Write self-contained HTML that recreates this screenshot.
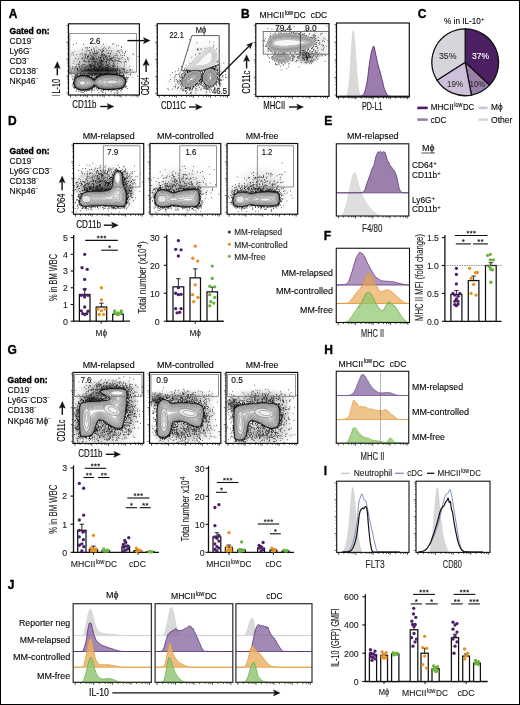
<!DOCTYPE html>
<html><head><meta charset="utf-8"><style>
html,body{margin:0;padding:0;background:#fff}
#fig{position:relative;width:518px;height:703px;border:1px solid #000;overflow:hidden;background:#fff}
svg{position:absolute;left:-1px;top:-1px;will-change:transform}
text{font-family:"Liberation Sans",sans-serif}
</style></head><body><div id="fig">
<svg width="520" height="705" viewBox="0 0 520 705">
<defs>
<filter id="bl1" x="-20%" y="-20%" width="140%" height="140%"><feGaussianBlur stdDeviation="1"/></filter>
<filter id="bl05" x="-20%" y="-20%" width="140%" height="140%"><feGaussianBlur stdDeviation=".5"/></filter>
<filter id="bl07" x="-20%" y="-20%" width="140%" height="140%"><feGaussianBlur stdDeviation=".7"/></filter>
<filter id="bl04" x="-20%" y="-20%" width="140%" height="140%"><feGaussianBlur stdDeviation=".4"/></filter>
<radialGradient id="gh"><stop offset="0" stop-color="#000" stop-opacity="1"/><stop offset=".3" stop-color="#000" stop-opacity=".76"/><stop offset=".5" stop-color="#000" stop-opacity=".47"/><stop offset=".7" stop-color="#000" stop-opacity=".23"/><stop offset=".85" stop-color="#000" stop-opacity=".08"/><stop offset="1" stop-color="#000" stop-opacity="0"/></radialGradient>
</defs>
<text x="8.7" y="17.6" font-size="12" font-weight="bold" fill="#000" stroke="#000" stroke-width=".35">A</text>
<text x="9.5" y="33.8" font-size="8.3" font-weight="bold" fill="#000" stroke="#000" stroke-width=".35" textLength="40" lengthAdjust="spacingAndGlyphs">Gated on:</text>
<text x="9.5" y="43.9" font-size="8.5" stroke="#111" stroke-width="0.12">CD19<tspan baseline-shift="4.3" font-size="4.8" fill="#555" stroke="#555">&#8722;</tspan></text>
<text x="9.5" y="53.9" font-size="8.5" stroke="#111" stroke-width="0.12">Ly6G<tspan baseline-shift="4.3" font-size="4.8" fill="#555" stroke="#555">&#8722;</tspan></text>
<text x="9.5" y="63.8" font-size="8.5" stroke="#111" stroke-width="0.12">CD3<tspan baseline-shift="4.3" font-size="4.8" fill="#555" stroke="#555">&#8722;</tspan></text>
<text x="9.5" y="73.9" font-size="8.5" stroke="#111" stroke-width="0.12">CD138<tspan baseline-shift="4.3" font-size="4.8" fill="#555" stroke="#555">&#8722;</tspan></text>
<text x="9.5" y="84" font-size="8.5" stroke="#111" stroke-width="0.12">NKp46<tspan baseline-shift="4.3" font-size="4.8" fill="#555" stroke="#555">&#8722;</tspan></text>
<clipPath id="cA1"><rect x="68.5" y="23.8" width="70.9" height="71.2"/></clipPath>
<g clip-path="url(#cA1)">
<ellipse cx="99" cy="71.5" rx="39" ry="7.8" fill="url(#gh)" fill-opacity="0.88"/>
<ellipse cx="99" cy="62" rx="36.4" ry="20.8" fill="url(#gh)" fill-opacity="0.48"/>
<path transform="scale(.25)" d="M362 171h3m-61 2h3m147 1h3m-125 3h3m78 0h3m33 0h3m-160 1h3m178 3h3m-12 2h3m-84 4h3m98 1h3m-2 0h3m-73 1h3m18 0h3m-82 1h3m-19 1h3m4 0h3m-5 1h3m23 0h3m58 1h3m-25 1h3m8 1h3m-50 1h3m-13 2h3m39 0h3m-82 1h3m63 0h3m86 0h3m-139 1h3m51 1h3m10 0h3m-66 1h3m9 0h3m46 0h3m23 0h3m-86 1h3m28 0h3m37 0h3m41 0h3m5 0h3m-105 1h3m-3 0h3m29 0h3m2 0h3m56 0h3m-177 1h3m107 0h3m33 0h3m40 0h3m11 1h3m-100 1h3m60 0h3m-127 1h3m40 0h3m112 0h3m-136 1h3m19 1h3m-106 1h3m1 0h3m65 0h3m-2 0h3m44 0h3m21 0h3m43 0h3m10 0h3m-118 1h3m-2 1h3m10 0h3m48 0h3m-117 1h3m46 0h3m2 0h3m49 0h3m61 0h3m-127 1h3m10 0h3m23 0h3m27 0h3m20 0h3m63 0h3m-176 1h3m26 0h3m-70 1h3m15 0h3m0 0h3m61 0h3m-103 1h3m64 0h3m35 0h3m-126 1h3m50 0h3m65 0h3m5 0h3m115 0h3m-243 1h3m32 0h3m13 0h3m19 0h3m13 0h3m31 0h3m61 0h3m-130 1h3m4 0h3m47 0h3m2 0h3m0 0h3m42 0h3m-89 1h3m78 0h3m28 0h3m4 0h3m-97 1h3m-1 0h3m17 0h3m42 0h3m-121 1h3m10 0h3m41 0h3m25 0h3m-98 1h3m75 0h3m11 0h3m2 0h3m-93 1h3m3 0h3m13 0h3m48 0h3m-1 0h3m125 0h3m-162 1h3m-27 1h3m11 0h3m-54 1h3m16 0h3m-3 0h3m19 0h3m29 0h3m5 0h3m12 0h3m22 0h3m0 0h3m-119 1h3m57 0h3m-2 0h3m9 0h3m-43 1h3m25 0h3m17 0h3m66 0h3m16 0h3m-162 1h3m11 0h3m3 0h3m3 0h3m21 0h3m12 0h3m26 0h3m1 0h3m1 0h3m8 0h3m50 0h3m-217 1h3m23 0h3m13 0h3m14 0h3m30 0h3m7 0h3m8 0h3m19 0h3m31 0h3m1 0h3m6 0h3m-116 1h3m12 0h3m37 0h3m15 0h3m0 0h3m-121 1h3m31 0h3m10 0h3m59 0h3m-129 1h3m23 0h3m32 0h3m9 0h3m41 0h3m7 0h3m34 0h3m31 0h3m-161 1h3m24 0h3m22 0h3m6 0h3m-53 1h3m2 0h3m-2 0h3m45 0h3m8 0h3m28 0h3m38 0h3m-128 1h3m-1 0h3m9 0h3m36 0h3m2 0h3m5 0h3m1 0h3m-92 1h3m11 0h3m24 0h3m44 0h3m66 0h3m-143 1h3m21 0h3m-1 0h3m46 0h3m9 0h3m-127 1h3m67 0h3m-3 0h3m2 0h3m15 0h3m6 0h3m27 0h3m-61 1h3m36 0h3m9 0h3m10 0h3m-181 1h3m36 0h3m21 0h3m33 0h3m3 0h3m-1 0h3m0 0h3m-2 0h3m-1 0h3m1 0h3m-34 1h3m-1 0h3m37 0h3m22 0h3m3 0h3m13 0h3m4 0h3m-135 1h3m4 0h3m0 0h3m7 0h3m13 0h3m23 0h3m-3 0h3m9 0h3m2 0h3m52 0h3m19 0h3m-187 1h3m17 0h3m2 0h3m29 0h3m-2 0h3m-1 0h3m4 0h3m69 0h3m-102 1h3m22 0h3m18 0h3m0 0h3m26 0h3m66 0h3m-138 1h3m2 0h3m2 0h3m12 0h3m5 0h3m1 0h3m26 0h3m45 0h3m11 0h3m-182 1h3m68 0h3m6 0h3m24 0h3m-13 1h3m-64 1h3m42 0h3m23 0h3m67 0h3m-207 1h3m75 0h3m80 0h3m-60 1h3m2 0h3m3 0h3m44 0h3m-92 1h3m9 0h3m3 0h3m4 0h3m45 0h3m29 0h3m-92 1h3m11 0h3m8 0h3m-1 0h3m-2 0h3m11 0h3m-114 1h3m0 0h3m-1 0h3m68 0h3m-1 0h3m66 0h3m-134 1h3m4 0h3m-2 0h3m17 0h3m2 0h3m11 0h3m16 0h3m9 0h3m22 0h3m-1 0h3m-78 1h3m3 0h3m13 0h3m23 0h3m3 0h3m84 0h3m-196 1h3m32 0h3m17 0h3m9 0h3m4 0h3m19 0h3m21 0h3m28 0h3m-95 1h3m2 0h3m27 0h3m10 0h3m6 0h3m26 0h3m-1 0h3m-181 1h3m92 0h3m-1 0h3m0 0h3m16 0h3m-1 0h3m28 0h3m0 0h3m-103 1h3m18 0h3m1 0h3m-1 0h3m0 0h3m0 0h3m34 0h3m-3 0h3m38 0h3m7 0h3m0 0h3m-143 1h3m9 0h3m19 0h3m58 0h3m20 0h3m-115 1h3m12 0h3m28 0h3m8 0h3m6 0h3m10 0h3m1 0h3m-1 0h3m46 0h3m-2 0h3m38 0h3m-196 1h3m58 0h3m10 0h3m14 0h3m40 0h3m20 0h3m6 0h3m-192 1h3m6 0h3m26 0h3m37 0h3m2 0h3m11 0h3m1 0h3m14 0h3m17 0h3m7 0h3m87 0h3m-204 1h3m25 0h3m-1 0h3m12 0h3m0 0h3m3 0h3m6 0h3m14 0h3m12 0h3m15 0h3m2 0h3m14 0h3m-153 1h3m20 0h3m13 0h3m12 0h3m13 0h3m3 0h3m-2 0h3m19 0h3m19 0h3m-90 1h3m46 0h3m7 0h3m1 0h3m0 0h3m4 0h3m-3 0h3m11 0h3m0 0h3m0 0h3m11 0h3m-151 1h3m65 0h3m17 0h3m-80 1h3m19 0h3m8 0h3m58 0h3m6 0h3m8 0h3m1 0h3m8 0h3m13 0h3m-166 1h3m18 0h3m64 0h3m11 0h3m6 0h3m5 0h3m0 0h3m3 0h3m16 0h3m16 0h3m13 0h3m18 0h3m-183 1h3m38 0h3m29 0h3m18 0h3m3 0h3m6 0h3m7 0h3m12 0h3m1 0h3m7 0h3m5 0h3m0 0h3m13 0h3m6 0h3m-218 1h3m5 0h3m8 0h3m9 0h3m51 0h3m8 0h3m12 0h3m13 0h3m11 0h3m9 0h3m1 0h3m-87 1h3m20 0h3m-3 0h3m-3 0h3m11 0h3m1 0h3m15 0h3m-2 0h3m13 0h3m0 0h3m35 0h3m-164 1h3m8 0h3m-2 0h3m12 0h3m13 0h3m12 0h3m5 0h3m0 0h3m7 0h3m-2 0h3m0 0h3m46 0h3m8 0h3m1 0h3m19 0h3m-171 1h3m23 0h3m14 0h3m-2 0h3m0 0h3m4 0h3m-3 0h3m24 0h3m13 0h3m40 0h3m6 0h3m0 0h3m-2 0h3m26 0h3m0 0h3m22 0h3m-196 1h3m13 0h3m13 0h3m1 0h3m17 0h3m7 0h3m12 0h3m-1 0h3m11 0h3m13 0h3m51 0h3m1 0h3m18 0h3m-223 1h3m43 0h3m-2 0h3m0 0h3m20 0h3m2 0h3m12 0h3m28 0h3m1 0h3m2 0h3m20 0h3m4 0h3m10 0h3m50 0h3m-190 1h3m4 0h3m9 0h3m4 0h3m10 0h3m1 0h3m4 0h3m12 0h3m10 0h3m-1 0h3m-1 0h3m0 0h3m-1 0h3m-1 0h3m-2 0h3m5 0h3m3 0h3m-3 0h3m3 0h3m10 0h3m1 0h3m49 0h3m-178 1h3m7 0h3m1 0h3m15 0h3m1 0h3m-2 0h3m23 0h3m1 0h3m5 0h3m17 0h3m-1 0h3m7 0h3m-2 0h3m5 0h3m-3 0h3m5 0h3m7 0h3m25 0h3m-232 1h3m4 0h3m21 0h3m22 0h3m13 0h3m49 0h3m14 0h3m4 0h3m2 0h3m4 0h3m38 0h3m-166 1h3m5 0h3m27 0h3m-1 0h3m27 0h3m5 0h3m1 0h3m-1 0h3m25 0h3m35 0h3m-144 1h3m2 0h3m10 0h3m-3 0h3m7 0h3m8 0h3m14 0h3m2 0h3m4 0h3m-1 0h3m2 0h3m0 0h3m1 0h3m-1 0h3m-2 0h3m-1 0h3m23 0h3m-3 0h3m2 0h3m6 0h3m2 0h3m2 0h3m-1 0h3m30 0h3m-170 1h3m-1 0h3m-2 0h3m2 0h3m19 0h3m7 0h3m2 0h3m2 0h3m-3 0h3m0 0h3m16 0h3m12 0h3m4 0h3m-2 0h3m-1 0h3m0 0h3m6 0h3m0 0h3m8 0h3m11 0h3m-103 1h3m0 0h3m13 0h3m1 0h3m9 0h3m-2 0h3m28 0h3m3 0h3m4 0h3m-2 0h3m-2 0h3m0 0h3m-3 0h3m7 0h3m14 0h3m-94 1h3m-3 0h3m6 0h3m0 0h3m7 0h3m10 0h3m5 0h3m-2 0h3m1 0h3m13 0h3m5 0h3m15 0h3m-198 1h3m34 0h3m2 0h3m6 0h3m20 0h3m1 0h3m3 0h3m2 0h3m22 0h3m3 0h3m17 0h3m0 0h3m1 0h3m25 0h3m-1 0h3m1 0h3m23 0h3m5 0h3m-178 1h3m28 0h3m9 0h3m1 0h3m18 0h3m-1 0h3m7 0h3m-3 0h3m-1 0h3m8 0h3m15 0h3m2 0h3m26 0h3m2 0h3m5 0h3m21 0h3m25 0h3m-259 1h3m-1 0h3m51 0h3m-2 0h3m19 0h3m-1 0h3m7 0h3m4 0h3m31 0h3m7 0h3m3 0h3m3 0h3m-3 0h3m5 0h3m2 0h3m0 0h3m-3 0h3m16 0h3m12 0h3m0 0h3m-3 0h3m23 0h3m-153 1h3m-2 0h3m11 0h3m3 0h3m-3 0h3m4 0h3m11 0h3m3 0h3m10 0h3m10 0h3m4 0h3m-159 1h3m7 0h3m9 0h3m10 0h3m30 0h3m4 0h3m4 0h3m2 0h3m2 0h3m15 0h3m6 0h3m6 0h3m6 0h3m-1 0h3m-3 0h3m1 0h3m-2 0h3m5 0h3m-2 0h3m8 0h3m13 0h3m-1 0h3m0 0h3m14 0h3m13 0h3m-218 1h3m95 0h3m0 0h3m7 0h3m19 0h3m-1 0h3m2 0h3m27 0h3m-1 0h3m5 0h3m5 0h3m-1 0h3m42 0h3m-247 1h3m27 0h3m8 0h3m0 0h3m11 0h3m-1 0h3m3 0h3m20 0h3m22 0h3m21 0h3m7 0h3m0 0h3m4 0h3m11 0h3m0 0h3m9 0h3m-3 0h3m-186 1h3m13 0h3m13 0h3m59 0h3m22 0h3m18 0h3m0 0h3m-3 0h3m0 0h3m8 0h3m1 0h3m1 0h3m15 0h3m1 0h3m-166 1h3m0 0h3m16 0h3m-1 0h3m3 0h3m8 0h3m15 0h3m9 0h3m1 0h3m-3 0h3m-1 0h3m10 0h3m2 0h3m9 0h3m5 0h3m23 0h3m-3 0h3m9 0h3m30 0h3m-2 0h3m-194 1h3m59 0h3m-2 0h3m-3 0h3m2 0h3m17 0h3m17 0h3m11 0h3m17 0h3m6 0h3m8 0h3m10 0h3m-157 1h3m0 0h3m51 0h3m17 0h3m-1 0h3m10 0h3m8 0h3m0 0h3m14 0h3m12 0h3m47 0h3m7 0h3m-224 1h3m22 0h3m21 0h3m2 0h3m-2 0h3m0 0h3m-1 0h3m36 0h3m0 0h3m-2 0h3m0 0h3m-3 0h3m11 0h3m2 0h3m1 0h3m-1 0h3m14 0h3m-1 0h3m-2 0h3m14 0h3m5 0h3m-2 0h3m0 0h3m36 0h3m-222 1h3m4 0h3m10 0h3m3 0h3m57 0h3m101 0h3m4 0h3m-197 1h3m25 0h3m3 0h3m-2 0h3m4 0h3m3 0h3m-2 0h3m13 0h3m3 0h3m17 0h3m2 0h3m1 0h3m81 0h3m0 0h3m-1 0h3m-189 1h3m-1 0h3m5 0h3m2 0h3m3 0h3m0 0h3m0 0h3m9 0h3m-1 0h3m28 0h3m6 0h3m5 0h3m0 0h3m0 0h3m88 0h3m-173 1h3m-1 0h3m-3 0h3m6 0h3m-2 0h3m6 0h3m1 0h3m2 0h3m9 0h3m23 0h3m84 0h3m2 0h3m-2 0h3m-3 0h3m-200 1h3m8 0h3m44 0h3m38 0h3m8 0h3m94 0h3m52 0h3m-204 1h3m0 0h3m3 0h3m26 0h3m-97 1h3m5 0h3m85 0h3m114 0h3m-207 1h3m-1 0h3m59 0h3m0 0h3m17 0h3m106 0h3m-199 1h3m62 0h3m11 0h3m4 0h3m-2 0h3m106 0h3m28 0h3m-232 1h3m62 0h3m9 0h3m3 0h3m0 0h3m1 0h3m101 0h3m-3 0h3m17 0h3m-211 1h3m60 0h3m124 0h3m-210 1h3m74 0h3m132 0h3m-2 0h3m1 0h3m-1 0h3m0 0h3m-3 0h3m-214 1h3m71 0h3m0 0h3m120 0h3m-3 0h3m-202 1h3m67 0h3m2 0h3m7 0h3m109 0h3m-210 2h3m3 0h3m81 0h3m115 0h3m-127 1h3m-6 1h3m6 0h3m117 0h3m2 0h3m-216 1h3m78 0h3m-1 0h3m-1 0h3m-2 0h3m-2 0h3m129 0h3m-10 2h3m-208 1h3m201 4h3m1 0h3m-214 2h3m-5 1h3m206 0h3m-3 1h3m-4 1h3m-211 1h3m204 1h3m-207 1h3m-7 1h3m-1 0h3m-9 1h3m4 0h3m0 2h3m75 2h3m-2 1h3m-89 1h3m3 0h3m81 0h3m114 0h3m-205 1h3m75 0h3m7 1h3m117 0h3m-220 1h3m5 0h3m80 0h3m4 0h3m112 0h3m-127 1h3m-3 0h3m120 0h3m-202 1h3m67 0h3m-2 0h3m120 0h3m-196 1h3m65 0h3m2 0h3m0 0h3m120 0h3m0 0h3m-210 1h3m1 0h3m1 0h3m70 0h3m7 0h3m-98 1h3m7 0h3m187 0h3m-191 1h3m60 0h3m1 0h3m109 0h3m9 0h3m-203 1h3m-1 0h3m66 0h3m13 0h3m8 0h3m-2 0h3m86 0h3m-188 1h3m8 0h3m48 0h3m31 0h3m-3 0h3m-3 0h3m1 0h3m-2 0h3m76 0h3m-122 1h3m4 0h3m-1 0h3m136 0h3m-154 1h3m10 0h3m13 0h3m3 0h3m14 0h3m41 0h3m15 0h3m2 0h3m3 0h3m-1 0h3m0 0h3m-2 0h3m-1 0h3m-180 1h3m47 0h3m28 0h3m49 0h3m26 0h3m-1 0h3m6 0h3m-182 1h3m6 0h3m3 0h3m25 0h3m4 0h3m7 0h3m7 0h3m15 0h3m21 0h3m-2 0h3m1 0h3m30 0h3m-148 1h3m2 0h3m-1 0h3m-2 0h3m0 0h3m-3 0h3m40 0h3m44 0h3m10 0h3m12 0h3m4 0h3m-1 0h3m20 0h3m11 0h3m-131 1h3m51 0h3m-3 0h3m5 0h3m6 0h3m2 0h3m-1 0h3m1 0h3m17 0h3m-158 1h3m12 0h3m3 0h3m6 0h3m1 0h3m13 0h3m11 0h3m42 0h3m29 0h3m0 0h3m6 0h3m-134 1h3m3 0h3m14 0h3m5 0h3m14 0h3m11 0h3m20 0h3m19 0h3m17 0h3m-116 1h3m-1 0h3m5 0h3m10 0h3m36 0h3m26 0h3m31 0h3m-1 0h3m9 0h3m-164 1h3m28 0h3m-40 1h3m-1 0h3m19 0h3m63 0h3m16 0h3m-100 1h3m10 0h3m4 0h3m95 0h3m-144 1h3m102 0h3m57 1h3m13 0h3m-120 1h3m74 0h3m-124 1h3m4 0h3m76 0h3m-78 1h3m58 0h3m17 0h3m46 0h3m5 1h3m-18 1h3m-38 2h3m45 0h3m-63 4h3" stroke="#111" stroke-width="3.2" fill="none"/>
<path d="M74.7 80.4L75.1 79.3L75.7 78.3L76.5 77.5L77.6 76.9L79.0 76.5L80.4 76.2L81.9 76.1L83.5 76.1L85.2 76.2L86.7 76.4L88.0 76.8L89.1 77.2L90.1 77.8L91.0 78.3L91.8 79.0L92.6 79.6L93.3 80.2L94.0 80.5L94.8 80.2L95.5 79.6L96.2 78.6L97.2 77.6L98.3 76.9L99.7 76.2L101.4 75.6L103.3 75.2L105.4 74.9L107.8 74.8L110.5 74.8L113.0 74.9L115.1 75.0L117.0 75.2L118.6 75.6L120.1 76.0L121.3 76.5L122.5 77.1L123.5 77.9L124.3 78.7L124.8 79.5L125.2 80.3L125.3 81.2L125.3 82.1L125.1 83.0L124.8 84.0L124.2 85.0L123.6 85.9L122.8 86.6L121.8 87.2L120.7 87.8L119.0 88.2L116.7 88.5L113.8 88.8L110.2 88.9L107.2 89.0L104.6 88.9L102.5 88.8L100.8 88.4L99.3 88.0L98.0 87.4L96.9 86.6L95.9 85.6L95.0 85.2L94.0 85.3L93.0 85.9L92.0 86.9L90.7 87.8L89.2 88.5L87.3 89.0L85.2 89.3L83.2 89.5L81.5 89.4L79.9 89.1L78.6 88.7L77.4 88.2L76.5 87.5L75.8 86.9L75.2 86.1L74.9 85.4L74.6 84.7L74.4 83.9L74.3 83.2L74.3 82.4L74.5 81.5Z" fill="none" stroke="#000" stroke-width="2" opacity="0.9" filter="url(#bl04)"/>
<path d="M74.7 80.4L75.1 79.3L75.7 78.3L76.5 77.5L77.6 76.9L79.0 76.5L80.4 76.2L81.9 76.1L83.5 76.1L85.2 76.2L86.7 76.4L88.0 76.8L89.1 77.2L90.1 77.8L91.0 78.3L91.8 79.0L92.6 79.6L93.3 80.2L94.0 80.5L94.8 80.2L95.5 79.6L96.2 78.6L97.2 77.6L98.3 76.9L99.7 76.2L101.4 75.6L103.3 75.2L105.4 74.9L107.8 74.8L110.5 74.8L113.0 74.9L115.1 75.0L117.0 75.2L118.6 75.6L120.1 76.0L121.3 76.5L122.5 77.1L123.5 77.9L124.3 78.7L124.8 79.5L125.2 80.3L125.3 81.2L125.3 82.1L125.1 83.0L124.8 84.0L124.2 85.0L123.6 85.9L122.8 86.6L121.8 87.2L120.7 87.8L119.0 88.2L116.7 88.5L113.8 88.8L110.2 88.9L107.2 89.0L104.6 88.9L102.5 88.8L100.8 88.4L99.3 88.0L98.0 87.4L96.9 86.6L95.9 85.6L95.0 85.2L94.0 85.3L93.0 85.9L92.0 86.9L90.7 87.8L89.2 88.5L87.3 89.0L85.2 89.3L83.2 89.5L81.5 89.4L79.9 89.1L78.6 88.7L77.4 88.2L76.5 87.5L75.8 86.9L75.2 86.1L74.9 85.4L74.6 84.7L74.4 83.9L74.3 83.2L74.3 82.4L74.5 81.5Z" fill="#9c9c9c" stroke="#1a1a1a" stroke-width="0.8"/>
<path d="M85.5 88.4L84.5 88.8L83.5 88.8L82.5 88.8L81.5 88.8L80.5 88.3L79.5 88.3L78.5 87.8L77.5 87.3L76.9 86.8L76.4 86.3L75.9 85.3L75.4 84.3L75.0 83.3L75.0 82.3L75.5 81.3L75.5 80.3L76.0 79.3L76.5 78.7L77.0 78.2L78.0 77.7L79.0 77.3L80.0 77.3L81.0 76.8L82.0 76.8L83.0 76.8L84.0 76.8L85.0 76.8L86.0 77.3L87.0 77.3L88.0 77.7L89.0 78.2L90.0 78.7L90.5 79.2L91.5 79.7L92.0 80.2L92.5 80.7L93.5 81.2L94.5 81.3L95.4 80.8L95.9 80.3L96.4 79.8L96.9 79.3L97.5 78.7L98.0 78.2L98.5 77.7L99.5 77.2L100.5 76.8L101.5 76.3L102.5 76.3L103.5 75.8L104.5 75.8L105.5 75.8L106.5 75.8L107.5 75.8L108.5 75.3L109.5 75.3L110.5 75.7L111.5 75.8L112.5 75.8L113.5 75.8L114.5 75.8L115.5 75.8L116.5 75.8L117.5 76.3L118.5 76.3L119.5 76.8L120.5 77.2L121.5 77.7L122.5 78.2L123.0 78.7L123.5 79.2L124.0 79.8L124.5 80.8L124.5 81.8L124.1 82.8L124.0 83.8L123.5 84.8L123.0 85.4L122.5 85.9L121.5 86.4L120.5 86.8L119.5 87.3L118.5 87.3L117.5 87.8L116.5 87.8L115.5 87.8L114.5 87.8L113.5 87.8L112.5 87.9L111.5 88.3L110.5 88.3L109.5 88.3L108.5 88.3L107.5 88.3L106.5 88.3L105.5 88.3L104.5 88.3L103.5 87.9L102.5 87.8L101.5 87.8L100.5 87.4L99.5 87.3L98.5 86.8L97.9 86.3L97.4 85.8L96.9 85.3L96.0 84.8L95.0 84.3L94.0 84.3L93.1 84.8L92.6 85.3L92.1 85.8L91.6 86.3L91.0 86.8L90.0 87.3L89.0 87.8L88.0 87.9L87.0 88.3L86.0 88.3Z" fill="#b2b2b2" stroke="#444" stroke-width=".55"/>
<path d="M85.5 87.4L84.5 87.8L83.5 87.8L82.5 87.8L81.5 87.6L80.5 87.3L79.5 87.1L78.9 86.8L78.0 86.4L77.5 86.0L77.0 85.4L76.7 84.8L76.4 84.3L76.0 83.3L76.2 82.3L76.5 81.3L76.7 80.3L77.0 79.7L77.5 79.1L78.0 78.7L79.0 78.3L80.0 78.3L81.0 78.0L82.0 77.8L83.0 77.8L84.0 77.8L85.0 78.0L86.0 78.3L87.0 78.3L88.0 78.7L88.5 79.0L89.1 79.3L89.7 79.8L90.5 80.2L91.0 80.6L91.5 81.1L92.0 81.5L92.6 81.8L93.5 82.2L94.5 82.3L95.5 82.0L96.0 81.6L96.5 81.1L97.0 80.6L97.5 80.1L98.0 79.5L98.5 79.1L99.0 78.6L99.5 78.2L100.5 77.8L101.5 77.5L102.5 77.3L103.5 77.0L104.5 76.8L105.5 76.8L106.5 76.8L107.5 76.8L108.5 76.5L109.5 76.3L110.5 76.7L111.5 76.8L112.5 76.8L113.5 76.8L114.5 76.8L115.5 76.8L116.5 77.0L117.5 77.3L118.5 77.5L119.5 77.8L120.5 78.2L121.0 78.5L121.6 78.8L122.2 79.3L122.7 79.8L123.1 80.3L123.5 81.3L123.3 82.3L123.0 83.3L122.6 84.3L122.2 84.8L121.6 85.3L121.0 85.6L120.0 85.9L119.0 86.3L118.0 86.4L117.0 86.8L116.0 86.8L115.0 86.8L114.0 86.8L113.0 86.8L112.0 87.1L111.0 87.3L110.0 87.3L109.0 87.3L108.0 87.3L107.0 87.3L106.0 87.3L105.0 87.3L104.0 87.1L103.0 86.8L102.0 86.8L101.0 86.6L100.0 86.3L99.0 85.9L98.5 85.5L98.0 85.0L97.5 84.5L97.0 84.1L96.4 83.8L95.5 83.4L94.5 83.3L93.5 83.4L92.7 83.8L92.2 84.3L91.7 84.8L91.2 85.3L90.6 85.8L90.0 86.1L89.5 86.4L88.5 86.8L87.5 87.1L86.5 87.3L85.5 87.4Z" fill="#c6c6c6" stroke="#555" stroke-width=".55"/>
<path d="M112.5 85.8L111.5 86.2L110.5 86.3L109.5 86.3L108.5 86.3L107.5 86.3L106.5 86.3L105.5 86.3L104.5 86.2L103.5 85.8L102.5 85.8L101.5 85.7L100.5 85.3L100.0 85.2L99.3 84.8L98.7 84.3L98.2 83.8L97.6 83.3L97.0 83.0L96.7 82.3L97.2 81.8L97.7 81.3L98.2 80.8L98.6 80.3L99.2 79.8L99.8 79.3L100.5 78.9L101.0 78.8L102.0 78.4L103.0 78.3L104.0 77.9L105.0 77.8L106.0 77.8L107.0 77.8L108.0 77.8L109.0 77.4L110.0 77.6L111.0 77.8L112.0 77.8L113.0 77.8L114.0 77.8L115.0 77.8L116.0 77.9L117.0 78.3L118.0 78.4L119.0 78.8L119.5 78.9L120.3 79.3L121.0 79.6L121.5 80.0L122.0 80.6L122.4 81.3L122.2 82.3L122.0 83.0L121.7 83.8L121.2 84.3L120.5 84.7L120.0 84.8L119.0 85.2L118.0 85.3L117.0 85.7L116.0 85.8L115.0 85.8L114.0 85.8L113.0 85.8ZM85.5 86.3L84.5 86.7L83.5 86.8L82.5 86.8L81.5 86.5L80.5 86.3L79.5 86.0L79.0 85.7L78.3 85.3L77.8 84.8L77.5 84.1L77.1 83.3L77.3 82.3L77.5 81.3L77.8 80.3L78.3 79.8L79.0 79.4L80.0 79.3L81.0 79.1L82.0 78.8L83.0 78.8L84.0 78.8L85.0 79.1L86.0 79.3L87.0 79.4L87.8 79.8L88.5 80.1L89.0 80.5L89.5 80.9L90.2 81.3L90.8 81.8L91.4 82.3L92.0 82.6L92.0 83.0L91.5 83.6L91.0 84.1L90.5 84.6L90.0 85.0L89.3 85.3L88.5 85.7L88.0 85.8L87.0 86.2L86.0 86.3Z" fill="#d8d8d8" stroke="#606060" stroke-width=".55"/>
<path d="M112.5 84.8L111.5 85.1L110.5 85.3L109.5 85.3L108.5 85.3L107.5 85.3L106.5 85.3L105.5 85.3L104.5 85.1L103.5 84.8L102.5 84.8L101.5 84.6L100.5 84.3L100.0 84.1L99.5 83.7L99.0 83.2L98.5 82.7L98.5 81.9L99.0 81.4L99.5 80.9L100.0 80.4L100.5 80.0L101.0 79.8L102.0 79.5L103.0 79.3L104.0 79.0L105.0 78.8L106.0 78.8L107.0 78.8L108.0 78.8L109.0 78.5L110.0 78.7L111.0 78.8L112.0 78.8L113.0 78.8L114.0 78.8L115.0 78.8L116.0 79.0L117.0 79.3L118.0 79.5L119.0 79.8L119.5 80.0L120.1 80.3L120.9 80.8L121.3 81.3L121.1 82.3L121.0 82.9L120.5 83.6L120.0 83.8L119.0 84.1L118.0 84.3L117.0 84.6L116.0 84.8L115.0 84.8L114.0 84.8L113.0 84.8ZM85.5 85.3L84.5 85.6L83.5 85.8L82.5 85.8L81.5 85.4L80.5 85.3L79.5 84.8L79.0 84.6L78.5 83.9L78.2 83.3L78.4 82.3L78.5 81.3L79.0 80.5L80.0 80.3L81.0 80.2L82.0 79.8L83.0 79.8L84.0 79.8L85.0 80.2L86.0 80.3L87.0 80.5L87.6 80.8L88.4 81.3L89.0 81.8L89.5 82.0L90.0 82.4L90.4 83.3L89.9 83.8L89.1 84.3L88.5 84.6L88.0 84.8L87.0 85.1L86.0 85.3Z" fill="#e6e6e6" stroke="#6a6a6a" stroke-width=".55"/>
<path d="M112.5 83.8L111.5 84.0L110.5 84.3L109.5 84.3L108.5 84.3L107.5 84.3L106.5 84.3L105.5 84.3L104.5 84.0L103.5 83.8L102.5 83.8L101.5 83.5L100.7 83.3L100.1 82.8L99.6 82.3L100.5 81.4L101.0 80.9L101.5 80.7L102.5 80.4L103.0 80.3L104.0 80.1L105.0 79.8L106.0 79.8L107.0 79.8L108.0 79.8L109.0 79.6L110.0 79.7L111.0 79.8L112.0 79.8L113.0 79.8L114.0 79.8L115.0 79.8L116.0 80.1L117.0 80.3L117.5 80.4L118.5 80.7L119.0 80.9L119.8 81.3L120.2 81.8L120.0 82.6L119.5 82.9L118.5 83.2L118.0 83.3L117.0 83.5L116.0 83.8L115.0 83.8L114.0 83.8L113.0 83.8ZM85.5 84.3L84.5 84.5L83.5 84.8L82.5 84.7L81.5 84.4L80.9 84.3L80.0 84.0L79.5 83.6L79.3 82.8L79.5 81.8L80.0 81.3L81.0 81.2L82.0 80.9L83.0 80.8L84.0 80.9L85.0 81.2L86.0 81.3L87.0 81.6L87.5 81.9L88.5 82.6L88.8 83.3L88.0 83.7L87.5 83.9L86.5 84.2L85.5 84.3Z" fill="#f0f0f0" stroke="#777" stroke-width=".55"/>
<path d="M112.5 82.8L111.5 83.0L110.5 83.3L109.5 83.3L108.5 83.3L107.5 83.3L106.5 83.3L105.5 83.3L104.5 83.0L103.5 82.8L102.5 82.8L101.5 82.5L101.0 82.3L101.5 81.8L102.0 81.6L102.9 81.3L103.5 81.2L104.5 81.0L105.5 80.8L106.5 80.8L107.5 80.8L108.5 80.7L109.5 80.6L110.5 80.8L111.5 80.8L112.5 80.8L113.5 80.8L114.5 80.8L115.5 81.0L116.5 81.2L117.1 81.3L118.0 81.6L118.6 81.8L118.1 82.3L117.5 82.4L116.5 82.6L115.5 82.8L114.5 82.8L113.5 82.8L112.5 82.8ZM85.5 83.3L84.5 83.5L83.5 83.8L82.5 83.6L81.5 83.4L80.9 83.3L80.3 82.8L80.5 82.3L81.5 82.1L82.5 81.8L83.5 81.8L84.5 82.1L85.5 82.3L86.5 82.5L87.0 82.8L86.5 83.1L85.5 83.3Z" fill="#f6f6f6" stroke="#777" stroke-width=".55"/>
<ellipse cx="82.5" cy="83" rx="3.2" ry="2.2" fill="#e6e6e6" stroke="#666" stroke-width=".5"/>
<ellipse cx="112" cy="82" rx="6" ry="2" fill="#e0e0e0" stroke="#666" stroke-width=".5"/>
</g>
<path d="M68.5 93h-2.2M68.5 87.91h-1.2M68.5 82.82h-1.2M68.5 79.84h-1.2M68.5 77.73h-1.2M68.5 76.09h-2.2M68.5 71h-1.2M68.5 65.91h-1.2M68.5 62.93h-1.2M68.5 60.82h-1.2M68.5 59.18h-2.2M68.5 54.09h-1.2M68.5 49h-1.2M68.5 46.02h-1.2M68.5 43.91h-1.2M68.5 42.27h-2.2M68.5 37.18h-1.2M68.5 32.09h-1.2M68.5 29.11h-1.2M68.5 27h-1.2M68.5 25.36h-2.2" stroke="#111" stroke-width=".6" fill="none"/>
<path d="M70.5 95v2.4M75.57 95v1.5M80.64 95v1.5M83.6 95v1.5M85.71 95v1.5M87.34 95v2.4M92.41 95v1.5M97.48 95v1.5M100.44 95v1.5M102.55 95v1.5M104.18 95v2.4M109.25 95v1.5M114.32 95v1.5M117.28 95v1.5M119.38 95v1.5M121.02 95v2.4M126.09 95v1.5M131.15 95v1.5M134.12 95v1.5M136.22 95v1.5M137.86 95v2.4" stroke="#111" stroke-width=".75" fill="none"/>
<rect x="68.5" y="23.8" width="70.9" height="71.2" fill="none" stroke="#111" stroke-width="1.2"/>
<rect x="69.8" y="33.5" width="66.7" height="38.6" fill="none" stroke="#777" stroke-width="0.8"/>
<text x="89.4" y="44.2" font-size="8.3" stroke="#111" stroke-width="0.12" textLength="11" lengthAdjust="spacingAndGlyphs">2.6</text>
<line x1="127.4" y1="40.6" x2="144.6" y2="40.6" stroke="#111" stroke-width="1.4"/>
<path d="M150.2 40.6L143.4 43.7L144.6 40.6L143.4 37.5Z" fill="#111" stroke="#111" stroke-width=".3" stroke-linejoin="round"/>
<text x="59.8" y="96" font-size="10.2" stroke="#111" stroke-width="0.12" textLength="1.6" lengthAdjust="spacingAndGlyphs" transform="rotate(-90 59.8 96)">I</text>
<text x="59.8" y="93.6" font-size="10.2" stroke="#111" stroke-width="0.12" textLength="14.8" lengthAdjust="spacingAndGlyphs" transform="rotate(-90 59.8 93.6)">L-10</text>
<line x1="57.3" y1="75.2" x2="57.3" y2="67.2" stroke="#111" stroke-width="1.4"/>
<path d="M57.3 61.6L60.4 68.4L57.3 67.2L54.2 68.4Z" fill="#111" stroke="#111" stroke-width=".3" stroke-linejoin="round"/>
<text x="72.2" y="107.8" font-size="10.2" stroke="#111" stroke-width="0.12" textLength="24.2" lengthAdjust="spacingAndGlyphs">CD11b</text>
<line x1="100.2" y1="106.5" x2="108.4" y2="106.5" stroke="#111" stroke-width="1.4"/>
<path d="M114 106.5L107.2 109.6L108.4 106.5L107.2 103.4Z" fill="#111" stroke="#111" stroke-width=".3" stroke-linejoin="round"/>
<clipPath id="cA2"><rect x="157.3" y="23.7" width="71.7" height="71.7"/></clipPath>
<g clip-path="url(#cA2)">
<ellipse cx="205" cy="58" rx="26" ry="23.4" fill="url(#gh)" fill-opacity="0.08"/>
<ellipse cx="192" cy="84" rx="31.2" ry="15.6" fill="url(#gh)" fill-opacity="0.1"/>
<path transform="scale(.25)" d="M756 159h3m77 9h3m15 1h3m-71 2h3m65 9h3m-5 7h3m-37 6h3m-31 1h3m10 1h3m58 1h3m-79 2h3m11 0h3m111 0h3m-130 1h3m0 0h3m-45 1h3m123 3h3m-49 2h3m7 3h3m-20 4h3m-28 2h3m-3 0h3m39 1h3m-15 3h3m-51 1h3m56 3h3m-35 2h3m35 3h3m-6 2h3m-79 1h3m55 0h3m11 1h3m2 0h3m-50 1h3m15 0h3m2 0h3m-11 3h3m-10 1h3m-23 1h3m65 1h3m2 1h3m-30 1h3m41 0h3m-46 3h3m11 0h3m-68 1h3m8 0h3m42 0h3m-60 2h3m57 1h3m25 0h3m0 0h3m-6 1h3m-101 1h3m61 0h3m-49 1h3m41 0h3m60 2h3m-139 1h3m57 0h3m8 0h3m-3 0h3m18 0h3m-42 1h3m15 0h3m44 0h3m-80 2h3m35 0h3m9 1h3m-17 1h3m-37 1h3m27 0h3m8 0h3m-102 2h3m45 0h3m41 0h3m0 0h3m4 0h3m26 0h3m-61 1h3m-3 0h3m25 0h3m13 0h3m-88 1h3m45 0h3m20 0h3m-77 1h3m48 1h3m22 0h3m-78 1h3m86 0h3m-140 1h3m65 0h3m6 0h3m5 0h3m22 0h3m-1 0h3m21 0h3m-137 1h3m33 0h3m17 0h3m8 0h3m3 0h3m26 0h3m21 0h3m2 0h3m5 0h3m6 0h3m-126 1h3m15 0h3m34 0h3m0 0h3m5 0h3m19 0h3m-90 1h3m42 0h3m46 0h3m-1 0h3m11 0h3m-56 1h3m0 0h3m27 0h3m25 0h3m-133 1h3m15 0h3m3 0h3m4 0h3m-2 0h3m28 0h3m11 0h3m24 0h3m-2 0h3m3 0h3m4 0h3m49 0h3m-64 1h3m0 0h3m11 0h3m8 0h3m-108 1h3m0 0h3m33 0h3m9 0h3m11 0h3m2 0h3m1 0h3m-1 0h3m0 0h3m2 0h3m-148 1h3m22 0h3m14 0h3m10 0h3m26 0h3m23 0h3m-3 0h3m20 0h3m5 0h3m5 0h3m-2 0h3m-67 1h3m10 0h3m-2 0h3m12 0h3m25 0h3m3 0h3m-81 1h3m-2 0h3m2 0h3m26 0h3m10 0h3m22 0h3m-1 0h3m7 0h3m-122 1h3m15 0h3m1 0h3m6 0h3m-1 0h3m-2 0h3m24 0h3m12 0h3m2 0h3m41 0h3m-132 1h3m2 0h3m22 0h3m4 0h3m-3 0h3m14 0h3m10 0h3m5 0h3m-1 0h3m33 0h3m-138 1h3m10 0h3m43 0h3m20 0h3m2 0h3m9 0h3m32 0h3m6 0h3m1 0h3m-128 1h3m0 0h3m21 0h3m-2 0h3m10 0h3m-2 0h3m5 0h3m14 0h3m42 0h3m-2 0h3m3 0h3m-1 0h3m-123 1h3m3 0h3m-2 0h3m-3 0h3m0 0h3m12 0h3m3 0h3m-3 0h3m4 0h3m6 0h3m7 0h3m11 0h3m37 0h3m11 0h3m-163 1h3m155 0h3m3 0h3m-137 1h3m12 0h3m35 0h3m-2 0h3m-1 0h3m-1 0h3m1 0h3m53 0h3m-101 1h3m-3 0h3m31 0h3m6 0h3m11 0h3m-2 0h3m-3 0h3m60 0h3m-142 1h3m4 0h3m3 0h3m6 0h3m31 0h3m14 0h3m49 0h3m29 0h3m-203 1h3m30 0h3m-1 0h3m11 0h3m4 0h3m-1 0h3m-3 0h3m-40 1h3m23 0h3m-1 0h3m-2 0h3m-3 0h3m1 0h3m-1 0h3m104 0h3m-120 1h3m-1 0h3m-2 0h3m-2 0h3m48 0h3m13 0h3m54 0h3m-189 1h3m46 0h3m68 0h3m4 0h3m52 0h3m14 0h3m-73 1h3m55 0h3m-11 1h3m5 0h3m-160 1h3m12 0h3m2 0h3m1 0h3m69 0h3m-77 1h3m69 0h3m-86 1h3m79 0h3m54 0h3m-156 1h3m86 0h3m-1 0h3m6 0h3m51 0h3m1 0h3m-149 1h3m73 0h3m2 0h3m3 0h3m-3 0h3m-113 1h3m4 0h3m12 0h3m12 0h3m126 0h3m6 0h3m-146 1h3m-1 0h3m126 0h3m4 0h3m23 0h3m-224 1h3m18 0h3m28 0h3m79 0h3m-92 1h3m83 0h3m-78 1h3m69 0h3m80 0h3m-177 1h3m17 0h3m67 0h3m3 0h3m-3 0h3m-9 1h3m66 0h3m11 0h3m-174 1h3m16 0h3m-13 1h3m8 0h3m62 0h3m-1 0h3m-1 0h3m0 0h3m-114 1h3m24 0h3m76 0h3m106 0h3m-199 1h3m12 0h3m136 0h3m11 0h3m2 0h3m-85 1h3m57 0h3m29 0h3m-174 1h3m73 0h3m-2 0h3m59 0h3m31 0h3m-211 1h3m25 0h3m1 0h3m-3 0h3m-10 1h3m85 0h3m0 0h3m-85 1h3m2 0h3m131 0h3m-141 1h3m74 0h3m56 0h3m9 0h3m-77 1h3m0 0h3m62 0h3m-144 1h3m66 0h3m1 0h3m67 0h3m1 0h3m-80 1h3m-1 0h3m60 0h3m-189 1h3m116 0h3m-2 0h3m-2 0h3m1 0h3m1 0h3m55 0h3m4 0h3m6 0h3m-188 1h3m3 0h3m19 0h3m72 0h3m87 0h3m-177 1h3m7 0h3m143 0h3m-2 0h3m-1 0h3m-2 0h3m-1 0h3m-161 2h3m5 0h3m63 0h3m-1 0h3m-2 0h3m6 0h3m75 0h3m-179 1h3m84 0h3m4 0h3m2 0h3m-2 0h3m61 0h3m5 0h3m-164 1h3m5 0h3m75 0h3m56 0h3m-193 1h3m18 0h3m15 0h3m10 0h3m65 0h3m71 0h3m-151 1h3m85 0h3m-88 1h3m73 0h3m9 0h3m-1 0h3m50 0h3m7 0h3m-171 1h3m-3 0h3m5 0h3m75 0h3m-1 0h3m1 0h3m11 0h3m47 0h3m-3 0h3m3 0h3m3 0h3m-65 1h3m-17 1h3m59 0h3m-5 1h3m10 0h3m-71 1h3m-90 1h3m2 0h3m62 0h3m-2 0h3m23 0h3m-1 0h3m-2 0h3m39 0h3m9 0h3m2 0h3m-1 0h3m-157 1h3m60 0h3m26 0h3m-109 1h3m70 0h3m-3 0h3m7 0h3m-2 0h3m23 0h3m34 0h3m-78 1h3m16 0h3m7 0h3m4 0h3m1 0h3m28 0h3m-1 0h3m4 0h3m10 0h3m-152 1h3m60 0h3m21 0h3m45 0h3m-3 0h3m16 0h3m-183 1h3m75 0h3m3 0h3m11 0h3m17 0h3m-1 0h3m-103 1h3m-3 0h3m54 0h3m1 0h3m35 0h3m-3 0h3m28 0h3m-6 1h3m5 0h3m-131 1h3m49 0h3m8 0h3m-3 0h3m30 0h3m0 0h3m-1 0h3m-53 1h3m-2 0h3m31 0h3m4 0h3m12 0h3m13 0h3m-48 1h3m20 0h3m19 0h3m8 0h3m14 0h3m-111 1h3m49 0h3m4 0h3m-134 1h3m21 0h3m5 0h3m36 0h3m73 0h3m0 0h3m-159 1h3m88 0h3m31 0h3m2 0h3m13 0h3m-2 0h3m1 0h3m-73 1h3m37 0h3m7 0h3m7 0h3m-128 1h3m26 0h3m2 0h3m2 0h3m7 0h3m5 0h3m0 0h3m-1 0h3m56 0h3m-92 1h3m2 0h3m0 0h3m43 0h3m27 0h3m5 0h3m0 0h3m17 0h3m10 0h3m-161 1h3m26 0h3m5 0h3m9 0h3m80 0h3m10 0h3m-161 1h3m51 0h3m-2 0h3m62 0h3m2 0h3m7 0h3m-113 1h3m-1 0h3m12 0h3m-2 0h3m14 0h3m5 0h3m10 0h3m47 0h3m-100 1h3m2 0h3m72 0h3m60 0h3m-210 1h3m35 0h3m28 0h3m-1 0h3m0 0h3m-2 0h3m7 0h3m2 0h3m4 0h3m-2 0h3m12 0h3m83 0h3m-150 1h3m25 0h3m4 0h3m54 0h3m8 0h3m0 0h3m-71 1h3m40 0h3m17 0h3m23 0h3m12 0h3m-179 1h3m58 0h3m6 1h3m-32 1h3m37 0h3m30 0h3m-131 1h3m55 0h3m22 0h3m5 0h3m19 0h3m54 0h3m-117 1h3m6 0h3m17 0h3m18 0h3m75 0h3m7 0h3m-137 2h3m7 0h3m97 0h3m-11 1h3m-99 1h3m-1 0h3m78 2h3m-1 2h3m11 0h3m-96 1h3m14 0h3m-4 2h3m-2 0h3m16 0h3m-41 2h3m11 0h3m106 2h3m6 2h3m-116 2h3m55 0h3m-43 2h3" stroke="#111" stroke-width="3.2" fill="none"/>
<path d="M200.3 72.7L200.5 73.1L200.6 73.5L200.7 74.0L200.8 74.4L200.9 74.9L200.8 75.4L200.8 75.9L200.7 76.4L200.6 77.0L200.4 77.5L200.2 78.1L200.0 78.6L199.7 79.2L199.4 79.7L199.0 80.2L198.7 80.8L198.2 81.3L197.8 81.8L197.3 82.3L196.9 82.8L196.3 83.3L195.8 83.7L195.3 84.2L194.7 84.6L194.1 85.0L193.5 85.3L192.9 85.7L192.3 86.0L191.7 86.2L191.1 86.5L190.5 86.7L189.9 86.8L189.3 87.0L188.7 87.1L188.1 87.1L187.5 87.2L187.0 87.2L186.5 87.1L186.0 87.0L185.5 86.9L185.0 86.8L184.6 86.6L184.2 86.4L183.8 86.1L183.5 85.9L183.2 85.6L182.9 85.2L182.7 84.9L182.5 84.5L182.4 84.1L182.3 83.6L182.2 83.2L182.1 82.7L182.2 82.2L182.2 81.7L182.3 81.2L182.4 80.6L182.6 80.1L182.8 79.5L183.0 79.0L183.3 78.4L183.6 77.9L184.0 77.4L184.3 76.8L184.8 76.3L185.2 75.8L185.7 75.3L186.1 74.8L186.7 74.3L187.2 73.9L187.7 73.4L188.3 73.0L188.9 72.6L189.5 72.3L190.1 71.9L190.7 71.6L191.3 71.4L191.9 71.1L192.5 70.9L193.1 70.8L193.7 70.6L194.3 70.5L194.9 70.5L195.5 70.4L196.0 70.4L196.5 70.5L197.0 70.6L197.5 70.7L198.0 70.8L198.4 71.0L198.8 71.2L199.2 71.5L199.5 71.7L199.8 72.0L200.1 72.4ZM216.7 79.0L216.6 79.5L216.4 80.0L216.2 80.5L216.0 81.0L215.8 81.5L215.5 81.9L215.2 82.4L214.9 82.8L214.6 83.2L214.2 83.5L213.9 83.9L213.5 84.2L213.1 84.5L212.6 84.7L212.2 84.9L211.8 85.1L211.3 85.3L210.9 85.4L210.4 85.5L210.0 85.5L209.5 85.5L209.1 85.5L208.6 85.4L208.2 85.3L207.7 85.2L207.3 85.0L206.9 84.8L206.5 84.6L206.1 84.3L205.7 84.0L205.4 83.7L205.1 83.3L204.7 83.0L204.5 82.6L204.2 82.1L203.9 81.7L203.7 81.2L203.5 80.7L203.4 80.2L203.3 79.7L203.2 79.2L203.1 78.7L203.0 78.1L203.0 77.6L203.0 77.0L203.1 76.5L203.2 76.0L203.3 75.4L203.4 74.9L203.6 74.4L203.8 73.9L204.0 73.4L204.2 72.9L204.5 72.5L204.8 72.0L205.1 71.6L205.4 71.2L205.8 70.9L206.1 70.5L206.5 70.2L206.9 69.9L207.4 69.7L207.8 69.5L208.2 69.3L208.7 69.1L209.1 69.0L209.6 68.9L210.0 68.9L210.5 68.9L210.9 68.9L211.4 69.0L211.8 69.1L212.3 69.2L212.7 69.4L213.1 69.6L213.5 69.8L213.9 70.1L214.3 70.4L214.6 70.7L214.9 71.1L215.3 71.4L215.5 71.8L215.8 72.3L216.1 72.7L216.3 73.2L216.5 73.7L216.6 74.2L216.7 74.7L216.8 75.2L216.9 75.7L217.0 76.3L217.0 76.8L217.0 77.4L216.9 77.9L216.8 78.4Z" fill="none" stroke="#000" stroke-width="1" opacity="0.35" filter="url(#bl04)"/>
<path d="M200.3 72.7L200.5 73.1L200.6 73.5L200.7 74.0L200.8 74.4L200.9 74.9L200.8 75.4L200.8 75.9L200.7 76.4L200.6 77.0L200.4 77.5L200.2 78.1L200.0 78.6L199.7 79.2L199.4 79.7L199.0 80.2L198.7 80.8L198.2 81.3L197.8 81.8L197.3 82.3L196.9 82.8L196.3 83.3L195.8 83.7L195.3 84.2L194.7 84.6L194.1 85.0L193.5 85.3L192.9 85.7L192.3 86.0L191.7 86.2L191.1 86.5L190.5 86.7L189.9 86.8L189.3 87.0L188.7 87.1L188.1 87.1L187.5 87.2L187.0 87.2L186.5 87.1L186.0 87.0L185.5 86.9L185.0 86.8L184.6 86.6L184.2 86.4L183.8 86.1L183.5 85.9L183.2 85.6L182.9 85.2L182.7 84.9L182.5 84.5L182.4 84.1L182.3 83.6L182.2 83.2L182.1 82.7L182.2 82.2L182.2 81.7L182.3 81.2L182.4 80.6L182.6 80.1L182.8 79.5L183.0 79.0L183.3 78.4L183.6 77.9L184.0 77.4L184.3 76.8L184.8 76.3L185.2 75.8L185.7 75.3L186.1 74.8L186.7 74.3L187.2 73.9L187.7 73.4L188.3 73.0L188.9 72.6L189.5 72.3L190.1 71.9L190.7 71.6L191.3 71.4L191.9 71.1L192.5 70.9L193.1 70.8L193.7 70.6L194.3 70.5L194.9 70.5L195.5 70.4L196.0 70.4L196.5 70.5L197.0 70.6L197.5 70.7L198.0 70.8L198.4 71.0L198.8 71.2L199.2 71.5L199.5 71.7L199.8 72.0L200.1 72.4ZM216.7 79.0L216.6 79.5L216.4 80.0L216.2 80.5L216.0 81.0L215.8 81.5L215.5 81.9L215.2 82.4L214.9 82.8L214.6 83.2L214.2 83.5L213.9 83.9L213.5 84.2L213.1 84.5L212.6 84.7L212.2 84.9L211.8 85.1L211.3 85.3L210.9 85.4L210.4 85.5L210.0 85.5L209.5 85.5L209.1 85.5L208.6 85.4L208.2 85.3L207.7 85.2L207.3 85.0L206.9 84.8L206.5 84.6L206.1 84.3L205.7 84.0L205.4 83.7L205.1 83.3L204.7 83.0L204.5 82.6L204.2 82.1L203.9 81.7L203.7 81.2L203.5 80.7L203.4 80.2L203.3 79.7L203.2 79.2L203.1 78.7L203.0 78.1L203.0 77.6L203.0 77.0L203.1 76.5L203.2 76.0L203.3 75.4L203.4 74.9L203.6 74.4L203.8 73.9L204.0 73.4L204.2 72.9L204.5 72.5L204.8 72.0L205.1 71.6L205.4 71.2L205.8 70.9L206.1 70.5L206.5 70.2L206.9 69.9L207.4 69.7L207.8 69.5L208.2 69.3L208.7 69.1L209.1 69.0L209.6 68.9L210.0 68.9L210.5 68.9L210.9 68.9L211.4 69.0L211.8 69.1L212.3 69.2L212.7 69.4L213.1 69.6L213.5 69.8L213.9 70.1L214.3 70.4L214.6 70.7L214.9 71.1L215.3 71.4L215.5 71.8L215.8 72.3L216.1 72.7L216.3 73.2L216.5 73.7L216.6 74.2L216.7 74.7L216.8 75.2L216.9 75.7L217.0 76.3L217.0 76.8L217.0 77.4L216.9 77.9L216.8 78.4Z" fill="#cfcfcf" stroke="#555" stroke-width="0.6"/>
<path d="M211.3 84.3L210.3 84.7L209.3 84.7L208.3 84.7L207.3 84.2L206.7 83.7L206.2 83.2L205.7 82.7L205.2 82.2L204.7 81.2L204.3 80.2L203.8 79.2L203.8 78.2L203.8 77.2L203.8 76.2L204.3 75.2L204.7 74.2L205.2 73.2L205.7 72.2L206.2 71.7L206.7 71.2L207.3 70.7L208.3 70.2L209.3 69.7L210.3 69.7L211.3 69.7L212.3 70.2L213.3 70.6L213.8 71.1L214.3 71.6L214.8 72.2L215.3 73.2L215.8 74.2L215.9 75.2L216.3 76.2L216.3 77.2L215.9 78.2L215.8 79.2L215.4 80.2L214.9 81.2L214.4 82.2L213.9 82.7L213.4 83.2L212.8 83.7L211.8 84.2ZM190.3 85.8L189.3 86.2L188.3 86.2L187.3 86.2L186.3 86.2L185.3 85.8L184.3 85.3L183.8 84.8L183.3 84.2L182.8 83.2L182.8 82.2L183.2 81.2L183.3 80.2L183.8 79.2L184.3 78.2L184.8 77.6L185.3 77.1L185.8 76.2L186.3 75.6L186.8 75.1L187.8 74.6L188.3 74.1L189.3 73.6L189.8 73.1L190.8 72.6L191.8 72.1L192.8 71.7L193.8 71.6L194.8 71.2L195.8 71.2L196.8 71.2L197.8 71.7L198.8 72.2L199.4 73.2L199.8 74.2L200.3 75.2L199.8 76.2L199.8 77.2L199.3 78.2L198.8 79.2L198.3 79.8L197.8 80.7L197.3 81.3L196.8 81.8L196.3 82.3L195.8 82.8L194.8 83.3L194.3 83.8L193.3 84.3L192.8 84.8L191.8 85.2L190.8 85.7Z" fill="#c4c4c4" stroke="#777" stroke-width=".55"/>
<path d="M211.3 83.3L210.3 83.7L209.3 83.7L208.3 83.5L207.7 83.2L207.1 82.7L206.6 82.2L206.1 81.7L205.7 81.2L205.3 80.2L205.0 79.2L204.8 78.2L204.8 77.2L205.0 76.2L205.3 75.2L205.7 74.2L206.0 73.7L206.3 73.1L206.8 72.5L207.3 72.0L207.8 71.6L208.7 71.2L209.3 70.9L210.3 70.7L211.3 70.9L212.3 71.2L213.0 71.7L213.5 72.2L213.9 72.7L214.3 73.6L214.6 74.2L214.9 75.2L215.3 76.2L215.3 77.2L214.9 78.2L214.8 79.2L214.4 80.2L214.1 80.7L213.8 81.3L213.3 81.9L212.8 82.4L212.3 82.8L211.4 83.2ZM190.3 84.8L189.3 85.2L188.3 85.2L187.3 85.2L186.3 85.2L185.3 84.8L184.8 84.4L184.3 83.8L184.0 83.2L183.8 82.2L184.2 81.2L184.5 80.2L184.8 79.6L185.2 78.7L185.6 78.2L186.1 77.7L186.5 77.2L186.8 76.6L187.3 76.0L187.8 75.6L188.6 75.2L189.2 74.7L189.8 74.4L190.3 74.0L190.8 73.6L191.7 73.2L192.3 72.9L193.3 72.7L194.3 72.4L195.3 72.2L196.3 72.2L197.3 72.6L197.8 72.9L198.4 73.2L198.8 74.2L199.1 75.2L198.8 76.2L198.6 77.2L198.3 77.8L197.9 78.7L197.5 79.2L197.1 79.7L196.8 80.3L196.3 80.9L195.8 81.4L195.3 81.9L194.8 82.3L194.0 82.7L193.4 83.2L192.8 83.5L192.3 83.9L191.3 84.3L190.4 84.7Z" fill="#bdbdbd" stroke="#666" stroke-width=".55"/>
<path d="M210.8 82.4L209.8 82.7L208.8 82.6L208.1 82.2L207.5 81.7L207.0 81.2L206.6 80.7L206.3 79.9L206.1 79.2L205.8 78.2L205.8 77.2L206.1 76.2L206.3 75.5L206.6 74.7L206.9 74.2L207.3 73.5L207.8 72.9L208.3 72.5L209.0 72.2L209.8 71.8L210.8 71.8L211.8 72.2L212.3 72.4L212.8 73.0L213.2 73.7L213.5 74.2L213.8 75.0L214.0 75.7L214.3 76.7L214.0 77.7L213.8 78.7L213.5 79.7L213.2 80.2L212.8 80.9L212.3 81.5L211.8 81.9L211.1 82.2ZM189.8 83.9L188.8 84.2L187.8 84.2L186.8 84.2L185.8 83.9L185.3 83.4L184.9 82.7L185.1 81.7L185.3 81.0L185.6 80.2L185.9 79.7L186.3 79.0L186.8 78.4L187.3 77.8L187.6 77.2L188.1 76.7L188.8 76.3L189.3 75.9L189.8 75.5L190.4 75.2L191.1 74.7L191.8 74.3L192.3 74.0L193.3 73.7L194.3 73.5L195.3 73.2L196.3 73.3L197.1 73.7L197.7 74.2L197.8 74.7L197.8 75.7L197.7 76.7L197.3 77.5L197.0 78.2L196.6 78.7L196.2 79.2L195.8 79.9L195.3 80.5L194.8 81.0L194.3 81.4L193.7 81.7L193.0 82.2L192.3 82.6L191.8 83.0L191.3 83.2L190.3 83.6L189.8 83.9Z" fill="#c8c8c8" stroke="#555" stroke-width=".55"/>
<path d="M210.8 81.2L209.8 81.7L208.8 81.5L208.3 81.1L207.8 80.6L207.3 79.8L207.2 79.2L206.8 78.2L206.8 77.2L207.2 76.2L207.3 75.6L207.8 74.7L208.0 74.2L208.4 73.7L209.2 73.2L209.8 72.9L210.8 72.9L211.6 73.2L212.1 73.7L212.3 74.2L212.8 75.1L212.9 75.7L213.3 76.7L212.9 77.7L212.8 78.7L212.3 79.7L212.1 80.2L211.7 80.7L210.9 81.2ZM189.8 82.7L188.8 83.2L187.8 83.2L186.8 83.2L186.0 82.7L186.2 81.7L186.3 81.1L186.8 80.2L187.0 79.7L187.4 79.2L187.9 78.7L188.3 78.1L188.8 77.4L189.3 77.2L189.9 76.7L190.7 76.2L191.3 75.8L191.8 75.4L192.3 75.2L193.3 74.7L194.3 74.6L195.3 74.2L196.3 74.4L196.8 74.7L196.8 75.7L196.6 76.7L196.3 77.3L195.8 78.1L195.3 78.7L195.1 79.2L194.7 79.7L194.2 80.2L193.4 80.7L192.8 81.1L192.3 81.5L191.8 81.7L191.1 82.2L190.3 82.5L189.8 82.7Z" fill="#d8d8d8" stroke="#555" stroke-width=".55"/>
<path d="M210.3 80.4L209.3 80.6L208.8 80.1L208.3 79.5L208.1 78.7L207.8 77.7L208.1 76.7L208.3 75.9L208.6 75.2L208.9 74.7L209.5 74.2L210.3 73.8L211.2 74.2L211.5 74.7L211.8 75.4L212.0 76.2L212.0 77.2L211.8 78.2L211.7 78.7L211.3 79.5L210.8 80.1L210.3 80.4ZM189.3 81.9L188.3 82.2L187.3 82.2L187.3 81.4L187.6 80.7L187.9 80.2L188.4 79.7L189.1 78.7L189.5 78.2L190.3 77.7L191.0 77.2L191.8 76.7L192.5 76.2L193.3 75.8L193.8 75.7L194.8 75.5L195.8 75.6L195.8 75.8L195.5 76.7L195.2 77.2L194.5 78.2L194.2 78.7L193.7 79.2L193.1 79.7L192.3 80.2L191.6 80.7L190.8 81.2L189.8 81.6L189.3 81.9Z" fill="#e8e8e8" stroke="#666" stroke-width=".55"/>
<path d="M210.3 79.2L209.3 79.2L209.1 78.7L208.8 77.7L209.1 76.7L209.3 76.1L209.8 75.2L210.3 74.9L210.8 75.6L211.0 76.2L211.0 77.2L210.8 78.2L210.6 78.7L210.3 79.2ZM189.3 80.7L188.8 80.7L189.3 80.2L189.7 79.7L190.0 79.2L190.6 78.7L191.3 78.2L191.8 77.9L192.3 77.6L192.8 77.2L193.7 76.7L194.3 76.7L194.3 76.7L193.8 77.4L193.3 78.2L192.8 78.7L192.3 79.0L191.8 79.3L191.3 79.7L190.5 80.2L189.8 80.5L189.3 80.7Z" fill="#f4f4f4" stroke="#666" stroke-width=".55"/>
<ellipse cx="191.5" cy="79" rx="2.2" ry="1.4" fill="#f0f0f0" stroke="#666" stroke-width=".5" transform="rotate(-38 191.5 79)"/>
<ellipse cx="210.3" cy="78" rx="1.4" ry="2.4" fill="#eeeeee" stroke="#555" stroke-width=".5" transform="rotate(8 210.3 78)"/>
</g>
<clipPath id="cA2b"><rect x="157.3" y="23.7" width="71.7" height="71.7"/></clipPath>
<g clip-path="url(#cA2b)">
<path d="M186.6 67.4L188.4 65.6L190.2 63.8L192.1 61.9L194.0 60.0L196.0 58.0L197.9 56.1L199.8 54.3L201.6 52.6L203.4 50.9L205.1 49.6L206.7 48.5L208.2 47.8L209.8 47.2L211.2 47.2L212.5 47.5L213.7 48.2L214.8 49.3L215.7 50.7L216.3 52.4L216.7 54.4L216.8 56.6L216.7 58.8L216.2 60.8L215.5 62.6L214.5 64.4L213.2 65.9L211.6 67.2L209.6 68.3L207.4 69.2L204.4 69.8L200.8 70.2L196.5 70.3L191.5 70.2L188.2 69.7L186.6 68.7Z" fill="#f4f4f4" stroke="#a0a0a0" stroke-width="0.5"/>
<path d="M199.8 69.5L198.8 69.5L197.8 69.5L196.8 69.5L195.8 69.5L194.8 69.5L193.8 69.5L192.8 69.5L192.3 69.1L191.3 69.0L190.3 69.0L189.3 69.0L188.8 68.6L187.9 68.2L187.5 67.7L187.9 67.2L188.4 66.7L188.9 66.2L189.4 65.7L189.9 65.2L190.4 64.7L190.9 64.2L191.4 63.7L191.9 63.2L192.4 62.7L192.9 62.2L193.4 61.7L193.9 61.2L194.4 60.7L194.9 60.2L195.4 59.7L195.9 59.2L196.8 58.8L197.3 58.3L197.8 57.8L198.3 57.3L198.8 56.8L199.3 56.3L199.8 55.8L200.3 55.3L200.8 54.8L201.3 54.3L201.8 53.8L202.3 53.3L202.8 52.8L203.3 52.3L203.8 51.8L204.3 51.4L204.9 51.2L205.4 50.7L205.9 50.2L206.8 49.8L207.3 49.4L207.9 49.2L208.8 48.8L209.3 48.4L210.3 48.4L211.3 48.3L212.3 48.4L212.8 48.8L213.3 49.3L213.8 49.8L214.3 50.3L214.7 51.2L215.1 51.7L215.2 52.7L215.6 53.2L215.6 54.2L215.6 55.2L215.6 56.2L215.6 57.2L215.6 58.2L215.6 59.2L215.3 60.1L215.1 60.7L214.8 61.6L214.6 62.2L214.2 62.7L213.8 63.6L213.3 64.1L212.8 64.6L212.6 65.2L211.8 65.6L211.3 66.1L210.8 66.5L210.2 66.7L209.7 67.2L208.8 67.5L208.2 67.7L207.3 68.1L206.8 68.5L205.8 68.5L204.8 68.6L204.3 69.0L203.3 69.0L202.3 69.0L201.3 69.0L200.3 69.1L199.8 69.5Z" fill="#efefef" stroke="#aaa" stroke-width=".55"/>
<path d="M199.3 68.3L198.3 68.3L197.3 68.3L196.3 68.3L195.3 68.3L194.3 68.3L193.3 68.3L192.8 68.0L191.8 67.8L190.8 67.8L189.8 67.8L189.7 67.2L190.2 66.7L190.7 66.2L191.2 65.7L191.7 65.2L192.2 64.7L192.7 64.2L193.2 63.7L193.7 63.2L194.2 62.7L194.7 62.2L195.2 61.7L195.7 61.2L196.2 60.7L196.7 60.2L197.3 59.9L197.8 59.6L198.3 59.1L198.8 58.6L199.3 58.1L199.8 57.6L200.3 57.1L200.8 56.6L201.3 56.1L201.8 55.6L202.3 55.1L202.8 54.6L203.3 54.1L203.8 53.6L204.3 53.1L204.8 52.6L205.6 52.2L206.2 51.7L206.7 51.2L207.3 50.9L207.8 50.6L208.6 50.2L209.3 49.9L209.8 49.6L210.8 49.5L211.8 49.6L212.3 50.1L212.8 50.6L213.3 51.1L213.6 51.7L213.9 52.2L214.1 53.2L214.4 53.7L214.4 54.7L214.4 55.7L214.5 56.7L214.4 57.7L214.4 58.7L214.3 59.4L214.0 60.2L213.8 60.9L213.4 61.7L213.1 62.2L212.8 62.8L212.3 63.3L211.8 63.9L211.3 64.5L210.8 64.8L210.3 65.3L209.5 65.7L208.9 66.2L208.3 66.4L207.5 66.7L206.8 67.0L206.3 67.3L205.3 67.3L204.3 67.5L203.8 67.8L202.8 67.8L201.8 67.8L200.8 67.8L199.8 68.0L199.3 68.3Z" fill="#ebebeb" stroke="#a0a0a0" stroke-width=".55"/>
<path d="M199.8 66.7L198.8 67.1L197.8 67.1L196.8 67.1L195.8 67.1L194.8 67.1L193.8 67.1L192.8 66.7L192.4 66.2L192.9 65.7L193.4 65.2L193.9 64.7L194.4 64.2L194.9 63.7L195.4 63.2L195.9 62.7L196.4 62.2L196.9 61.7L197.4 61.2L198.3 60.7L198.8 60.3L199.3 59.8L199.8 59.3L200.3 58.8L200.8 58.3L201.3 57.8L201.8 57.3L202.3 56.8L202.8 56.3L203.3 55.8L203.8 55.3L204.3 54.8L204.8 54.3L205.3 53.8L205.8 53.5L206.3 53.2L206.9 52.7L207.4 52.2L208.3 51.7L208.8 51.5L209.3 51.2L210.3 50.8L211.3 50.8L211.8 51.3L212.3 51.8L212.7 52.7L212.8 53.2L213.2 54.2L213.2 55.2L213.2 56.2L213.2 57.2L213.2 58.2L213.0 59.2L212.8 59.9L212.5 60.7L212.3 61.2L211.8 62.1L211.3 62.6L210.8 63.2L210.3 63.7L209.8 64.1L209.3 64.4L208.8 64.7L208.0 65.2L207.3 65.4L206.8 65.7L205.8 66.1L204.8 66.1L204.3 66.2L203.3 66.6L202.3 66.6L201.3 66.6L200.3 66.6L199.8 66.7Z" fill="#f0f0f0" stroke="#a0a0a0" stroke-width=".55"/>
<path d="M198.8 65.8L197.8 65.9L196.8 65.9L195.8 65.9L194.8 65.9L194.8 65.5L195.3 65.0L195.8 64.5L196.3 64.0L196.8 63.5L197.3 63.0L197.8 62.5L198.3 62.1L198.9 61.7L199.6 61.2L200.1 60.7L200.6 60.2L201.1 59.7L201.6 59.2L202.1 58.7L202.6 58.2L203.1 57.7L203.6 57.2L204.1 56.7L204.6 56.2L205.1 55.7L205.6 55.2L206.1 54.7L206.8 54.3L207.3 53.9L207.8 53.5L208.3 53.1L209.0 52.7L209.8 52.3L210.3 52.1L211.0 52.2L211.4 52.7L211.7 53.7L211.9 54.2L212.0 55.2L212.0 56.2L212.0 57.2L212.0 58.2L211.8 59.0L211.6 59.7L211.3 60.5L210.9 61.2L210.5 61.7L210.1 62.2L209.7 62.7L209.0 63.2L208.3 63.6L207.8 64.0L207.1 64.2L206.3 64.6L205.8 64.8L204.8 64.9L203.8 65.1L203.3 65.3L202.3 65.4L201.3 65.4L200.3 65.4L199.3 65.6L198.8 65.8Z" fill="#f8f8f8" stroke="#aaa" stroke-width=".55"/>
</g>
<path d="M157.3 93.4h-2.2M157.3 88.27h-1.2M157.3 83.15h-1.2M157.3 80.15h-1.2M157.3 78.02h-1.2M157.3 76.37h-2.2M157.3 71.25h-1.2M157.3 66.12h-1.2M157.3 63.12h-1.2M157.3 60.99h-1.2M157.3 59.34h-2.2M157.3 54.22h-1.2M157.3 49.09h-1.2M157.3 46.09h-1.2M157.3 43.96h-1.2M157.3 42.31h-2.2M157.3 37.19h-1.2M157.3 32.06h-1.2M157.3 29.06h-1.2M157.3 26.94h-1.2M157.3 25.29h-2.2" stroke="#111" stroke-width=".6" fill="none"/>
<path d="M159.3 95.4v2.4M164.43 95.4v1.5M169.55 95.4v1.5M172.55 95.4v1.5M174.68 95.4v1.5M176.33 95.4v2.4M181.45 95.4v1.5M186.58 95.4v1.5M189.58 95.4v1.5M191.71 95.4v1.5M193.36 95.4v2.4M198.48 95.4v1.5M203.61 95.4v1.5M206.61 95.4v1.5M208.74 95.4v1.5M210.39 95.4v2.4M215.51 95.4v1.5M220.64 95.4v1.5M223.64 95.4v1.5M225.76 95.4v1.5M227.41 95.4v2.4" stroke="#111" stroke-width=".75" fill="none"/>
<rect x="157.3" y="23.7" width="71.7" height="71.7" fill="none" stroke="#111" stroke-width="1.2"/>
<path d="M191.9 35.6L219.2 35.6L219.2 64.4L202.5 70.4L181.3 70.4Z" fill="none" stroke="#333" stroke-width=".8"/>
<path d="M219.5 86.5L219.6 64.6L202.6 70.8L201.3 84.6L205.8 89.2L211.8 89.2" fill="none" stroke="#333" stroke-width=".8"/>
<text x="169.4" y="37.8" font-size="8.3" stroke="#111" stroke-width="0.12" textLength="14.4" lengthAdjust="spacingAndGlyphs">22.1</text>
<text x="195.8" y="33.4" font-size="8.3" stroke="#111" stroke-width="0.12" textLength="10.5" lengthAdjust="spacingAndGlyphs">M&#981;</text>
<rect x="211.6" y="88.4" width="16" height="6.4" fill="#fff" stroke="none" stroke-width="0"/>
<text x="212" y="93.8" font-size="8.3" stroke="#111" stroke-width="0.12" textLength="15" lengthAdjust="spacingAndGlyphs">46.5</text>
<text x="149" y="95.3" font-size="10.2" stroke="#111" stroke-width="0.12" textLength="18.3" lengthAdjust="spacingAndGlyphs" transform="rotate(-90 149 95.3)">CD64</text>
<line x1="146.1" y1="71.9" x2="146.1" y2="64.4" stroke="#111" stroke-width="1.4"/>
<path d="M146.1 58.8L149.2 65.6L146.1 64.4L143 65.6Z" fill="#111" stroke="#111" stroke-width=".3" stroke-linejoin="round"/>
<text x="161" y="109.3" font-size="10.2" stroke="#111" stroke-width="0.12" textLength="24.9" lengthAdjust="spacingAndGlyphs">CD11C</text>
<line x1="189" y1="107" x2="196.7" y2="107" stroke="#111" stroke-width="1.4"/>
<path d="M202.3 107L195.5 110.1L196.7 107L195.5 103.9Z" fill="#111" stroke="#111" stroke-width=".3" stroke-linejoin="round"/>
<line x1="218.8" y1="76.5" x2="249.21" y2="46" stroke="#111" stroke-width="1.2"/>
<path d="M252.6 42.6L250.28 48.76L249.21 46L246.45 44.94Z" fill="#111" stroke="#111" stroke-width=".3" stroke-linejoin="round"/>
<text x="241" y="18.2" font-size="12" font-weight="bold" fill="#000" stroke="#000" stroke-width=".35">B</text>
<text x="259.6" y="18.2" font-size="9" stroke="#111" stroke-width="0.12" textLength="24.49" lengthAdjust="spacingAndGlyphs">MHCII</text>
<text x="284.64" y="14.96" font-size="6.3" stroke="#111" stroke-width="0.12" textLength="8.59" lengthAdjust="spacingAndGlyphs">low</text>
<text x="293.79" y="18.2" font-size="9" stroke="#111" stroke-width="0.12" textLength="12.01" lengthAdjust="spacingAndGlyphs">DC</text>
<text x="310.7" y="18.2" font-size="9" stroke="#111" stroke-width="0.12" textLength="16.6" lengthAdjust="spacingAndGlyphs">cDC</text>
<clipPath id="cB1"><rect x="255.8" y="23.6" width="73.2" height="72.8"/></clipPath>
<g clip-path="url(#cB1)">
<ellipse cx="306" cy="57" rx="15.6" ry="9.1" fill="url(#gh)" fill-opacity="0.4"/>
<ellipse cx="318" cy="45" rx="15.6" ry="20.8" fill="url(#gh)" fill-opacity="0.1"/>
<path transform="scale(.25)" d="M1306 104h3m-49 2h3m-88 1h3m-21 6h3m-90 1h3m44 2h3m-34 1h3m17 0h3m56 0h3m-23 1h3m74 0h3m-87 2h3m93 0h3m-127 3h3m20 0h3m79 0h3m-106 2h3m24 0h3m52 0h3m-98 1h3m50 0h3m19 0h3m48 0h3m-41 3h3m-18 1h3m-76 1h3m11 0h3m6 0h3m40 0h3m-1 0h3m33 0h3m-69 1h3m5 0h3m8 0h3m-1 0h3m17 0h3m-100 1h3m40 0h3m51 0h3m4 0h3m-73 1h3m61 0h3m13 0h3m17 0h3m18 0h3m44 0h3m1 0h3m-189 1h3m21 0h3m64 0h3m0 0h3m-111 1h3m125 0h3m-123 1h3m96 0h3m-1 0h3m9 0h3m46 0h3m-52 1h3m24 0h3m-24 1h3m64 0h3m-190 1h3m113 0h3m40 0h3m-39 1h3m33 0h3m-176 1h3m139 0h3m37 0h3m-42 1h3m-1 0h3m19 0h3m5 0h3m-26 2h3m25 0h3m-180 2h3m168 0h3m-176 1h3m-6 1h3m-2 0h3m160 0h3m12 0h3m-17 1h3m0 0h3m22 0h3m-23 1h3m0 1h3m35 0h3m-49 1h3m13 0h3m-5 1h3m-203 1h3m186 0h3m47 1h3m-228 1h3m179 0h3m-1 3h3m-205 1h3m203 0h3m2 0h3m21 0h3m-244 1h3m218 0h3m0 0h3m-4 1h3m34 0h3m-55 1h3m28 1h3m5 1h3m-241 1h3m197 1h3m-194 1h3m-2 0h3m193 1h3m9 1h3m-6 2h3m-14 3h3m-200 1h3m193 0h3m-10 1h3m4 0h3m13 0h3m-215 1h3m218 0h3m-238 2h3m237 1h3m-3 0h3m-232 2h3m-6 1h3m190 0h3m-2 0h3m9 0h3m21 0h3m12 0h3m-245 1h3m197 0h3m-3 0h3m-195 4h3m176 0h3m16 1h3m23 0h3m-50 1h3m18 1h3m-201 1h3m0 0h3m155 0h3m11 0h3m-176 1h3m-2 0h3m167 0h3m-15 1h3m58 0h3m-63 1h3m19 0h3m-181 1h3m140 0h3m7 0h3m19 0h3m31 0h3m-78 2h3m3 0h3m-150 1h3m8 0h3m127 0h3m-1 0h3m3 0h3m-17 1h3m21 0h3m30 0h3m26 0h3m-220 1h3m128 0h3m-1 0h3m-1 0h3m27 0h3m12 0h3m13 0h3m-191 1h3m136 1h3m12 0h3m-154 1h3m102 0h3m18 0h3m-160 1h3m14 0h3m24 0h3m-2 0h3m116 0h3m28 0h3m8 0h3m-167 1h3m4 0h3m91 0h3m1 0h3m22 0h3m17 0h3m-90 1h3m0 0h3m16 0h3m26 0h3m4 0h3m9 0h3m-144 1h3m21 0h3m18 0h3m1 0h3m37 0h3m16 0h3m18 0h3m47 0h3m-145 1h3m10 0h3m61 0h3m2 0h3m3 0h3m8 0h3m38 0h3m-44 1h3m-3 0h3m4 0h3m9 0h3m13 0h3m-163 1h3m0 0h3m28 0h3m24 0h3m58 0h3m1 0h3m5 0h3m-2 0h3m38 0h3m-58 1h3m-3 0h3m27 0h3m-158 1h3m37 0h3m71 0h3m-1 0h3m-5 1h3m17 0h3m-46 1h3m6 0h3m18 0h3m4 0h3m9 0h3m28 0h3m15 0h3m-67 1h3m19 0h3m-151 1h3m101 0h3m0 0h3m6 0h3m22 0h3m33 0h3m22 0h3m-133 1h3m-3 0h3m66 0h3m16 0h3m-58 1h3m8 0h3m-1 1h3m5 0h3m3 0h3m4 0h3m64 0h3m-234 1h3m21 0h3m76 0h3m43 0h3m2 0h3m28 0h3m11 0h3m12 0h3m2 0h3m-119 1h3m59 0h3m1 0h3m20 0h3m11 0h3m-188 1h3m74 0h3m-1 0h3m6 0h3m15 0h3m27 0h3m38 1h3m-82 1h3m1 0h3m28 0h3m-2 0h3m0 0h3m6 0h3m2 0h3m-3 0h3m-170 1h3m8 0h3m1 0h3m-3 0h3m117 0h3m2 0h3m11 0h3m17 0h3m-78 1h3m0 0h3m44 0h3m7 0h3m11 0h3m-40 1h3m5 0h3m1 0h3m4 0h3m6 0h3m23 0h3m-78 1h3m6 0h3m9 0h3m33 0h3m-162 1h3m81 0h3m18 0h3m32 0h3m-1 0h3m-2 0h3m-157 1h3m7 0h3m122 0h3m11 0h3m-59 1h3m-3 1h3m40 0h3m13 0h3m-2 0h3m38 0h3m-44 1h3m-15 1h3m6 1h3m-141 1h3m80 0h3m-3 0h3m48 0h3m28 0h3m6 0h3m-57 1h3m4 0h3m37 0h3m-89 1h3m18 0h3m9 0h3m10 0h3m8 0h3m15 0h3m-62 1h3m-26 1h3m65 0h3m5 0h3m-145 1h3m67 0h3m59 0h3m17 0h3m-10 1h3m-2 1h3m54 0h3m-123 1h3m61 0h3m3 0h3m-175 1h3m104 0h3m44 0h3m-84 1h3m65 0h3m5 0h3m-103 1h3m75 0h3m-70 1h3m82 0h3m17 0h3m-132 1h3m108 0h3m9 1h3m-139 1h3m23 0h3m-11 1h3m19 0h3m14 0h3m85 0h3m-95 1h3m-55 1h3m0 1h3m0 1h3m4 0h3m14 0h3m-1 1h3m-16 5h3m30 2h3m39 1h3m-52 7h3m-26 4h3" stroke="#111" stroke-width="3.2" fill="none"/>
<path d="M267.6 41.6L268.1 39.9L269.0 38.5L270.2 37.2L271.6 36.2L273.4 35.3L275.4 34.6L277.8 34.1L280.5 33.7L283.5 33.5L286.5 33.4L289.5 33.5L292.5 33.6L295.5 33.9L298.4 34.3L301.1 34.7L303.8 35.3L306.2 36.0L308.5 36.7L310.4 37.6L312.1 38.5L313.4 39.5L314.3 40.6L314.7 41.8L314.6 43.1L313.9 44.4L312.8 45.7L311.3 46.8L309.2 47.9L306.8 48.8L304.1 49.6L301.2 50.4L298.1 51.0L294.9 51.5L291.6 51.9L288.2 52.2L284.8 52.3L281.2 52.3L278.2 52.1L275.6 51.8L273.4 51.2L271.6 50.6L270.2 49.7L269.0 48.6L268.1 47.4L267.6 46.1L267.3 44.6L267.3 43.1ZM273.1 55.8L273.9 55.0L275.1 54.4L276.9 53.9L279.1 53.7L281.9 53.6L284.3 53.7L286.4 54.1L288.2 54.6L289.8 55.4L290.8 56.2L291.2 57.2L291.2 58.4L290.8 59.6L289.7 60.7L288.1 61.5L285.9 62.1L283.1 62.4L280.7 62.6L278.7 62.4L276.9 62.1L275.6 61.4L274.4 60.8L273.6 60.0L272.9 59.2L272.6 58.3L272.5 57.5L272.7 56.6Z" fill="#d8d8d8" stroke="#777" stroke-width="0.5"/>
<path d="M288.3 51.7L287.3 51.7L286.3 51.7L285.3 51.7L284.3 51.7L283.3 51.7L282.3 51.7L281.3 51.7L280.3 51.7L279.3 51.7L278.6 51.6L277.8 51.2L276.8 51.2L275.8 51.2L275.3 50.9L274.3 50.7L273.6 50.6L272.8 50.2L272.1 50.1L271.5 49.6L270.8 49.2L270.3 48.9L269.8 48.4L269.3 47.9L268.8 47.3L268.5 46.6L268.2 46.1L268.2 45.1L267.8 44.3L267.7 43.6L268.0 43.1L268.2 42.1L268.3 41.4L268.7 40.6L269.0 40.1L269.3 39.4L269.8 38.8L270.3 38.3L270.8 37.8L271.3 37.3L271.8 36.8L272.3 36.5L273.1 36.1L273.8 36.0L274.6 35.6L275.3 35.5L276.1 35.1L276.8 35.0L277.8 34.8L278.3 34.5L279.3 34.5L280.3 34.5L281.3 34.5L282.3 34.3L282.8 34.0L283.8 34.0L284.8 34.0L285.8 34.0L286.8 34.0L287.8 34.0L288.8 34.0L289.8 34.0L290.8 34.0L291.5 34.1L292.3 34.5L293.3 34.5L294.3 34.5L295.3 34.5L296.3 34.5L296.8 34.8L297.8 35.0L298.8 35.0L299.8 35.0L300.3 35.3L301.3 35.5L302.0 35.6L302.8 36.0L303.8 36.0L304.5 36.1L305.3 36.5L306.0 36.6L306.8 37.0L307.5 37.1L308.3 37.5L308.8 37.8L309.8 38.0L310.3 38.3L311.0 38.6L311.6 39.1L312.3 39.5L312.8 39.8L313.3 40.3L313.8 40.9L313.9 41.6L313.9 42.6L313.8 43.3L313.3 43.9L312.9 44.6L312.6 45.1L312.0 45.6L311.3 45.9L310.8 46.2L310.1 46.6L309.5 47.1L308.8 47.2L308.0 47.6L307.3 47.9L306.8 48.2L305.8 48.4L305.3 48.7L304.3 48.7L303.5 49.1L302.8 49.2L301.8 49.4L301.3 49.7L300.3 49.7L299.5 50.1L298.8 50.2L297.8 50.2L297.0 50.6L296.3 50.7L295.3 50.7L294.3 50.7L293.5 51.1L292.8 51.2L291.8 51.2L290.8 51.2L289.8 51.2L288.8 51.4L288.3 51.7ZM284.8 61.7L283.8 61.7L282.8 61.7L281.8 61.7L280.8 61.7L279.8 61.7L278.8 61.7L277.8 61.7L277.3 61.4L276.6 61.1L275.8 60.7L275.3 60.4L274.6 60.1L274.0 59.6L273.7 59.1L273.3 58.3L273.2 57.6L273.3 56.9L273.8 56.3L274.2 55.6L274.8 55.3L275.3 55.0L276.3 54.8L276.8 54.5L277.8 54.5L278.8 54.5L279.8 54.5L280.8 54.5L281.8 54.5L282.8 54.5L283.8 54.5L284.8 54.5L285.8 54.5L286.3 54.8L287.3 55.0L287.8 55.3L288.5 55.6L289.3 56.0L289.8 56.3L290.3 56.9L290.4 57.6L290.4 58.6L290.1 59.1L289.6 59.6L289.0 60.1L288.3 60.4L287.8 60.7L287.0 61.1L286.3 61.2L285.3 61.4L284.8 61.7Z" fill="#cccccc" stroke="#888" stroke-width=".55"/>
<path d="M288.3 50.6L287.3 50.8L286.3 50.8L285.3 50.8L284.3 50.8L283.3 50.8L282.3 50.8L281.3 50.8L280.3 50.8L279.3 50.8L278.8 50.6L277.8 50.3L276.8 50.3L275.8 50.1L275.3 49.9L274.3 49.8L273.8 49.6L272.8 49.3L272.3 49.1L271.8 48.6L270.8 48.1L270.3 47.6L269.8 47.1L269.5 46.6L269.3 46.1L269.1 45.1L268.8 44.1L268.8 43.6L269.0 43.1L269.1 42.1L269.3 41.6L269.8 40.6L270.0 40.1L270.3 39.6L270.8 39.1L271.3 38.6L271.8 38.1L272.3 37.6L273.3 37.1L273.8 36.9L274.8 36.6L275.3 36.4L276.3 36.1L276.8 35.9L277.8 35.8L278.3 35.6L279.3 35.4L280.3 35.4L281.3 35.4L282.3 35.3L282.8 35.1L283.8 34.9L284.8 34.9L285.8 34.9L286.8 34.9L287.8 34.9L288.8 34.9L289.8 34.9L290.8 34.9L291.3 35.1L292.3 35.4L293.3 35.4L294.3 35.4L295.3 35.4L296.3 35.6L296.8 35.8L297.8 35.9L298.8 35.9L299.8 36.1L300.3 36.3L301.3 36.4L301.8 36.6L302.8 36.9L303.8 36.9L304.3 37.1L305.3 37.4L305.8 37.6L306.8 37.9L307.3 38.1L308.3 38.6L308.8 38.8L309.8 39.1L310.3 39.3L310.8 39.6L311.3 40.1L312.3 40.6L312.8 41.1L313.0 41.6L313.0 42.6L312.8 43.1L312.3 43.6L311.8 44.6L311.3 44.9L310.8 45.1L309.8 45.6L309.3 46.1L308.8 46.3L307.8 46.6L307.3 46.9L306.8 47.1L305.8 47.4L305.3 47.6L304.3 47.8L303.3 48.1L302.8 48.3L301.8 48.4L301.3 48.6L300.3 48.8L299.3 49.1L298.8 49.3L297.8 49.3L296.8 49.6L296.3 49.8L295.3 49.8L294.3 49.8L293.3 50.1L292.8 50.3L291.8 50.3L290.8 50.3L289.8 50.3L288.8 50.4L288.3 50.6ZM284.8 60.6L283.8 60.8L282.8 60.8L281.8 60.8L280.8 60.8L279.8 60.8L278.8 60.8L277.8 60.6L277.3 60.4L276.8 60.1L275.8 59.6L275.3 59.4L274.8 59.1L274.3 58.1L274.1 57.6L274.3 57.1L274.8 56.6L275.3 56.1L276.3 55.8L276.8 55.6L277.8 55.4L278.8 55.4L279.8 55.4L280.8 55.4L281.8 55.4L282.8 55.4L283.8 55.4L284.8 55.4L285.8 55.6L286.3 55.8L287.3 56.1L287.8 56.3L288.3 56.6L289.3 57.1L289.5 57.6L289.3 58.6L288.8 59.1L288.3 59.4L287.8 59.6L286.8 60.1L286.3 60.3L285.3 60.4L284.8 60.6Z" fill="#c4c4c4" stroke="#777" stroke-width=".55"/>
<path d="M287.8 49.9L286.8 49.9L285.8 49.9L284.8 49.9L283.8 49.9L282.8 49.9L281.8 49.9L280.8 49.9L279.8 49.9L278.8 49.6L278.3 49.4L277.3 49.4L276.3 49.4L275.8 49.1L274.8 48.9L273.8 48.6L273.3 48.4L272.6 48.1L271.8 47.6L271.3 47.3L270.8 46.8L270.3 46.1L270.0 45.6L270.0 44.6L269.8 43.6L270.0 42.6L270.3 41.6L270.5 41.1L270.8 40.6L271.3 39.9L271.8 39.4L272.3 38.9L272.8 38.4L273.3 38.1L274.3 37.8L274.8 37.6L275.8 37.3L276.3 37.1L277.3 36.8L278.3 36.6L278.8 36.3L279.8 36.3L280.8 36.3L281.8 36.3L282.8 36.1L283.3 35.8L284.3 35.8L285.3 35.8L286.3 35.8L287.3 35.8L288.3 35.8L289.3 35.8L290.3 35.8L291.3 36.1L291.8 36.3L292.8 36.3L293.8 36.3L294.8 36.3L295.8 36.3L296.3 36.6L297.3 36.8L298.3 36.8L299.3 36.8L299.8 37.1L300.8 37.3L301.8 37.6L302.3 37.8L303.3 37.8L304.3 38.1L304.8 38.3L305.8 38.6L306.3 38.8L307.3 39.1L307.8 39.3L308.3 39.6L309.3 39.8L309.8 40.1L310.5 40.6L311.3 41.1L311.8 41.4L312.1 42.1L311.8 42.8L311.3 43.6L310.8 44.1L310.3 44.4L309.8 44.6L309.0 45.1L308.3 45.4L307.8 45.6L306.8 46.1L306.3 46.4L305.3 46.6L304.8 46.9L303.8 46.9L303.3 47.1L302.3 47.4L301.3 47.6L300.8 47.9L299.8 47.9L299.3 48.1L298.3 48.4L297.3 48.4L296.8 48.6L295.8 48.9L294.8 48.9L293.8 48.9L293.3 49.1L292.3 49.4L291.3 49.4L290.3 49.4L289.3 49.4L288.3 49.6L287.8 49.9ZM284.3 59.9L283.3 59.9L282.3 59.9L281.3 59.9L280.3 59.9L279.3 59.9L278.3 59.9L277.8 59.6L276.8 59.1L276.3 58.9L275.8 58.6L275.3 58.1L275.3 57.4L275.8 56.8L276.8 56.6L277.3 56.3L278.3 56.3L279.3 56.3L280.3 56.3L281.3 56.3L282.3 56.3L283.3 56.3L284.3 56.3L285.3 56.3L285.8 56.6L286.8 56.8L287.3 57.1L288.3 57.6L288.5 58.1L287.8 58.6L287.3 58.9L286.8 59.1L285.8 59.4L284.8 59.6L284.3 59.9Z" fill="#cacaca" stroke="#6a6a6a" stroke-width=".55"/>
<path d="M288.3 48.6L287.3 49.0L286.3 49.0L285.3 49.0L284.3 49.0L283.3 49.0L282.3 49.0L281.3 49.0L280.3 49.0L279.3 48.8L278.6 48.6L277.8 48.5L276.8 48.5L275.8 48.1L275.3 48.0L274.3 47.8L273.6 47.6L272.8 47.1L272.3 46.8L271.8 46.5L271.3 46.0L270.9 45.1L270.8 44.3L270.8 43.6L270.9 43.1L271.1 42.1L271.3 41.6L271.8 40.7L272.3 40.2L272.8 39.7L273.3 39.2L273.8 38.9L274.6 38.6L275.3 38.4L276.1 38.1L276.8 37.9L277.8 37.7L278.3 37.6L279.3 37.2L280.3 37.2L281.3 37.2L282.3 37.2L282.8 37.1L283.8 36.7L284.8 36.7L285.8 36.7L286.8 36.7L287.8 36.7L288.8 36.7L289.8 36.7L290.8 36.9L291.5 37.1L292.3 37.2L293.3 37.2L294.3 37.2L295.3 37.2L296.3 37.6L296.8 37.7L297.8 37.7L298.8 37.7L299.8 38.1L300.3 38.2L301.3 38.4L302.0 38.6L302.8 38.7L303.8 38.9L304.5 39.1L305.3 39.4L306.0 39.6L306.8 39.9L307.3 40.1L308.3 40.6L308.8 40.7L309.7 41.1L310.3 41.6L310.8 41.9L310.8 42.6L310.5 43.1L309.8 43.6L309.3 43.8L308.8 44.1L308.0 44.6L307.3 44.8L306.8 45.1L305.8 45.5L305.3 45.6L304.3 46.0L303.5 46.1L302.8 46.3L301.8 46.5L301.3 46.6L300.3 47.0L299.5 47.1L298.8 47.3L297.8 47.5L297.0 47.6L296.3 47.8L295.3 48.0L294.3 48.0L293.5 48.1L292.8 48.3L291.8 48.5L290.8 48.5L289.8 48.5L288.8 48.5L288.3 48.6ZM284.8 58.6L283.8 59.0L282.8 59.0L281.8 59.0L280.8 59.0L279.8 59.0L278.8 59.0L277.8 58.6L277.3 58.3L276.8 58.1L276.8 57.6L277.8 57.2L278.8 57.2L279.8 57.2L280.8 57.2L281.8 57.2L282.8 57.2L283.8 57.2L284.8 57.2L285.8 57.6L286.3 57.7L286.8 58.1L286.3 58.3L285.3 58.5L284.8 58.6Z" fill="#d4d4d4" stroke="#666" stroke-width=".55"/>
<path d="M288.8 47.6L287.8 47.9L286.8 48.1L285.8 48.1L284.8 48.1L283.8 48.1L282.8 48.1L281.8 48.1L280.8 48.1L279.8 48.1L278.8 47.7L277.8 47.6L276.8 47.6L275.8 47.2L275.1 47.1L274.3 46.9L273.6 46.6L272.9 46.1L272.3 45.7L271.8 45.1L271.8 44.6L271.7 43.6L271.8 42.9L272.1 42.1L272.3 41.6L272.8 41.0L273.3 40.5L273.8 40.0L274.4 39.6L275.3 39.3L275.9 39.1L276.8 38.8L277.6 38.6L278.3 38.5L279.3 38.1L280.3 38.1L281.3 38.1L282.3 38.1L283.3 37.8L284.3 37.6L285.3 37.6L286.3 37.6L287.3 37.6L288.3 37.6L289.3 37.6L290.3 37.6L291.3 38.0L292.3 38.1L293.3 38.1L294.3 38.1L295.3 38.1L296.3 38.5L297.3 38.6L298.3 38.6L299.3 38.8L300.3 39.1L300.8 39.1L301.8 39.5L302.8 39.6L303.8 39.8L304.7 40.1L305.3 40.3L306.2 40.6L306.8 40.9L307.3 41.1L308.3 41.5L308.8 41.6L309.5 42.1L309.3 42.8L308.7 43.1L308.0 43.6L307.3 43.9L306.7 44.1L305.8 44.6L305.3 44.7L304.3 45.1L303.8 45.1L302.8 45.4L302.0 45.6L301.3 45.7L300.3 46.1L299.8 46.1L298.8 46.4L297.8 46.6L296.8 46.7L295.8 47.1L294.8 47.1L293.8 47.1L292.8 47.4L291.8 47.6L290.8 47.6L289.8 47.6L288.8 47.6Z" fill="#e0e0e0" stroke="#777" stroke-width=".55"/>
<path d="M286.8 47.2L285.8 47.2L284.8 47.2L283.8 47.2L282.8 47.2L281.8 47.2L280.8 47.2L279.9 47.1L279.3 46.9L278.3 46.7L277.3 46.7L276.8 46.6L275.8 46.3L274.9 46.1L274.3 45.9L273.8 45.6L273.0 45.1L272.7 44.6L272.6 43.6L272.8 42.7L273.1 42.1L273.4 41.6L273.9 41.1L274.5 40.6L275.3 40.3L275.8 40.1L276.8 39.8L277.4 39.6L278.3 39.4L279.3 39.1L279.8 39.0L280.8 39.0L281.8 39.0L282.8 38.9L283.8 38.6L284.3 38.5L285.3 38.5L286.3 38.5L287.3 38.5L288.3 38.5L289.3 38.5L290.2 38.6L290.8 38.8L291.8 39.0L292.8 39.0L293.8 39.0L294.8 39.0L295.3 39.1L296.3 39.4L297.3 39.5L298.3 39.5L298.8 39.6L299.8 39.9L300.7 40.1L301.3 40.3L302.3 40.5L303.2 40.6L303.8 40.8L304.8 41.1L305.3 41.3L306.3 41.6L306.8 41.9L307.3 42.1L307.8 42.6L307.3 42.9L306.8 43.1L305.8 43.6L305.3 43.8L304.3 44.1L303.8 44.2L302.8 44.4L302.2 44.6L301.3 44.8L300.3 45.1L299.8 45.2L298.8 45.4L298.2 45.6L297.3 45.7L296.3 45.9L295.7 46.1L294.8 46.2L293.8 46.2L292.8 46.4L292.2 46.6L291.3 46.7L290.3 46.7L289.3 46.7L288.3 46.8L287.3 47.1L286.8 47.2Z" fill="#ececec" stroke="#888" stroke-width=".55"/>
<path d="M287.3 46.1L286.3 46.3L285.3 46.3L284.3 46.3L283.3 46.3L282.3 46.3L281.3 46.3L280.3 46.3L279.7 46.1L278.8 45.9L277.8 45.8L276.8 45.6L276.3 45.5L275.3 45.3L274.7 45.1L273.9 44.6L273.5 44.1L273.6 43.1L273.8 42.6L274.3 42.0L274.8 41.5L275.7 41.1L276.3 40.9L277.2 40.6L277.8 40.4L278.8 40.2L279.3 40.1L280.3 39.9L281.3 39.9L282.3 39.9L283.3 39.7L283.8 39.6L284.8 39.4L285.8 39.4L286.8 39.4L287.8 39.4L288.8 39.4L289.8 39.4L290.4 39.6L291.3 39.8L292.3 39.9L293.3 39.9L294.3 39.9L295.3 40.1L295.8 40.2L296.8 40.4L297.8 40.4L298.8 40.6L299.3 40.7L300.3 40.9L300.9 41.1L301.8 41.3L302.8 41.4L303.4 41.6L304.3 41.9L304.9 42.1L305.7 42.6L304.8 43.0L304.3 43.1L303.3 43.4L302.4 43.6L301.8 43.8L300.8 44.0L300.3 44.1L299.3 44.4L298.4 44.6L297.8 44.8L296.8 44.9L295.9 45.1L295.3 45.3L294.3 45.3L293.3 45.4L292.4 45.6L291.8 45.8L290.8 45.8L289.8 45.8L288.8 45.8L287.8 46.0L287.3 46.1Z" fill="#f6f6f6" stroke="#888" stroke-width=".55"/>
</g>
<path d="M255.8 94.4h-2.2M255.8 89.2h-1.2M255.8 83.99h-1.2M255.8 80.95h-1.2M255.8 78.79h-1.2M255.8 77.11h-2.2M255.8 71.91h-1.2M255.8 66.7h-1.2M255.8 63.66h-1.2M255.8 61.5h-1.2M255.8 59.82h-2.2M255.8 54.62h-1.2M255.8 49.41h-1.2M255.8 46.37h-1.2M255.8 44.21h-1.2M255.8 42.53h-2.2M255.8 37.33h-1.2M255.8 32.12h-1.2M255.8 29.08h-1.2M255.8 26.92h-1.2M255.8 25.24h-2.2" stroke="#111" stroke-width=".6" fill="none"/>
<path d="M257.8 96.4v2.4M263.03 96.4v1.5M268.27 96.4v1.5M271.33 96.4v1.5M273.5 96.4v1.5M275.19 96.4v2.4M280.42 96.4v1.5M285.65 96.4v1.5M288.71 96.4v1.5M290.89 96.4v1.5M292.57 96.4v2.4M297.8 96.4v1.5M303.04 96.4v1.5M306.1 96.4v1.5M308.27 96.4v1.5M309.95 96.4v2.4M315.19 96.4v1.5M320.42 96.4v1.5M323.48 96.4v1.5M325.66 96.4v1.5M327.34 96.4v2.4" stroke="#111" stroke-width=".75" fill="none"/>
<rect x="255.8" y="23.6" width="73.2" height="72.8" fill="none" stroke="#111" stroke-width="1.2"/>
<rect x="263.2" y="31.4" width="65.8" height="22.7" fill="none" stroke="#555" stroke-width="0.8"/>
<line x1="300.4" y1="31.4" x2="300.4" y2="54.1" stroke="#444" stroke-width="0.9"/>
<text x="275" y="30.8" font-size="8.3" stroke="#111" stroke-width="0.12" textLength="16.3" lengthAdjust="spacingAndGlyphs">79.4</text>
<text x="305" y="30.8" font-size="8.3" stroke="#111" stroke-width="0.12" textLength="11.7" lengthAdjust="spacingAndGlyphs">9.0</text>
<text x="250" y="93.8" font-size="10.2" stroke="#111" stroke-width="0.12" textLength="23.2" lengthAdjust="spacingAndGlyphs" transform="rotate(-90 250 93.8)">CD11c</text>
<line x1="246.6" y1="68.5" x2="246.6" y2="60.3" stroke="#111" stroke-width="1.4"/>
<path d="M246.6 54.7L249.7 61.5L246.6 60.3L243.5 61.5Z" fill="#111" stroke="#111" stroke-width=".3" stroke-linejoin="round"/>
<text x="263.3" y="109.3" font-size="10.2" stroke="#111" stroke-width="0.12" textLength="21.9" lengthAdjust="spacingAndGlyphs">MHCII</text>
<line x1="289" y1="107" x2="297.9" y2="107" stroke="#111" stroke-width="1.4"/>
<path d="M303.5 107L296.7 110.1L297.9 107L296.7 103.9Z" fill="#111" stroke="#111" stroke-width=".3" stroke-linejoin="round"/>
<path d="M336.5 95h-2.2M336.5 89.71h-1.2M336.5 84.42h-1.2M336.5 81.32h-1.2M336.5 79.13h-1.2M336.5 77.42h-2.2M336.5 72.13h-1.2M336.5 66.84h-1.2M336.5 63.75h-1.2M336.5 61.55h-1.2M336.5 59.85h-2.2M336.5 54.56h-1.2M336.5 49.27h-1.2M336.5 46.17h-1.2M336.5 43.98h-1.2M336.5 42.28h-2.2M336.5 36.98h-1.2M336.5 31.69h-1.2M336.5 28.6h-1.2M336.5 26.4h-1.2M336.5 24.7h-2.2" stroke="#111" stroke-width=".6" fill="none"/>
<path d="M338.5 97v2.4M343.7 97v1.5M348.91 97v1.5M351.95 97v1.5M354.11 97v1.5M355.79 97v2.4M360.99 97v1.5M366.2 97v1.5M369.24 97v1.5M371.4 97v1.5M373.08 97v2.4M378.28 97v1.5M383.49 97v1.5M386.53 97v1.5M388.69 97v1.5M390.37 97v2.4M395.57 97v1.5M400.78 97v1.5M403.82 97v1.5M405.98 97v1.5M407.66 97v2.4" stroke="#111" stroke-width=".75" fill="none"/>
<rect x="336.5" y="23" width="72.8" height="74" fill="none" stroke="#111" stroke-width="1.2"/>
<path d="M340 96.4L340 96.4L340.57 96.4L341.14 96.4L341.71 96.4L342.29 96.4L342.86 96.4L343.43 96.39L344 96.38L344.57 96.34L345.14 96.26L345.71 96.07L346.29 95.68L346.86 94.93L347.43 93.57L348 91.27L348.57 87.69L349.14 82.47L349.71 75.46L350.29 66.82L350.86 57.1L351.43 47.32L352 38.78L352.57 32.8L353.14 30.4L353.71 31.66L354.29 35.89L354.86 42.52L355.43 50.68L356 59.43L356.57 67.92L357.14 75.49L357.71 81.78L358.29 86.65L358.86 90.21L359.43 92.65L360 94.24L360.57 95.21L361.14 95.78L361.71 96.09L362.29 96.25L362.86 96.33L363.43 96.37L364 96.39L364.57 96.4L365.14 96.4L365.71 96.4L366.29 96.4L366.86 96.4L367.43 96.4L368 96.4L368.57 96.4L369.14 96.4L369.71 96.4L370.29 96.4L370.86 96.4L371.43 96.4L372 96.4L372.57 96.4L373.14 96.4L373.71 96.4L374.29 96.4L374.86 96.4L375.43 96.4L376 96.4L376.57 96.4L377.14 96.4L377.71 96.4L378.29 96.4L378.86 96.4L379.43 96.4L380 96.4L380.57 96.4L381.14 96.4L381.71 96.4L382.29 96.4L382.86 96.4L383.43 96.4L384 96.4L384.57 96.4L385.14 96.4L385.71 96.4L386.29 96.4L386.86 96.4L387.43 96.4L388 96.4L388.57 96.4L389.14 96.4L389.71 96.4L390.29 96.4L390.86 96.4L391.43 96.4L392 96.4L392.57 96.4L393.14 96.4L393.71 96.4L394.29 96.4L394.86 96.4L395.43 96.4L396 96.4L396.57 96.4L397.14 96.4L397.71 96.4L398.29 96.4L398.86 96.4L399.43 96.4L400 96.4L400.57 96.4L401.14 96.4L401.71 96.4L402.29 96.4L402.86 96.4L403.43 96.4L404 96.4L404.57 96.4L405.14 96.4L405.71 96.4L406.29 96.4L406.86 96.4L407.43 96.4L408 96.4L408 96.4Z" fill="#d9d9d9" stroke="#cfcfcf" stroke-width="0.5" stroke-linejoin="round"/>
<path d="M340 96.4L340 96.4L340.57 96.4L341.14 96.4L341.71 96.4L342.29 96.4L342.86 96.4L343.43 96.4L344 96.4L344.57 96.4L345.14 96.4L345.71 96.4L346.29 96.4L346.86 96.4L347.43 96.4L348 96.4L348.57 96.4L349.14 96.4L349.71 96.4L350.29 96.4L350.86 96.4L351.43 96.4L352 96.4L352.57 96.4L353.14 96.4L353.71 96.4L354.29 96.4L354.86 96.4L355.43 96.4L356 96.4L356.57 96.4L357.14 96.39L357.71 96.38L358.29 96.37L358.86 96.35L359.43 96.31L360 96.25L360.57 96.16L361.14 96.01L361.71 95.79L362.29 95.46L362.86 95.01L363.43 94.35L364 93.44L364.57 92.22L365.14 90.5L365.71 88.34L366.29 85.91L366.86 83.14L367.43 79.88L368 75.5L368.57 70.38L369.14 65.74L369.71 61.76L370.29 58.45L370.86 55.03L371.43 51.81L372 50.15L372.57 48.17L373.14 46.44L373.71 46.3L374.29 47.34L374.86 50.08L375.43 52.88L376 55.49L376.57 58.3L377.14 61.06L377.71 63.46L378.29 65.84L378.86 68.12L379.43 69.61L380 71.54L380.57 74.04L381.14 76.14L381.71 78.36L382.29 80.4L382.86 82.68L383.43 85.48L384 87.73L384.57 89.49L385.14 91L385.71 92.15L386.29 93.21L386.86 94.21L387.43 94.94L388 95.46L388.57 95.83L389.14 96.05L389.71 96.19L390.29 96.28L390.86 96.34L391.43 96.37L392 96.38L392.57 96.39L393.14 96.4L393.71 96.4L394.29 96.4L394.86 96.4L395.43 96.4L396 96.4L396.57 96.4L397.14 96.4L397.71 96.4L398.29 96.4L398.86 96.4L399.43 96.4L400 96.4L400.57 96.4L401.14 96.4L401.71 96.4L402.29 96.4L402.86 96.4L403.43 96.4L404 96.4L404.57 96.4L405.14 96.4L405.71 96.4L406.29 96.4L406.86 96.4L407.43 96.4L408 96.4L408 96.4Z" fill="#9a7dae" stroke="#5a2d74" stroke-width="0.9" stroke-linejoin="round"/>
<line x1="336.5" y1="96.4" x2="409.3" y2="96.4" stroke="#111" stroke-width="1.1"/>
<text x="362" y="110" font-size="10" stroke="#111" stroke-width="0.12" textLength="20.4" lengthAdjust="spacingAndGlyphs">PD-L1</text>
<text x="417.7" y="17.8" font-size="12" font-weight="bold" fill="#000" stroke="#000" stroke-width=".35">C</text>
<text x="444" y="24.4" font-size="8.3" stroke="#111" stroke-width="0.12" textLength="40.4" lengthAdjust="spacingAndGlyphs">% in IL-10<tspan baseline-shift="3" font-size="6">+</tspan></text>
<path d="M465.2 62.3L465.2 28.9A33.4 33.4 0 0 1 489.55 85.16Z" fill="#4b1f61" stroke="#111" stroke-width="1.3"/>
<path d="M465.2 62.3L489.55 85.16A33.4 33.4 0 0 1 471.46 95.11Z" fill="#9b7fab" stroke="#111" stroke-width="1.3"/>
<path d="M465.2 62.3L471.46 95.11A33.4 33.4 0 0 1 437 80.2Z" fill="#cfc0da" stroke="#111" stroke-width="1.3"/>
<path d="M465.2 62.3L437 80.2A33.4 33.4 0 0 1 465.2 28.9Z" fill="#d5d5db" stroke="#111" stroke-width="1.3"/>
<text x="472" y="59.2" font-size="8.3" fill="#fff" stroke="#fff" stroke-width="0.12" textLength="17" lengthAdjust="spacingAndGlyphs">37%</text>
<text x="439" y="59.2" font-size="8.3" fill="#333" stroke="#333" stroke-width="0.12" textLength="17.5" lengthAdjust="spacingAndGlyphs">35%</text>
<text x="447" y="87" font-size="8.3" fill="#333" stroke="#333" stroke-width="0.12" textLength="16" lengthAdjust="spacingAndGlyphs">19%</text>
<text x="469.6" y="87.3" font-size="8.3" fill="#333" stroke="#333" stroke-width="0.12" textLength="15.8" lengthAdjust="spacingAndGlyphs">10%</text>
<line x1="417.3" y1="107.9" x2="427.7" y2="107.9" stroke="#4b1f61" stroke-width="2.6"/>
<text x="430.7" y="110.3" font-size="9" stroke="#111" stroke-width="0.12" textLength="23.11" lengthAdjust="spacingAndGlyphs">MHCII</text>
<text x="454.33" y="107.06" font-size="6.3" stroke="#111" stroke-width="0.12" textLength="8.11" lengthAdjust="spacingAndGlyphs">low</text>
<text x="462.96" y="110.3" font-size="9" stroke="#111" stroke-width="0.12" textLength="11.34" lengthAdjust="spacingAndGlyphs">DC</text>
<line x1="478.5" y1="107.9" x2="487.7" y2="107.9" stroke="#cfc0da" stroke-width="2.6"/>
<text x="491" y="110.3" font-size="8.3" stroke="#111" stroke-width="0.12" textLength="11.7" lengthAdjust="spacingAndGlyphs">M&#981;</text>
<line x1="417.3" y1="119.6" x2="427.7" y2="119.6" stroke="#9b7fab" stroke-width="2.6"/>
<text x="430.7" y="122.5" font-size="8.3" stroke="#111" stroke-width="0.12" textLength="15.5" lengthAdjust="spacingAndGlyphs">cDC</text>
<line x1="478.5" y1="119.6" x2="487.7" y2="119.6" stroke="#d5d5db" stroke-width="2.6"/>
<text x="491" y="122.5" font-size="8.3" stroke="#111" stroke-width="0.12" textLength="21.5" lengthAdjust="spacingAndGlyphs">Other</text>
<text x="8" y="124.6" font-size="12" font-weight="bold" fill="#000" stroke="#000" stroke-width=".35">D</text>
<text x="9.5" y="153.6" font-size="8.3" font-weight="bold" fill="#000" stroke="#000" stroke-width=".35" textLength="40" lengthAdjust="spacingAndGlyphs">Gated on:</text>
<text x="9.5" y="164.1" font-size="8.5" stroke="#111" stroke-width="0.12">CD19<tspan baseline-shift="4.3" font-size="4.8" fill="#555" stroke="#555">&#8722;</tspan></text>
<text x="9.5" y="174.1" font-size="8.5" stroke="#111" stroke-width="0.12">Ly6G<tspan baseline-shift="4.3" font-size="4.8" fill="#555" stroke="#555">&#8722;</tspan>CD3<tspan baseline-shift="4.3" font-size="4.8" fill="#555" stroke="#555">&#8722;</tspan></text>
<text x="9.5" y="184.3" font-size="8.5" stroke="#111" stroke-width="0.12">CD138<tspan baseline-shift="4.3" font-size="4.8" fill="#555" stroke="#555">&#8722;</tspan></text>
<text x="9.5" y="194.3" font-size="8.5" stroke="#111" stroke-width="0.12">NKp46<tspan baseline-shift="4.3" font-size="4.8" fill="#555" stroke="#555">&#8722;</tspan></text>
<text x="82.7" y="138.8" font-size="8.3" stroke="#111" stroke-width="0.12" textLength="51.9" lengthAdjust="spacingAndGlyphs">MM-relapsed</text>
<clipPath id="cD0"><rect x="73.5" y="143.5" width="70.2" height="70.7"/></clipPath>
<g clip-path="url(#cD0)">
<ellipse cx="102" cy="181" rx="31.2" ry="18.2" fill="url(#gh)" fill-opacity="0.38"/>
<ellipse cx="100" cy="189" rx="41.6" ry="9.1" fill="url(#gh)" fill-opacity="0.38"/>
<ellipse cx="128" cy="188" rx="10.4" ry="23.4" fill="url(#gh)" fill-opacity="0.24"/>
<path transform="scale(.25)" d="M370 653h3m-58 8h3m28 0h3m7 0h3m42 1h3m67 0h3m-53 1h3m112 1h3m-44 1h3m-5 3h3m-97 1h3m16 0h3m55 1h3m-80 2h3m50 0h3m-75 1h3m52 0h3m-108 1h3m7 0h3m47 0h3m70 0h3m-2 1h3m34 0h3m-71 1h3m10 0h3m-10 1h3m46 0h3m-127 1h3m-10 1h3m53 0h3m-40 1h3m41 0h3m9 0h3m7 0h3m12 0h3m1 0h3m3 0h3m-3 0h3m31 0h3m-42 1h3m-3 0h3m1 0h3m2 0h3m-1 0h3m-164 1h3m74 0h3m-3 0h3m10 0h3m65 0h3m11 0h3m-87 1h3m10 0h3m4 0h3m10 0h3m0 0h3m22 0h3m3 0h3m10 0h3m14 0h3m-97 1h3m60 0h3m-1 0h3m1 0h3m0 0h3m2 0h3m15 0h3m-117 1h3m27 0h3m62 0h3m-158 1h3m127 0h3m7 0h3m12 0h3m-2 0h3m19 0h3m32 0h3m-191 1h3m39 0h3m22 0h3m9 0h3m-2 0h3m13 0h3m9 0h3m21 0h3m9 0h3m31 0h3m-144 1h3m98 0h3m3 0h3m1 0h3m-91 1h3m16 0h3m56 0h3m10 0h3m-44 1h3m21 0h3m3 0h3m-3 0h3m-46 1h3m-122 1h3m30 0h3m22 0h3m30 0h3m-2 0h3m30 0h3m33 0h3m16 0h3m16 0h3m-138 1h3m-2 0h3m7 0h3m104 0h3m-183 1h3m27 0h3m5 0h3m28 0h3m2 0h3m14 0h3m4 0h3m55 0h3m18 0h3m19 0h3m-174 1h3m44 0h3m9 0h3m68 0h3m0 0h3m-157 1h3m7 0h3m0 0h3m75 0h3m-3 0h3m26 0h3m29 0h3m8 0h3m17 0h3m39 0h3m-160 1h3m41 0h3m5 0h3m31 0h3m-95 1h3m-2 0h3m8 0h3m74 0h3m-56 1h3m13 0h3m35 0h3m1 0h3m-121 1h3m16 0h3m8 0h3m4 0h3m-2 0h3m34 0h3m-2 0h3m35 0h3m6 0h3m6 0h3m-103 1h3m-3 0h3m98 0h3m7 0h3m-111 1h3m-32 1h3m4 0h3m-1 0h3m16 0h3m-2 0h3m43 0h3m-132 1h3m20 0h3m55 0h3m20 0h3m-62 1h3m13 0h3m46 0h3m14 0h3m-2 0h3m32 0h3m-2 0h3m1 0h3m52 0h3m-197 1h3m48 0h3m97 0h3m3 0h3m11 0h3m-182 1h3m45 0h3m144 0h3m-168 1h3m34 0h3m32 0h3m40 0h3m23 0h3m-155 1h3m0 0h3m17 0h3m28 0h3m21 0h3m-2 0h3m5 0h3m37 0h3m-2 0h3m1 0h3m-97 1h3m35 0h3m-2 0h3m1 0h3m3 0h3m33 0h3m16 0h3m-122 1h3m35 0h3m11 0h3m0 0h3m7 0h3m45 0h3m-158 1h3m12 0h3m40 0h3m47 0h3m31 0h3m0 0h3m2 0h3m3 0h3m-207 1h3m44 0h3m6 0h3m28 0h3m3 0h3m3 0h3m12 0h3m0 0h3m18 0h3m11 0h3m-1 0h3m63 0h3m-128 1h3m40 0h3m61 0h3m3 0h3m-195 1h3m77 0h3m13 0h3m-2 0h3m14 0h3m4 0h3m1 0h3m6 0h3m-1 0h3m41 0h3m-2 0h3m0 0h3m4 0h3m-140 1h3m66 0h3m9 0h3m-1 0h3m43 0h3m-156 1h3m63 0h3m38 0h3m40 0h3m3 0h3m26 0h3m-191 1h3m48 0h3m47 0h3m6 0h3m-142 1h3m71 0h3m102 0h3m0 0h3m41 0h3m-221 1h3m46 0h3m55 0h3m3 0h3m14 0h3m40 0h3m5 0h3m-122 1h3m11 0h3m3 0h3m38 0h3m44 0h3m2 0h3m31 0h3m-160 1h3m31 0h3m-2 0h3m11 0h3m66 0h3m2 0h3m36 0h3m-191 1h3m-3 0h3m20 0h3m0 0h3m-2 0h3m3 0h3m17 0h3m45 0h3m1 0h3m41 0h3m-82 1h3m-2 0h3m17 0h3m4 0h3m2 0h3m65 0h3m4 0h3m-164 1h3m6 0h3m-2 0h3m10 0h3m9 0h3m-3 0h3m-3 0h3m11 0h3m-2 0h3m1 0h3m30 0h3m50 0h3m6 0h3m-196 1h3m5 0h3m2 0h3m24 0h3m28 0h3m4 0h3m4 0h3m16 0h3m13 0h3m-1 0h3m3 0h3m54 0h3m17 0h3m-191 1h3m-2 0h3m39 0h3m107 0h3m6 0h3m5 0h3m2 0h3m-208 1h3m85 0h3m26 0h3m22 0h3m40 0h3m-1 0h3m71 0h3m-179 1h3m13 0h3m8 0h3m-1 0h3m-2 0h3m8 0h3m2 0h3m-1 0h3m49 0h3m7 0h3m-202 1h3m-2 0h3m28 0h3m42 0h3m37 0h3m-1 0h3m3 0h3m-1 0h3m-1 0h3m1 0h3m11 0h3m40 0h3m0 0h3m22 0h3m13 0h3m-232 1h3m28 0h3m9 0h3m31 0h3m2 0h3m5 0h3m20 0h3m24 0h3m0 0h3m-2 0h3m46 0h3m-179 1h3m21 0h3m4 0h3m44 0h3m15 0h3m0 0h3m3 0h3m0 0h3m-2 0h3m63 0h3m29 0h3m-232 1h3m10 0h3m2 0h3m1 0h3m28 0h3m9 0h3m66 0h3m-3 0h3m59 0h3m-157 1h3m3 0h3m18 0h3m45 0h3m4 0h3m7 0h3m5 0h3m58 0h3m0 0h3m15 0h3m-183 1h3m17 0h3m16 0h3m44 0h3m56 0h3m0 0h3m-87 1h3m1 0h3m1 0h3m9 0h3m5 0h3m99 0h3m-216 1h3m40 0h3m22 0h3m27 0h3m2 0h3m-1 0h3m-1 0h3m60 0h3m4 0h3m22 0h3m-208 1h3m14 0h3m7 0h3m17 0h3m21 0h3m2 0h3m37 0h3m48 0h3m-2 0h3m3 0h3m1 0h3m-200 1h3m33 0h3m9 0h3m40 0h3m41 0h3m47 0h3m0 0h3m0 0h3m-190 1h3m35 0h3m46 0h3m13 0h3m4 0h3m8 0h3m60 0h3m9 0h3m10 0h3m-186 1h3m-1 0h3m-2 0h3m-2 0h3m19 0h3m9 0h3m21 0h3m13 0h3m-1 0h3m9 0h3m12 0h3m57 0h3m15 0h3m-202 1h3m75 0h3m17 0h3m-2 0h3m8 0h3m81 0h3m-193 1h3m45 0h3m14 0h3m34 0h3m66 0h3m2 0h3m3 0h3m-214 1h3m39 0h3m40 0h3m0 0h3m2 0h3m4 0h3m22 0h3m7 0h3m15 0h3m-142 1h3m58 0h3m20 0h3m4 0h3m43 0h3m43 0h3m0 0h3m27 0h3m-221 1h3m20 0h3m-1 0h3m0 0h3m18 0h3m2 0h3m20 0h3m-2 0h3m33 0h3m1 0h3m10 0h3m-3 0h3m4 0h3m57 0h3m-201 1h3m41 0h3m-2 0h3m6 0h3m7 0h3m9 0h3m3 0h3m42 0h3m-1 0h3m-2 0h3m5 0h3m-103 1h3m6 0h3m1 0h3m21 0h3m-3 0h3m8 0h3m11 0h3m6 0h3m4 0h3m-2 0h3m13 0h3m0 0h3m-2 0h3m50 0h3m11 0h3m-146 1h3m7 0h3m6 0h3m10 0h3m31 0h3m8 0h3m48 0h3m5 0h3m8 0h3m-1 0h3m-216 1h3m33 0h3m1 0h3m18 0h3m17 0h3m18 0h3m6 0h3m11 0h3m66 0h3m1 0h3m19 0h3m-3 0h3m-192 1h3m21 0h3m8 0h3m-2 0h3m2 0h3m-2 0h3m15 0h3m0 0h3m97 0h3m-3 0h3m-2 0h3m7 0h3m8 0h3m-194 1h3m4 0h3m-2 0h3m13 0h3m-2 0h3m2 0h3m0 0h3m1 0h3m2 0h3m21 0h3m4 0h3m9 0h3m8 0h3m-2 0h3m4 0h3m9 0h3m49 0h3m-146 1h3m0 0h3m10 0h3m29 0h3m2 0h3m-2 0h3m1 0h3m7 0h3m16 0h3m0 0h3m-132 1h3m27 0h3m16 0h3m10 0h3m3 0h3m2 0h3m15 0h3m0 0h3m17 0h3m11 0h3m51 0h3m19 0h3m3 0h3m-218 1h3m20 0h3m-1 0h3m5 0h3m0 0h3m0 0h3m35 0h3m-1 0h3m10 0h3m4 0h3m18 0h3m2 0h3m2 0h3m-1 0h3m67 0h3m-170 1h3m8 0h3m-1 0h3m25 0h3m-2 0h3m10 0h3m5 0h3m7 0h3m11 0h3m2 0h3m60 0h3m5 0h3m-171 1h3m1 0h3m6 0h3m-1 0h3m-1 0h3m1 0h3m15 0h3m1 0h3m2 0h3m0 0h3m2 0h3m-2 0h3m1 0h3m14 0h3m-1 0h3m-3 0h3m0 0h3m72 0h3m-1 0h3m-205 1h3m33 0h3m26 0h3m3 0h3m35 0h3m3 0h3m-2 0h3m12 0h3m-1 0h3m4 0h3m-2 0h3m-97 1h3m-1 0h3m5 0h3m-1 0h3m5 0h3m9 0h3m-1 0h3m-1 0h3m13 0h3m0 0h3m-1 0h3m-2 0h3m17 0h3m-1 0h3m0 0h3m3 0h3m71 0h3m2 0h3m-183 1h3m-1 0h3m0 0h3m26 0h3m4 0h3m5 0h3m-2 0h3m4 0h3m43 0h3m63 0h3m-2 0h3m8 0h3m-225 1h3m32 0h3m14 0h3m1 0h3m15 0h3m19 0h3m-2 0h3m2 0h3m-1 0h3m3 0h3m6 0h3m10 0h3m74 0h3m19 0h3m-2 0h3m-199 1h3m2 0h3m-2 0h3m8 0h3m18 0h3m6 0h3m7 0h3m1 0h3m2 0h3m6 0h3m5 0h3m-1 0h3m3 0h3m78 0h3m6 0h3m2 0h3m-193 1h3m12 0h3m-1 0h3m2 0h3m-2 0h3m6 0h3m8 0h3m-2 0h3m-2 0h3m-3 0h3m-2 0h3m0 0h3m8 0h3m3 0h3m7 0h3m-2 0h3m9 0h3m-2 0h3m0 0h3m0 0h3m-2 0h3m90 0h3m-212 1h3m36 0h3m4 0h3m22 0h3m2 0h3m2 0h3m5 0h3m7 0h3m6 0h3m2 0h3m-2 0h3m97 0h3m-3 0h3m-175 1h3m8 0h3m3 0h3m-3 0h3m-1 0h3m-2 0h3m2 0h3m1 0h3m-1 0h3m-2 0h3m1 0h3m0 0h3m6 0h3m-2 0h3m-3 0h3m-1 0h3m12 0h3m3 0h3m-2 0h3m-3 0h3m-2 0h3m78 0h3m-189 1h3m25 0h3m3 0h3m-2 0h3m6 0h3m6 0h3m16 0h3m0 0h3m-3 0h3m-1 0h3m-1 0h3m-1 0h3m-1 0h3m-2 0h3m-2 0h3m112 0h3m3 0h3m31 0h3m-231 1h3m15 0h3m-2 0h3m11 0h3m3 0h3m4 0h3m0 0h3m-1 0h3m-3 0h3m7 0h3m6 0h3m100 0h3m1 0h3m-2 0h3m1 0h3m-196 1h3m17 0h3m163 0h3m-158 1h3m-15 1h3m165 0h3m2 0h3m-177 1h3m182 0h3m2 0h3m-17 1h3m-194 1h3m193 0h3m-198 1h3m180 0h3m5 0h3m-2 0h3m7 0h3m-207 1h3m1 0h3m1 0h3m174 0h3m-2 0h3m-181 1h3m173 0h3m-1 0h3m-1 0h3m8 0h3m-209 1h3m6 0h3m5 0h3m174 0h3m8 0h3m8 0h3m-216 1h3m5 0h3m-1 0h3m173 0h3m-183 1h3m-14 1h3m3 0h3m199 1h3m2 0h3m-23 1h3m-4 1h3m-1 0h3m2 0h3m-2 0h3m-204 1h3m192 0h3m-195 1h3m0 0h3m2 0h3m-2 0h3m184 0h3m7 0h3m-213 1h3m205 0h3m-209 1h3m-2 0h3m209 0h3m-209 1h3m185 0h3m2 0h3m-10 1h3m4 0h3m-198 1h3m2 0h3m184 0h3m0 0h3m12 0h3m-3 1h3m-215 1h3m-2 0h3m2 0h3m182 0h3m-2 0h3m-3 0h3m30 0h3m-40 2h3m-3 2h3m1 0h3m-1 0h3m-3 0h3m-2 0h3m-3 0h3m-209 1h3m13 0h3m194 0h3m-13 1h3m-202 1h3m194 0h3m-3 0h3m-203 2h3m3 0h3m2 1h3m184 1h3m-2 0h3m-2 0h3m4 0h3m17 0h3m-222 1h3m-1 0h3m187 0h3m-1 0h3m-198 1h3m2 0h3m-2 0h3m-3 1h3m183 0h3m-1 2h3m0 0h3m-212 2h3m14 0h3m185 0h3m6 0h3m-216 1h3m9 0h3m3 0h3m187 0h3m-9 1h3m-3 0h3m-3 0h3m-2 0h3m-3 1h3m0 0h3m-190 1h3m192 1h3m-13 1h3m-189 1h3m194 0h3m-202 1h3m-2 1h3m-11 1h3m2 0h3m7 0h3m175 0h3m-186 1h3m4 0h3m51 0h3m-74 1h3m12 0h3m49 0h3m18 0h3m11 0h3m-3 0h3m-3 0h3m0 0h3m2 0h3m1 0h3m0 0h3m-1 0h3m7 0h3m2 0h3m-2 0h3m-92 1h3m6 0h3m13 0h3m23 0h3m4 0h3m-3 0h3m9 0h3m4 0h3m3 0h3m0 0h3m23 0h3m15 0h3m10 0h3m10 0h3m-158 1h3m8 0h3m1 0h3m-2 0h3m9 0h3m-1 0h3m24 0h3m9 0h3m12 0h3m6 0h3m19 0h3m10 0h3m-1 0h3m1 0h3m-173 1h3m3 0h3m20 0h3m20 0h3m-1 0h3m12 0h3m3 0h3m2 0h3m13 0h3m3 0h3m0 0h3m12 0h3m7 0h3m4 0h3m-2 0h3m2 0h3m-1 0h3m6 0h3m4 0h3m-1 0h3m-1 0h3m-180 1h3m28 0h3m-1 0h3m21 0h3m-2 0h3m11 0h3m5 0h3m29 0h3m10 0h3m34 0h3m-3 0h3m0 0h3m6 0h3m11 0h3m-1 0h3m-173 1h3m-3 0h3m34 0h3m6 0h3m10 0h3m0 0h3m52 0h3m20 0h3m16 0h3m0 0h3m-1 0h3m2 0h3m-162 1h3m1 0h3m8 0h3m1 0h3m84 0h3m-3 0h3m2 0h3m14 0h3m3 0h3m2 0h3m3 0h3m11 0h3m-160 1h3m45 0h3m43 0h3m19 0h3m-2 0h3m13 0h3m-145 1h3m6 0h3m16 0h3m2 0h3m20 0h3m17 0h3m40 0h3m-2 0h3m2 0h3m34 0h3m-184 1h3m15 0h3m11 0h3m23 0h3m7 0h3m29 0h3m33 0h3m15 0h3m-1 0h3m23 0h3m11 0h3m-186 1h3m15 0h3m55 0h3m27 0h3m16 0h3m-2 0h3m29 0h3m-150 1h3m2 0h3m72 0h3m-1 0h3m14 0h3m17 0h3m12 0h3m6 0h3m7 0h3m-194 1h3m26 0h3m10 0h3m107 0h3m7 0h3m-1 0h3m9 0h3m-169 1h3m14 0h3m21 0h3m76 0h3m14 0h3m49 0h3m-139 1h3m1 0h3m24 0h3m63 0h3m42 0h3m-155 1h3m58 0h3m-72 2h3m16 0h3m-45 4h3m109 1h3m-133 4h3m169 0h3m-33 4h3m-90 3h3" stroke="#111" stroke-width="3.2" fill="none"/>
<path d="M80.5 198.3L81.0 196.8L81.7 195.4L82.5 194.3L83.4 193.5L84.4 192.9L85.7 192.4L87.0 192.1L88.6 191.9L90.4 191.7L92.3 191.7L94.4 191.6L96.7 191.6L99.2 191.6L101.5 191.5L103.6 191.3L105.6 191.1L107.3 190.7L108.8 190.3L110.1 189.8L111.0 189.1L111.7 188.5L112.2 187.3L112.7 185.6L113.0 183.5L113.1 180.8L113.4 178.6L113.8 176.6L114.2 175.0L114.7 173.8L115.3 172.8L116.0 172.1L116.8 171.6L117.7 171.5L118.5 171.5L119.3 171.6L120.1 172.0L120.8 172.5L121.4 173.5L121.8 174.9L122.1 176.8L122.1 179.0L122.3 181.1L122.6 183.0L122.9 184.6L123.4 186.0L123.8 187.3L124.3 188.5L124.8 189.7L125.2 190.7L125.6 192.1L125.9 193.9L126.0 196.0L126.0 198.4L125.9 200.5L125.6 202.3L125.2 203.7L124.8 204.7L123.8 205.5L122.3 205.9L120.3 206.0L117.8 205.9L115.1 205.7L112.1 205.5L108.8 205.4L105.3 205.2L102.1 205.2L99.1 205.2L96.4 205.2L94.0 205.4L91.7 205.5L89.6 205.7L87.6 205.9L85.9 206.0L84.3 206.0L83.0 205.7L81.9 205.2L81.0 204.5L80.4 203.8L79.9 203.2L79.7 202.5L79.7 201.8L79.8 200.8L80.1 199.7Z" fill="none" stroke="#000" stroke-width="1.5" opacity="0.8" filter="url(#bl04)"/>
<path d="M80.5 198.3L81.0 196.8L81.7 195.4L82.5 194.3L83.4 193.5L84.4 192.9L85.7 192.4L87.0 192.1L88.6 191.9L90.4 191.7L92.3 191.7L94.4 191.6L96.7 191.6L99.2 191.6L101.5 191.5L103.6 191.3L105.6 191.1L107.3 190.7L108.8 190.3L110.1 189.8L111.0 189.1L111.7 188.5L112.2 187.3L112.7 185.6L113.0 183.5L113.1 180.8L113.4 178.6L113.8 176.6L114.2 175.0L114.7 173.8L115.3 172.8L116.0 172.1L116.8 171.6L117.7 171.5L118.5 171.5L119.3 171.6L120.1 172.0L120.8 172.5L121.4 173.5L121.8 174.9L122.1 176.8L122.1 179.0L122.3 181.1L122.6 183.0L122.9 184.6L123.4 186.0L123.8 187.3L124.3 188.5L124.8 189.7L125.2 190.7L125.6 192.1L125.9 193.9L126.0 196.0L126.0 198.4L125.9 200.5L125.6 202.3L125.2 203.7L124.8 204.7L123.8 205.5L122.3 205.9L120.3 206.0L117.8 205.9L115.1 205.7L112.1 205.5L108.8 205.4L105.3 205.2L102.1 205.2L99.1 205.2L96.4 205.2L94.0 205.4L91.7 205.5L89.6 205.7L87.6 205.9L85.9 206.0L84.3 206.0L83.0 205.7L81.9 205.2L81.0 204.5L80.4 203.8L79.9 203.2L79.7 202.5L79.7 201.8L79.8 200.8L80.1 199.7Z" fill="#c6c6c6" stroke="#1a1a1a" stroke-width="0.8"/>
<path d="M85.5 205.3L85.0 204.9L84.0 204.8L83.0 204.8L82.5 204.4L82.0 203.9L81.2 203.5L81.0 202.9L80.7 202.0L80.7 201.0L81.1 200.5L81.2 199.5L81.5 198.6L81.7 198.0L82.0 197.1L82.2 196.5L82.6 196.0L83.0 195.1L83.5 194.6L84.0 194.2L84.6 194.0L85.5 193.6L86.0 193.2L87.0 193.2L88.0 193.1L88.5 192.7L89.5 192.7L90.5 192.7L91.5 192.7L92.5 192.7L93.5 192.7L94.5 192.7L95.5 192.7L96.5 192.7L97.5 192.7L98.5 192.7L99.5 192.7L100.5 192.7L101.5 192.7L102.1 192.5L103.0 192.2L104.0 192.2L105.0 192.2L106.0 192.1L106.5 191.7L107.5 191.7L108.5 191.6L109.0 191.2L110.0 191.1L110.5 190.6L111.0 190.2L111.6 190.0L112.1 189.5L112.6 189.0L113.0 188.1L113.2 187.5L113.5 186.6L113.7 186.0L113.7 185.0L113.7 184.0L114.0 183.1L114.2 182.5L114.2 181.5L114.2 180.5L114.2 179.5L114.5 178.6L114.7 178.0L114.7 177.0L115.0 176.1L115.2 175.5L115.5 174.6L115.7 174.0L116.1 173.5L116.6 173.0L117.5 172.6L118.0 172.2L118.5 172.6L119.5 172.7L120.0 173.1L120.4 174.0L120.8 174.5L120.8 175.5L120.9 176.5L121.3 177.0L121.3 178.0L121.3 179.0L121.3 180.0L121.3 181.0L121.3 182.0L121.5 182.6L121.8 183.5L121.8 184.5L122.0 185.1L122.3 186.0L122.5 186.6L122.8 187.5L123.0 188.1L123.3 189.0L123.5 189.6L123.9 190.5L124.3 191.0L124.4 192.0L124.8 192.5L124.8 193.5L124.8 194.5L124.8 195.5L125.0 196.1L125.3 197.0L125.0 197.9L124.8 198.5L124.8 199.5L124.8 200.5L124.8 201.5L124.5 202.4L124.3 203.0L124.0 203.9L123.5 204.4L123.0 204.8L122.0 204.8L121.0 204.8L120.0 204.9L119.0 204.8L118.0 204.8L117.0 204.8L116.0 204.8L115.0 204.8L114.0 204.8L113.0 204.8L112.0 204.8L111.5 204.4L110.5 204.3L109.5 204.3L108.5 204.3L107.5 204.3L106.5 204.3L105.5 204.3L104.5 204.3L103.5 204.3L102.5 204.3L101.5 204.3L100.5 204.3L99.5 204.3L98.5 204.3L97.5 204.3L96.5 204.3L95.5 204.3L94.5 204.3L93.5 204.3L92.5 204.3L91.9 204.5L91.0 204.8L90.0 204.8L89.0 204.8L88.0 204.8L87.0 204.8L86.0 204.9L85.5 205.3Z" fill="#d2d2d2" stroke="#444" stroke-width=".55"/>
<path d="M122.5 203.6L121.5 203.6L120.5 203.7L119.5 203.6L118.5 203.6L117.5 203.6L116.5 203.6L115.5 203.6L114.5 203.6L113.5 203.6L112.5 203.6L112.0 203.3L111.0 203.1L110.0 203.1L109.0 203.1L108.0 203.1L107.0 203.1L106.0 203.1L105.0 203.1L104.0 203.1L103.0 203.1L102.0 203.1L101.0 203.1L100.0 203.1L99.0 203.1L98.0 203.1L97.0 203.1L96.0 203.1L95.0 203.1L94.0 203.1L93.0 203.1L92.0 203.2L91.2 203.5L90.5 203.6L89.5 203.6L88.5 203.6L87.5 203.6L86.5 203.6L85.5 203.8L84.5 203.6L83.5 203.6L83.0 203.1L82.5 202.8L82.0 202.2L81.9 201.5L82.2 201.0L82.4 200.0L82.5 199.3L82.8 198.5L83.0 197.8L83.4 197.0L83.7 196.5L84.0 195.9L84.5 195.4L85.3 195.0L86.0 194.7L86.5 194.4L87.5 194.4L88.5 194.2L89.0 193.9L90.0 193.9L91.0 193.9L92.0 193.9L93.0 193.9L94.0 193.9L95.0 193.9L96.0 193.9L97.0 193.9L98.0 193.9L99.0 193.9L100.0 193.9L101.0 193.9L102.0 193.8L102.8 193.5L103.5 193.4L104.5 193.4L105.5 193.4L106.5 193.2L107.0 192.9L108.0 192.9L109.0 192.7L109.5 192.4L110.5 192.2L111.0 191.9L111.5 191.4L112.3 191.0L112.9 190.5L113.4 190.0L113.7 189.5L114.0 188.8L114.3 188.0L114.5 187.3L114.8 186.5L114.9 185.5L114.9 184.5L115.0 183.8L115.3 183.0L115.4 182.0L115.4 181.0L115.4 180.0L115.5 179.3L115.8 178.5L115.9 177.5L116.0 176.8L116.3 176.0L116.5 175.3L116.9 174.5L117.4 174.0L118.0 173.7L119.0 173.9L119.3 174.5L119.6 175.0L119.6 176.0L119.8 177.0L120.1 177.5L120.1 178.5L120.1 179.5L120.1 180.5L120.1 181.5L120.2 182.5L120.5 183.3L120.6 184.0L120.7 185.0L121.0 185.8L121.2 186.5L121.5 187.3L121.7 188.0L122.0 188.8L122.2 189.5L122.5 190.3L122.8 191.0L123.1 191.5L123.3 192.5L123.6 193.0L123.6 194.0L123.6 195.0L123.7 196.0L124.0 196.8L124.0 197.2L123.7 198.0L123.6 199.0L123.6 200.0L123.6 201.0L123.5 201.7L123.2 202.5L123.0 203.1L122.5 203.6Z" fill="#dcdcdc" stroke="#555" stroke-width=".55"/>
<path d="M85.5 202.5L85.0 202.4L84.0 202.4L83.5 202.0L83.5 201.0L83.6 200.5L83.8 199.5L84.0 198.8L84.3 198.0L84.5 197.5L85.0 196.6L85.5 196.3L86.0 196.0L87.0 195.6L88.0 195.6L88.5 195.5L89.5 195.1L90.5 195.1L91.5 195.1L92.5 195.1L93.5 195.1L94.5 195.1L95.5 195.1L96.5 195.1L97.5 195.1L98.5 195.1L99.5 195.1L100.5 195.1L101.5 195.1L102.3 195.0L103.0 194.8L104.0 194.6L105.0 194.6L106.0 194.6L106.5 194.5L107.5 194.1L108.5 194.1L109.0 194.0L110.0 193.6L110.5 193.5L111.5 193.0L112.0 192.6L112.5 192.3L113.0 192.0L113.6 191.5L114.1 191.0L114.5 190.5L115.0 189.5L115.3 189.0L115.5 188.3L115.8 187.5L116.0 186.8L116.1 186.0L116.1 185.0L116.3 184.0L116.5 183.3L116.6 182.5L116.6 181.5L116.6 180.5L116.8 179.5L117.0 178.8L117.1 178.0L117.3 177.0L117.5 176.3L117.8 175.5L118.3 175.5L118.4 176.5L118.5 177.0L118.9 178.0L118.9 179.0L118.9 180.0L118.9 181.0L118.9 182.0L119.0 182.8L119.2 183.5L119.4 184.5L119.5 185.3L119.7 186.0L120.0 186.8L120.2 187.5L120.5 188.3L120.7 189.0L121.0 189.8L121.2 190.5L121.5 191.0L121.9 192.0L122.0 192.5L122.4 193.5L122.4 194.5L122.4 195.5L122.5 196.3L122.7 197.0L122.5 197.7L122.4 198.5L122.4 199.5L122.4 200.5L122.2 201.5L122.0 202.1L121.0 202.4L120.0 202.4L119.0 202.4L118.0 202.4L117.0 202.4L116.0 202.4L115.0 202.4L114.0 202.4L113.0 202.4L112.0 202.0L111.5 201.9L110.5 201.9L109.5 201.9L108.5 201.9L107.5 201.9L106.5 201.9L105.5 201.9L104.5 201.9L103.5 201.9L102.5 201.9L101.5 201.9L100.5 201.9L99.5 201.9L98.5 201.9L97.5 201.9L96.5 201.9L95.5 201.9L94.5 201.9L93.5 201.9L92.5 201.9L91.7 202.0L91.0 202.2L90.0 202.4L89.0 202.4L88.0 202.4L87.0 202.4L86.0 202.4L85.5 202.5Z" fill="#e5e5e5" stroke="#606060" stroke-width=".55"/>
<path d="M121.0 201.0L120.0 201.1L119.0 201.1L118.0 201.1L117.0 201.1L116.0 201.1L115.0 201.1L114.0 201.1L113.0 201.0L112.5 200.8L111.5 200.6L110.5 200.6L109.5 200.6L108.5 200.6L107.5 200.6L106.5 200.6L105.5 200.6L104.5 200.6L103.5 200.6L102.5 200.6L101.5 200.6L100.5 200.6L99.5 200.6L98.5 200.6L97.5 200.6L96.5 200.6L95.5 200.6L94.5 200.6L93.5 200.6L92.5 200.6L91.5 200.7L90.6 201.0L90.0 201.1L89.0 201.1L88.0 201.1L87.0 201.1L86.0 201.1L85.0 201.1L84.9 200.5L85.0 199.9L85.3 199.0L85.5 198.4L86.0 197.5L86.5 197.2L87.0 197.0L88.0 196.9L89.0 196.7L89.5 196.5L90.5 196.4L91.5 196.4L92.5 196.4L93.5 196.4L94.5 196.4L95.5 196.4L96.5 196.4L97.5 196.4L98.5 196.4L99.5 196.4L100.5 196.4L101.5 196.4L102.5 196.3L103.4 196.0L104.0 195.9L105.0 195.9L106.0 195.9L107.0 195.7L107.5 195.5L108.5 195.4L109.5 195.2L110.0 195.0L111.0 194.7L111.5 194.5L112.3 194.0L113.0 193.5L113.5 193.2L114.0 192.9L114.5 192.4L115.0 191.9L115.5 191.3L116.0 190.5L116.2 190.0L116.5 189.4L116.8 188.5L117.0 187.9L117.3 187.0L117.4 186.0L117.4 185.0L117.5 184.4L118.0 183.9L118.1 184.5L118.2 185.5L118.5 186.4L118.7 187.0L119.0 187.9L119.2 188.5L119.5 189.4L119.7 190.0L120.0 190.9L120.3 191.5L120.5 192.0L120.8 193.0L121.0 193.5L121.1 194.5L121.1 195.5L121.2 196.5L121.2 197.5L121.1 198.5L121.1 199.5L121.1 200.5L121.0 201.0Z" fill="#ededed" stroke="#6a6a6a" stroke-width=".55"/>
<path d="M119.5 199.7L118.5 199.7L117.5 199.7L116.5 199.7L115.5 199.7L114.5 199.7L113.5 199.7L112.9 199.5L112.0 199.3L111.0 199.2L110.0 199.2L109.0 199.2L108.0 199.2L107.0 199.2L106.0 199.2L105.0 199.2L104.0 199.2L103.0 199.2L102.0 199.2L101.0 199.2L100.0 199.2L99.0 199.2L98.0 199.2L97.0 199.2L96.0 199.2L95.0 199.2L94.0 199.2L93.0 199.2L92.0 199.2L91.0 199.4L90.5 199.5L89.5 199.7L88.5 199.7L87.5 199.7L86.7 199.5L87.0 198.6L87.5 198.3L88.5 198.2L89.4 198.0L90.0 197.8L91.0 197.8L92.0 197.8L93.0 197.8L94.0 197.8L95.0 197.8L96.0 197.8L97.0 197.8L98.0 197.8L99.0 197.8L100.0 197.8L101.0 197.8L102.0 197.8L103.0 197.6L103.5 197.5L104.5 197.3L105.5 197.3L106.5 197.2L107.4 197.0L108.0 196.8L109.0 196.7L109.9 196.5L110.5 196.3L111.4 196.0L112.0 195.8L112.6 195.5L113.3 195.0L114.0 194.5L114.5 194.2L115.0 193.9L115.5 193.4L116.0 192.9L116.5 192.3L117.0 191.6L117.3 191.0L117.5 190.5L118.0 189.5L118.0 189.5L118.4 190.5L118.5 191.0L119.0 192.0L119.2 192.5L119.5 193.4L119.7 194.0L119.7 195.0L119.7 196.0L119.9 197.0L119.7 198.0L119.7 199.0L119.5 199.7Z" fill="#f4f4f4" stroke="#777" stroke-width=".55"/>
<path d="M118.0 198.0L117.0 198.0L116.0 198.0L115.0 198.0L114.0 198.0L113.0 197.8L112.3 197.5L113.0 197.2L113.5 196.9L114.2 196.5L114.9 196.0L115.5 195.6L116.0 195.2L116.5 194.8L117.0 194.3L117.5 193.8L118.0 194.5L118.0 195.5L118.1 196.5L118.1 197.5Z" fill="#f9f9f9" stroke="#777" stroke-width=".55"/>
<ellipse cx="86.5" cy="199" rx="4.5" ry="3.6" fill="#e4e4e4" stroke="#666" stroke-width=".5"/>
<ellipse cx="117.5" cy="178" rx="2.5" ry="5" fill="#fafafa" stroke="#888" stroke-width=".5"/>
</g>
<path d="M73.5 212.2h-2.2M73.5 207.15h-1.2M73.5 202.09h-1.2M73.5 199.13h-1.2M73.5 197.04h-1.2M73.5 195.41h-2.2M73.5 190.35h-1.2M73.5 185.3h-1.2M73.5 182.34h-1.2M73.5 180.24h-1.2M73.5 178.62h-2.2M73.5 173.56h-1.2M73.5 168.51h-1.2M73.5 165.55h-1.2M73.5 163.45h-1.2M73.5 161.83h-2.2M73.5 156.77h-1.2M73.5 151.72h-1.2M73.5 148.76h-1.2M73.5 146.66h-1.2M73.5 145.03h-2.2" stroke="#111" stroke-width=".6" fill="none"/>
<path d="M75.5 214.2v2.4M80.52 214.2v1.5M85.54 214.2v1.5M88.47 214.2v1.5M90.56 214.2v1.5M92.17 214.2v2.4M97.19 214.2v1.5M102.21 214.2v1.5M105.15 214.2v1.5M107.23 214.2v1.5M108.84 214.2v2.4M113.86 214.2v1.5M118.88 214.2v1.5M121.82 214.2v1.5M123.9 214.2v1.5M125.52 214.2v2.4M130.54 214.2v1.5M135.56 214.2v1.5M138.49 214.2v1.5M140.57 214.2v1.5M142.19 214.2v2.4" stroke="#111" stroke-width=".75" fill="none"/>
<rect x="73.5" y="143.5" width="70.2" height="70.7" fill="none" stroke="#111" stroke-width="1.2"/>
<rect x="103.3" y="145.8" width="36.7" height="41.2" fill="none" stroke="#777" stroke-width="0.8"/>
<text x="107" y="155.2" font-size="8.3" stroke="#111" stroke-width="0.12" textLength="11.3" lengthAdjust="spacingAndGlyphs">7.9</text>
<text x="157" y="138.8" font-size="8.3" stroke="#111" stroke-width="0.12" textLength="56.7" lengthAdjust="spacingAndGlyphs">MM-controlled</text>
<clipPath id="cD1"><rect x="150" y="143.5" width="70.8" height="70.7"/></clipPath>
<g clip-path="url(#cD1)">
<ellipse cx="182" cy="181" rx="31.2" ry="18.2" fill="url(#gh)" fill-opacity="0.16"/>
<ellipse cx="178" cy="189" rx="39" ry="9.1" fill="url(#gh)" fill-opacity="0.26"/>
<path transform="scale(.25)" d="M736 665h3m-11 1h3m41 0h3m60 1h3m-97 7h3m136 3h3m-224 2h3m193 0h3m-139 2h3m47 2h3m-81 2h3m115 1h3m-173 1h3m147 1h3m9 2h3m-117 1h3m10 1h3m8 3h3m43 1h3m7 0h3m-80 2h3m41 0h3m2 0h3m96 0h3m-110 1h3m1 0h3m4 0h3m-98 2h3m37 0h3m56 0h3m-59 1h3m21 0h3m-49 2h3m6 1h3m53 0h3m75 0h3m-117 1h3m-8 1h3m-2 0h3m37 1h3m-71 1h3m-54 1h3m154 0h3m-111 1h3m49 0h3m-60 1h3m67 0h3m15 0h3m34 0h3m-155 1h3m19 0h3m28 0h3m4 0h3m4 0h3m13 0h3m33 0h3m9 0h3m-23 1h3m0 0h3m68 0h3m-86 1h3m26 0h3m-49 1h3m5 0h3m0 0h3m-33 1h3m2 0h3m54 0h3m16 0h3m-81 2h3m51 0h3m-153 1h3m135 0h3m-63 1h3m31 0h3m-15 1h3m-12 1h3m11 0h3m-50 1h3m23 0h3m6 0h3m16 0h3m3 0h3m5 0h3m77 0h3m-123 1h3m10 0h3m81 0h3m-167 1h3m23 0h3m82 0h3m-85 1h3m17 0h3m29 0h3m56 0h3m-71 1h3m-2 0h3m16 0h3m2 0h3m8 0h3m30 0h3m-67 1h3m53 0h3m4 0h3m28 0h3m-1 1h3m0 0h3m10 0h3m-181 1h3m-1 0h3m82 0h3m12 0h3m47 0h3m-110 1h3m65 0h3m-88 1h3m38 0h3m32 0h3m98 0h3m-181 1h3m5 0h3m14 0h3m20 0h3m27 0h3m11 0h3m33 0h3m-123 1h3m93 0h3m1 0h3m50 0h3m-169 1h3m1 0h3m12 1h3m16 0h3m17 0h3m27 0h3m9 0h3m8 0h3m14 0h3m-95 1h3m67 0h3m2 0h3m-65 1h3m152 0h3m-228 1h3m9 0h3m16 0h3m16 0h3m7 0h3m24 0h3m10 0h3m60 0h3m22 0h3m-147 1h3m6 0h3m-3 0h3m8 0h3m65 0h3m20 0h3m-189 1h3m32 0h3m19 0h3m2 0h3m43 0h3m7 0h3m16 0h3m2 0h3m-108 1h3m19 0h3m3 0h3m23 0h3m4 0h3m-48 1h3m8 0h3m45 0h3m4 0h3m2 0h3m-56 1h3m3 0h3m7 0h3m25 0h3m7 0h3m41 0h3m-106 1h3m15 0h3m33 0h3m8 0h3m-2 0h3m17 0h3m34 0h3m-2 0h3m-157 1h3m22 0h3m4 0h3m-2 0h3m0 0h3m21 0h3m62 0h3m-107 1h3m19 0h3m2 0h3m44 0h3m24 0h3m6 0h3m5 0h3m-146 1h3m1 0h3m4 0h3m66 0h3m36 0h3m12 0h3m3 0h3m7 0h3m2 0h3m2 0h3m-162 1h3m-1 0h3m47 0h3m30 0h3m74 0h3m-1 0h3m-154 1h3m6 0h3m61 0h3m21 0h3m25 0h3m-155 1h3m8 0h3m-1 0h3m24 0h3m5 0h3m49 0h3m7 0h3m6 0h3m5 0h3m1 0h3m3 0h3m86 0h3m-209 1h3m-3 0h3m34 0h3m2 0h3m27 0h3m-3 0h3m0 0h3m13 0h3m11 0h3m1 0h3m2 0h3m11 0h3m6 0h3m3 0h3m2 0h3m-2 0h3m-172 1h3m4 0h3m2 0h3m24 0h3m57 0h3m1 0h3m4 0h3m8 0h3m1 0h3m8 0h3m13 0h3m10 0h3m9 0h3m-191 1h3m1 0h3m20 0h3m-2 0h3m63 0h3m4 0h3m5 0h3m0 0h3m4 0h3m2 0h3m27 0h3m-2 0h3m-1 0h3m0 0h3m-2 0h3m3 0h3m11 0h3m-157 1h3m21 0h3m15 0h3m-3 0h3m-3 0h3m26 0h3m24 0h3m4 0h3m4 0h3m11 0h3m-3 0h3m6 0h3m-1 0h3m0 0h3m-1 0h3m-161 1h3m8 0h3m4 0h3m29 0h3m1 0h3m7 0h3m13 0h3m-2 0h3m29 0h3m2 0h3m2 0h3m4 0h3m0 0h3m0 0h3m3 0h3m0 0h3m4 0h3m16 0h3m-198 1h3m15 0h3m9 0h3m15 0h3m4 0h3m-3 0h3m-2 0h3m5 0h3m2 0h3m2 0h3m-2 0h3m53 0h3m-1 0h3m8 0h3m13 0h3m6 0h3m2 0h3m3 0h3m3 0h3m4 0h3m53 0h3m-221 1h3m-1 0h3m21 0h3m8 0h3m20 0h3m47 0h3m2 0h3m7 0h3m10 0h3m2 0h3m10 0h3m-3 0h3m8 0h3m-187 1h3m15 0h3m1 0h3m-3 0h3m4 0h3m3 0h3m0 0h3m2 0h3m-3 0h3m5 0h3m-2 0h3m38 0h3m6 0h3m13 0h3m3 0h3m-2 0h3m1 0h3m9 0h3m-1 0h3m-1 0h3m-3 0h3m-2 0h3m27 0h3m5 0h3m-2 0h3m-157 1h3m22 0h3m0 0h3m1 0h3m14 0h3m-2 0h3m15 0h3m14 0h3m4 0h3m-1 0h3m6 0h3m2 0h3m-125 1h3m2 0h3m-3 0h3m-2 0h3m36 0h3m8 0h3m28 0h3m11 0h3m-1 0h3m-2 0h3m112 0h3m-242 1h3m7 0h3m-2 0h3m8 0h3m42 0h3m16 0h3m-1 0h3m35 0h3m-3 0h3m-16 1h3m1 0h3m64 0h3m3 0h3m0 0h3m21 0h3m-199 1h3m44 0h3m0 0h3m14 0h3m5 0h3m3 0h3m0 0h3m-2 0h3m74 0h3m0 0h3m3 0h3m-175 1h3m52 0h3m4 0h3m12 0h3m5 0h3m-2 0h3m-22 1h3m7 0h3m-2 0h3m0 0h3m-1 0h3m-88 1h3m50 0h3m9 0h3m1 0h3m1 0h3m4 0h3m-104 1h3m77 0h3m16 0h3m89 0h3m-191 1h3m84 0h3m0 0h3m0 0h3m-3 0h3m96 0h3m19 0h3m-220 1h3m5 0h3m8 0h3m57 0h3m133 0h3m-131 1h3m1 0h3m141 0h3m-225 1h3m66 0h3m0 0h3m104 0h3m-4 1h3m-1 0h3m-188 1h3m177 0h3m-2 0h3m-1 0h3m-1 0h3m4 1h3m2 0h3m-196 1h3m184 0h3m65 0h3m-262 1h3m189 0h3m13 0h3m-216 1h3m7 0h3m0 0h3m-12 2h3m179 0h3m-3 0h3m-2 0h3m0 0h3m-187 1h3m-1 0h3m-1 0h3m173 0h3m-178 3h3m175 0h3m-192 1h3m6 0h3m-2 0h3m178 0h3m-188 1h3m-3 0h3m182 0h3m-190 1h3m182 0h3m-183 1h3m181 0h3m-192 1h3m1 0h3m-1 0h3m222 0h3m-243 1h3m13 0h3m-12 1h3m2 1h3m180 0h3m-2 0h3m-5 1h3m-184 1h3m176 0h3m0 0h3m16 0h3m-21 1h3m-204 2h3m196 1h3m-1 1h3m-185 1h3m177 1h3m-193 1h3m5 1h3m186 0h3m0 0h3m-203 1h3m186 0h3m2 2h3m-188 1h3m-1 0h3m180 0h3m-187 1h3m-1 0h3m172 0h3m-180 1h3m0 0h3m-2 0h3m169 0h3m-1 0h3m-3 0h3m11 0h3m-196 1h3m175 1h3m-182 1h3m177 0h3m-181 1h3m174 0h3m5 0h3m-190 1h3m177 0h3m-1 0h3m6 1h3m-191 1h3m1 0h3m-6 1h3m1 0h3m175 1h3m-15 1h3m1 0h3m2 0h3m-184 1h3m1 0h3m73 0h3m1 0h3m88 0h3m-167 1h3m51 0h3m3 0h3m-2 0h3m7 0h3m84 0h3m9 0h3m-2 0h3m1 0h3m-183 1h3m1 0h3m47 0h3m15 0h3m10 0h3m74 0h3m-116 1h3m14 0h3m0 0h3m2 0h3m1 0h3m6 0h3m11 0h3m66 0h3m0 0h3m-175 1h3m9 0h3m34 0h3m2 0h3m11 0h3m-3 0h3m1 0h3m8 0h3m-2 0h3m3 0h3m7 0h3m14 0h3m-1 0h3m36 0h3m0 0h3m2 0h3m2 0h3m-166 1h3m35 0h3m-3 0h3m0 0h3m-1 0h3m1 0h3m25 0h3m2 0h3m-3 0h3m10 0h3m-1 0h3m16 0h3m-3 0h3m0 0h3m15 0h3m16 0h3m-158 1h3m16 0h3m9 0h3m4 0h3m12 0h3m23 0h3m0 0h3m11 0h3m21 0h3m3 0h3m-2 0h3m8 0h3m6 0h3m-2 0h3m-1 0h3m-2 0h3m0 0h3m10 0h3m1 0h3m-192 1h3m22 0h3m3 0h3m0 0h3m0 0h3m14 0h3m7 0h3m1 0h3m17 0h3m29 0h3m18 0h3m-1 0h3m-2 0h3m19 0h3m15 0h3m-182 1h3m7 0h3m14 0h3m19 0h3m50 0h3m1 0h3m-3 0h3m2 0h3m5 0h3m-1 0h3m6 0h3m24 0h3m-2 0h3m1 0h3m-146 1h3m0 0h3m11 0h3m-3 0h3m4 0h3m-3 0h3m7 0h3m65 0h3m2 0h3m27 0h3m15 0h3m-148 1h3m22 0h3m55 0h3m2 0h3m2 0h3m5 0h3m20 0h3m8 0h3m-1 0h3m-2 0h3m-161 1h3m-1 0h3m20 0h3m12 0h3m30 0h3m24 0h3m-1 0h3m54 0h3m4 0h3m7 0h3m-159 1h3m-1 0h3m5 0h3m8 0h3m-1 0h3m4 0h3m56 0h3m16 0h3m9 0h3m-135 1h3m129 0h3m17 0h3m-177 1h3m24 0h3m39 0h3m43 0h3m33 0h3m-2 0h3m-61 1h3m-1 0h3m33 0h3m43 0h3m-135 1h3m-22 1h3m16 0h3m107 0h3m-110 1h3m35 0h3m7 0h3m-53 1h3m92 0h3m-14 1h3m25 0h3m4 0h3m-153 1h3m4 0h3m62 0h3m45 1h3m48 3h3m-143 1h3m-45 1h3m160 0h3m-40 3h3m-123 1h3" stroke="#111" stroke-width="3.2" fill="none"/>
<path d="M155.6 195.1L156.0 193.9L156.5 192.8L157.2 191.9L158.1 191.2L159.2 190.6L160.4 190.3L161.6 190.1L162.9 190.1L164.4 190.2L165.7 190.5L166.9 190.9L168.1 191.3L169.2 191.9L170.2 192.3L171.2 192.7L172.1 193.0L173.0 193.1L174.0 193.1L175.0 193.0L176.2 192.6L177.4 192.1L178.9 191.6L180.6 191.2L182.5 190.9L184.6 190.5L186.7 190.3L188.9 190.1L191.0 189.9L193.2 189.7L194.9 189.8L196.3 190.0L197.3 190.4L198.0 191.1L198.5 192.2L198.8 193.8L199.0 196.0L199.1 198.6L199.0 200.8L198.8 202.6L198.4 203.9L197.9 204.8L196.9 205.5L195.5 206.0L193.6 206.3L191.3 206.4L188.8 206.5L186.2 206.4L183.5 206.2L180.7 205.9L178.3 205.7L176.5 205.4L175.1 205.2L174.2 205.1L173.2 205.0L172.2 205.1L171.0 205.3L169.8 205.7L168.4 206.0L166.9 206.2L165.2 206.5L163.5 206.6L161.9 206.6L160.4 206.5L159.2 206.1L158.1 205.6L157.2 205.0L156.5 204.3L156.0 203.4L155.6 202.6L155.4 201.6L155.2 200.6L155.1 199.6L155.1 198.6L155.2 197.5L155.4 196.3Z" fill="none" stroke="#000" stroke-width="1.5" opacity="0.8" filter="url(#bl04)"/>
<path d="M155.6 195.1L156.0 193.9L156.5 192.8L157.2 191.9L158.1 191.2L159.2 190.6L160.4 190.3L161.6 190.1L162.9 190.1L164.4 190.2L165.7 190.5L166.9 190.9L168.1 191.3L169.2 191.9L170.2 192.3L171.2 192.7L172.1 193.0L173.0 193.1L174.0 193.1L175.0 193.0L176.2 192.6L177.4 192.1L178.9 191.6L180.6 191.2L182.5 190.9L184.6 190.5L186.7 190.3L188.9 190.1L191.0 189.9L193.2 189.7L194.9 189.8L196.3 190.0L197.3 190.4L198.0 191.1L198.5 192.2L198.8 193.8L199.0 196.0L199.1 198.6L199.0 200.8L198.8 202.6L198.4 203.9L197.9 204.8L196.9 205.5L195.5 206.0L193.6 206.3L191.3 206.4L188.8 206.5L186.2 206.4L183.5 206.2L180.7 205.9L178.3 205.7L176.5 205.4L175.1 205.2L174.2 205.1L173.2 205.0L172.2 205.1L171.0 205.3L169.8 205.7L168.4 206.0L166.9 206.2L165.2 206.5L163.5 206.6L161.9 206.6L160.4 206.5L159.2 206.1L158.1 205.6L157.2 205.0L156.5 204.3L156.0 203.4L155.6 202.6L155.4 201.6L155.2 200.6L155.1 199.6L155.1 198.6L155.2 197.5L155.4 196.3Z" fill="#c6c6c6" stroke="#1a1a1a" stroke-width="0.8"/>
<path d="M164.0 205.8L163.0 205.8L162.0 205.8L161.1 205.5L160.5 205.3L159.5 205.3L159.0 204.9L158.1 204.5L157.6 204.0L157.2 203.5L157.0 202.9L156.6 202.0L156.2 201.5L156.2 200.5L156.2 199.5L156.2 198.5L156.2 197.5L156.2 196.5L156.6 196.0L156.7 195.0L157.0 194.1L157.2 193.5L157.6 193.0L158.1 192.5L158.6 192.0L159.5 191.7L160.1 191.5L161.0 191.2L162.0 191.2L163.0 191.2L164.0 191.2L165.0 191.2L165.5 191.6L166.5 191.7L167.0 192.1L167.9 192.5L168.5 192.7L169.0 193.1L170.0 193.2L170.5 193.6L171.5 193.7L172.0 194.1L173.0 194.2L174.0 194.2L175.0 194.1L175.5 193.7L176.5 193.6L177.0 193.2L178.0 193.1L178.5 192.7L179.5 192.6L180.0 192.2L181.0 192.2L182.0 192.1L182.5 191.7L183.5 191.7L184.5 191.7L185.5 191.6L186.0 191.2L187.0 191.2L188.0 191.2L189.0 191.2L190.0 191.1L190.5 190.7L191.5 190.7L192.5 190.7L193.5 190.7L194.5 190.7L195.5 190.7L196.0 191.1L196.9 191.5L197.3 192.0L197.5 192.6L197.8 193.5L197.8 194.5L197.8 195.5L198.0 196.1L198.3 197.0L198.3 198.0L198.3 199.0L198.3 200.0L197.9 200.5L197.8 201.5L197.8 202.5L197.5 203.4L197.3 204.0L196.5 204.4L196.0 204.8L195.4 205.0L194.5 205.3L193.5 205.3L192.5 205.3L191.5 205.3L190.5 205.3L189.5 205.3L188.5 205.3L187.5 205.3L186.5 205.3L185.5 205.3L184.5 205.3L183.5 205.3L182.5 205.3L182.0 204.9L181.0 204.8L180.0 204.8L179.0 204.8L178.0 204.8L177.1 204.5L176.5 204.3L175.5 204.3L174.5 204.3L173.5 204.3L172.5 204.3L171.5 204.3L170.5 204.3L169.9 204.5L169.0 204.8L168.0 204.9L167.5 205.3L166.5 205.3L165.5 205.3L164.5 205.4L164.0 205.8Z" fill="#d2d2d2" stroke="#444" stroke-width=".55"/>
<path d="M163.5 204.6L162.5 204.6L161.8 204.5L161.0 204.2L160.0 204.1L159.5 203.8L158.9 203.5L158.4 203.0L158.0 202.2L157.7 201.5L157.4 201.0L157.4 200.0L157.4 199.0L157.4 198.0L157.4 197.0L157.7 196.5L157.9 195.5L158.0 194.8L158.4 194.0L158.9 193.5L159.4 193.0L160.0 192.8L160.8 192.5L161.5 192.4L162.5 192.4L163.5 192.4L164.5 192.4L165.0 192.7L166.0 192.9L166.5 193.2L167.2 193.5L168.0 193.9L168.5 194.2L169.5 194.4L170.0 194.7L171.0 194.9L171.5 195.2L172.5 195.4L173.5 195.4L174.5 195.4L175.5 195.2L176.0 194.9L177.0 194.7L177.5 194.4L178.5 194.2L179.0 193.9L180.0 193.7L180.5 193.4L181.5 193.4L182.5 193.2L183.0 192.9L184.0 192.9L185.0 192.9L186.0 192.7L186.5 192.4L187.5 192.4L188.5 192.4L189.5 192.4L190.5 192.2L191.0 191.9L192.0 191.9L193.0 191.9L194.0 191.9L195.0 191.9L195.5 192.2L196.1 192.5L196.5 193.3L196.6 194.0L196.6 195.0L196.7 196.0L197.0 196.8L197.1 197.5L197.1 198.5L197.1 199.5L196.8 200.0L196.6 201.0L196.6 202.0L196.5 202.7L196.0 203.3L195.5 203.6L194.7 204.0L194.0 204.1L193.0 204.1L192.0 204.1L191.0 204.1L190.0 204.1L189.0 204.1L188.0 204.1L187.0 204.1L186.0 204.1L185.0 204.1L184.0 204.1L183.0 204.1L182.5 203.8L181.5 203.6L180.5 203.6L179.5 203.6L178.5 203.6L177.8 203.5L177.0 203.2L176.0 203.1L175.0 203.1L174.0 203.1L173.0 203.1L172.0 203.1L171.0 203.1L170.0 203.2L169.2 203.5L168.5 203.6L167.5 203.8L167.0 204.1L166.0 204.1L165.0 204.1L164.0 204.3L163.5 204.6Z" fill="#dcdcdc" stroke="#555" stroke-width=".55"/>
<path d="M164.0 203.0L163.0 203.4L162.0 203.2L161.3 203.0L160.5 202.9L159.6 202.5L159.3 202.0L159.0 201.5L158.6 200.5L158.6 199.5L158.6 198.5L158.6 197.5L159.0 196.5L159.1 196.0L159.3 195.0L159.6 194.5L160.3 194.0L161.0 193.8L162.0 193.6L163.0 193.6L164.0 193.6L165.0 194.0L165.5 194.1L166.5 194.5L167.0 194.8L167.5 195.0L168.5 195.5L169.0 195.6L170.0 196.0L170.5 196.1L171.5 196.5L172.0 196.6L173.0 196.6L174.0 196.6L175.0 196.6L175.5 196.5L176.5 196.1L177.0 196.0L178.0 195.6L178.5 195.5L179.5 195.1L180.0 195.0L181.0 194.6L182.0 194.6L182.5 194.5L183.5 194.1L184.5 194.1L185.5 194.1L186.0 194.0L187.0 193.6L188.0 193.6L189.0 193.6L190.0 193.6L190.5 193.5L191.5 193.1L192.5 193.1L193.5 193.1L194.5 193.1L195.2 193.5L195.4 194.5L195.4 195.5L195.5 196.3L195.7 197.0L195.9 198.0L195.9 199.0L195.5 200.0L195.4 200.5L195.4 201.5L195.0 202.5L194.5 202.7L193.5 202.9L192.5 202.9L191.5 202.9L190.5 202.9L189.5 202.9L188.5 202.9L187.5 202.9L186.5 202.9L185.5 202.9L184.5 202.9L183.5 202.9L182.5 202.5L182.0 202.4L181.0 202.4L180.0 202.4L179.0 202.4L178.0 202.2L177.3 202.0L176.5 201.9L175.5 201.9L174.5 201.9L173.5 201.9L172.5 201.9L171.5 201.9L170.5 201.9L169.7 202.0L169.0 202.2L168.0 202.4L167.5 202.5L166.5 202.9L165.5 202.9L164.5 202.9L164.0 203.0Z" fill="#e5e5e5" stroke="#606060" stroke-width=".55"/>
<path d="M163.0 202.0L162.4 202.0L161.5 201.7L160.5 201.5L160.2 201.0L160.0 200.5L159.9 199.5L159.9 198.5L160.0 197.5L160.2 197.0L160.4 196.0L160.5 195.5L161.4 195.0L162.0 194.9L163.0 194.9L164.0 195.0L164.5 195.2L165.5 195.5L166.0 195.7L166.6 196.0L167.5 196.5L168.0 196.7L169.0 197.0L169.5 197.2L170.5 197.5L171.0 197.7L172.0 197.9L173.0 197.9L174.0 197.9L175.0 197.9L176.0 197.7L176.5 197.5L177.5 197.2L178.0 197.0L179.0 196.7L179.5 196.5L180.5 196.2L181.0 196.0L182.0 195.9L183.0 195.7L183.5 195.5L184.5 195.4L185.5 195.4L186.5 195.2L187.0 195.0L188.0 194.9L189.0 194.9L190.0 194.9L191.0 194.7L191.5 194.5L192.5 194.4L193.5 194.4L194.1 194.5L194.1 195.5L194.2 196.5L194.5 197.4L194.6 198.0L194.5 199.0L194.3 199.5L194.1 200.5L194.0 201.5L193.5 201.6L192.5 201.6L191.5 201.6L190.5 201.6L189.5 201.6L188.5 201.6L187.5 201.6L186.5 201.6L185.5 201.6L184.5 201.6L183.5 201.5L183.0 201.3L182.0 201.1L181.0 201.1L180.0 201.1L179.0 201.1L178.4 201.0L177.5 200.7L176.5 200.6L175.5 200.6L174.5 200.6L173.5 200.6L172.5 200.6L171.5 200.6L170.5 200.6L169.5 200.7L168.6 201.0L168.0 201.1L167.0 201.3L166.5 201.5L165.5 201.6L164.5 201.6L163.5 201.8L163.0 202.0Z" fill="#ededed" stroke="#6a6a6a" stroke-width=".55"/>
<path d="M192.5 200.2L191.5 200.2L190.5 200.2L189.5 200.2L188.5 200.2L187.5 200.2L186.5 200.2L185.5 200.2L184.5 200.2L183.5 200.0L183.0 199.9L182.0 199.7L181.0 199.7L180.0 199.7L179.0 199.7L178.4 199.5L177.5 199.3L176.5 199.0L176.5 199.0L177.5 198.6L178.0 198.5L179.0 198.1L179.5 198.0L180.5 197.6L181.0 197.5L182.0 197.3L183.0 197.1L183.5 197.0L184.5 196.8L185.5 196.8L186.5 196.6L187.0 196.5L188.0 196.3L189.0 196.3L190.0 196.3L191.0 196.1L191.5 196.0L192.5 195.8L192.8 196.5L193.0 197.4L193.2 198.0L193.0 199.0L192.9 199.5L192.5 200.2ZM163.0 200.5L162.4 200.5L161.5 200.2L161.3 199.5L161.3 198.5L161.5 197.5L161.6 197.0L162.0 196.3L163.0 196.3L164.0 196.5L164.5 196.6L165.4 197.0L166.0 197.3L166.5 197.5L167.5 198.0L168.0 198.1L169.0 198.5L169.5 198.6L170.5 199.0L170.5 199.0L169.5 199.3L168.6 199.5L168.0 199.7L167.0 199.9L166.5 200.0L165.5 200.2L164.5 200.2L163.5 200.4L163.0 200.5Z" fill="#f4f4f4" stroke="#777" stroke-width=".55"/>
<path d="M191.0 198.5L190.0 198.5L190.0 198.0L191.0 197.9L191.0 198.5ZM164.5 198.5L163.5 198.6L163.5 198.2L164.5 198.5L164.5 198.5Z" fill="#f9f9f9" stroke="#777" stroke-width=".55"/>
<ellipse cx="162" cy="199" rx="4.2" ry="3.6" fill="#e4e4e4" stroke="#666" stroke-width=".5"/>
<ellipse cx="188" cy="199.5" rx="5" ry="1.5" fill="#f4f4f4" stroke="#888" stroke-width=".5"/>
</g>
<path d="M150 212.2h-2.2M150 207.15h-1.2M150 202.09h-1.2M150 199.13h-1.2M150 197.04h-1.2M150 195.41h-2.2M150 190.35h-1.2M150 185.3h-1.2M150 182.34h-1.2M150 180.24h-1.2M150 178.62h-2.2M150 173.56h-1.2M150 168.51h-1.2M150 165.55h-1.2M150 163.45h-1.2M150 161.83h-2.2M150 156.77h-1.2M150 151.72h-1.2M150 148.76h-1.2M150 146.66h-1.2M150 145.03h-2.2" stroke="#111" stroke-width=".6" fill="none"/>
<path d="M152 214.2v2.4M157.06 214.2v1.5M162.12 214.2v1.5M165.08 214.2v1.5M167.19 214.2v1.5M168.81 214.2v2.4M173.88 214.2v1.5M178.94 214.2v1.5M181.9 214.2v1.5M184 214.2v1.5M185.63 214.2v2.4M190.69 214.2v1.5M195.75 214.2v1.5M198.71 214.2v1.5M200.82 214.2v1.5M202.44 214.2v2.4M207.51 214.2v1.5M212.57 214.2v1.5M215.53 214.2v1.5M217.63 214.2v1.5M219.26 214.2v2.4" stroke="#111" stroke-width=".75" fill="none"/>
<rect x="150" y="143.5" width="70.8" height="70.7" fill="none" stroke="#111" stroke-width="1.2"/>
<rect x="179.8" y="145.8" width="36.7" height="41.2" fill="none" stroke="#777" stroke-width="0.8"/>
<text x="185.6" y="155.2" font-size="8.3" stroke="#111" stroke-width="0.12" textLength="10.7" lengthAdjust="spacingAndGlyphs">1.6</text>
<text x="245.8" y="138.8" font-size="8.3" stroke="#111" stroke-width="0.12" textLength="32.7" lengthAdjust="spacingAndGlyphs">MM-free</text>
<clipPath id="cD2"><rect x="227.1" y="143.5" width="70.6" height="70.7"/></clipPath>
<g clip-path="url(#cD2)">
<ellipse cx="262" cy="182" rx="31.2" ry="18.2" fill="url(#gh)" fill-opacity="0.14"/>
<ellipse cx="256" cy="190" rx="39" ry="9.1" fill="url(#gh)" fill-opacity="0.24"/>
<path transform="scale(.25)" d="M1127 652h3m8 37h3m-128 1h3m50 2h3m14 1h3m-80 1h3m20 0h3m47 0h3m-18 1h3m56 1h3m-53 1h3m6 0h3m31 1h3m-32 1h3m39 0h3m-80 2h3m-43 1h3m92 1h3m-28 1h3m-49 1h3m13 0h3m-108 3h3m80 0h3m9 0h3m8 0h3m11 0h3m-78 1h3m26 0h3m4 0h3m7 0h3m4 0h3m5 0h3m64 0h3m-126 1h3m14 0h3m16 0h3m-14 1h3m-48 1h3m68 0h3m14 0h3m-47 1h3m-30 1h3m20 1h3m3 0h3m10 2h3m80 0h3m-66 1h3m-48 1h3m-29 1h3m70 1h3m-15 1h3m47 1h3m-67 1h3m9 0h3m19 0h3m11 0h3m-56 1h3m11 0h3m50 0h3m-73 1h3m41 0h3m-10 1h3m66 1h3m-123 1h3m37 0h3m23 0h3m31 0h3m-3 0h3m-114 1h3m9 0h3m10 0h3m31 0h3m59 0h3m-122 1h3m120 0h3m-32 1h3m5 0h3m-105 1h3m74 0h3m-126 1h3m18 0h3m49 0h3m-41 2h3m44 0h3m8 0h3m38 0h3m-2 0h3m-45 1h3m48 0h3m-88 1h3m1 0h3m-81 1h3m82 0h3m8 0h3m54 0h3m2 0h3m-146 1h3m41 0h3m10 0h3m68 0h3m-77 1h3m-1 0h3m10 0h3m29 0h3m2 0h3m24 0h3m-2 0h3m-28 1h3m-115 1h3m22 0h3m86 0h3m42 0h3m-149 1h3m0 0h3m18 0h3m10 0h3m-2 0h3m-3 0h3m4 0h3m-84 1h3m53 0h3m63 0h3m1 0h3m-101 1h3m42 0h3m47 0h3m53 0h3m-135 1h3m-1 0h3m13 0h3m29 0h3m78 0h3m-165 1h3m6 0h3m82 0h3m48 0h3m-152 1h3m53 0h3m13 0h3m19 0h3m-58 1h3m10 0h3m21 0h3m15 0h3m-102 1h3m26 0h3m10 0h3m31 0h3m37 0h3m-87 1h3m63 0h3m0 0h3m15 0h3m28 0h3m15 0h3m23 0h3m-173 1h3m15 0h3m11 0h3m10 0h3m-2 0h3m18 0h3m23 0h3m36 0h3m14 0h3m20 0h3m-159 1h3m-3 0h3m9 0h3m-2 0h3m26 0h3m0 0h3m5 0h3m2 0h3m4 0h3m6 0h3m13 0h3m11 0h3m-123 1h3m32 0h3m23 0h3m-1 0h3m7 0h3m31 0h3m55 0h3m-182 1h3m42 0h3m11 0h3m2 0h3m0 0h3m20 0h3m4 0h3m6 0h3m10 0h3m8 0h3m25 0h3m-159 1h3m67 0h3m-1 0h3m-1 0h3m4 0h3m0 0h3m20 0h3m13 0h3m14 0h3m-128 1h3m4 0h3m21 0h3m0 0h3m26 0h3m12 0h3m39 0h3m25 0h3m-171 1h3m37 0h3m19 0h3m41 0h3m19 0h3m-2 0h3m3 0h3m0 0h3m3 0h3m-2 0h3m6 0h3m15 0h3m-188 1h3m7 0h3m38 0h3m34 0h3m6 0h3m9 0h3m-1 0h3m-1 0h3m0 0h3m-2 0h3m27 0h3m22 0h3m-169 1h3m8 0h3m12 0h3m13 0h3m28 0h3m28 0h3m-2 0h3m3 0h3m14 0h3m18 0h3m7 0h3m2 0h3m-167 1h3m11 0h3m8 0h3m27 0h3m38 0h3m12 0h3m12 0h3m3 0h3m0 0h3m4 0h3m5 0h3m49 0h3m-184 1h3m41 0h3m26 0h3m1 0h3m5 0h3m8 0h3m4 0h3m-2 0h3m-1 0h3m7 0h3m1 0h3m13 0h3m-2 0h3m-172 1h3m7 0h3m25 0h3m0 0h3m1 0h3m-2 0h3m54 0h3m4 0h3m34 0h3m0 0h3m3 0h3m-2 0h3m16 0h3m12 0h3m41 0h3m-235 1h3m10 0h3m3 0h3m0 0h3m1 0h3m10 0h3m2 0h3m6 0h3m22 0h3m4 0h3m4 0h3m-2 0h3m-1 0h3m19 0h3m0 0h3m3 0h3m7 0h3m2 0h3m14 0h3m2 0h3m4 0h3m-1 0h3m14 0h3m-172 1h3m24 0h3m8 0h3m-2 0h3m19 0h3m23 0h3m3 0h3m1 0h3m1 0h3m8 0h3m5 0h3m19 0h3m0 0h3m3 0h3m-3 0h3m4 0h3m23 0h3m-200 1h3m17 0h3m6 0h3m19 0h3m4 0h3m9 0h3m-3 0h3m16 0h3m13 0h3m-2 0h3m10 0h3m0 0h3m12 0h3m0 0h3m7 0h3m-1 0h3m0 0h3m3 0h3m7 0h3m0 0h3m-159 1h3m1 0h3m0 0h3m14 0h3m-1 0h3m0 0h3m-1 0h3m11 0h3m4 0h3m10 0h3m-1 0h3m3 0h3m7 0h3m7 0h3m-3 0h3m-2 0h3m8 0h3m0 0h3m16 0h3m14 0h3m8 0h3m3 0h3m-138 1h3m1 0h3m17 0h3m19 0h3m8 0h3m-2 0h3m4 0h3m11 0h3m0 0h3m2 0h3m8 0h3m0 0h3m2 0h3m-2 0h3m3 0h3m-1 0h3m9 0h3m-2 0h3m-3 0h3m-3 0h3m2 0h3m-168 1h3m-2 0h3m1 0h3m25 0h3m16 0h3m9 0h3m4 0h3m1 0h3m10 0h3m-113 1h3m3 0h3m2 0h3m-2 0h3m77 0h3m16 0h3m72 0h3m7 0h3m-191 1h3m13 0h3m42 0h3m1 0h3m4 0h3m1 0h3m1 0h3m7 0h3m121 0h3m-205 1h3m48 0h3m-1 0h3m5 0h3m14 0h3m-79 1h3m50 0h3m2 0h3m107 0h3m-183 1h3m68 0h3m105 0h3m21 0h3m-208 1h3m4 0h3m172 0h3m-3 0h3m7 0h3m-200 1h3m7 0h3m-2 0h3m177 0h3m-193 1h3m2 0h3m-1 1h3m177 0h3m-1 0h3m6 0h3m-193 1h3m-3 0h3m-16 1h3m236 0h3m-245 1h3m11 0h3m193 0h3m-199 1h3m179 0h3m5 0h3m-5 1h3m-196 1h3m-20 1h3m19 0h3m178 0h3m-3 1h3m-4 1h3m-193 1h3m1 0h3m-8 1h3m190 0h3m-1 0h3m-207 1h3m15 0h3m-9 1h3m187 0h3m-3 0h3m1 0h3m-192 1h3m182 0h3m50 0h3m-243 1h3m192 0h3m-199 1h3m0 0h3m182 0h3m10 0h3m-203 1h3m-1 0h3m-4 1h3m195 0h3m-201 1h3m184 0h3m1 1h3m-4 1h3m-198 3h3m1 0h3m188 1h3m-2 0h3m1 0h3m17 0h3m-29 1h3m0 1h3m-195 1h3m-2 0h3m182 1h3m3 0h3m-203 1h3m-2 0h3m2 0h3m-2 0h3m-15 1h3m3 0h3m6 0h3m179 1h3m-1 1h3m-3 1h3m-190 2h3m-2 0h3m-1 0h3m-3 0h3m177 0h3m-2 0h3m-195 1h3m10 0h3m-2 0h3m-13 1h3m5 0h3m-2 0h3m61 0h3m3 0h3m110 0h3m-122 1h3m108 0h3m-1 0h3m-179 1h3m1 0h3m-3 0h3m166 0h3m-2 0h3m2 0h3m-187 1h3m67 0h3m8 0h3m93 0h3m2 0h3m-185 1h3m5 0h3m-2 0h3m47 0h3m19 0h3m-1 0h3m-2 0h3m9 0h3m-2 0h3m1 0h3m-2 0h3m68 0h3m1 0h3m10 0h3m-182 1h3m43 0h3m-3 0h3m-2 0h3m11 0h3m0 0h3m-2 0h3m0 0h3m9 0h3m-3 0h3m13 0h3m2 0h3m-100 1h3m-1 0h3m58 0h3m3 0h3m11 0h3m1 0h3m-2 0h3m6 0h3m11 0h3m3 0h3m20 0h3m7 0h3m-2 0h3m3 0h3m-172 1h3m48 0h3m47 0h3m-2 0h3m0 0h3m0 0h3m-1 0h3m-2 0h3m-1 0h3m6 0h3m11 0h3m3 0h3m1 0h3m1 0h3m3 0h3m-1 0h3m7 0h3m5 0h3m21 0h3m-196 1h3m-2 0h3m2 0h3m3 0h3m1 0h3m28 0h3m-2 0h3m10 0h3m17 0h3m3 0h3m22 0h3m-2 0h3m-1 0h3m10 0h3m9 0h3m6 0h3m5 0h3m-2 0h3m10 0h3m-164 1h3m5 0h3m1 0h3m5 0h3m1 0h3m4 0h3m62 0h3m-3 0h3m-113 1h3m7 0h3m47 0h3m31 0h3m4 0h3m42 0h3m3 0h3m12 0h3m-172 1h3m8 0h3m1 0h3m1 0h3m5 0h3m0 0h3m-1 0h3m-1 0h3m2 0h3m44 0h3m-3 0h3m18 0h3m7 0h3m10 0h3m24 0h3m-146 1h3m5 0h3m25 0h3m33 0h3m20 0h3m-2 0h3m7 0h3m14 0h3m3 0h3m1 0h3m-138 1h3m18 0h3m-2 0h3m61 0h3m32 0h3m31 0h3m20 0h3m-186 1h3m34 0h3m27 0h3m30 0h3m-79 1h3m9 0h3m5 0h3m70 0h3m-119 1h3m26 0h3m71 0h3m44 0h3m10 0h3m-151 1h3m6 0h3m8 0h3m111 0h3m-87 2h3m29 0h3m22 0h3m-104 1h3m43 0h3m47 0h3m-6 1h3m25 0h3m-5 4h3m-120 1h3m52 2h3m9 0h3m-52 1h3m97 0h3m-135 1h3" stroke="#111" stroke-width="3.2" fill="none"/>
<path d="M233.6 197.5L234.0 196.4L234.5 195.5L235.2 194.6L236.1 193.9L237.2 193.3L238.4 192.8L239.6 192.6L240.9 192.4L242.4 192.4L243.7 192.5L244.9 192.6L246.1 192.8L247.2 193.0L248.2 193.3L249.1 193.5L249.9 193.7L250.5 193.8L251.4 193.9L252.5 193.8L253.7 193.6L255.2 193.2L256.8 192.9L258.5 192.7L260.5 192.4L262.6 192.3L264.8 192.2L267.1 192.1L269.6 192.1L272.1 192.3L274.1 192.4L275.7 192.7L276.9 193.0L277.6 193.5L278.1 194.1L278.6 195.1L278.9 196.2L279.0 197.7L279.1 199.0L279.0 200.4L278.8 201.7L278.4 202.9L277.8 203.9L276.8 204.7L275.5 205.2L273.9 205.4L272.0 205.6L269.8 205.7L267.2 205.7L264.4 205.6L261.8 205.5L259.5 205.4L257.4 205.2L255.7 205.1L254.2 204.9L252.9 204.7L252.0 204.5L251.2 204.4L250.5 204.3L249.6 204.5L248.6 204.7L247.5 205.2L246.4 205.5L245.1 205.8L243.8 206.1L242.3 206.3L241.0 206.4L239.6 206.3L238.3 206.2L237.1 205.9L236.0 205.5L235.2 205.0L234.5 204.4L234.1 203.7L233.7 202.9L233.5 202.1L233.3 201.3L233.2 200.4L233.2 199.5L233.4 198.5Z" fill="none" stroke="#000" stroke-width="1.5" opacity="0.8" filter="url(#bl04)"/>
<path d="M233.6 197.5L234.0 196.4L234.5 195.5L235.2 194.6L236.1 193.9L237.2 193.3L238.4 192.8L239.6 192.6L240.9 192.4L242.4 192.4L243.7 192.5L244.9 192.6L246.1 192.8L247.2 193.0L248.2 193.3L249.1 193.5L249.9 193.7L250.5 193.8L251.4 193.9L252.5 193.8L253.7 193.6L255.2 193.2L256.8 192.9L258.5 192.7L260.5 192.4L262.6 192.3L264.8 192.2L267.1 192.1L269.6 192.1L272.1 192.3L274.1 192.4L275.7 192.7L276.9 193.0L277.6 193.5L278.1 194.1L278.6 195.1L278.9 196.2L279.0 197.7L279.1 199.0L279.0 200.4L278.8 201.7L278.4 202.9L277.8 203.9L276.8 204.7L275.5 205.2L273.9 205.4L272.0 205.6L269.8 205.7L267.2 205.7L264.4 205.6L261.8 205.5L259.5 205.4L257.4 205.2L255.7 205.1L254.2 204.9L252.9 204.7L252.0 204.5L251.2 204.4L250.5 204.3L249.6 204.5L248.6 204.7L247.5 205.2L246.4 205.5L245.1 205.8L243.8 206.1L242.3 206.3L241.0 206.4L239.6 206.3L238.3 206.2L237.1 205.9L236.0 205.5L235.2 205.0L234.5 204.4L234.1 203.7L233.7 202.9L233.5 202.1L233.3 201.3L233.2 200.4L233.2 199.5L233.4 198.5Z" fill="#c6c6c6" stroke="#1a1a1a" stroke-width="0.8"/>
<path d="M243.6 205.3L242.6 205.3L241.6 205.3L240.6 205.3L239.6 205.3L238.6 205.3L237.7 205.0L237.1 204.8L236.2 204.5L235.7 204.0L235.2 203.5L234.8 203.0L234.6 202.4L234.3 201.5L234.3 200.5L234.3 199.5L234.3 198.5L234.7 198.0L234.8 197.0L235.2 196.5L235.6 195.6L236.1 195.1L236.6 194.7L237.2 194.5L238.1 194.1L238.6 193.7L239.6 193.7L240.2 193.5L241.1 193.2L242.1 193.2L243.1 193.2L243.6 193.6L244.6 193.7L245.6 193.7L246.5 194.0L247.1 194.2L248.1 194.2L249.0 194.5L249.6 194.7L250.6 194.7L251.6 194.7L252.6 194.7L253.6 194.7L254.2 194.5L255.1 194.2L256.1 194.2L256.7 194.0L257.6 193.7L258.6 193.7L259.6 193.7L260.2 193.5L261.1 193.2L262.1 193.2L263.1 193.2L264.1 193.2L265.1 193.2L266.1 193.2L267.1 193.2L268.1 193.2L269.1 193.2L270.1 193.2L271.1 193.2L272.1 193.2L273.1 193.2L274.0 193.5L274.6 193.7L275.6 193.7L276.5 194.0L277.0 194.5L277.4 195.0L277.6 195.6L277.9 196.5L277.9 197.5L277.9 198.5L277.9 199.5L277.9 200.5L277.9 201.5L277.5 202.0L277.1 202.9L276.6 203.4L276.1 203.8L275.5 204.0L274.6 204.3L273.6 204.3L272.6 204.4L272.1 204.8L271.1 204.8L270.1 204.8L269.1 204.8L268.1 204.8L267.1 204.8L266.1 204.8L265.1 204.8L264.1 204.8L263.1 204.8L262.1 204.8L261.6 204.4L260.6 204.3L259.6 204.3L258.6 204.3L257.6 204.3L256.6 204.3L255.7 204.0L255.1 203.8L254.1 203.8L253.1 203.8L252.2 203.5L251.6 203.3L250.6 203.3L249.6 203.3L249.0 203.5L248.1 203.8L247.5 204.0L246.6 204.3L246.0 204.5L245.1 204.8L244.1 204.9L243.6 205.3Z" fill="#d2d2d2" stroke="#444" stroke-width=".55"/>
<path d="M243.1 204.1L242.1 204.1L241.1 204.1L240.1 204.1L239.1 204.1L238.4 204.0L237.6 203.7L237.0 203.5L236.5 203.0L236.0 202.5L235.6 201.7L235.5 201.0L235.5 200.0L235.5 199.0L235.8 198.5L236.0 197.5L236.3 197.0L236.6 196.4L237.1 195.9L237.9 195.5L238.6 195.2L239.1 194.9L240.1 194.8L240.9 194.5L241.6 194.4L242.6 194.4L243.1 194.7L244.1 194.9L245.1 194.9L245.8 195.0L246.6 195.3L247.6 195.4L248.3 195.5L249.1 195.8L250.1 195.9L251.1 195.9L252.1 195.9L253.1 195.9L254.1 195.8L254.9 195.5L255.6 195.4L256.6 195.3L257.4 195.0L258.1 194.9L259.1 194.9L260.1 194.8L260.9 194.5L261.6 194.4L262.6 194.4L263.6 194.4L264.6 194.4L265.6 194.4L266.6 194.4L267.6 194.4L268.6 194.4L269.6 194.4L270.6 194.4L271.6 194.4L272.6 194.4L273.3 194.5L274.1 194.8L275.1 194.9L275.7 195.0L276.2 195.5L276.6 196.3L276.7 197.0L276.7 198.0L276.7 199.0L276.7 200.0L276.7 201.0L276.4 201.5L276.1 202.2L275.6 202.6L274.8 203.0L274.1 203.1L273.1 203.1L272.1 203.3L271.6 203.6L270.6 203.6L269.6 203.6L268.6 203.6L267.6 203.6L266.6 203.6L265.6 203.6L264.6 203.6L263.6 203.6L262.6 203.6L262.1 203.3L261.1 203.1L260.1 203.1L259.1 203.1L258.1 203.1L257.1 203.1L256.4 203.0L255.6 202.7L254.6 202.6L253.6 202.6L252.9 202.5L252.1 202.2L251.1 202.1L250.1 202.1L249.1 202.2L248.3 202.5L247.6 202.7L246.8 203.0L246.1 203.2L245.3 203.5L244.6 203.6L243.6 203.8L243.1 204.1Z" fill="#dcdcdc" stroke="#555" stroke-width=".55"/>
<path d="M243.6 202.5L242.6 202.9L241.6 202.9L240.6 202.9L239.6 202.9L238.6 202.7L237.9 202.5L237.2 202.0L236.9 201.5L236.7 200.5L236.7 199.5L237.1 198.5L237.2 198.0L237.6 197.1L238.1 196.8L238.6 196.5L239.6 196.1L240.4 196.0L241.1 195.8L242.1 195.6L243.1 196.0L243.6 196.1L244.6 196.1L245.6 196.3L246.3 196.5L247.1 196.6L248.1 196.8L248.8 197.0L249.6 197.1L250.6 197.1L251.6 197.1L252.6 197.1L253.6 197.1L254.4 197.0L255.1 196.8L256.1 196.6L256.9 196.5L257.6 196.3L258.6 196.1L259.6 196.1L260.4 196.0L261.1 195.8L262.1 195.6L263.1 195.6L264.1 195.6L265.1 195.6L266.1 195.6L267.1 195.6L268.1 195.6L269.1 195.6L270.1 195.6L271.1 195.6L272.1 195.6L273.1 195.8L273.8 196.0L274.6 196.1L275.3 196.5L275.5 197.5L275.5 198.5L275.5 199.5L275.5 200.5L275.1 201.5L274.6 201.7L273.6 201.9L272.6 201.9L272.1 202.0L271.1 202.4L270.1 202.4L269.1 202.4L268.1 202.4L267.1 202.4L266.1 202.4L265.1 202.4L264.1 202.4L263.1 202.4L262.1 202.0L261.6 201.9L260.6 201.9L259.6 201.9L258.6 201.9L257.6 201.9L256.6 201.7L255.9 201.5L255.1 201.4L254.1 201.4L253.1 201.2L252.4 201.0L251.6 200.9L250.6 200.9L249.6 200.9L248.8 201.0L248.1 201.2L247.3 201.5L246.6 201.7L245.8 202.0L245.1 202.2L244.1 202.4L243.6 202.5Z" fill="#e5e5e5" stroke="#606060" stroke-width=".55"/>
<path d="M242.6 201.5L241.6 201.6L240.6 201.6L239.6 201.6L239.0 201.5L238.1 201.0L238.0 200.5L238.1 199.5L238.3 199.0L238.6 198.0L239.1 197.7L239.6 197.5L240.6 197.3L241.5 197.0L242.1 197.0L242.6 197.2L243.6 197.4L244.6 197.4L245.2 197.5L246.1 197.8L247.1 197.9L247.7 198.0L248.6 198.3L249.6 198.4L250.6 198.4L251.6 198.4L252.6 198.4L253.6 198.4L254.6 198.3L255.5 198.0L256.1 197.9L257.1 197.8L258.0 197.5L258.6 197.4L259.6 197.4L260.6 197.3L261.5 197.0L262.1 196.9L263.1 196.9L264.1 196.9L265.1 196.9L266.1 196.9L267.1 196.9L268.1 196.9L269.1 196.9L270.1 196.9L271.1 196.9L272.1 196.9L272.7 197.0L273.6 197.3L274.2 197.5L274.2 198.5L274.2 199.5L274.1 200.5L273.6 200.6L272.6 200.6L271.6 200.8L271.1 201.0L270.1 201.1L269.1 201.1L268.1 201.1L267.1 201.1L266.1 201.1L265.1 201.1L264.1 201.1L263.1 201.0L262.6 200.8L261.6 200.6L260.6 200.6L259.6 200.6L258.6 200.6L257.6 200.6L257.0 200.5L256.1 200.2L255.1 200.1L254.1 200.1L253.5 200.0L252.6 199.7L251.6 199.6L250.6 199.6L249.6 199.6L248.6 199.7L247.7 200.0L247.1 200.2L246.2 200.5L245.6 200.7L244.7 201.0L244.1 201.1L243.1 201.3L242.6 201.5Z" fill="#ededed" stroke="#6a6a6a" stroke-width=".55"/>
<path d="M242.6 200.0L241.6 200.2L240.6 200.2L239.6 200.2L239.6 199.5L239.8 199.0L240.6 198.7L241.5 198.5L242.1 198.5L242.6 198.6L243.6 198.8L244.6 198.8L245.2 199.0L244.7 199.5L244.1 199.7L243.1 199.9L242.6 200.0ZM271.1 199.5L270.1 199.7L269.1 199.7L268.1 199.7L267.1 199.7L266.1 199.7L265.1 199.7L264.1 199.7L263.1 199.5L262.6 199.4L261.6 199.2L260.6 199.2L259.6 199.2L258.6 199.2L258.0 199.0L258.6 198.8L259.6 198.8L260.6 198.8L261.5 198.5L262.1 198.3L263.1 198.3L264.1 198.3L265.1 198.3L266.1 198.3L267.1 198.3L268.1 198.3L269.1 198.3L270.1 198.3L271.1 198.3L272.1 198.3L272.6 198.5L272.6 199.2L271.6 199.4L271.1 199.5Z" fill="#f4f4f4" stroke="#777" stroke-width=".55"/>
<ellipse cx="240.2" cy="199.5" rx="4.3" ry="3.5" fill="#e4e4e4" stroke="#666" stroke-width=".5"/>
<ellipse cx="265" cy="199.5" rx="5" ry="1.5" fill="#f4f4f4" stroke="#888" stroke-width=".5"/>
</g>
<path d="M227.1 212.2h-2.2M227.1 207.15h-1.2M227.1 202.09h-1.2M227.1 199.13h-1.2M227.1 197.04h-1.2M227.1 195.41h-2.2M227.1 190.35h-1.2M227.1 185.3h-1.2M227.1 182.34h-1.2M227.1 180.24h-1.2M227.1 178.62h-2.2M227.1 173.56h-1.2M227.1 168.51h-1.2M227.1 165.55h-1.2M227.1 163.45h-1.2M227.1 161.83h-2.2M227.1 156.77h-1.2M227.1 151.72h-1.2M227.1 148.76h-1.2M227.1 146.66h-1.2M227.1 145.03h-2.2" stroke="#111" stroke-width=".6" fill="none"/>
<path d="M229.1 214.2v2.4M234.15 214.2v1.5M239.2 214.2v1.5M242.15 214.2v1.5M244.24 214.2v1.5M245.87 214.2v2.4M250.92 214.2v1.5M255.96 214.2v1.5M258.92 214.2v1.5M261.01 214.2v1.5M262.63 214.2v2.4M267.68 214.2v1.5M272.73 214.2v1.5M275.68 214.2v1.5M277.78 214.2v1.5M279.4 214.2v2.4M284.45 214.2v1.5M289.5 214.2v1.5M292.45 214.2v1.5M294.55 214.2v1.5M296.17 214.2v2.4" stroke="#111" stroke-width=".75" fill="none"/>
<rect x="227.1" y="143.5" width="70.6" height="70.7" fill="none" stroke="#111" stroke-width="1.2"/>
<rect x="257.3" y="145.8" width="36.2" height="41.2" fill="none" stroke="#777" stroke-width="0.8"/>
<text x="261.7" y="155.2" font-size="8.3" stroke="#111" stroke-width="0.12" textLength="10.6" lengthAdjust="spacingAndGlyphs">1.2</text>
<text x="65.4" y="213" font-size="10.2" stroke="#111" stroke-width="0.12" textLength="19.5" lengthAdjust="spacingAndGlyphs" transform="rotate(-90 65.4 213)">CD64</text>
<line x1="62.1" y1="190.2" x2="62.1" y2="181.6" stroke="#111" stroke-width="1.4"/>
<path d="M62.1 176L65.2 182.8L62.1 181.6L59 182.8Z" fill="#111" stroke="#111" stroke-width=".3" stroke-linejoin="round"/>
<text x="76.2" y="227.9" font-size="10.2" stroke="#111" stroke-width="0.12" textLength="24.9" lengthAdjust="spacingAndGlyphs">CD11b</text>
<line x1="103.8" y1="225.2" x2="112.7" y2="225.2" stroke="#111" stroke-width="1.4"/>
<path d="M118.3 225.2L111.5 228.3L112.7 225.2L111.5 222.1Z" fill="#111" stroke="#111" stroke-width=".3" stroke-linejoin="round"/>
<line x1="73.65" y1="235.1" x2="73.65" y2="321.8" stroke="#111" stroke-width="1.3"/>
<line x1="73.05" y1="321.2" x2="130" y2="321.2" stroke="#111" stroke-width="1.3"/>
<line x1="70.65" y1="321.2" x2="73.65" y2="321.2" stroke="#111" stroke-width="1.1"/>
<text x="67.9" y="324.5" font-size="9.2" text-anchor="end" fill="#222" stroke="#222" stroke-width="0.12" textLength="4.9" lengthAdjust="spacingAndGlyphs">0</text>
<line x1="70.65" y1="304.48" x2="73.65" y2="304.48" stroke="#111" stroke-width="1.1"/>
<text x="67.9" y="307.78" font-size="9.2" text-anchor="end" fill="#222" stroke="#222" stroke-width="0.12" textLength="4.9" lengthAdjust="spacingAndGlyphs">1</text>
<line x1="70.65" y1="287.76" x2="73.65" y2="287.76" stroke="#111" stroke-width="1.1"/>
<text x="67.9" y="291.06" font-size="9.2" text-anchor="end" fill="#222" stroke="#222" stroke-width="0.12" textLength="4.9" lengthAdjust="spacingAndGlyphs">2</text>
<line x1="70.65" y1="271.04" x2="73.65" y2="271.04" stroke="#111" stroke-width="1.1"/>
<text x="67.9" y="274.34" font-size="9.2" text-anchor="end" fill="#222" stroke="#222" stroke-width="0.12" textLength="4.9" lengthAdjust="spacingAndGlyphs">3</text>
<line x1="70.65" y1="254.32" x2="73.65" y2="254.32" stroke="#111" stroke-width="1.1"/>
<text x="67.9" y="257.62" font-size="9.2" text-anchor="end" fill="#222" stroke="#222" stroke-width="0.12" textLength="4.9" lengthAdjust="spacingAndGlyphs">4</text>
<line x1="70.65" y1="237.6" x2="73.65" y2="237.6" stroke="#111" stroke-width="1.1"/>
<text x="67.9" y="240.9" font-size="9.2" text-anchor="end" fill="#222" stroke="#222" stroke-width="0.12" textLength="4.9" lengthAdjust="spacingAndGlyphs">5</text>
<line x1="101.2" y1="321.2" x2="101.2" y2="323.7" stroke="#111" stroke-width="1"/>
<rect x="79.4" y="294.45" width="10.6" height="26.75" fill="#fff" stroke="#111" stroke-width="1.25"/>
<line x1="84.7" y1="294.45" x2="84.7" y2="288.93" stroke="#111" stroke-width="0.9"/>
<line x1="82.5" y1="288.93" x2="86.9" y2="288.93" stroke="#111" stroke-width="0.9"/>
<circle cx="84.7" cy="254.32" r="1.65" fill="#4e1f68"/>
<circle cx="82" cy="267.7" r="1.65" fill="#4e1f68"/>
<circle cx="87.2" cy="269.37" r="1.65" fill="#4e1f68"/>
<circle cx="84.7" cy="279.4" r="1.65" fill="#4e1f68"/>
<circle cx="84.7" cy="289.43" r="1.65" fill="#4e1f68"/>
<circle cx="81.3" cy="295.28" r="1.65" fill="#4e1f68"/>
<circle cx="84.7" cy="295.28" r="1.65" fill="#4e1f68"/>
<circle cx="88.1" cy="295.28" r="1.65" fill="#4e1f68"/>
<circle cx="84.7" cy="296.96" r="1.65" fill="#4e1f68"/>
<circle cx="84.7" cy="306.99" r="1.65" fill="#4e1f68"/>
<circle cx="81.3" cy="310.83" r="1.65" fill="#4e1f68"/>
<circle cx="88.1" cy="311.17" r="1.65" fill="#4e1f68"/>
<circle cx="82.7" cy="313.68" r="1.65" fill="#4e1f68"/>
<circle cx="86.7" cy="313.68" r="1.65" fill="#4e1f68"/>
<circle cx="84.7" cy="314.51" r="1.65" fill="#4e1f68"/>
<rect x="96.2" y="306.99" width="10.5" height="14.21" fill="#fff" stroke="#111" stroke-width="1.25"/>
<line x1="101.45" y1="306.99" x2="101.45" y2="303.14" stroke="#111" stroke-width="0.9"/>
<line x1="99.25" y1="303.14" x2="103.65" y2="303.14" stroke="#111" stroke-width="0.9"/>
<circle cx="101.45" cy="287.76" r="1.65" fill="#e8901e"/>
<circle cx="101.45" cy="299.8" r="1.65" fill="#e8901e"/>
<circle cx="97.85" cy="309.16" r="1.65" fill="#e8901e"/>
<circle cx="105.05" cy="309.16" r="1.65" fill="#e8901e"/>
<circle cx="101.45" cy="310.83" r="1.65" fill="#e8901e"/>
<circle cx="99.25" cy="314.51" r="1.65" fill="#e8901e"/>
<circle cx="103.65" cy="314.51" r="1.65" fill="#e8901e"/>
<rect x="112.7" y="314.18" width="10.6" height="7.02" fill="#fff" stroke="#111" stroke-width="1.25"/>
<line x1="118" y1="314.18" x2="118" y2="313.68" stroke="#111" stroke-width="0.9"/>
<line x1="115.8" y1="313.68" x2="120.2" y2="313.68" stroke="#111" stroke-width="0.9"/>
<circle cx="114.7" cy="310.83" r="1.65" fill="#6ab43e"/>
<circle cx="121.3" cy="310.83" r="1.65" fill="#6ab43e"/>
<circle cx="114.7" cy="312.51" r="1.65" fill="#6ab43e"/>
<circle cx="121.3" cy="312.51" r="1.65" fill="#6ab43e"/>
<circle cx="116" cy="313.84" r="1.65" fill="#6ab43e"/>
<circle cx="120" cy="313.84" r="1.65" fill="#6ab43e"/>
<circle cx="118" cy="314.51" r="1.65" fill="#6ab43e"/>
<circle cx="118" cy="312.84" r="1.65" fill="#6ab43e"/>
<line x1="85.2" y1="240.4" x2="117.9" y2="240.4" stroke="#111" stroke-width="1.1"/>
<path d="M98.25 235.65L98.63 236.57L99.63 236.65L98.87 237.30L99.10 238.27L98.25 237.75L97.40 238.27L97.63 237.30L96.87 236.65L97.87 236.57Z" fill="#222" stroke="#222" stroke-width=".35" stroke-linejoin="round"/>
<path d="M101.55 235.65L101.93 236.57L102.93 236.65L102.17 237.30L102.40 238.27L101.55 237.75L100.70 238.27L100.93 237.30L100.17 236.65L101.17 236.57Z" fill="#222" stroke="#222" stroke-width=".35" stroke-linejoin="round"/>
<path d="M104.85 235.65L105.23 236.57L106.23 236.65L105.47 237.30L105.70 238.27L104.85 237.75L104.00 238.27L104.23 237.30L103.47 236.65L104.47 236.57Z" fill="#222" stroke="#222" stroke-width=".35" stroke-linejoin="round"/>
<line x1="101.2" y1="250.2" x2="117.9" y2="250.2" stroke="#111" stroke-width="1.1"/>
<path d="M109.55 245.45L109.93 246.37L110.93 246.45L110.17 247.10L110.40 248.07L109.55 247.55L108.70 248.07L108.93 247.10L108.17 246.45L109.17 246.37Z" fill="#222" stroke="#222" stroke-width=".35" stroke-linejoin="round"/>
<text x="57.3" y="301" font-size="10" fill="#222" stroke="#222" stroke-width="0.12" textLength="47.2" lengthAdjust="spacingAndGlyphs" transform="rotate(-90 57.3 301)">% in BM WBC</text>
<text x="95.6" y="335.5" font-size="8.3" fill="#222" stroke="#222" stroke-width="0.12" textLength="11.5" lengthAdjust="spacingAndGlyphs">M&#981;</text>
<line x1="166.75" y1="234.75" x2="166.75" y2="321.85" stroke="#111" stroke-width="1.3"/>
<line x1="166.15" y1="321.25" x2="223.75" y2="321.25" stroke="#111" stroke-width="1.3"/>
<line x1="163.75" y1="321.25" x2="166.75" y2="321.25" stroke="#111" stroke-width="1.1"/>
<text x="159.7" y="324.55" font-size="9.2" text-anchor="end" fill="#222" stroke="#222" stroke-width="0.12" textLength="4.9" lengthAdjust="spacingAndGlyphs">0</text>
<line x1="163.75" y1="293.25" x2="166.75" y2="293.25" stroke="#111" stroke-width="1.1"/>
<text x="159.7" y="296.55" font-size="9.2" text-anchor="end" fill="#222" stroke="#222" stroke-width="0.12" textLength="9.8" lengthAdjust="spacingAndGlyphs">10</text>
<line x1="163.75" y1="265.25" x2="166.75" y2="265.25" stroke="#111" stroke-width="1.1"/>
<text x="159.7" y="268.55" font-size="9.2" text-anchor="end" fill="#222" stroke="#222" stroke-width="0.12" textLength="9.8" lengthAdjust="spacingAndGlyphs">20</text>
<line x1="163.75" y1="237.25" x2="166.75" y2="237.25" stroke="#111" stroke-width="1.1"/>
<text x="159.7" y="240.55" font-size="9.2" text-anchor="end" fill="#222" stroke="#222" stroke-width="0.12" textLength="9.8" lengthAdjust="spacingAndGlyphs">30</text>
<line x1="195.2" y1="321.25" x2="195.2" y2="323.75" stroke="#111" stroke-width="1"/>
<rect x="173" y="286.81" width="10.75" height="34.44" fill="#fff" stroke="#111" stroke-width="1.25"/>
<line x1="178.38" y1="286.81" x2="178.38" y2="278.69" stroke="#111" stroke-width="0.9"/>
<line x1="176.18" y1="278.69" x2="180.57" y2="278.69" stroke="#111" stroke-width="0.9"/>
<circle cx="178.38" cy="240.61" r="1.65" fill="#4e1f68"/>
<circle cx="175.68" cy="249.29" r="1.65" fill="#4e1f68"/>
<circle cx="181.07" cy="249.85" r="1.65" fill="#4e1f68"/>
<circle cx="178.38" cy="256.01" r="1.65" fill="#4e1f68"/>
<circle cx="178.38" cy="287.65" r="1.65" fill="#4e1f68"/>
<circle cx="175.68" cy="293.25" r="1.65" fill="#4e1f68"/>
<circle cx="181.07" cy="294.37" r="1.65" fill="#4e1f68"/>
<circle cx="178.38" cy="294.65" r="1.65" fill="#4e1f68"/>
<circle cx="175.68" cy="308.65" r="1.65" fill="#4e1f68"/>
<circle cx="181.07" cy="308.65" r="1.65" fill="#4e1f68"/>
<circle cx="177.07" cy="312.85" r="1.65" fill="#4e1f68"/>
<circle cx="179.68" cy="312.29" r="1.65" fill="#4e1f68"/>
<rect x="190" y="277.85" width="10.5" height="43.4" fill="#fff" stroke="#111" stroke-width="1.25"/>
<line x1="195.25" y1="277.85" x2="195.25" y2="268.89" stroke="#111" stroke-width="0.9"/>
<line x1="193.05" y1="268.89" x2="197.45" y2="268.89" stroke="#111" stroke-width="0.9"/>
<circle cx="195.25" cy="246.21" r="1.65" fill="#e8901e"/>
<circle cx="192.75" cy="258.25" r="1.65" fill="#e8901e"/>
<circle cx="197.75" cy="261.05" r="1.65" fill="#e8901e"/>
<circle cx="195.25" cy="284.85" r="1.65" fill="#e8901e"/>
<circle cx="192.55" cy="294.65" r="1.65" fill="#e8901e"/>
<circle cx="197.95" cy="297.45" r="1.65" fill="#e8901e"/>
<circle cx="193.75" cy="301.65" r="1.65" fill="#e8901e"/>
<rect x="207" y="291.85" width="10.5" height="29.4" fill="#fff" stroke="#111" stroke-width="1.25"/>
<line x1="212.25" y1="291.85" x2="212.25" y2="287.09" stroke="#111" stroke-width="0.9"/>
<line x1="210.05" y1="287.09" x2="214.45" y2="287.09" stroke="#111" stroke-width="0.9"/>
<circle cx="212.25" cy="266.09" r="1.65" fill="#6ab43e"/>
<circle cx="212.25" cy="278.41" r="1.65" fill="#6ab43e"/>
<circle cx="209.75" cy="286.25" r="1.65" fill="#6ab43e"/>
<circle cx="214.75" cy="286.81" r="1.65" fill="#6ab43e"/>
<circle cx="209.75" cy="294.65" r="1.65" fill="#6ab43e"/>
<circle cx="214.75" cy="297.45" r="1.65" fill="#6ab43e"/>
<circle cx="210.75" cy="301.65" r="1.65" fill="#6ab43e"/>
<circle cx="213.75" cy="303.05" r="1.65" fill="#6ab43e"/>
<circle cx="209.75" cy="305.85" r="1.65" fill="#6ab43e"/>
<text x="146.3" y="313.6" font-size="10" fill="#222" stroke="#222" stroke-width="0.12" textLength="65.2" lengthAdjust="spacingAndGlyphs" transform="rotate(-90 146.3 313.6)">Total number (x10</text>
<text x="142.2" y="248.3" font-size="7" fill="#222" stroke="#222" stroke-width="0.12" textLength="3.8" lengthAdjust="spacingAndGlyphs" transform="rotate(-90 142.2 248.3)">4</text>
<text x="146.3" y="244.3" font-size="10" fill="#222" stroke="#222" stroke-width="0.12" textLength="3" lengthAdjust="spacingAndGlyphs" transform="rotate(-90 146.3 244.3)">)</text>
<text x="189.5" y="335.5" font-size="8.3" fill="#222" stroke="#222" stroke-width="0.12" textLength="11.5" lengthAdjust="spacingAndGlyphs">M&#981;</text>
<circle cx="229.3" cy="232" r="1.5" fill="#4e1f68"/>
<text x="234.3" y="235.3" font-size="8.3" fill="#222" stroke="#222" stroke-width="0.12" textLength="47.8" lengthAdjust="spacingAndGlyphs">MM-relapsed</text>
<circle cx="229.3" cy="244.2" r="1.5" fill="#e8901e"/>
<text x="234.3" y="247.5" font-size="8.3" fill="#222" stroke="#222" stroke-width="0.12" textLength="53.3" lengthAdjust="spacingAndGlyphs">MM-controlled</text>
<circle cx="229.3" cy="256.2" r="1.5" fill="#6ab43e"/>
<text x="234.3" y="259.5" font-size="8.3" fill="#222" stroke="#222" stroke-width="0.12" textLength="31.3" lengthAdjust="spacingAndGlyphs">MM-free</text>
<text x="324.2" y="125.2" font-size="12" font-weight="bold" fill="#000" stroke="#000" stroke-width=".35">E</text>
<text x="347" y="139" font-size="8.3" stroke="#111" stroke-width="0.12" textLength="51.5" lengthAdjust="spacingAndGlyphs">MM-relapsed</text>
<path d="M338.3 216v2.4M343.48 216v1.5M348.67 216v1.5M351.7 216v1.5M353.85 216v1.5M355.52 216v2.4M360.7 216v1.5M365.89 216v1.5M368.92 216v1.5M371.07 216v1.5M372.74 216v2.4M377.92 216v1.5M383.1 216v1.5M386.14 216v1.5M388.29 216v1.5M389.96 216v2.4M395.14 216v1.5M400.32 216v1.5M403.36 216v1.5M405.51 216v1.5M407.18 216v2.4" stroke="#111" stroke-width=".75" fill="none"/>
<clipPath id="cE"><rect x="336.3" y="143.8" width="72.5" height="72.2"/></clipPath><g clip-path="url(#cE)">
<path d="M341.5 216.5L341.5 216.5L341.5 216.5L341.5 216.4L341.6 216.3L341.7 216.1L341.9 215.8L342.1 215.4L342.3 215.0L342.6 214.5L342.9 214.0L343.2 213.3L343.6 212.6L343.9 211.8L344.2 210.9L344.6 209.9L344.9 208.8L345.3 207.6L345.7 206.4L346.1 205.0L346.4 203.6L346.8 202.2L347.2 200.6L347.6 199.0L347.9 197.2L348.3 195.4L348.7 193.6L349.1 191.7L349.4 190.0L349.8 188.3L350.1 186.6L350.4 185.0L350.8 183.5L351.1 182.0L351.4 180.5L351.7 179.2L352.0 178.0L352.3 177.0L352.5 176.0L352.8 175.2L353.0 174.5L353.2 173.9L353.5 173.5L353.7 173.1L353.9 172.9L354.1 172.7L354.3 172.6L354.5 172.7L354.8 172.8L355.0 173.0L355.2 173.4L355.5 173.8L355.7 174.4L356.0 175.1L356.3 176.0L356.6 177.0L356.9 178.1L357.2 179.4L357.6 180.8L357.9 182.1L358.3 183.4L358.6 184.7L359.0 185.9L359.3 187.0L359.6 188.1L360.0 189.1L360.3 190.1L360.7 191.0L361.0 192.0L361.3 192.9L361.7 193.8L362.1 194.6L362.4 195.5L362.8 196.3L363.1 197.1L363.5 197.9L363.9 198.7L364.3 199.4L364.7 200.2L365.1 200.9L365.5 201.6L366.0 202.4L366.4 203.0L366.9 203.8L367.4 204.5L367.9 205.2L368.4 205.9L369.0 206.6L369.6 207.3L370.2 208.0L370.8 208.8L371.4 209.5L372.1 210.1L372.8 210.8L373.4 211.4L374.1 212.0L374.8 212.6L375.5 213.1L376.2 213.7L376.9 214.1L377.5 214.6L378.0 214.9L378.5 215.3L379.0 215.5L379.4 215.8L379.7 215.9L380.0 216.1L380.2 216.2L380.5 216.3L380.6 216.3L380.8 216.4L380.9 216.5L381.0 216.5L381.0 216.5L381.0 216.5L381.0 216.5Z" fill="#dedede" stroke="#c9c9c9" stroke-width="0.5" stroke-linejoin="round"/>
<path d="M336.3 192.8L336.3 192.8L336.3 192.8L341.7 192.8L352.6 192.8L359.0 192.7L361.0 192.5L362.6 192.2L363.8 191.7L365.0 189.4L366.4 185.1L367.8 181.0L369.2 177.0L370.6 173.2L371.7 169.7L372.7 167.3L373.6 166.1L374.4 163.6L375.1 159.9L375.9 156.8L376.9 154.2L377.5 152.6L378.0 151.9L378.5 151.8L379.2 152.2L379.8 152.2L380.5 151.5L381.1 151.6L381.7 152.4L382.4 152.5L383.1 151.8L383.9 151.7L384.6 152.0L385.3 153.1L385.9 155.1L386.4 157.0L386.9 159.0L387.5 160.4L388.2 161.1L388.9 162.6L389.6 164.7L390.3 166.0L391.0 166.3L391.7 167.2L392.5 168.6L393.2 169.6L394.0 170.2L394.7 171.3L395.3 172.8L396.0 174.6L396.7 176.5L397.2 178.8L397.7 181.5L398.2 184.0L398.7 186.3L399.2 188.3L399.8 189.9L400.5 191.2L401.6 192.3L403.8 192.8L407.1 192.8L408.8 192.8L408.8 192.8L408.8 192.8Z" fill="#9b80ae" stroke="#6a4687" stroke-width="0.9" stroke-linejoin="round"/>
</g>
<rect x="336.3" y="143.8" width="72.5" height="72.2" fill="none" stroke="#111" stroke-width="1.1"/>
<text x="362" y="232" font-size="10" fill="#222" stroke="#222" stroke-width="0.12" textLength="20.5" lengthAdjust="spacingAndGlyphs">F4/80</text>
<text x="422" y="151" font-size="8.3" stroke="#111" stroke-width="0.12" textLength="12.5" lengthAdjust="spacingAndGlyphs">M&#981;</text>
<line x1="421.5" y1="153" x2="435" y2="153" stroke="#111" stroke-width="0.7"/>
<text x="412" y="168" font-size="8.3" stroke="#111" stroke-width="0.12">CD64<tspan baseline-shift="3" font-size="6">+</tspan></text>
<text x="412" y="177.5" font-size="8.3" stroke="#111" stroke-width="0.12">CD11b<tspan baseline-shift="3" font-size="6">+</tspan></text>
<text x="412" y="202.5" font-size="8.3" stroke="#111" stroke-width="0.12">Ly6G<tspan baseline-shift="3" font-size="6">+</tspan></text>
<text x="412" y="212" font-size="8.3" stroke="#111" stroke-width="0.12">CD11b<tspan baseline-shift="3" font-size="6">+</tspan></text>
<text x="323.7" y="240.2" font-size="12" font-weight="bold" fill="#000" stroke="#000" stroke-width=".35">F</text>
<path d="M338.25 322.5v2.4M343.49 322.5v1.5M348.72 322.5v1.5M351.79 322.5v1.5M353.96 322.5v1.5M355.65 322.5v2.4M360.88 322.5v1.5M366.12 322.5v1.5M369.18 322.5v1.5M371.36 322.5v1.5M373.04 322.5v2.4M378.28 322.5v1.5M383.52 322.5v1.5M386.58 322.5v1.5M388.75 322.5v1.5M390.44 322.5v2.4M395.68 322.5v1.5M400.91 322.5v1.5M403.98 322.5v1.5M406.15 322.5v1.5M407.84 322.5v2.4" stroke="#111" stroke-width=".75" fill="none"/>
<clipPath id="cF"><rect x="336.25" y="248.25" width="73.25" height="74.25"/></clipPath><g clip-path="url(#cF)">
<path d="M336.2 285.0L336.2 285.0L336.2 285.0L336.4 285.0L336.6 285.0L337.0 285.0L337.5 285.0L338.1 285.0L338.8 284.9L339.6 284.9L340.6 284.9L341.5 284.9L342.3 284.8L343.1 284.8L343.7 284.7L344.3 284.6L344.8 284.5L345.3 284.4L345.6 284.3L346.0 284.2L346.3 284.0L346.6 283.8L347.0 283.6L347.3 283.4L347.5 283.0L347.8 282.7L348.1 282.3L348.4 281.8L348.6 281.3L349.0 280.6L349.3 279.8L349.6 279.1L350.0 278.0L350.3 277.0L350.7 276.0L351.1 274.9L351.4 273.4L351.8 272.3L352.2 271.2L352.6 269.8L352.9 268.4L353.3 267.2L353.7 265.5L354.1 264.6L354.4 263.4L354.8 262.1L355.2 261.2L355.6 260.0L355.9 258.6L356.3 257.5L356.7 256.9L357.1 256.2L357.4 255.8L357.7 255.2L358.1 254.2L358.4 253.8L358.7 253.7L359.0 253.3L359.2 252.4L359.5 252.4L359.8 252.6L360.1 252.5L360.4 252.1L360.6 252.4L360.9 252.5L361.2 253.2L361.5 253.4L361.8 253.7L362.1 254.0L362.3 253.6L362.6 253.8L362.9 254.5L363.2 254.5L363.4 254.9L363.7 255.4L364.0 256.3L364.3 256.0L364.6 256.6L364.9 257.8L365.3 257.9L365.7 259.2L366.1 260.2L366.5 261.0L367.0 262.2L367.4 262.8L367.9 264.1L368.4 264.5L369.0 265.7L369.5 267.1L370.1 267.9L370.7 269.4L371.3 270.2L371.8 271.1L372.4 272.1L372.9 273.1L373.3 273.7L373.8 274.4L374.2 275.0L374.6 275.4L375.0 276.0L375.5 276.5L376.0 277.2L376.5 277.6L377.0 278.0L377.6 278.4L378.1 279.0L378.8 279.3L379.4 279.5L379.9 280.0L380.5 280.2L381.1 280.4L381.6 280.6L382.2 280.8L382.7 280.9L383.2 281.0L383.7 281.0L384.3 281.1L384.8 281.1L385.4 281.2L385.9 281.2L386.5 281.3L387.1 281.3L387.7 281.3L388.3 281.3L388.9 281.4L389.4 281.4L390.0 281.4L390.6 281.5L391.1 281.5L391.6 281.7L392.2 281.7L392.7 281.7L393.2 281.8L393.8 282.0L394.3 282.1L394.9 282.2L395.5 282.4L396.1 282.5L396.6 282.7L397.2 282.8L397.8 283.0L398.5 283.1L399.1 283.3L399.7 283.5L400.4 283.6L401.0 283.8L401.7 284.0L402.3 284.1L403.0 284.3L403.7 284.4L404.4 284.5L405.0 284.6L405.7 284.7L406.4 284.8L407.1 284.8L407.7 284.9L408.2 284.9L408.6 284.9L409.0 285.0L409.2 285.0L409.4 285.0L409.5 285.0L409.5 285.0L409.5 285.0Z" fill="#8e6aa6" fill-opacity="0.7" stroke="#6a4287" stroke-width="0.9" stroke-linejoin="round"/>
<path d="M336.2 303.5L336.2 303.5L336.2 303.5L336.4 303.5L336.7 303.5L337.2 303.5L337.8 303.5L338.5 303.5L339.4 303.5L340.5 303.5L341.7 303.4L342.8 303.4L343.9 303.4L344.8 303.4L345.6 303.3L346.2 303.3L346.8 303.2L347.3 303.1L347.7 303.1L348.1 302.9L348.5 302.7L348.9 302.4L349.3 302.0L349.8 301.6L350.3 301.1L350.8 300.4L351.2 299.7L351.8 299.3L352.3 298.4L352.8 297.8L353.3 297.2L353.8 296.4L354.3 295.6L354.8 295.0L355.4 294.3L355.9 293.7L356.3 292.9L356.8 292.5L357.2 291.8L357.7 291.4L358.1 290.9L358.4 290.4L358.8 290.1L359.1 289.7L359.5 289.7L359.8 288.9L360.1 288.6L360.4 288.3L360.7 287.8L361.1 287.9L361.4 286.7L361.7 286.3L362.0 286.1L362.4 284.6L362.7 284.2L363.1 283.0L363.5 282.2L364.0 280.9L364.4 279.9L364.9 279.0L365.3 277.7L365.7 276.7L366.1 277.2L366.5 275.5L366.9 275.1L367.3 274.8L367.7 273.2L368.1 273.0L368.4 273.7L368.8 273.6L369.2 272.8L369.6 273.6L369.9 273.8L370.3 274.9L370.7 274.6L371.1 274.7L371.4 276.0L371.8 276.5L372.2 276.5L372.6 277.6L372.9 278.2L373.3 279.3L373.7 280.0L374.1 281.8L374.4 282.4L374.8 283.4L375.2 283.0L375.6 284.3L375.9 285.1L376.3 285.9L376.7 286.6L377.1 287.6L377.4 287.0L377.8 288.1L378.2 288.6L378.5 289.5L378.9 289.7L379.3 290.1L379.6 290.7L380.0 291.0L380.3 291.6L380.7 291.6L381.0 291.7L381.4 291.8L381.7 291.8L382.0 291.8L382.4 291.8L382.7 291.3L383.1 291.3L383.4 291.2L383.8 290.7L384.2 291.0L384.6 290.6L385.0 290.1L385.4 289.9L385.8 290.0L386.2 289.8L386.7 289.6L387.1 289.7L387.5 289.9L387.9 289.7L388.3 289.8L388.6 290.0L389.1 290.0L389.5 290.3L389.9 290.7L390.4 290.9L390.9 290.9L391.4 291.7L391.9 292.0L392.4 292.5L392.9 292.8L393.5 293.5L394.0 293.6L394.5 294.0L395.0 294.7L395.4 295.1L395.9 295.7L396.4 295.9L396.9 296.5L397.4 296.9L397.9 297.4L398.4 297.9L399.0 298.3L399.6 298.8L400.2 299.6L400.9 300.1L401.5 300.5L402.0 301.1L402.6 301.4L403.1 301.8L403.5 302.1L404.0 302.4L404.4 302.6L404.7 302.8L405.1 302.9L405.5 303.1L405.9 303.2L406.3 303.3L406.7 303.4L407.1 303.4L407.5 303.4L408.0 303.5L408.4 303.5L408.7 303.5L409.0 303.5L409.2 303.5L409.3 303.5L409.4 303.5L409.5 303.5L409.5 303.5L409.5 303.5Z" fill="#e9a14a" fill-opacity="0.65" stroke="#e0952f" stroke-width="0.85" stroke-linejoin="round"/>
<path d="M345.0 322.3L345.0 322.3L345.0 322.3L345.1 322.3L345.2 322.3L345.3 322.2L345.5 322.2L345.8 322.1L346.1 322.0L346.4 321.9L346.9 321.9L347.3 321.7L347.7 321.5L348.1 321.1L348.6 320.7L349.0 320.2L349.5 319.7L349.9 319.0L350.4 318.5L350.9 317.6L351.4 316.9L351.9 316.2L352.5 315.5L353.0 314.5L353.6 313.6L354.3 312.7L354.9 311.9L355.5 311.1L356.1 310.1L356.6 309.4L357.1 308.6L357.6 307.6L358.0 307.8L358.4 306.5L358.8 307.5L359.1 305.8L359.5 305.9L359.9 304.4L360.2 304.9L360.6 303.6L361.0 303.7L361.4 303.2L361.7 301.8L362.1 301.1L362.5 301.1L362.8 299.1L363.2 299.6L363.5 298.1L363.8 298.6L364.1 298.0L364.4 296.8L364.7 296.7L365.0 295.4L365.3 296.3L365.5 294.6L365.7 294.6L365.9 294.5L366.1 293.6L366.3 293.6L366.5 293.6L366.7 292.7L367.0 292.8L367.3 292.6L367.7 292.0L368.1 292.8L368.5 292.2L369.0 292.9L369.4 292.4L369.8 292.6L370.2 293.5L370.6 294.3L371.0 294.6L371.3 294.8L371.6 294.5L371.9 295.5L372.3 296.2L372.6 296.4L372.9 296.9L373.2 297.2L373.5 298.8L373.8 298.9L374.2 299.5L374.5 300.9L374.9 301.1L375.2 302.2L375.5 302.5L375.9 302.9L376.2 304.3L376.6 304.6L376.9 305.1L377.3 305.4L377.6 306.3L378.0 306.5L378.4 307.4L378.7 307.9L379.1 308.1L379.5 308.7L379.9 309.3L380.3 309.9L380.7 310.0L381.1 310.2L381.5 310.8L381.8 311.0L382.2 311.0L382.6 310.2L382.9 310.5L383.3 310.2L383.6 309.4L384.0 308.7L384.3 308.9L384.6 308.1L385.0 307.9L385.3 307.1L385.6 305.8L385.9 305.6L386.2 305.2L386.5 304.6L386.8 304.0L387.1 303.8L387.4 303.8L387.6 303.5L387.9 302.1L388.2 303.0L388.4 302.1L388.7 302.7L389.0 301.9L389.3 302.1L389.6 302.6L389.9 301.8L390.1 303.2L390.4 303.1L390.8 303.6L391.1 303.8L391.4 303.8L391.7 304.3L392.0 304.3L392.4 303.8L392.7 305.2L393.1 305.3L393.4 305.5L393.8 305.6L394.2 305.4L394.5 305.9L394.9 306.4L395.3 306.9L395.7 306.7L396.1 308.2L396.5 308.7L396.9 308.9L397.3 309.3L397.6 310.0L398.0 310.7L398.3 311.4L398.7 311.8L399.0 312.5L399.4 313.1L399.7 313.8L400.1 314.0L400.5 314.8L401.0 315.3L401.4 316.2L401.9 316.7L402.3 317.4L402.8 317.9L403.3 318.5L403.7 319.0L404.2 319.6L404.7 319.9L405.1 320.3L405.6 320.8L406.0 321.1L406.4 321.4L406.8 321.6L407.0 321.9L407.3 322.0L407.4 322.2L407.5 322.3L407.6 322.3L407.6 322.3L407.6 322.3Z" fill="#8cc46a" fill-opacity="0.7" stroke="#6fb04a" stroke-width="0.85" stroke-linejoin="round"/>
</g>
<rect x="336.25" y="248.25" width="73.25" height="74.25" fill="none" stroke="#111" stroke-width="1.1"/>
<text x="333" y="276.3" font-size="8.3" text-anchor="end" stroke="#111" stroke-width="0.12" textLength="51.5" lengthAdjust="spacingAndGlyphs">MM-relapsed</text>
<text x="333" y="293.8" font-size="8.3" text-anchor="end" stroke="#111" stroke-width="0.12" textLength="57" lengthAdjust="spacingAndGlyphs">MM-controlled</text>
<text x="333" y="312.5" font-size="8.3" text-anchor="end" stroke="#111" stroke-width="0.12" textLength="33" lengthAdjust="spacingAndGlyphs">MM-free</text>
<text x="361" y="337" font-size="10" fill="#222" stroke="#222" stroke-width="0.12" textLength="23" lengthAdjust="spacingAndGlyphs">MHC II</text>
<line x1="444.9" y1="235.1" x2="444.9" y2="321.9" stroke="#111" stroke-width="1.3"/>
<line x1="444.3" y1="321.3" x2="501.5" y2="321.3" stroke="#111" stroke-width="1.3"/>
<line x1="441.9" y1="321.3" x2="444.9" y2="321.3" stroke="#111" stroke-width="1.1"/>
<text x="438.9" y="324.6" font-size="9.2" text-anchor="end" fill="#222" stroke="#222" stroke-width="0.12" textLength="12" lengthAdjust="spacingAndGlyphs">0.0</text>
<line x1="441.9" y1="293.4" x2="444.9" y2="293.4" stroke="#111" stroke-width="1.1"/>
<text x="438.9" y="296.7" font-size="9.2" text-anchor="end" fill="#222" stroke="#222" stroke-width="0.12" textLength="12" lengthAdjust="spacingAndGlyphs">0.5</text>
<line x1="441.9" y1="265.5" x2="444.9" y2="265.5" stroke="#111" stroke-width="1.1"/>
<text x="438.9" y="268.8" font-size="9.2" text-anchor="end" fill="#222" stroke="#222" stroke-width="0.12" textLength="12" lengthAdjust="spacingAndGlyphs">1.0</text>
<line x1="441.9" y1="237.6" x2="444.9" y2="237.6" stroke="#111" stroke-width="1.1"/>
<text x="438.9" y="240.9" font-size="9.2" text-anchor="end" fill="#222" stroke="#222" stroke-width="0.12" textLength="12" lengthAdjust="spacingAndGlyphs">1.5</text>
<rect x="450.9" y="294.52" width="11" height="26.78" fill="#fff" stroke="#111" stroke-width="1.25"/>
<line x1="456.4" y1="294.52" x2="456.4" y2="290.61" stroke="#111" stroke-width="0.9"/>
<line x1="454.2" y1="290.61" x2="458.6" y2="290.61" stroke="#111" stroke-width="0.9"/>
<circle cx="456.4" cy="268.29" r="1.65" fill="#4e1f68"/>
<circle cx="456.4" cy="274.43" r="1.65" fill="#4e1f68"/>
<circle cx="456.4" cy="283.91" r="1.65" fill="#4e1f68"/>
<circle cx="452.9" cy="293.4" r="1.65" fill="#4e1f68"/>
<circle cx="459.9" cy="293.4" r="1.65" fill="#4e1f68"/>
<circle cx="454.7" cy="295.07" r="1.65" fill="#4e1f68"/>
<circle cx="458.1" cy="296.19" r="1.65" fill="#4e1f68"/>
<circle cx="456.4" cy="298.98" r="1.65" fill="#4e1f68"/>
<circle cx="454.9" cy="301.21" r="1.65" fill="#4e1f68"/>
<circle cx="457.9" cy="301.21" r="1.65" fill="#4e1f68"/>
<circle cx="454.7" cy="304.56" r="1.65" fill="#4e1f68"/>
<circle cx="458.1" cy="304" r="1.65" fill="#4e1f68"/>
<circle cx="456.4" cy="305.68" r="1.65" fill="#4e1f68"/>
<rect x="468.3" y="280.57" width="10.6" height="40.73" fill="#fff" stroke="#111" stroke-width="1.25"/>
<line x1="473.6" y1="280.57" x2="473.6" y2="276.1" stroke="#111" stroke-width="0.9"/>
<line x1="471.4" y1="276.1" x2="475.8" y2="276.1" stroke="#111" stroke-width="0.9"/>
<circle cx="469.6" cy="268.29" r="1.65" fill="#e8901e"/>
<circle cx="475.6" cy="272.75" r="1.65" fill="#e8901e"/>
<circle cx="477.3" cy="272.48" r="1.65" fill="#e8901e"/>
<circle cx="471.1" cy="278.33" r="1.65" fill="#e8901e"/>
<circle cx="473.6" cy="284.47" r="1.65" fill="#e8901e"/>
<circle cx="471.1" cy="293.4" r="1.65" fill="#e8901e"/>
<circle cx="476.1" cy="295.07" r="1.65" fill="#e8901e"/>
<rect x="485.5" y="265.5" width="10.7" height="55.8" fill="#fff" stroke="#111" stroke-width="1.25"/>
<line x1="490.85" y1="265.5" x2="490.85" y2="262.71" stroke="#111" stroke-width="0.9"/>
<line x1="488.65" y1="262.71" x2="493.05" y2="262.71" stroke="#111" stroke-width="0.9"/>
<circle cx="487.65" cy="255.46" r="1.65" fill="#6ab43e"/>
<circle cx="490.35" cy="254.34" r="1.65" fill="#6ab43e"/>
<circle cx="490.35" cy="259.92" r="1.65" fill="#6ab43e"/>
<circle cx="493.35" cy="259.92" r="1.65" fill="#6ab43e"/>
<circle cx="488.85" cy="266.06" r="1.65" fill="#6ab43e"/>
<circle cx="490.85" cy="269.41" r="1.65" fill="#6ab43e"/>
<circle cx="492.55" cy="269.96" r="1.65" fill="#6ab43e"/>
<circle cx="490.85" cy="282.24" r="1.65" fill="#6ab43e"/>
<circle cx="489.85" cy="267.17" r="1.65" fill="#6ab43e"/>
<line x1="444.9" y1="265.5" x2="501.5" y2="265.5" stroke="#555" stroke-width=".7" stroke-dasharray="1.3 1.1"/>
<line x1="454.8" y1="235.5" x2="487.5" y2="235.5" stroke="#111" stroke-width="1.1"/>
<path d="M467.85 230.75L468.23 231.67L469.23 231.75L468.47 232.40L468.70 233.37L467.85 232.85L467.00 233.37L467.23 232.40L466.47 231.75L467.47 231.67Z" fill="#222" stroke="#222" stroke-width=".35" stroke-linejoin="round"/>
<path d="M471.15 230.75L471.53 231.67L472.53 231.75L471.77 232.40L472.00 233.37L471.15 232.85L470.30 233.37L470.53 232.40L469.77 231.75L470.77 231.67Z" fill="#222" stroke="#222" stroke-width=".35" stroke-linejoin="round"/>
<path d="M474.45 230.75L474.83 231.67L475.83 231.75L475.07 232.40L475.30 233.37L474.45 232.85L473.60 233.37L473.83 232.40L473.07 231.75L474.07 231.67Z" fill="#222" stroke="#222" stroke-width=".35" stroke-linejoin="round"/>
<line x1="455.8" y1="243.9" x2="470.9" y2="243.9" stroke="#111" stroke-width="1.1"/>
<path d="M463.35 239.15L463.73 240.07L464.73 240.15L463.97 240.80L464.20 241.77L463.35 241.25L462.50 241.77L462.73 240.80L461.97 240.15L462.97 240.07Z" fill="#222" stroke="#222" stroke-width=".35" stroke-linejoin="round"/>
<line x1="473.1" y1="243.9" x2="487.9" y2="243.9" stroke="#111" stroke-width="1.1"/>
<path d="M478.85 239.15L479.23 240.07L480.23 240.15L479.47 240.80L479.70 241.77L478.85 241.25L478.00 241.77L478.23 240.80L477.47 240.15L478.47 240.07Z" fill="#222" stroke="#222" stroke-width=".35" stroke-linejoin="round"/>
<path d="M482.15 239.15L482.53 240.07L483.53 240.15L482.77 240.80L483.00 241.77L482.15 241.25L481.30 241.77L481.53 240.80L480.77 240.15L481.77 240.07Z" fill="#222" stroke="#222" stroke-width=".35" stroke-linejoin="round"/>
<text x="422.5" y="321" font-size="10" fill="#222" stroke="#222" stroke-width="0.12" textLength="87" lengthAdjust="spacingAndGlyphs" transform="rotate(-90 422.5 321)">MHC II MFI (fold change)</text>
<text x="7.5" y="353.8" font-size="12" font-weight="bold" fill="#000" stroke="#000" stroke-width=".35">G</text>
<text x="7.5" y="382.9" font-size="8.3" font-weight="bold" fill="#000" stroke="#000" stroke-width=".35" textLength="40" lengthAdjust="spacingAndGlyphs">Gated on:</text>
<text x="7.5" y="392.7" font-size="8.5" stroke="#111" stroke-width="0.12">CD19<tspan baseline-shift="4.3" font-size="4.8" fill="#555" stroke="#555">&#8722;</tspan></text>
<text x="7.5" y="403.2" font-size="8.5" stroke="#111" stroke-width="0.12">Ly6G<tspan baseline-shift="4.3" font-size="4.8" fill="#555" stroke="#555">&#8722;</tspan>CD3<tspan baseline-shift="4.3" font-size="4.8" fill="#555" stroke="#555">&#8722;</tspan></text>
<text x="7.5" y="413.3" font-size="8.5" stroke="#111" stroke-width="0.12">CD138<tspan baseline-shift="4.3" font-size="4.8" fill="#555" stroke="#555">&#8722;</tspan></text>
<text x="7.5" y="423.6" font-size="8.5" stroke="#111" stroke-width="0.12">NKp46<tspan baseline-shift="4.3" font-size="4.8" fill="#555" stroke="#555">&#8722;</tspan>M&#981;<tspan baseline-shift="4.3" font-size="4.8" fill="#555" stroke="#555">&#8722;</tspan></text>
<text x="82.7" y="368" font-size="8.3" stroke="#111" stroke-width="0.12" textLength="51.9" lengthAdjust="spacingAndGlyphs">MM-relapsed</text>
<clipPath id="cG0"><rect x="73" y="372.4" width="70.7" height="71"/></clipPath>
<g clip-path="url(#cG0)">
<ellipse cx="110" cy="390" rx="36.4" ry="13" fill="url(#gh)" fill-opacity="0.48"/>
<ellipse cx="105" cy="431" rx="36.4" ry="18.2" fill="url(#gh)" fill-opacity="0.32"/>
<ellipse cx="92" cy="399" rx="15.6" ry="7.8" fill="url(#gh)" fill-opacity="0.72"/>
<ellipse cx="130" cy="410" rx="10.4" ry="26" fill="url(#gh)" fill-opacity="0.35"/>
<ellipse cx="78" cy="420" rx="7.8" ry="31.2" fill="url(#gh)" fill-opacity="0.29"/>
<path transform="scale(.25)" d="M494 1507h3m21 4h3m-47 1h3m1 1h3m-116 4h3m164 0h3m-130 1h3m13 1h3m10 1h3m26 0h3m-106 1h3m84 0h3m-49 2h3m49 1h3m59 0h3m-227 1h3m165 0h3m17 1h3m-168 2h3m58 0h3m16 0h3m32 0h3m-16 1h3m48 0h3m6 0h3m14 0h3m-72 1h3m-1 1h3m-3 0h3m20 0h3m21 0h3m6 0h3m-122 1h3m28 0h3m28 1h3m48 0h3m14 0h3m-101 1h3m15 0h3m25 0h3m14 0h3m40 0h3m-119 1h3m48 0h3m9 0h3m7 1h3m-1 0h3m24 0h3m27 0h3m-130 1h3m48 0h3m56 0h3m-102 1h3m-2 0h3m62 0h3m51 0h3m3 0h3m-148 1h3m8 0h3m-2 0h3m-2 0h3m4 0h3m48 0h3m-11 1h3m2 0h3m89 0h3m-130 1h3m12 0h3m3 0h3m29 0h3m-126 1h3m36 0h3m13 0h3m11 0h3m8 0h3m22 0h3m15 0h3m17 0h3m11 0h3m-150 1h3m3 0h3m26 0h3m51 0h3m17 0h3m-2 0h3m13 0h3m22 0h3m7 0h3m23 0h3m-150 1h3m6 0h3m31 0h3m10 0h3m10 0h3m39 0h3m-132 1h3m4 0h3m9 0h3m15 0h3m3 0h3m7 0h3m-3 0h3m33 0h3m24 0h3m-2 0h3m73 0h3m-215 1h3m75 0h3m-2 0h3m1 0h3m17 0h3m-1 0h3m29 0h3m-110 1h3m4 0h3m11 0h3m0 0h3m7 0h3m-1 0h3m2 0h3m24 0h3m18 0h3m41 0h3m-139 1h3m36 0h3m41 0h3m3 0h3m-1 0h3m-2 0h3m23 0h3m11 0h3m-183 1h3m65 0h3m6 0h3m23 0h3m4 0h3m-1 0h3m5 0h3m13 0h3m11 0h3m0 0h3m13 0h3m6 0h3m32 0h3m-200 1h3m70 0h3m8 0h3m-1 0h3m16 0h3m4 0h3m13 0h3m1 0h3m4 0h3m9 0h3m18 0h3m40 0h3m-167 1h3m10 0h3m4 0h3m18 0h3m6 0h3m0 0h3m12 0h3m5 0h3m26 0h3m-144 1h3m34 0h3m2 0h3m17 0h3m-3 0h3m10 0h3m12 0h3m4 0h3m14 0h3m2 0h3m-104 1h3m49 0h3m4 0h3m0 0h3m13 0h3m4 0h3m-3 0h3m19 0h3m-2 0h3m-2 0h3m-2 0h3m9 0h3m-106 1h3m34 0h3m-2 0h3m-2 0h3m31 0h3m12 0h3m-93 1h3m4 0h3m4 0h3m2 0h3m4 0h3m6 0h3m-1 0h3m-1 0h3m1 0h3m6 0h3m1 0h3m3 0h3m3 0h3m15 0h3m2 0h3m0 0h3m27 0h3m0 0h3m-191 1h3m29 0h3m14 0h3m16 0h3m-1 0h3m1 0h3m2 0h3m2 0h3m5 0h3m-3 0h3m2 0h3m-3 0h3m-2 0h3m4 0h3m5 0h3m-1 0h3m8 0h3m8 0h3m9 0h3m-3 0h3m0 0h3m-1 0h3m3 0h3m9 0h3m1 0h3m-2 0h3m-168 1h3m11 0h3m2 0h3m21 0h3m3 0h3m5 0h3m3 0h3m2 0h3m0 0h3m-3 0h3m-2 0h3m-2 0h3m64 0h3m1 0h3m1 0h3m-140 1h3m18 0h3m-2 0h3m9 0h3m19 0h3m70 0h3m2 0h3m-3 0h3m11 0h3m-144 1h3m6 0h3m6 0h3m14 0h3m-3 0h3m-2 0h3m0 0h3m83 0h3m11 0h3m-2 0h3m-156 1h3m18 0h3m21 0h3m2 0h3m3 0h3m-3 0h3m107 0h3m-145 1h3m15 0h3m5 0h3m-113 1h3m61 0h3m0 0h3m32 0h3m0 0h3m0 0h3m114 0h3m-174 1h3m32 0h3m180 0h3m-177 1h3m-1 0h3m-2 0h3m1 0h3m102 1h3m-2 0h3m-2 0h3m2 0h3m-172 1h3m45 0h3m-46 1h3m23 0h3m21 0h3m-2 0h3m104 0h3m-170 1h3m27 0h3m134 0h3m7 0h3m-3 0h3m15 0h3m-168 1h3m8 0h3m4 0h3m6 0h3m106 0h3m26 0h3m6 0h3m-153 1h3m168 0h3m-184 1h3m12 0h3m1 0h3m-42 1h3m0 0h3m8 0h3m3 0h3m4 0h3m8 0h3m103 0h3m-106 1h3m99 0h3m19 0h3m-190 1h3m23 0h3m10 0h3m10 0h3m130 0h3m-154 1h3m4 0h3m4 0h3m16 0h3m95 0h3m-179 1h3m5 0h3m47 0h3m1 0h3m-34 1h3m40 0h3m100 0h3m-2 0h3m-203 1h3m92 0h3m-3 0h3m0 0h3m0 0h3m91 0h3m-1 0h3m-2 0h3m8 0h3m-3 0h3m-166 1h3m0 0h3m-1 0h3m-3 0h3m-2 0h3m46 0h3m1 0h3m94 0h3m35 0h3m-168 1h3m11 0h3m-2 0h3m11 0h3m-1 0h3m-3 0h3m-92 1h3m43 0h3m29 0h3m2 0h3m-1 0h3m91 0h3m9 0h3m13 0h3m2 0h3m16 0h3m-204 1h3m152 0h3m-200 1h3m24 0h3m36 0h3m0 0h3m9 0h3m10 0h3m96 0h3m-1 0h3m6 0h3m-218 1h3m18 0h3m24 0h3m8 0h3m24 0h3m8 0h3m102 0h3m-167 1h3m-1 0h3m3 0h3m11 0h3m12 0h3m4 0h3m1 0h3m9 0h3m14 0h3m7 0h3m74 0h3m-209 1h3m27 0h3m23 0h3m6 0h3m3 0h3m41 0h3m7 0h3m0 0h3m-97 1h3m-2 0h3m5 0h3m7 0h3m10 0h3m33 0h3m2 0h3m104 0h3m20 0h3m-221 1h3m23 0h3m0 0h3m3 0h3m-3 0h3m2 0h3m6 0h3m46 0h3m1 0h3m-2 0h3m0 0h3m79 0h3m13 0h3m-191 1h3m32 0h3m0 0h3m11 0h3m28 0h3m85 0h3m-2 0h3m22 0h3m-202 1h3m37 0h3m42 0h3m-1 0h3m7 0h3m-2 0h3m78 0h3m-1 0h3m5 0h3m-189 1h3m-1 0h3m22 0h3m56 0h3m-2 0h3m-77 1h3m11 0h3m0 0h3m20 0h3m8 0h3m10 0h3m91 0h3m-2 0h3m0 0h3m9 0h3m-202 1h3m55 0h3m14 0h3m-3 0h3m24 0h3m5 0h3m69 0h3m-192 1h3m39 0h3m-3 0h3m8 0h3m0 0h3m26 0h3m-3 0h3m0 0h3m12 0h3m84 0h3m0 0h3m-164 1h3m2 0h3m3 0h3m2 0h3m2 0h3m-1 0h3m4 0h3m17 0h3m10 0h3m3 0h3m7 0h3m6 0h3m-1 0h3m71 0h3m-171 1h3m4 0h3m-3 0h3m20 0h3m4 0h3m5 0h3m-3 0h3m2 0h3m6 0h3m-3 0h3m2 0h3m0 0h3m-1 0h3m2 0h3m14 0h3m-146 1h3m65 0h3m3 0h3m19 0h3m-3 0h3m-2 0h3m8 0h3m-83 1h3m-2 0h3m-2 0h3m14 0h3m4 0h3m2 0h3m13 0h3m4 0h3m0 0h3m25 0h3m3 0h3m96 0h3m-191 1h3m1 0h3m33 0h3m-1 0h3m-1 0h3m12 0h3m7 0h3m7 0h3m1 0h3m-2 0h3m12 0h3m-92 1h3m11 0h3m12 0h3m2 0h3m11 0h3m8 0h3m6 0h3m-2 0h3m131 0h3m-215 1h3m12 0h3m14 0h3m23 0h3m9 0h3m3 0h3m5 0h3m7 0h3m103 0h3m-207 1h3m7 0h3m5 0h3m11 0h3m1 0h3m-2 0h3m-2 0h3m10 0h3m12 0h3m0 0h3m-1 0h3m0 0h3m10 0h3m3 0h3m3 0h3m91 0h3m1 0h3m-192 1h3m-1 0h3m9 0h3m-2 0h3m3 0h3m8 0h3m-2 0h3m14 0h3m2 0h3m12 0h3m8 0h3m-2 0h3m2 0h3m-1 0h3m-1 0h3m-103 1h3m7 0h3m6 0h3m3 0h3m8 0h3m-2 0h3m0 0h3m7 0h3m-2 0h3m3 0h3m0 0h3m12 0h3m-2 0h3m2 0h3m0 0h3m7 0h3m3 0h3m-106 1h3m12 0h3m-3 0h3m15 0h3m6 0h3m-3 0h3m13 0h3m-3 0h3m7 0h3m0 0h3m6 0h3m104 0h3m0 0h3m5 0h3m20 0h3m6 0h3m-210 1h3m4 0h3m10 0h3m2 0h3m-1 0h3m3 0h3m-3 0h3m-3 0h3m132 0h3m-1 0h3m-202 1h3m33 0h3m6 0h3m-2 0h3m4 0h3m140 0h3m12 0h3m1 0h3m-196 1h3m14 0h3m2 0h3m-2 0h3m-2 0h3m5 0h3m161 0h3m-210 1h3m2 0h3m-1 0h3m8 0h3m-32 1h3m15 0h3m8 0h3m165 0h3m0 0h3m-2 0h3m-201 2h3m9 0h3m185 0h3m-199 1h3m185 0h3m0 0h3m-200 1h3m0 0h3m195 0h3m-215 1h3m9 0h3m-3 1h3m-3 0h3m0 0h3m189 0h3m-192 1h3m184 1h3m-2 0h3m11 0h3m-206 1h3m203 1h3m-209 1h3m188 0h3m-2 0h3m26 0h3m-233 1h3m7 0h3m-2 0h3m184 0h3m3 0h3m-198 1h3m182 0h3m-1 0h3m-189 1h3m184 0h3m-2 0h3m5 0h3m9 0h3m0 0h3m-225 1h3m3 1h3m187 0h3m18 0h3m-21 1h3m26 0h3m-2 0h3m-227 1h3m0 0h3m185 1h3m4 0h3m0 0h3m2 0h3m-224 1h3m5 0h3m-12 1h3m209 0h3m15 0h3m-16 1h3m-220 1h3m7 0h3m4 0h3m-1 0h3m185 0h3m-215 1h3m20 0h3m186 1h3m24 0h3m-221 1h3m193 0h3m-210 1h3m9 0h3m-2 0h3m185 0h3m4 0h3m35 0h3m-243 1h3m0 0h3m3 0h3m183 0h3m2 0h3m-196 1h3m-1 0h3m-19 1h3m9 0h3m215 0h3m-225 1h3m188 0h3m1 0h3m4 0h3m3 0h3m6 0h3m-224 1h3m2 0h3m191 0h3m-189 1h3m181 0h3m-3 0h3m1 0h3m47 0h3m-256 1h3m4 0h3m1 0h3m-2 0h3m-2 0h3m184 0h3m-2 0h3m1 0h3m6 0h3m-2 0h3m16 0h3m-231 1h3m213 0h3m19 0h3m-236 1h3m-1 0h3m185 0h3m60 0h3m-264 1h3m210 0h3m-214 1h3m1 0h3m-1 0h3m1 0h3m181 0h3m3 0h3m-217 1h3m218 0h3m10 0h3m-24 1h3m9 0h3m6 0h3m-230 1h3m2 0h3m6 0h3m-2 0h3m183 0h3m-194 1h3m188 0h3m-3 0h3m21 0h3m-223 1h3m230 0h3m-249 1h3m239 0h3m-232 1h3m4 0h3m183 0h3m33 0h3m-243 1h3m203 0h3m8 0h3m-213 1h3m250 0h3m-243 1h3m-11 1h3m8 0h3m191 0h3m0 0h3m3 0h3m-2 0h3m5 0h3m4 0h3m-239 1h3m1 0h3m1 0h3m2 0h3m200 0h3m-11 2h3m-3 0h3m2 0h3m-217 1h3m11 0h3m193 0h3m-220 1h3m6 0h3m202 0h3m0 0h3m-3 1h3m21 0h3m19 0h3m-257 1h3m-2 0h3m0 0h3m4 0h3m-3 0h3m183 0h3m5 0h3m23 0h3m2 0h3m1 0h3m-232 1h3m183 0h3m0 2h3m-199 1h3m0 0h3m186 0h3m0 0h3m6 0h3m2 0h3m-203 1h3m-1 0h3m-3 0h3m224 0h3m-29 1h3m-16 1h3m13 0h3m-220 1h3m196 0h3m-202 1h3m1 0h3m7 0h3m176 0h3m11 0h3m-11 1h3m-191 1h3m-11 1h3m2 0h3m3 0h3m-13 1h3m4 0h3m78 0h3m-91 1h3m85 0h3m-3 0h3m101 0h3m2 0h3m12 0h3m-2 0h3m-225 1h3m13 0h3m78 0h3m-2 0h3m2 0h3m3 0h3m87 0h3m-2 0h3m-193 1h3m0 0h3m-1 0h3m85 0h3m6 0h3m108 0h3m-209 1h3m75 0h3m-1 0h3m102 0h3m69 0h3m-280 1h3m0 0h3m226 0h3m-221 1h3m-1 0h3m79 0h3m6 0h3m6 0h3m1 0h3m-108 1h3m3 0h3m78 0h3m10 0h3m2 0h3m0 0h3m73 0h3m49 0h3m-240 1h3m4 0h3m97 0h3m97 0h3m21 0h3m3 0h3m-235 1h3m70 0h3m20 0h3m2 0h3m-111 1h3m-1 0h3m73 0h3m0 0h3m3 0h3m15 0h3m89 0h3m0 0h3m3 0h3m-112 1h3m88 0h3m0 0h3m-198 1h3m203 0h3m-199 1h3m70 0h3m9 0h3m12 0h3m2 0h3m0 0h3m2 0h3m92 0h3m-119 1h3m11 0h3m79 0h3m14 0h3m0 0h3m-213 1h3m2 0h3m65 0h3m6 0h3m117 0h3m3 0h3m36 0h3m-147 1h3m1 0h3m7 0h3m-2 0h3m58 0h3m-182 1h3m-2 0h3m89 0h3m12 0h3m8 0h3m-2 0h3m57 0h3m-69 1h3m-114 1h3m-2 0h3m64 0h3m1 0h3m21 0h3m10 0h3m-2 0h3m8 0h3m-131 1h3m0 0h3m96 0h3m13 0h3m2 0h3m-1 0h3m2 0h3m57 0h3m1 0h3m5 0h3m17 0h3m-216 1h3m113 0h3m2 0h3m53 0h3m-1 0h3m-109 1h3m40 0h3m52 0h3m11 0h3m2 0h3m-212 1h3m14 0h3m88 0h3m11 0h3m87 0h3m1 0h3m-208 1h3m-2 0h3m68 0h3m54 0h3m0 0h3m2 0h3m-3 0h3m40 0h3m-1 0h3m-112 1h3m7 0h3m4 0h3m6 0h3m-3 0h3m21 0h3m-2 0h3m62 0h3m15 0h3m-129 1h3m-3 0h3m17 0h3m4 0h3m17 0h3m-1 0h3m-1 0h3m45 0h3m2 0h3m18 0h3m-210 1h3m-1 0h3m81 0h3m43 0h3m4 0h3m-1 0h3m37 0h3m11 0h3m-73 1h3m9 0h3m-2 0h3m1 0h3m34 0h3m-2 0h3m-2 0h3m2 0h3m-195 1h3m75 0h3m35 0h3m9 0h3m17 0h3m35 0h3m-194 1h3m8 0h3m6 0h3m-1 0h3m79 0h3m39 0h3m0 0h3m-132 1h3m58 0h3m1 0h3m5 0h3m-1 0h3m2 0h3m40 0h3m42 0h3m-3 0h3m6 0h3m-198 1h3m1 0h3m83 0h3m12 0h3m24 0h3m17 0h3m35 0h3m44 0h3m-229 1h3m1 0h3m2 0h3m60 0h3m18 0h3m12 0h3m34 0h3m-3 0h3m28 0h3m10 0h3m34 0h3m12 0h3m-165 1h3m51 0h3m10 0h3m15 0h3m-178 1h3m15 0h3m59 0h3m36 0h3m4 0h3m3 0h3m45 0h3m3 0h3m-1 0h3m36 0h3m-226 1h3m5 0h3m64 0h3m16 0h3m50 0h3m6 0h3m12 0h3m6 0h3m11 0h3m3 0h3m11 0h3m-217 1h3m-1 0h3m74 0h3m-1 0h3m-3 0h3m44 0h3m33 0h3m29 0h3m11 0h3m-196 1h3m56 0h3m1 0h3m0 0h3m40 0h3m-1 0h3m2 0h3m-3 0h3m-2 0h3m18 0h3m2 0h3m10 0h3m3 0h3m-176 1h3m-2 0h3m1 0h3m80 0h3m36 0h3m9 0h3m3 0h3m3 0h3m4 0h3m1 0h3m0 0h3m-2 0h3m3 0h3m27 0h3m-207 1h3m7 0h3m63 0h3m1 0h3m26 0h3m47 0h3m-168 1h3m2 0h3m10 0h3m-2 0h3m60 0h3m0 0h3m20 0h3m-1 0h3m46 0h3m24 0h3m16 0h3m3 0h3m5 0h3m-139 1h3m2 0h3m5 0h3m15 0h3m24 0h3m-1 0h3m33 0h3m0 0h3m-107 1h3m-2 0h3m4 0h3m44 0h3m75 0h3m1 0h3m-140 1h3m-2 0h3m11 0h3m9 0h3m49 0h3m28 0h3m-183 1h3m64 0h3m47 0h3m-1 0h3m-55 1h3m7 0h3m24 0h3m7 0h3m20 0h3m-1 0h3m54 0h3m16 0h3m-149 1h3m42 0h3m11 0h3m1 0h3m0 0h3m9 0h3m55 0h3m-3 0h3m-202 1h3m58 0h3m3 0h3m2 0h3m40 0h3m5 0h3m-24 1h3m24 0h3m40 0h3m9 0h3m18 0h3m1 0h3m-213 1h3m98 0h3m20 0h3m14 0h3m37 0h3m-91 1h3m36 0h3m10 0h3m-142 1h3m51 0h3m3 0h3m19 0h3m98 0h3m5 0h3m-200 1h3m-1 0h3m81 0h3m6 0h3m24 0h3m1 0h3m28 0h3m5 0h3m37 0h3m-208 1h3m52 0h3m2 0h3m57 0h3m-59 1h3m0 0h3m46 0h3m-123 1h3m1 0h3m3 0h3m63 0h3m45 0h3m43 0h3m-179 1h3m60 0h3m20 0h3m61 0h3m6 0h3m46 0h3m-130 1h3m40 0h3m7 0h3m10 0h3m0 0h3m53 0h3m-217 1h3m12 0h3m54 0h3m49 0h3m35 0h3m31 0h3m11 0h3m5 0h3m-127 1h3m13 0h3m69 0h3m10 0h3m0 0h3m-204 1h3m21 0h3m45 0h3m41 0h3m20 0h3m12 0h3m16 0h3m7 0h3m18 0h3m11 0h3m-191 1h3m33 0h3m2 0h3m22 0h3m10 0h3m10 0h3m33 0h3m8 0h3m-142 1h3m34 0h3m35 0h3m53 0h3m14 0h3m-156 1h3m31 0h3m4 0h3m7 0h3m-8 1h3m75 0h3m85 0h3m-216 1h3m-1 0h3m0 0h3m12 0h3m14 0h3m-2 0h3m37 0h3m29 0h3m8 0h3m6 0h3m-139 1h3m-2 0h3m4 0h3m8 0h3m3 0h3m20 0h3m48 0h3m23 0h3m-103 1h3m2 0h3m-1 0h3m28 0h3m24 0h3m6 0h3m-86 1h3m6 0h3m-2 0h3m1 0h3m11 0h3m38 0h3m14 0h3m49 0h3m30 0h3m-170 1h3m7 0h3m-2 0h3m10 0h3m10 0h3m68 0h3m56 0h3m-186 1h3m5 0h3m15 0h3m32 0h3m18 0h3m15 0h3m31 0h3m20 0h3m61 0h3m-171 1h3m25 0h3m-81 1h3m66 0h3m45 0h3m36 0h3m-172 1h3m1 0h3m32 0h3m8 0h3m67 0h3m10 0h3m63 0h3m-198 1h3m16 0h3m24 0h3m2 0h3m2 0h3m63 0h3m32 0h3m-151 1h3m21 0h3m92 0h3m46 0h3m5 0h3m-166 1h3m18 0h3m76 0h3m-59 1h3m5 0h3m63 0h3m-93 1h3m53 0h3m8 0h3m7 0h3m-17 1h3m39 0h3m-161 1h3m59 0h3m55 0h3m-120 1h3m77 0h3m55 0h3m17 0h3m-114 1h3m32 0h3m35 0h3m-42 1h3m66 0h3m-154 1h3m21 1h3m-8 1h3m12 0h3m32 0h3m22 0h3m-96 2h3m238 0h3m-257 1h3m15 0h3m218 0h3m-212 1h3m63 0h3" stroke="#111" stroke-width="3.2" fill="none"/>
<path d="M80.1 430.0L80.0 426.0L79.8 422.1L79.7 418.2L79.7 414.4L79.7 410.6L79.9 407.6L80.4 405.4L81.0 404.0L81.9 403.3L83.6 402.8L86.1 402.3L89.5 402.0L93.7 401.9L97.5 401.6L100.8 401.4L103.8 401.1L106.2 400.7L108.2 400.3L109.5 399.8L110.2 399.1L110.4 398.4L109.8 397.6L108.6 396.7L106.6 395.6L104.0 394.3L102.1 393.3L100.9 392.4L100.6 391.7L100.9 391.2L101.7 390.7L102.7 390.3L104.1 389.9L105.9 389.5L108.2 389.3L111.2 389.1L114.8 389.0L119.1 389.0L122.3 389.2L124.6 389.7L125.9 390.3L126.3 391.2L126.5 392.6L126.6 394.6L126.5 397.2L126.3 400.3L126.1 403.4L125.8 406.3L125.5 409.2L125.2 412.1L124.8 414.8L124.4 417.5L123.9 420.0L123.4 422.5L122.8 424.5L122.2 426.1L121.5 427.2L120.8 428.0L119.8 428.3L118.4 428.3L116.6 428.0L114.5 427.2L112.5 426.4L110.5 425.3L108.7 424.1L106.9 422.7L105.3 421.6L103.8 420.7L102.5 420.1L101.2 419.7L100.2 419.5L99.3 419.5L98.6 419.7L98.1 420.1L97.6 420.7L97.0 421.6L96.5 422.7L96.0 424.1L95.5 425.6L94.9 427.2L94.4 428.8L93.8 430.6L93.2 432.1L92.4 433.3L91.5 434.2L90.4 435.0L89.3 435.5L88.1 435.9L86.8 436.1L85.3 436.2L84.1 436.2L83.0 436.2L82.2 436.2L81.5 436.1L80.9 435.1L80.4 433.0Z" fill="none" stroke="#000" stroke-width="1.5" opacity="0.8" filter="url(#bl04)"/>
<path d="M80.1 430.0L80.0 426.0L79.8 422.1L79.7 418.2L79.7 414.4L79.7 410.6L79.9 407.6L80.4 405.4L81.0 404.0L81.9 403.3L83.6 402.8L86.1 402.3L89.5 402.0L93.7 401.9L97.5 401.6L100.8 401.4L103.8 401.1L106.2 400.7L108.2 400.3L109.5 399.8L110.2 399.1L110.4 398.4L109.8 397.6L108.6 396.7L106.6 395.6L104.0 394.3L102.1 393.3L100.9 392.4L100.6 391.7L100.9 391.2L101.7 390.7L102.7 390.3L104.1 389.9L105.9 389.5L108.2 389.3L111.2 389.1L114.8 389.0L119.1 389.0L122.3 389.2L124.6 389.7L125.9 390.3L126.3 391.2L126.5 392.6L126.6 394.6L126.5 397.2L126.3 400.3L126.1 403.4L125.8 406.3L125.5 409.2L125.2 412.1L124.8 414.8L124.4 417.5L123.9 420.0L123.4 422.5L122.8 424.5L122.2 426.1L121.5 427.2L120.8 428.0L119.8 428.3L118.4 428.3L116.6 428.0L114.5 427.2L112.5 426.4L110.5 425.3L108.7 424.1L106.9 422.7L105.3 421.6L103.8 420.7L102.5 420.1L101.2 419.7L100.2 419.5L99.3 419.5L98.6 419.7L98.1 420.1L97.6 420.7L97.0 421.6L96.5 422.7L96.0 424.1L95.5 425.6L94.9 427.2L94.4 428.8L93.8 430.6L93.2 432.1L92.4 433.3L91.5 434.2L90.4 435.0L89.3 435.5L88.1 435.9L86.8 436.1L85.3 436.2L84.1 436.2L83.0 436.2L82.2 436.2L81.5 436.1L80.9 435.1L80.4 433.0Z" fill="#d3d3d3" stroke="#1a1a1a" stroke-width="0.8"/>
<path d="M87.0 435.5L86.0 435.5L85.0 435.5L84.0 435.5L83.0 435.5L82.0 435.5L81.7 434.9L81.4 434.4L81.4 433.4L81.0 432.6L80.9 431.9L80.9 430.9L80.9 429.9L80.9 428.9L80.9 427.9L80.9 426.9L80.5 426.1L80.4 425.4L80.4 424.4L80.4 423.4L80.4 422.4L80.4 421.4L80.4 420.4L80.4 419.4L80.4 418.4L80.4 417.4L80.4 416.4L80.4 415.4L80.4 414.4L80.4 413.4L80.4 412.4L80.4 411.4L80.4 410.4L80.4 409.4L80.4 408.4L80.5 407.7L80.9 406.9L80.9 405.9L81.2 405.4L81.5 404.7L82.0 404.1L82.5 403.8L83.5 403.6L84.0 403.3L85.0 403.3L86.0 403.1L86.5 402.8L87.5 402.8L88.5 402.8L89.5 402.8L90.5 402.8L91.5 402.8L92.5 402.8L93.3 402.4L94.0 402.3L95.0 402.3L96.0 402.3L97.0 402.3L98.0 402.3L99.0 402.3L100.0 402.3L101.0 402.1L101.5 401.8L102.5 401.8L103.5 401.8L104.5 401.8L105.5 401.6L106.0 401.3L107.0 401.3L108.0 401.1L108.5 400.8L109.5 400.6L110.0 400.1L110.5 399.6L110.9 398.9L110.9 397.9L110.5 397.2L110.0 396.7L109.3 396.4L108.7 395.9L108.0 395.5L107.5 395.2L106.8 394.9L106.0 394.5L105.5 394.2L104.8 393.9L104.0 393.5L103.5 393.2L102.8 392.9L102.2 392.4L101.5 392.0L101.5 391.7L102.0 391.3L102.8 390.9L103.5 390.8L104.5 390.6L105.0 390.3L106.0 390.3L107.0 390.3L107.8 389.9L108.5 389.8L109.5 389.8L110.5 389.8L111.5 389.8L112.5 389.8L113.5 389.8L114.5 389.8L115.5 389.8L116.5 389.8L117.5 389.8L118.5 389.8L119.5 389.8L120.5 389.8L121.5 389.8L122.5 389.8L123.0 390.1L124.0 390.3L124.7 390.4L125.3 390.9L125.6 391.4L125.6 392.4L125.8 393.4L126.1 393.9L126.1 394.9L126.1 395.9L126.0 396.6L125.6 397.4L125.6 398.4L125.6 399.4L125.6 400.4L125.6 401.4L125.6 402.4L125.6 403.4L125.3 403.9L125.1 404.9L125.1 405.9L125.1 406.9L125.1 407.9L125.0 408.6L124.6 409.4L124.6 410.4L124.6 411.4L124.6 412.4L124.5 413.1L124.1 413.9L124.1 414.9L124.1 415.9L123.8 416.4L123.6 417.4L123.6 418.4L123.5 419.1L123.1 419.9L123.1 420.9L123.0 421.6L122.6 422.4L122.5 423.1L122.1 423.9L122.0 424.6L121.6 425.4L121.5 426.1L121.0 426.7L120.5 427.2L120.0 427.5L119.0 427.5L118.0 427.5L117.0 427.5L116.5 427.2L115.5 427.0L115.0 426.7L114.3 426.4L113.5 426.0L113.0 425.7L112.3 425.4L111.5 425.0L111.0 424.7L110.3 424.4L109.7 423.9L109.0 423.5L108.5 423.2L108.0 422.7L107.5 422.2L106.8 421.9L106.2 421.4L105.7 420.9L105.0 420.5L104.5 420.2L103.8 419.9L103.0 419.5L102.3 419.4L101.5 419.0L100.5 419.0L99.5 419.0L98.5 419.0L97.8 419.4L97.3 419.9L96.8 420.4L96.5 421.1L96.1 421.9L95.8 422.4L95.6 423.4L95.3 423.9L95.1 424.9L94.8 425.4L94.6 426.4L94.3 426.9L94.1 427.9L93.8 428.4L93.6 429.4L93.3 429.9L93.0 430.6L92.6 431.4L92.3 431.9L92.0 432.6L91.5 433.2L91.0 433.7L90.5 434.2L90.0 434.5L89.2 434.9L88.5 435.0L87.5 435.2L87.0 435.5Z" fill="#d9d9d9" stroke="#555" stroke-width=".55"/>
<path d="M87.0 434.4L86.0 434.6L85.0 434.6L84.0 434.6L83.0 434.6L82.5 434.4L82.3 433.4L82.0 432.4L81.8 431.9L81.8 430.9L81.8 429.9L81.8 428.9L81.8 427.9L81.8 426.9L81.5 425.9L81.3 425.4L81.3 424.4L81.3 423.4L81.3 422.4L81.3 421.4L81.3 420.4L81.3 419.4L81.3 418.4L81.3 417.4L81.3 416.4L81.3 415.4L81.3 414.4L81.3 413.4L81.3 412.4L81.3 411.4L81.3 410.4L81.3 409.4L81.3 408.4L81.5 407.9L81.8 406.9L82.0 405.9L82.2 405.4L82.5 404.9L83.5 404.6L84.0 404.4L85.0 404.2L86.0 404.1L86.5 403.9L87.5 403.7L88.5 403.7L89.5 403.7L90.5 403.7L91.5 403.7L92.5 403.7L93.5 403.4L94.0 403.2L95.0 403.2L96.0 403.2L97.0 403.2L98.0 403.2L99.0 403.2L100.0 403.2L101.0 403.1L101.5 402.9L102.5 402.7L103.5 402.7L104.5 402.7L105.5 402.6L106.0 402.4L107.0 402.2L108.0 402.1L108.5 401.9L109.5 401.6L110.0 401.4L110.5 400.9L111.0 400.4L111.5 399.9L111.8 398.9L111.8 397.9L111.5 396.9L111.0 396.4L110.5 395.9L110.0 395.7L109.5 395.4L109.0 394.9L108.0 394.4L107.5 394.2L107.0 393.9L106.0 393.4L105.5 393.2L105.0 392.9L104.0 392.4L103.5 392.1L103.0 391.9L103.5 391.7L104.5 391.6L105.0 391.4L106.0 391.2L107.0 391.2L108.0 390.9L108.5 390.7L109.5 390.7L110.5 390.7L111.5 390.7L112.5 390.7L113.5 390.7L114.5 390.7L115.5 390.7L116.5 390.7L117.5 390.7L118.5 390.7L119.5 390.7L120.5 390.7L121.5 390.7L122.5 390.9L123.0 391.1L124.0 391.2L124.5 391.4L124.7 392.4L124.8 393.4L125.0 393.9L125.2 394.9L125.2 395.9L125.0 396.4L124.7 397.4L124.7 398.4L124.7 399.4L124.7 400.4L124.7 401.4L124.7 402.4L124.5 403.4L124.3 403.9L124.2 404.9L124.2 405.9L124.2 406.9L124.2 407.9L124.0 408.4L123.7 409.4L123.7 410.4L123.7 411.4L123.7 412.4L123.5 412.9L123.2 413.9L123.2 414.9L123.0 415.9L122.8 416.4L122.7 417.4L122.7 418.4L122.5 418.9L122.2 419.9L122.2 420.9L122.0 421.4L121.7 422.4L121.5 422.9L121.2 423.9L121.0 424.4L120.7 425.4L120.5 425.9L120.0 426.4L119.0 426.6L118.0 426.6L117.0 426.4L116.5 426.2L115.5 425.9L115.0 425.7L114.5 425.4L113.5 424.9L113.0 424.7L112.5 424.4L111.5 423.9L111.0 423.7L110.5 423.4L110.0 422.9L109.0 422.4L108.5 421.9L108.0 421.4L107.5 421.2L107.0 420.9L106.5 420.4L106.0 419.9L105.0 419.4L104.5 419.2L104.0 418.9L103.0 418.6L102.5 418.4L101.5 418.1L100.5 418.1L99.5 418.1L98.5 418.1L97.5 418.4L97.0 418.9L96.5 419.4L96.0 419.9L95.8 420.4L95.5 420.9L95.0 421.9L94.8 422.4L94.5 423.4L94.3 423.9L94.0 424.9L93.8 425.4L93.5 426.4L93.3 426.9L93.0 427.9L92.8 428.4L92.5 429.4L92.3 429.9L92.0 430.4L91.5 431.4L91.3 431.9L91.0 432.4L90.5 432.9L90.0 433.4L89.0 433.9L88.5 434.1L87.5 434.2L87.0 434.4Z" fill="#dfdfdf" stroke="#5a5a5a" stroke-width=".55"/>
<path d="M86.5 433.7L85.5 433.7L84.5 433.7L83.5 433.7L83.2 432.9L83.0 432.4L82.7 431.4L82.7 430.4L82.7 429.4L82.7 428.4L82.7 427.4L82.7 426.4L82.5 425.9L82.2 424.9L82.2 423.9L82.2 422.9L82.2 421.9L82.2 420.9L82.2 419.9L82.2 418.9L82.2 417.9L82.2 416.9L82.2 415.9L82.2 414.9L82.2 413.9L82.2 412.9L82.2 411.9L82.2 410.9L82.2 409.9L82.2 408.9L82.5 407.9L82.7 407.4L82.7 406.4L83.0 405.9L84.0 405.4L84.5 405.1L85.5 405.1L86.5 404.9L87.0 404.6L88.0 404.6L89.0 404.6L90.0 404.6L91.0 404.6L92.0 404.6L93.0 404.6L93.5 404.4L94.5 404.1L95.5 404.1L96.5 404.1L97.5 404.1L98.5 404.1L99.5 404.1L100.5 404.1L101.5 403.9L102.0 403.6L103.0 403.6L104.0 403.6L105.0 403.6L106.0 403.4L106.5 403.1L107.5 403.1L108.5 402.9L109.0 402.6L110.0 402.4L110.5 402.1L111.0 401.7L111.5 401.2L112.0 400.7L112.5 399.9L112.7 399.4L112.7 398.4L112.7 397.4L112.5 396.9L112.0 396.1L111.5 395.6L111.0 395.2L110.5 394.9L109.8 394.4L109.0 393.9L108.5 393.7L108.0 393.4L107.0 392.9L106.5 392.7L106.5 392.1L107.5 392.1L108.0 391.9L109.0 391.6L110.0 391.6L111.0 391.6L112.0 391.6L113.0 391.6L114.0 391.6L115.0 391.6L116.0 391.6L117.0 391.6L118.0 391.6L119.0 391.6L120.0 391.6L121.0 391.6L122.0 391.6L122.5 391.9L123.5 392.1L123.8 392.9L124.0 393.9L124.3 394.4L124.3 395.4L124.0 396.4L123.8 396.9L123.8 397.9L123.8 398.9L123.8 399.9L123.8 400.9L123.8 401.9L123.8 402.9L123.5 403.4L123.3 404.4L123.3 405.4L123.3 406.4L123.3 407.4L123.0 408.4L122.8 408.9L122.8 409.9L122.8 410.9L122.8 411.9L122.5 412.9L122.3 413.4L122.3 414.4L122.3 415.4L122.0 415.9L121.8 416.9L121.8 417.9L121.5 418.9L121.3 419.4L121.3 420.4L121.0 421.4L120.8 421.9L120.5 422.9L120.3 423.4L120.0 424.4L119.8 424.9L119.5 425.6L118.5 425.7L117.5 425.7L117.0 425.4L116.0 425.2L115.5 424.9L114.5 424.4L114.0 424.2L113.5 423.9L112.5 423.4L112.0 423.2L111.5 422.9L110.8 422.4L110.0 421.9L109.5 421.6L109.0 421.1L108.5 420.7L108.0 420.4L107.3 419.9L106.8 419.4L106.0 418.9L105.5 418.7L105.0 418.4L104.0 417.9L103.5 417.7L102.5 417.4L102.0 417.2L101.0 417.2L100.0 417.2L99.0 417.2L98.0 417.2L97.5 417.4L96.7 417.9L96.2 418.4L95.7 418.9L95.3 419.4L95.0 419.9L94.5 420.9L94.3 421.4L94.0 421.9L93.8 422.9L93.5 423.4L93.3 424.4L93.0 424.9L92.8 425.9L92.5 426.4L92.3 427.4L92.0 427.9L91.8 428.9L91.5 429.4L91.0 430.4L90.8 430.9L90.5 431.4L90.0 432.1L89.5 432.6L89.0 432.9L88.0 433.2L87.0 433.4L86.5 433.7Z" fill="#e5e5e5" stroke="#606060" stroke-width=".55"/>
<path d="M87.0 432.4L86.0 432.8L85.0 432.8L84.0 432.5L83.8 431.9L83.6 430.9L83.6 429.9L83.6 428.9L83.6 427.9L83.6 426.9L83.5 426.1L83.3 425.4L83.1 424.4L83.1 423.4L83.1 422.4L83.1 421.4L83.1 420.4L83.1 419.4L83.1 418.4L83.1 417.4L83.1 416.4L83.1 415.4L83.1 414.4L83.1 413.4L83.1 412.4L83.1 411.4L83.1 410.4L83.1 409.4L83.3 408.4L83.5 407.7L83.6 406.9L84.0 406.4L85.0 406.0L86.0 406.0L86.5 405.9L87.5 405.5L88.5 405.5L89.5 405.5L90.5 405.5L91.5 405.5L92.5 405.5L93.3 405.4L94.0 405.2L95.0 405.0L96.0 405.0L97.0 405.0L98.0 405.0L99.0 405.0L100.0 405.0L101.0 405.0L101.5 404.9L102.5 404.5L103.5 404.5L104.5 404.5L105.5 404.5L106.0 404.4L107.0 404.0L108.0 404.0L108.5 403.9L109.5 403.5L110.0 403.4L111.0 402.9L111.5 402.5L112.0 402.0L112.5 401.5L113.0 400.9L113.3 400.4L113.5 399.7L113.6 398.9L113.6 397.9L113.5 397.1L113.3 396.4L113.0 395.9L112.5 395.3L112.0 394.8L111.5 394.4L110.6 393.9L110.0 393.4L109.5 393.1L109.0 392.9L109.5 392.6L110.5 392.5L111.5 392.5L112.5 392.5L113.5 392.5L114.5 392.5L115.5 392.5L116.5 392.5L117.5 392.5L118.5 392.5L119.5 392.5L120.5 392.5L121.5 392.5L122.5 392.9L122.9 393.4L123.0 393.9L123.4 394.9L123.2 395.9L123.0 396.6L122.9 397.4L122.9 398.4L122.9 399.4L122.9 400.4L122.9 401.4L122.9 402.4L122.5 403.4L122.4 403.9L122.4 404.9L122.4 405.9L122.4 406.9L122.2 407.9L122.0 408.6L121.9 409.4L121.9 410.4L121.9 411.4L121.7 412.4L121.5 413.1L121.4 413.9L121.4 414.9L121.0 415.9L120.9 416.4L120.9 417.4L120.7 418.4L120.5 419.1L120.4 419.9L120.2 420.9L120.0 421.6L119.7 422.4L119.5 423.1L119.2 423.9L119.0 424.5L118.0 424.8L117.0 424.4L116.5 424.3L115.5 423.9L115.0 423.6L114.5 423.4L113.5 422.9L113.0 422.6L112.5 422.4L111.6 421.9L111.0 421.4L110.5 421.1L110.0 420.8L109.5 420.3L109.0 419.9L108.1 419.4L107.6 418.9L107.0 418.4L106.5 418.1L106.0 417.9L105.0 417.4L104.5 417.1L103.8 416.9L103.0 416.6L102.3 416.4L101.5 416.3L100.5 416.3L99.5 416.3L98.5 416.3L97.7 416.4L97.0 416.6L96.5 416.9L95.9 417.4L95.4 417.9L94.9 418.4L94.5 418.9L94.0 419.9L93.7 420.4L93.5 420.9L93.0 421.9L92.9 422.4L92.5 423.4L92.4 423.9L92.0 424.9L91.9 425.4L91.5 426.4L91.4 426.9L91.0 427.9L90.9 428.4L90.5 429.4L90.2 429.9L90.0 430.4L89.5 431.3L89.0 431.8L88.5 432.1L87.5 432.3L87.0 432.4Z" fill="#eaeaea" stroke="#666" stroke-width=".55"/>
<path d="M87.5 431.4L86.5 431.7L85.5 431.9L84.5 431.4L84.5 430.4L84.5 429.4L84.5 428.4L84.5 427.4L84.5 426.4L84.2 425.4L84.0 424.4L84.0 423.4L84.0 422.4L84.0 421.4L84.0 420.4L84.0 419.4L84.0 418.4L84.0 417.4L84.0 416.4L84.0 415.4L84.0 414.4L84.0 413.4L84.0 412.4L84.0 411.4L84.0 410.4L84.0 409.4L84.2 408.4L84.5 407.4L85.0 406.9L86.0 406.9L87.0 406.6L88.0 406.4L89.0 406.4L90.0 406.4L91.0 406.4L92.0 406.4L93.0 406.4L94.0 406.1L95.0 405.9L96.0 405.9L97.0 405.9L98.0 405.9L99.0 405.9L100.0 405.9L101.0 405.9L102.0 405.6L103.0 405.4L104.0 405.4L105.0 405.4L106.0 405.3L107.0 404.9L108.0 404.9L109.0 404.6L109.6 404.4L110.5 404.1L111.1 403.9L111.8 403.4L112.4 402.9L112.9 402.4L113.4 401.9L113.7 401.4L114.0 400.9L114.4 399.9L114.5 398.9L114.5 397.9L114.4 396.9L114.0 395.9L113.7 395.4L113.4 394.9L112.9 394.4L112.3 393.9L113.0 393.4L114.0 393.4L115.0 393.4L116.0 393.4L117.0 393.4L118.0 393.4L119.0 393.4L120.0 393.4L121.0 393.4L122.0 393.7L122.3 394.4L122.5 395.4L122.1 396.4L122.0 397.4L122.0 398.4L122.0 399.4L122.0 400.4L122.0 401.4L122.0 402.4L121.6 403.4L121.5 404.4L121.5 405.4L121.5 406.4L121.5 407.4L121.1 408.4L121.0 409.4L121.0 410.4L121.0 411.4L120.8 412.4L120.5 413.4L120.5 414.4L120.3 415.4L120.0 416.4L120.0 417.4L119.8 418.4L119.5 419.4L119.5 420.4L119.1 421.4L119.0 421.9L118.6 422.9L118.5 423.4L117.5 423.7L116.6 423.4L116.0 423.1L115.5 422.9L114.6 422.4L114.0 422.1L113.5 421.9L112.6 421.4L112.0 421.0L111.5 420.7L111.0 420.4L110.4 419.9L109.8 419.4L109.1 418.9L108.5 418.5L108.0 418.0L107.5 417.7L107.0 417.4L106.1 416.9L105.5 416.6L105.0 416.4L104.0 416.0L103.5 415.9L102.5 415.5L101.5 415.4L100.5 415.4L99.5 415.4L98.5 415.4L97.5 415.5L96.5 415.9L96.0 416.2L95.5 416.5L95.0 417.0L94.5 417.5L94.0 418.1L93.5 418.8L93.2 419.4L93.0 419.9L92.5 420.8L92.3 421.4L92.0 422.3L91.8 422.9L91.5 423.8L91.3 424.4L91.0 425.3L90.8 425.9L90.5 426.8L90.3 427.4L90.0 428.3L89.7 428.9L89.5 429.4L89.0 430.3L88.6 430.9L88.0 431.4L87.5 431.4Z" fill="#efefef" stroke="#6c6c6c" stroke-width=".55"/>
<path d="M85.5 431.0L85.4 430.4L85.4 429.4L85.4 428.4L85.4 427.4L85.4 426.4L85.2 425.4L85.0 424.8L84.9 423.9L84.9 422.9L84.9 421.9L84.9 420.9L84.9 419.9L84.9 418.9L84.9 417.9L84.9 416.9L84.9 415.9L84.9 414.9L84.9 413.9L84.9 412.9L84.9 411.9L84.9 410.9L84.9 409.9L85.0 409.0L85.2 408.4L85.5 407.8L86.5 407.7L87.5 407.4L88.0 407.3L89.0 407.3L90.0 407.3L91.0 407.3L92.0 407.3L93.0 407.3L94.0 407.1L94.6 406.9L95.5 406.8L96.5 406.8L97.5 406.8L98.5 406.8L99.5 406.8L100.5 406.8L101.5 406.7L102.5 406.4L103.0 406.3L104.0 406.3L105.0 406.3L106.0 406.2L107.0 405.9L107.5 405.8L108.5 405.7L109.5 405.4L110.0 405.2L111.0 404.9L111.5 404.7L112.0 404.4L112.6 403.9L113.1 403.4L113.6 402.9L114.1 402.4L114.5 401.9L115.0 400.9L115.2 400.4L115.4 399.4L115.4 398.4L115.4 397.4L115.2 396.4L115.0 395.9L114.5 394.9L114.2 394.4L115.0 394.3L116.0 394.3L117.0 394.3L118.0 394.3L119.0 394.3L120.0 394.3L121.0 394.3L121.5 394.9L121.3 395.9L121.1 396.9L121.1 397.9L121.1 398.9L121.1 399.9L121.1 400.9L121.1 401.9L121.0 402.4L120.7 403.4L120.6 404.4L120.6 405.4L120.6 406.4L120.5 407.3L120.3 407.9L120.1 408.9L120.1 409.9L120.1 410.9L120.0 411.8L119.8 412.4L119.6 413.4L119.6 414.4L119.5 414.9L119.2 415.9L119.1 416.9L119.0 417.8L118.8 418.4L118.6 419.4L118.5 420.3L118.3 420.9L118.0 421.9L117.8 422.4L117.0 422.6L116.5 422.4L115.5 421.9L115.0 421.6L114.5 421.4L113.5 420.9L113.0 420.6L112.5 420.3L112.0 419.9L111.2 419.4L110.6 418.9L110.0 418.4L109.5 418.1L109.0 417.8L108.5 417.3L108.0 416.9L107.0 416.4L106.5 416.1L106.0 415.9L105.0 415.4L104.5 415.2L103.5 414.9L103.0 414.7L102.0 414.5L101.0 414.5L100.0 414.5L99.0 414.5L98.0 414.5L97.0 414.7L96.5 414.9L95.5 415.4L95.0 415.8L94.5 416.3L94.0 416.8L93.5 417.3L93.0 417.9L92.7 418.4L92.5 418.9L92.0 419.9L91.7 420.4L91.5 420.9L91.2 421.9L91.0 422.4L90.7 423.4L90.5 423.9L90.2 424.9L90.0 425.4L89.7 426.4L89.5 426.9L89.2 427.9L89.0 428.4L88.5 429.4L88.2 429.9L87.8 430.4L87.0 430.6L86.0 430.9L85.5 431.0Z" fill="#f3f3f3" stroke="#737373" stroke-width=".55"/>
<path d="M87.0 429.7L86.3 429.4L86.3 428.4L86.3 427.4L86.3 426.4L86.1 425.4L86.0 424.9L85.8 423.9L85.8 422.9L85.8 421.9L85.8 420.9L85.8 419.9L85.8 418.9L85.8 417.9L85.8 416.9L85.8 415.9L85.8 414.9L85.8 413.9L85.8 412.9L85.8 411.9L85.8 410.9L85.8 409.9L86.0 408.9L86.5 408.6L87.4 408.4L88.0 408.2L89.0 408.2L90.0 408.2L91.0 408.2L92.0 408.2L93.0 408.2L94.0 408.0L94.5 407.9L95.5 407.7L96.5 407.7L97.5 407.7L98.5 407.7L99.5 407.7L100.5 407.7L101.5 407.6L102.4 407.4L103.0 407.2L104.0 407.2L105.0 407.2L106.0 407.1L106.9 406.9L107.5 406.7L108.5 406.6L109.4 406.4L110.0 406.2L110.9 405.9L111.5 405.7L112.1 405.4L112.8 404.9L113.4 404.4L113.9 403.9L114.4 403.4L114.9 402.9L115.2 402.4L115.5 401.9L116.0 400.9L116.1 400.4L116.3 399.4L116.3 398.4L116.3 397.4L116.1 396.4L116.0 395.9L116.0 395.2L117.0 395.2L118.0 395.2L119.0 395.2L120.0 395.2L120.5 395.4L120.4 395.9L120.2 396.9L120.2 397.9L120.2 398.9L120.2 399.9L120.2 400.9L120.2 401.9L120.0 402.5L119.8 403.4L119.7 404.4L119.7 405.4L119.7 406.4L119.5 407.4L119.4 407.9L119.2 408.9L119.2 409.9L119.2 410.9L119.0 411.9L118.9 412.4L118.7 413.4L118.7 414.4L118.5 415.0L118.3 415.9L118.2 416.9L118.0 417.9L117.9 418.4L117.7 419.4L117.5 420.4L117.4 420.9L117.0 421.6L116.5 421.4L115.6 420.9L115.0 420.6L114.5 420.4L113.6 419.9L113.0 419.5L112.5 419.2L112.0 418.9L111.4 418.4L110.8 417.9L110.1 417.4L109.5 417.0L109.0 416.5L108.5 416.2L108.0 415.9L107.1 415.4L106.5 415.1L106.0 414.9L105.0 414.4L104.5 414.3L103.5 413.9L103.0 413.8L102.0 413.6L101.0 413.6L100.0 413.6L99.0 413.6L98.0 413.6L97.0 413.8L96.5 413.9L95.5 414.4L95.0 414.7L94.5 415.0L94.0 415.5L93.5 416.0L93.0 416.5L92.5 417.1L92.0 417.8L91.7 418.4L91.5 418.9L91.0 419.8L90.7 420.4L90.5 421.0L90.2 421.9L90.0 422.5L89.7 423.4L89.5 424.0L89.2 424.9L89.0 425.5L88.7 426.4L88.5 427.0L88.2 427.9L88.0 428.4L87.5 429.3L87.0 429.7Z" fill="#f7f7f7" stroke="#7a7a7a" stroke-width=".55"/>
<path d="M87.5 427.2L87.2 426.4L87.0 425.4L86.9 424.9L86.7 423.9L86.7 422.9L86.7 421.9L86.7 420.9L86.7 419.9L86.7 418.9L86.7 417.9L86.7 416.9L86.7 415.9L86.7 414.9L86.7 413.9L86.7 412.9L86.7 411.9L86.7 410.9L86.7 409.9L87.2 409.4L88.0 409.2L89.0 409.1L90.0 409.1L91.0 409.1L92.0 409.1L93.0 409.1L94.0 408.9L94.5 408.8L95.5 408.6L96.5 408.6L97.5 408.6L98.5 408.6L99.5 408.6L100.5 408.6L101.5 408.5L102.2 408.4L103.0 408.2L104.0 408.1L105.0 408.1L106.0 408.0L106.7 407.9L107.5 407.7L108.5 407.5L109.2 407.4L110.0 407.2L110.7 406.9L111.5 406.7L112.1 406.4L113.0 405.9L113.5 405.5L114.0 405.1L114.5 404.6L115.0 404.1L115.5 403.5L116.0 402.9L116.3 402.4L116.5 401.9L116.9 400.9L117.0 400.4L117.2 399.4L117.2 398.4L117.2 397.4L117.1 396.4L118.0 396.1L119.0 396.1L119.3 396.9L119.3 397.9L119.3 398.9L119.3 399.9L119.3 400.9L119.2 401.9L119.0 402.7L118.9 403.4L118.8 404.4L118.8 405.4L118.8 406.4L118.6 407.4L118.5 407.9L118.3 408.9L118.3 409.9L118.3 410.9L118.1 411.9L118.0 412.4L117.8 413.4L117.7 414.4L117.5 415.2L117.4 415.9L117.3 416.9L117.1 417.9L117.0 418.4L116.8 419.4L116.5 420.3L115.6 419.9L115.0 419.6L114.5 419.4L113.7 418.9L113.0 418.4L112.5 418.1L112.0 417.7L111.5 417.3L111.0 416.9L110.2 416.4L109.6 415.9L109.0 415.4L108.5 415.1L108.0 414.9L107.1 414.4L106.5 414.1L106.0 413.9L105.0 413.5L104.5 413.4L103.5 413.0L103.0 412.9L102.0 412.7L101.0 412.7L100.0 412.7L99.0 412.7L98.0 412.7L97.0 412.9L96.5 413.0L95.5 413.4L95.0 413.6L94.5 413.9L93.9 414.4L93.3 414.9L92.8 415.4L92.3 415.9L91.9 416.4L91.5 416.9L91.0 417.8L90.7 418.4L90.5 418.9L90.0 419.8L89.7 420.4L89.5 421.2L89.2 421.9L89.0 422.7L88.7 423.4L88.5 424.2L88.2 424.9L88.0 425.7L87.7 426.4L87.5 427.2Z" fill="#fafafa" stroke="#808080" stroke-width=".55"/>
<path d="M88.0 422.8L87.6 421.9L87.6 420.9L87.6 419.9L87.6 418.9L87.6 417.9L87.6 416.9L87.6 415.9L87.6 414.9L87.6 413.9L87.6 412.9L87.6 411.9L87.6 410.9L88.0 410.1L89.0 410.0L90.0 410.0L91.0 410.0L92.0 410.0L93.0 410.0L93.7 409.9L94.5 409.7L95.5 409.5L96.5 409.5L97.5 409.5L98.5 409.5L99.5 409.5L100.5 409.5L101.5 409.4L102.0 409.4L103.0 409.1L104.0 409.0L105.0 409.0L106.0 408.9L106.5 408.9L107.5 408.6L108.5 408.4L109.0 408.4L110.0 408.1L110.6 407.9L111.5 407.6L112.1 407.4L113.0 406.9L113.5 406.6L114.0 406.3L114.5 405.8L115.0 405.3L115.5 404.8L116.0 404.3L116.5 403.7L117.0 403.0L117.3 402.4L117.5 401.9L117.8 400.9L118.0 400.1L118.3 400.9L118.3 401.9L118.0 402.9L118.0 403.4L117.9 404.4L117.9 405.4L117.9 406.4L117.7 407.4L117.5 408.2L117.4 408.9L117.4 409.9L117.4 410.9L117.2 411.9L117.0 412.7L116.9 413.4L116.8 414.4L116.5 415.4L116.5 415.9L116.4 416.9L116.2 417.9L116.0 418.7L115.0 418.6L114.5 418.4L113.8 417.9L113.1 417.4L112.5 417.0L112.0 416.5L111.5 416.2L111.0 415.9L110.4 415.4L109.8 414.9L109.1 414.4L108.5 414.1L108.0 413.9L107.1 413.4L106.5 413.1L106.0 412.9L105.0 412.6L104.5 412.4L103.5 412.1L102.7 411.9L102.0 411.8L101.0 411.8L100.0 411.8L99.0 411.8L98.0 411.8L97.3 411.9L96.5 412.1L95.5 412.4L95.0 412.6L94.4 412.9L93.7 413.4L93.1 413.9L92.6 414.4L92.1 414.9L91.6 415.4L91.1 415.9L90.8 416.4L90.5 416.9L90.0 417.8L89.7 418.4L89.5 418.9L89.0 419.8L88.8 420.4L88.5 421.3L88.3 421.9L88.0 422.8Z" fill="#fcfcfc" stroke="#888" stroke-width=".55"/>
<ellipse cx="86.5" cy="420" rx="3.9" ry="12" fill="#e2e2e2" stroke="#666" stroke-width=".5"/>
<ellipse cx="86.5" cy="420" rx="2.4" ry="8.5" fill="#ececec" stroke="#777" stroke-width=".5"/>
<ellipse cx="86.5" cy="418" rx="1.1" ry="4.5" fill="#f6f6f6" stroke="#888" stroke-width=".5"/>
<ellipse cx="112" cy="410" rx="8.5" ry="4.8" fill="#e6e6e6" stroke="#666" stroke-width=".5" transform="rotate(22 112 410)"/>
<ellipse cx="113" cy="410" rx="5" ry="2.5" fill="#f2f2f2" stroke="#777" stroke-width=".5" transform="rotate(22 113 410)"/>
<ellipse cx="117" cy="393" rx="6" ry="2" fill="#f8f8f8" stroke="#888" stroke-width=".5"/>
</g>
<path d="M73 441.4h-2.2M73 436.32h-1.2M73 431.25h-1.2M73 428.28h-1.2M73 426.17h-1.2M73 424.54h-2.2M73 419.46h-1.2M73 414.39h-1.2M73 411.42h-1.2M73 409.31h-1.2M73 407.67h-2.2M73 402.6h-1.2M73 397.52h-1.2M73 394.55h-1.2M73 392.45h-1.2M73 390.81h-2.2M73 385.74h-1.2M73 380.66h-1.2M73 377.69h-1.2M73 375.58h-1.2M73 373.95h-2.2" stroke="#111" stroke-width=".6" fill="none"/>
<path d="M75 443.4v2.4M80.05 443.4v1.5M85.11 443.4v1.5M88.07 443.4v1.5M90.16 443.4v1.5M91.79 443.4v2.4M96.85 443.4v1.5M101.9 443.4v1.5M104.86 443.4v1.5M106.96 443.4v1.5M108.58 443.4v2.4M113.64 443.4v1.5M118.69 443.4v1.5M121.65 443.4v1.5M123.75 443.4v1.5M125.37 443.4v2.4M130.43 443.4v1.5M135.48 443.4v1.5M138.44 443.4v1.5M140.54 443.4v1.5M142.16 443.4v2.4" stroke="#111" stroke-width=".75" fill="none"/>
<rect x="73" y="372.4" width="70.7" height="71" fill="none" stroke="#111" stroke-width="1.2"/>
<rect x="74.6" y="374.6" width="67.4" height="21.7" fill="none" stroke="#777" stroke-width="0.8"/>
<text x="80.8" y="383.4" font-size="8.3" stroke="#111" stroke-width="0.12" textLength="10.5" lengthAdjust="spacingAndGlyphs">7.6</text>
<text x="157" y="368" font-size="8.3" stroke="#111" stroke-width="0.12" textLength="56.7" lengthAdjust="spacingAndGlyphs">MM-controlled</text>
<clipPath id="cG1"><rect x="149.6" y="372.4" width="71.2" height="71"/></clipPath>
<g clip-path="url(#cG1)">
<ellipse cx="185" cy="398" rx="36.4" ry="10.4" fill="url(#gh)" fill-opacity="0.35"/>
<ellipse cx="185" cy="431" rx="36.4" ry="15.6" fill="url(#gh)" fill-opacity="0.32"/>
<ellipse cx="206" cy="415" rx="10.4" ry="20.8" fill="url(#gh)" fill-opacity="0.24"/>
<ellipse cx="157" cy="400" rx="10.4" ry="10.4" fill="url(#gh)" fill-opacity="0.56"/>
<path transform="scale(.25)" d="M653 1551h3m77 6h3m-35 5h3m8 0h3m-67 1h3m85 0h3m12 1h3m39 1h3m41 0h3m-92 1h3m52 0h3m-122 2h3m9 0h3m29 1h3m3 2h3m6 0h3m34 0h3m25 0h3m-201 1h3m2 0h3m3 0h3m72 0h3m71 0h3m-1 0h3m-138 1h3m94 1h3m111 0h3m-210 1h3m5 0h3m67 0h3m9 0h3m0 0h3m-42 1h3m30 0h3m1 1h3m-125 1h3m30 0h3m42 0h3m60 0h3m-3 0h3m13 0h3m0 0h3m-157 1h3m42 0h3m4 0h3m15 0h3m45 0h3m24 0h3m-1 0h3m-140 1h3m2 0h3m1 0h3m0 0h3m19 0h3m85 0h3m23 0h3m56 0h3m-1 0h3m5 0h3m-187 1h3m4 0h3m6 0h3m29 0h3m43 0h3m54 0h3m11 0h3m-197 1h3m37 0h3m27 0h3m10 0h3m-2 0h3m8 0h3m53 0h3m-156 1h3m48 0h3m112 0h3m19 0h3m-123 1h3m45 0h3m4 0h3m10 0h3m-144 1h3m6 0h3m8 0h3m6 0h3m0 0h3m94 0h3m5 0h3m-122 1h3m22 0h3m22 0h3m28 0h3m1 0h3m21 0h3m0 0h3m11 0h3m79 0h3m-163 1h3m54 0h3m-1 0h3m22 0h3m-167 1h3m15 0h3m10 0h3m86 0h3m22 0h3m26 0h3m-150 1h3m20 0h3m2 0h3m54 0h3m-3 0h3m26 0h3m26 0h3m32 0h3m-167 1h3m12 0h3m1 0h3m2 0h3m0 0h3m8 0h3m16 0h3m13 0h3m0 0h3m20 0h3m9 0h3m-166 1h3m31 0h3m2 0h3m2 0h3m22 0h3m1 0h3m16 0h3m5 0h3m56 0h3m9 0h3m46 0h3m-213 1h3m25 0h3m2 0h3m-1 0h3m-3 0h3m5 0h3m37 0h3m47 0h3m-123 1h3m15 0h3m36 0h3m6 0h3m-76 1h3m18 0h3m9 0h3m-2 0h3m-2 0h3m6 0h3m4 0h3m0 0h3m17 0h3m15 0h3m16 0h3m2 0h3m14 0h3m5 0h3m0 0h3m16 0h3m-136 1h3m1 0h3m35 0h3m1 0h3m2 0h3m30 0h3m53 0h3m14 0h3m29 0h3m-229 1h3m7 0h3m13 0h3m17 0h3m-3 0h3m-3 0h3m44 0h3m18 0h3m101 0h3m-197 1h3m57 0h3m10 0h3m13 0h3m5 0h3m11 0h3m-3 0h3m24 0h3m6 0h3m39 0h3m-188 1h3m-2 0h3m9 0h3m-2 0h3m2 0h3m24 0h3m47 0h3m34 0h3m-161 1h3m16 0h3m1 0h3m3 0h3m-1 0h3m6 0h3m-1 0h3m56 0h3m2 0h3m19 0h3m-2 0h3m44 0h3m-181 1h3m0 0h3m4 0h3m0 0h3m-1 0h3m10 0h3m1 0h3m2 0h3m-1 0h3m-1 0h3m-2 0h3m34 0h3m4 0h3m-1 0h3m9 0h3m3 0h3m46 0h3m-2 0h3m4 0h3m-164 1h3m1 0h3m3 0h3m0 0h3m2 0h3m43 0h3m-1 0h3m10 0h3m22 0h3m32 0h3m25 0h3m7 0h3m-3 0h3m46 0h3m-195 1h3m35 0h3m-1 0h3m1 0h3m36 0h3m1 0h3m10 0h3m35 0h3m14 0h3m-187 1h3m16 0h3m33 0h3m8 0h3m44 0h3m26 0h3m5 0h3m32 0h3m14 0h3m-178 1h3m-3 0h3m26 0h3m28 0h3m16 0h3m-2 0h3m12 0h3m15 0h3m13 0h3m-1 0h3m23 0h3m-2 0h3m-188 1h3m23 0h3m31 0h3m45 0h3m21 0h3m2 0h3m58 0h3m-210 1h3m19 0h3m52 0h3m26 0h3m-2 0h3m8 0h3m2 0h3m17 0h3m3 0h3m-1 0h3m4 0h3m2 0h3m53 0h3m-225 1h3m-1 0h3m3 0h3m4 0h3m4 0h3m5 0h3m46 0h3m25 0h3m29 0h3m-1 0h3m0 0h3m11 0h3m12 0h3m7 0h3m-158 1h3m6 0h3m70 0h3m42 0h3m30 0h3m-2 0h3m6 0h3m64 0h3m-249 1h3m-3 0h3m0 0h3m8 0h3m-3 0h3m39 0h3m-3 0h3m15 0h3m10 0h3m24 0h3m-2 0h3m-2 0h3m1 0h3m1 0h3m25 0h3m-1 0h3m-178 1h3m22 0h3m-2 0h3m2 0h3m-1 0h3m-2 0h3m1 0h3m36 0h3m1 0h3m21 0h3m7 0h3m5 0h3m16 0h3m-1 0h3m1 0h3m25 0h3m16 0h3m17 0h3m-197 1h3m9 0h3m45 0h3m2 0h3m4 0h3m14 0h3m8 0h3m5 0h3m1 0h3m6 0h3m0 0h3m10 0h3m7 0h3m8 0h3m0 0h3m10 0h3m3 0h3m18 0h3m-222 1h3m20 0h3m52 0h3m0 0h3m6 0h3m3 0h3m-1 0h3m6 0h3m1 0h3m6 0h3m0 0h3m0 0h3m1 0h3m-3 0h3m4 0h3m4 0h3m29 0h3m2 0h3m7 0h3m-176 1h3m69 0h3m0 0h3m2 0h3m40 0h3m-2 0h3m16 0h3m7 0h3m25 0h3m-180 1h3m64 0h3m65 0h3m1 0h3m-3 0h3m-1 0h3m-1 0h3m-2 0h3m20 0h3m9 0h3m9 0h3m-193 1h3m155 0h3m1 0h3m0 0h3m26 0h3m-193 1h3m-2 0h3m152 0h3m-185 1h3m203 0h3m10 0h3m-198 1h3m164 0h3m-171 1h3m1 0h3m-18 1h3m12 0h3m163 0h3m0 0h3m9 0h3m3 0h3m-206 1h3m1 0h3m179 0h3m1 0h3m0 0h3m-10 1h3m-1 0h3m-202 1h3m15 0h3m1 0h3m-3 0h3m0 1h3m-2 0h3m191 0h3m-19 1h3m3 0h3m4 0h3m-194 1h3m174 0h3m5 0h3m8 0h3m0 0h3m-219 1h3m199 2h3m35 0h3m-228 1h3m-1 0h3m187 0h3m8 0h3m-18 1h3m-6 1h3m0 0h3m-205 1h3m5 0h3m190 0h3m-203 1h3m208 0h3m-2 0h3m-207 1h3m187 0h3m1 0h3m1 0h3m-206 1h3m217 1h3m-213 1h3m180 0h3m-188 1h3m183 0h3m-2 0h3m32 0h3m-237 1h3m11 0h3m190 0h3m24 0h3m-21 1h3m-210 1h3m-17 2h3m14 0h3m-1 0h3m209 0h3m-218 1h3m209 1h3m8 0h3m-237 1h3m5 1h3m192 0h3m-3 0h3m-202 1h3m7 1h3m-21 1h3m201 0h3m-1 0h3m-2 1h3m11 0h3m16 0h3m-243 1h3m203 0h3m5 0h3m-218 1h3m-1 0h3m200 0h3m-1 1h3m4 0h3m0 1h3m25 0h3m-232 1h3m187 0h3m-4 2h3m-1 0h3m-1 1h3m-6 1h3m11 0h3m-208 1h3m188 0h3m2 0h3m3 0h3m18 0h3m-225 1h3m183 0h3m8 0h3m18 1h3m-10 1h3m-27 1h3m5 0h3m3 0h3m-205 1h3m188 0h3m-1 0h3m3 0h3m-198 1h3m183 0h3m21 0h3m-29 1h3m20 0h3m-226 1h3m207 0h3m-8 1h3m-194 1h3m186 0h3m-1 0h3m0 0h3m-14 1h3m4 0h3m1 0h3m-213 2h3m15 0h3m192 0h3m7 0h3m-28 1h3m11 0h3m-209 1h3m0 0h3m4 0h3m-9 1h3m186 0h3m8 0h3m12 0h3m22 0h3m-54 3h3m-2 0h3m-192 1h3m199 0h3m-108 1h3m103 0h3m-114 1h3m6 0h3m-2 0h3m84 0h3m15 0h3m3 0h3m-224 1h3m4 0h3m74 0h3m2 0h3m108 0h3m1 0h3m4 0h3m-115 1h3m6 0h3m0 0h3m4 0h3m-2 0h3m-2 0h3m75 0h3m-110 1h3m103 0h3m-189 1h3m89 0h3m4 0h3m9 0h3m73 0h3m5 0h3m9 0h3m-1 0h3m-134 1h3m0 0h3m8 0h3m19 0h3m-118 1h3m0 0h3m82 0h3m22 0h3m68 0h3m23 0h3m-135 1h3m4 0h3m114 0h3m-205 1h3m63 0h3m2 0h3m-2 0h3m33 0h3m2 0h3m7 0h3m-126 1h3m180 0h3m-79 1h3m-2 0h3m-1 0h3m15 0h3m-67 1h3m0 0h3m15 0h3m20 0h3m12 0h3m59 0h3m-116 1h3m25 0h3m22 0h3m0 0h3m55 0h3m-184 1h3m63 0h3m0 0h3m22 0h3m21 0h3m6 0h3m1 0h3m40 0h3m-104 1h3m7 0h3m31 0h3m-127 1h3m2 0h3m105 0h3m1 0h3m17 0h3m41 0h3m2 0h3m18 0h3m-207 1h3m63 0h3m7 0h3m45 0h3m11 0h3m43 0h3m-126 1h3m-1 0h3m9 0h3m108 0h3m25 0h3m-149 1h3m63 0h3m4 0h3m33 0h3m29 0h3m28 0h3m-261 1h3m80 0h3m62 0h3m0 0h3m3 0h3m-2 0h3m34 0h3m1 0h3m-100 1h3m16 0h3m21 0h3m13 0h3m-1 0h3m28 0h3m-1 0h3m0 0h3m19 0h3m24 0h3m-240 1h3m66 0h3m-1 0h3m14 0h3m44 0h3m48 0h3m2 0h3m-106 1h3m0 0h3m36 0h3m19 0h3m-3 0h3m-2 0h3m27 0h3m-118 1h3m96 0h3m-2 0h3m3 0h3m-3 0h3m-108 1h3m4 0h3m3 0h3m30 0h3m13 0h3m-1 0h3m9 0h3m76 0h3m-149 1h3m-3 0h3m3 0h3m89 0h3m14 0h3m13 0h3m-140 1h3m-2 0h3m66 0h3m20 0h3m1 0h3m-1 0h3m10 0h3m-113 1h3m-1 0h3m24 0h3m34 0h3m18 0h3m12 0h3m32 0h3m-127 1h3m39 0h3m22 0h3m10 0h3m-2 0h3m13 0h3m-196 1h3m121 0h3m0 0h3m14 0h3m19 0h3m63 0h3m-216 1h3m93 0h3m68 0h3m-186 1h3m122 0h3m5 0h3m11 0h3m13 0h3m17 0h3m27 0h3m-144 1h3m-1 0h3m18 0h3m22 0h3m8 0h3m6 0h3m9 0h3m10 0h3m17 0h3m4 0h3m-181 1h3m63 0h3m2 0h3m4 0h3m39 0h3m42 0h3m39 0h3m10 0h3m-226 1h3m59 0h3m-2 0h3m54 0h3m6 0h3m8 0h3m2 0h3m3 0h3m-2 0h3m8 0h3m-2 0h3m23 0h3m-1 0h3m-190 1h3m58 0h3m15 0h3m24 0h3m-110 1h3m-2 0h3m51 0h3m-3 0h3m5 0h3m83 0h3m1 0h3m14 0h3m-174 1h3m67 0h3m-1 0h3m-3 0h3m38 0h3m33 0h3m4 0h3m70 0h3m-153 1h3m29 0h3m14 0h3m55 0h3m3 0h3m16 0h3m-223 1h3m2 0h3m-2 0h3m-1 0h3m1 0h3m56 0h3m-2 0h3m0 0h3m22 0h3m28 0h3m20 0h3m-2 0h3m10 0h3m23 0h3m14 0h3m-212 1h3m62 0h3m92 0h3m11 0h3m4 0h3m-99 1h3m46 0h3m13 0h3m-2 0h3m12 0h3m26 0h3m-3 0h3m-192 1h3m0 0h3m-3 0h3m51 0h3m21 0h3m82 0h3m-169 1h3m53 0h3m-1 0h3m36 0h3m16 0h3m-1 0h3m10 0h3m20 0h3m15 0h3m74 0h3m0 0h3m-151 1h3m49 0h3m-174 1h3m8 0h3m62 0h3m8 0h3m-2 0h3m75 0h3m-72 1h3m-90 1h3m3 0h3m-1 0h3m57 0h3m8 0h3m2 0h3m18 0h3m-3 0h3m14 0h3m-2 0h3m57 0h3m15 0h3m-145 1h3m6 0h3m-2 0h3m6 0h3m4 0h3m2 0h3m-3 0h3m9 0h3m3 0h3m3 0h3m19 0h3m42 0h3m6 0h3m-185 1h3m53 0h3m23 0h3m82 0h3m16 0h3m-195 1h3m54 0h3m7 0h3m-1 0h3m13 0h3m66 0h3m60 0h3m-212 1h3m43 0h3m2 0h3m46 0h3m34 0h3m14 0h3m31 0h3m-197 1h3m3 0h3m44 0h3m-3 0h3m30 0h3m-2 0h3m42 0h3m12 0h3m-148 1h3m46 0h3m11 0h3m8 0h3m8 0h3m9 0h3m5 0h3m3 0h3m18 0h3m22 0h3m7 0h3m-165 1h3m40 0h3m-1 0h3m-2 0h3m29 0h3m37 0h3m26 0h3m5 0h3m-92 1h3m4 0h3m7 0h3m9 0h3m18 0h3m25 0h3m-163 1h3m7 0h3m48 0h3m-2 0h3m-1 0h3m55 0h3m57 0h3m76 0h3m-187 1h3m54 0h3m69 0h3m-195 1h3m43 0h3m-1 0h3m38 0h3m13 0h3m24 0h3m-142 1h3m47 0h3m34 0h3m1 0h3m0 0h3m7 0h3m60 0h3m-158 1h3m32 0h3m0 0h3m1 0h3m-2 0h3m0 0h3m135 0h3m19 0h3m-206 1h3m108 0h3m11 0h3m25 0h3m5 0h3m-168 1h3m3 0h3m28 0h3m-3 0h3m-3 0h3m4 0h3m45 0h3m13 0h3m80 0h3m18 0h3m-203 1h3m17 0h3m35 0h3m-2 0h3m7 0h3m7 0h3m25 0h3m0 0h3m31 0h3m63 0h3m-197 1h3m0 0h3m-1 0h3m44 0h3m-70 1h3m40 0h3m42 0h3m-1 0h3m1 0h3m31 0h3m85 0h3m-227 1h3m-3 0h3m2 0h3m2 0h3m0 0h3m1 0h3m12 0h3m51 0h3m69 0h3m-164 1h3m13 0h3m1 0h3m0 0h3m4 0h3m-42 1h3m10 0h3m2 0h3m1 0h3m9 0h3m1 0h3m39 0h3m86 0h3m-150 1h3m-2 0h3m-1 0h3m21 0h3m37 0h3m-77 1h3m7 0h3m7 0h3m122 0h3m9 0h3m-159 1h3m4 0h3m10 0h3m55 0h3m19 0h3m30 0h3m58 0h3m-184 1h3m-2 0h3m-2 0h3m20 0h3m38 0h3m4 0h3m69 0h3m-63 1h3m-2 0h3m42 0h3m-140 1h3m51 0h3m94 0h3m-165 2h3m1 0h3m10 0h3m12 0h3m81 0h3m-66 1h3m-1 0h3m72 0h3m38 1h3m-170 1h3m81 0h3m1 0h3m53 0h3m-116 1h3m61 0h3m37 0h3m8 0h3m-157 1h3m13 1h3m65 0h3m75 1h3m-47 1h3m-15 1h3m-81 1h3m42 0h3m1 0h3m34 0h3m-5 1h3m45 0h3" stroke="#111" stroke-width="3.2" fill="none"/>
<path d="M157.3 411.9L157.3 415.1L157.3 418.4L157.3 421.8L157.3 425.2L157.3 428.6L157.4 431.4L157.7 433.5L158.0 434.9L158.5 435.6L159.2 436.2L160.2 436.6L161.4 436.9L162.8 437.1L164.2 437.0L165.5 436.6L166.8 436.0L168.0 435.1L169.0 433.9L169.9 432.2L170.5 430.2L171.0 427.8L171.4 425.8L171.8 424.3L172.1 423.1L172.3 422.4L173.1 421.8L174.4 421.3L176.3 421.0L178.7 420.7L181.1 420.9L183.5 421.4L185.9 422.2L188.3 423.4L190.5 424.4L192.4 425.3L194.1 425.9L195.5 426.4L196.8 426.6L198.0 426.6L199.1 426.4L200.1 425.9L200.9 424.8L201.6 423.0L202.2 420.5L202.8 417.4L203.1 414.6L203.2 412.2L203.1 410.2L202.9 408.5L202.3 407.1L201.3 405.9L200.0 405.1L198.3 404.4L196.0 403.9L193.0 403.6L189.3 403.3L185.0 403.2L181.3 403.2L178.1 403.3L175.6 403.4L173.7 403.7L172.0 403.6L170.6 403.2L169.3 402.6L168.4 401.6L167.3 400.9L166.2 400.3L165.1 400.0L163.9 399.8L162.8 399.9L161.9 400.3L161.0 400.9L160.3 401.8L159.6 402.7L159.0 403.6L158.5 404.6L158.0 405.5L157.7 407.1L157.4 409.2Z" fill="none" stroke="#000" stroke-width="1.5" opacity="0.8" filter="url(#bl04)"/>
<path d="M157.3 411.9L157.3 415.1L157.3 418.4L157.3 421.8L157.3 425.2L157.3 428.6L157.4 431.4L157.7 433.5L158.0 434.9L158.5 435.6L159.2 436.2L160.2 436.6L161.4 436.9L162.8 437.1L164.2 437.0L165.5 436.6L166.8 436.0L168.0 435.1L169.0 433.9L169.9 432.2L170.5 430.2L171.0 427.8L171.4 425.8L171.8 424.3L172.1 423.1L172.3 422.4L173.1 421.8L174.4 421.3L176.3 421.0L178.7 420.7L181.1 420.9L183.5 421.4L185.9 422.2L188.3 423.4L190.5 424.4L192.4 425.3L194.1 425.9L195.5 426.4L196.8 426.6L198.0 426.6L199.1 426.4L200.1 425.9L200.9 424.8L201.6 423.0L202.2 420.5L202.8 417.4L203.1 414.6L203.2 412.2L203.1 410.2L202.9 408.5L202.3 407.1L201.3 405.9L200.0 405.1L198.3 404.4L196.0 403.9L193.0 403.6L189.3 403.3L185.0 403.2L181.3 403.2L178.1 403.3L175.6 403.4L173.7 403.7L172.0 403.6L170.6 403.2L169.3 402.6L168.4 401.6L167.3 400.9L166.2 400.3L165.1 400.0L163.9 399.8L162.8 399.9L161.9 400.3L161.0 400.9L160.3 401.8L159.6 402.7L159.0 403.6L158.5 404.6L158.0 405.5L157.7 407.1L157.4 409.2Z" fill="#d3d3d3" stroke="#1a1a1a" stroke-width="0.8"/>
<path d="M163.6 436.5L162.6 436.5L161.9 436.4L161.1 436.0L160.4 435.9L159.6 435.5L159.1 435.2L158.6 434.6L158.5 433.9L158.3 432.9L158.0 432.4L158.0 431.4L158.0 430.4L158.0 429.4L158.0 428.4L158.0 427.4L158.0 426.4L158.0 425.4L158.0 424.4L158.0 423.4L158.0 422.4L158.0 421.4L158.0 420.4L158.0 419.4L158.0 418.4L158.0 417.4L158.0 416.4L158.0 415.4L158.0 414.4L158.0 413.4L158.0 412.4L158.0 411.4L158.0 410.4L158.0 409.4L158.0 408.4L158.3 407.9L158.5 406.9L158.5 405.9L158.8 405.4L159.1 404.7L159.6 404.1L160.0 403.4L160.3 402.9L160.8 402.4L161.3 401.9L161.6 401.3L162.4 400.9L163.1 400.8L164.1 400.6L165.1 400.8L165.8 400.9L166.6 401.3L167.1 401.6L167.6 402.1L168.3 402.4L168.9 402.9L169.4 403.4L170.1 403.8L170.8 403.9L171.6 404.3L172.6 404.3L173.6 404.3L174.6 404.3L175.6 404.3L176.6 404.1L177.1 403.8L178.1 403.8L179.1 403.8L180.1 403.8L181.1 403.8L182.1 403.8L183.1 403.8L184.1 403.8L185.1 403.8L186.1 403.8L187.1 403.8L188.1 403.8L189.1 403.8L189.8 403.9L190.6 404.3L191.6 404.3L192.6 404.3L193.6 404.3L194.6 404.3L195.3 404.4L196.1 404.8L197.1 404.8L197.8 404.9L198.6 405.3L199.1 405.6L199.8 405.9L200.6 406.3L201.1 406.6L201.6 407.2L201.9 407.9L202.2 408.4L202.2 409.4L202.4 410.4L202.7 410.9L202.7 411.9L202.7 412.9L202.6 413.6L202.2 414.4L202.2 415.4L202.2 416.4L202.2 417.4L201.9 417.9L201.7 418.9L201.7 419.9L201.6 420.6L201.2 421.4L201.2 422.4L200.9 422.9L200.6 423.6L200.2 424.4L199.9 424.9L199.3 425.4L198.6 425.7L198.1 426.0L197.1 426.0L196.1 426.0L195.6 425.7L194.6 425.5L194.1 425.2L193.4 424.9L192.6 424.5L191.9 424.4L191.1 424.0L190.6 423.7L189.9 423.4L189.1 423.0L188.6 422.7L187.9 422.4L187.1 422.0L186.6 421.7L185.6 421.5L185.1 421.2L184.4 420.9L183.6 420.5L182.6 420.5L181.9 420.4L181.1 420.0L180.1 420.0L179.1 420.0L178.1 420.0L177.1 420.0L176.3 420.4L175.6 420.5L174.6 420.5L173.8 420.9L173.1 421.0L172.4 421.4L171.9 421.9L171.6 422.6L171.2 423.4L171.2 424.4L170.9 424.9L170.7 425.9L170.6 426.6L170.2 427.4L170.2 428.4L170.1 429.1L169.7 429.9L169.7 430.9L169.4 431.4L169.1 432.1L168.7 432.9L168.4 433.4L167.9 433.9L167.6 434.6L167.1 435.0L166.3 435.4L165.6 435.7L165.1 436.0L164.1 436.2L163.6 436.5Z" fill="#d9d9d9" stroke="#555" stroke-width=".55"/>
<path d="M163.6 435.4L162.6 435.6L162.1 435.4L161.1 435.1L160.6 434.9L159.6 434.4L159.4 433.9L159.3 432.9L159.1 432.4L158.9 431.4L158.9 430.4L158.9 429.4L158.9 428.4L158.9 427.4L158.9 426.4L158.9 425.4L158.9 424.4L158.9 423.4L158.9 422.4L158.9 421.4L158.9 420.4L158.9 419.4L158.9 418.4L158.9 417.4L158.9 416.4L158.9 415.4L158.9 414.4L158.9 413.4L158.9 412.4L158.9 411.4L158.9 410.4L158.9 409.4L159.1 408.4L159.3 407.9L159.4 406.9L159.6 405.9L159.8 405.4L160.1 404.9L160.6 404.4L161.1 403.4L161.6 402.9L162.1 402.4L162.6 401.9L163.1 401.7L164.1 401.6L165.1 401.7L165.6 401.9L166.6 402.4L167.1 402.9L167.6 403.1L168.1 403.4L168.6 403.9L169.1 404.4L170.1 404.7L170.6 404.9L171.6 405.2L172.6 405.2L173.6 405.2L174.6 405.2L175.6 405.2L176.6 405.1L177.1 404.9L178.1 404.7L179.1 404.7L180.1 404.7L181.1 404.7L182.1 404.7L183.1 404.7L184.1 404.7L185.1 404.7L186.1 404.7L187.1 404.7L188.1 404.7L189.1 404.7L189.6 404.9L190.6 405.2L191.6 405.2L192.6 405.2L193.6 405.2L194.6 405.2L195.1 405.4L196.1 405.7L197.1 405.7L197.6 405.9L198.6 406.4L199.1 406.6L199.6 406.9L200.6 407.4L200.9 407.9L201.1 408.4L201.3 409.4L201.4 410.4L201.6 410.9L201.8 411.9L201.8 412.9L201.6 413.4L201.3 414.4L201.3 415.4L201.3 416.4L201.1 417.4L200.9 417.9L200.8 418.9L200.8 419.9L200.6 420.4L200.3 421.4L200.1 422.4L199.9 422.9L199.6 423.4L199.1 424.4L198.6 424.7L198.1 424.9L197.1 425.1L196.1 424.9L195.6 424.7L194.6 424.4L194.1 424.2L193.6 423.9L192.6 423.6L192.1 423.4L191.1 422.9L190.6 422.7L190.1 422.4L189.1 421.9L188.6 421.7L188.1 421.4L187.1 420.9L186.6 420.7L185.6 420.4L185.1 420.2L184.6 419.9L183.6 419.6L182.6 419.6L182.1 419.4L181.1 419.1L180.1 419.1L179.1 419.1L178.1 419.1L177.1 419.1L176.1 419.4L175.6 419.6L174.6 419.6L173.6 419.9L173.1 420.1L172.1 420.4L171.6 420.9L171.1 421.4L170.9 421.9L170.6 422.4L170.3 423.4L170.1 424.4L169.9 424.9L169.8 425.9L169.6 426.4L169.3 427.4L169.3 428.4L169.1 428.9L168.8 429.9L168.6 430.9L168.4 431.4L168.1 431.9L167.6 432.9L167.1 433.4L166.9 433.9L166.1 434.4L165.6 434.7L165.1 434.9L164.1 435.2L163.6 435.4Z" fill="#dfdfdf" stroke="#5a5a5a" stroke-width=".55"/>
<path d="M163.1 434.7L162.1 434.4L161.6 434.2L160.6 433.9L160.3 433.4L160.1 432.4L159.8 431.9L159.8 430.9L159.8 429.9L159.8 428.9L159.8 427.9L159.8 426.9L159.8 425.9L159.8 424.9L159.8 423.9L159.8 422.9L159.8 421.9L159.8 420.9L159.8 419.9L159.8 418.9L159.8 417.9L159.8 416.9L159.8 415.9L159.8 414.9L159.8 413.9L159.8 412.9L159.8 411.9L159.8 410.9L159.8 409.9L159.8 408.9L160.1 408.4L160.3 407.4L160.3 406.4L160.6 405.9L161.1 405.2L161.6 404.4L161.9 403.9L162.4 403.4L162.8 402.9L163.6 402.6L164.6 402.6L165.6 402.9L166.1 403.2L166.6 403.6L167.1 403.9L167.8 404.4L168.3 404.9L169.1 405.4L169.6 405.6L170.6 405.9L171.1 406.1L172.1 406.1L173.1 406.1L174.1 406.1L175.1 406.1L176.1 406.1L177.1 405.9L177.6 405.6L178.6 405.6L179.6 405.6L180.6 405.6L181.6 405.6L182.6 405.6L183.6 405.6L184.6 405.6L185.6 405.6L186.6 405.6L187.6 405.6L188.6 405.6L189.6 405.9L190.1 406.1L191.1 406.1L192.1 406.1L193.1 406.1L194.1 406.1L195.1 406.4L195.6 406.6L196.6 406.6L197.6 406.9L198.1 407.1L198.6 407.4L199.6 407.9L200.1 408.4L200.4 408.9L200.4 409.9L200.6 410.9L200.9 411.4L200.9 412.4L200.6 413.4L200.4 413.9L200.4 414.9L200.4 415.9L200.4 416.9L200.1 417.4L199.9 418.4L199.9 419.4L199.6 420.4L199.4 420.9L199.4 421.9L199.1 422.4L198.6 423.4L198.1 423.9L197.6 424.2L196.6 424.2L196.1 423.9L195.1 423.7L194.6 423.4L193.6 422.9L193.1 422.7L192.1 422.4L191.6 422.2L191.1 421.9L190.1 421.4L189.6 421.2L189.1 420.9L188.1 420.4L187.6 420.2L187.1 419.9L186.1 419.7L185.6 419.4L184.6 418.9L184.1 418.7L183.1 418.7L182.1 418.4L181.6 418.2L180.6 418.2L179.6 418.2L178.6 418.2L177.6 418.2L176.6 418.2L176.1 418.4L175.1 418.7L174.1 418.7L173.6 418.9L172.6 419.2L172.1 419.4L171.3 419.9L170.8 420.4L170.4 420.9L170.1 421.4L169.6 422.4L169.4 422.9L169.4 423.9L169.1 424.4L168.9 425.4L168.6 426.4L168.4 426.9L168.4 427.9L168.1 428.9L167.9 429.4L167.9 430.4L167.6 430.9L167.1 431.9L166.8 432.4L166.4 432.9L166.1 433.4L165.1 433.9L164.6 434.2L163.6 434.4L163.1 434.7Z" fill="#e5e5e5" stroke="#606060" stroke-width=".55"/>
<path d="M163.6 433.4L162.6 433.6L161.9 433.4L161.2 432.9L161.1 432.4L160.7 431.4L160.7 430.4L160.7 429.4L160.7 428.4L160.7 427.4L160.7 426.4L160.7 425.4L160.7 424.4L160.7 423.4L160.7 422.4L160.7 421.4L160.7 420.4L160.7 419.4L160.7 418.4L160.7 417.4L160.7 416.4L160.7 415.4L160.7 414.4L160.7 413.4L160.7 412.4L160.7 411.4L160.7 410.4L160.7 409.4L161.1 408.4L161.2 407.9L161.2 406.9L161.6 406.0L162.1 405.4L162.4 404.9L162.7 404.4L163.2 403.9L164.1 403.5L165.1 403.7L165.6 404.0L166.1 404.4L167.0 404.9L167.5 405.4L168.1 405.9L168.6 406.2L169.3 406.4L170.1 406.7L170.8 406.9L171.6 407.0L172.6 407.0L173.6 407.0L174.6 407.0L175.6 407.0L176.6 407.0L177.1 406.9L178.1 406.5L179.1 406.5L180.1 406.5L181.1 406.5L182.1 406.5L183.1 406.5L184.1 406.5L185.1 406.5L186.1 406.5L187.1 406.5L188.1 406.5L189.1 406.7L189.8 406.9L190.6 407.0L191.6 407.0L192.6 407.0L193.6 407.0L194.6 407.2L195.3 407.4L196.1 407.5L197.1 407.7L197.6 407.9L198.6 408.4L199.1 408.7L199.5 409.4L199.5 410.4L199.6 410.9L200.0 411.9L199.8 412.9L199.6 413.6L199.5 414.4L199.5 415.4L199.5 416.4L199.1 417.4L199.0 417.9L199.0 418.9L198.8 419.9L198.6 420.6L198.5 421.4L198.1 422.4L197.8 422.9L197.1 423.3L196.1 422.9L195.6 422.8L194.6 422.4L194.1 422.1L193.4 421.9L192.6 421.6L192.1 421.4L191.1 420.9L190.6 420.6L190.1 420.4L189.1 419.9L188.6 419.6L188.1 419.4L187.1 418.9L186.6 418.8L185.6 418.4L185.1 418.1L184.4 417.9L183.6 417.8L182.6 417.6L181.9 417.4L181.1 417.3L180.1 417.3L179.1 417.3L178.1 417.3L177.1 417.3L176.3 417.4L175.6 417.6L174.6 417.8L173.8 417.9L173.1 418.1L172.3 418.4L171.6 418.6L171.1 418.9L170.5 419.4L170.0 419.9L169.6 420.4L169.1 421.4L168.8 421.9L168.6 422.6L168.5 423.4L168.1 424.4L168.0 424.9L167.8 425.9L167.6 426.6L167.5 427.4L167.3 428.4L167.1 429.1L167.0 429.9L166.6 430.9L166.3 431.4L166.0 431.9L165.6 432.4L165.1 432.9L164.1 433.3L163.6 433.4Z" fill="#eaeaea" stroke="#666" stroke-width=".55"/>
<path d="M163.6 432.5L162.6 432.7L162.0 432.4L161.6 431.4L161.6 430.4L161.6 429.4L161.6 428.4L161.6 427.4L161.6 426.4L161.6 425.4L161.6 424.4L161.6 423.4L161.6 422.4L161.6 421.4L161.6 420.4L161.6 419.4L161.6 418.4L161.6 417.4L161.6 416.4L161.6 415.4L161.6 414.4L161.6 413.4L161.6 412.4L161.6 411.4L161.6 410.4L161.6 409.4L162.0 408.4L162.1 407.4L162.5 406.4L162.8 405.9L163.1 405.4L163.6 404.8L164.1 404.4L164.6 404.4L165.3 404.9L166.0 405.4L166.6 405.8L167.1 406.3L167.6 406.6L168.1 406.9L169.1 407.3L169.6 407.4L170.6 407.8L171.6 407.9L172.6 407.9L173.6 407.9L174.6 407.9L175.6 407.9L176.6 407.9L177.6 407.6L178.6 407.4L179.6 407.4L180.6 407.4L181.6 407.4L182.6 407.4L183.6 407.4L184.6 407.4L185.6 407.4L186.6 407.4L187.6 407.4L188.6 407.4L189.6 407.8L190.6 407.9L191.6 407.9L192.6 407.9L193.6 407.9L194.6 408.1L195.6 408.4L196.6 408.4L197.5 408.9L198.1 409.2L198.6 409.9L198.7 410.9L199.1 411.9L198.9 412.9L198.6 413.9L198.6 414.9L198.6 415.9L198.4 416.9L198.1 417.9L198.1 418.9L197.9 419.9L197.6 420.9L197.6 421.4L197.1 422.3L196.1 422.0L195.6 421.9L194.7 421.4L194.1 421.2L193.2 420.9L192.6 420.6L192.1 420.4L191.2 419.9L190.6 419.6L190.1 419.4L189.2 418.9L188.6 418.6L188.1 418.4L187.1 418.0L186.6 417.9L185.7 417.4L185.1 417.2L184.1 416.9L183.1 416.9L182.1 416.5L181.1 416.4L180.1 416.4L179.1 416.4L178.1 416.4L177.1 416.4L176.1 416.5L175.1 416.9L174.1 416.9L173.1 417.2L172.5 417.4L171.6 417.7L171.0 417.9L170.3 418.4L169.7 418.9L169.2 419.4L168.9 419.9L168.6 420.4L168.1 421.3L167.9 421.9L167.6 422.9L167.6 423.4L167.2 424.4L167.1 425.1L166.9 425.9L166.6 426.9L166.6 427.9L166.2 428.9L166.1 429.6L165.8 430.4L165.6 430.9L165.1 431.6L164.6 432.1L164.0 432.4Z" fill="#efefef" stroke="#6c6c6c" stroke-width=".55"/>
<path d="M163.6 431.6L162.6 431.4L162.5 430.9L162.5 429.9L162.5 428.9L162.5 427.9L162.5 426.9L162.5 425.9L162.5 424.9L162.5 423.9L162.5 422.9L162.5 421.9L162.5 420.9L162.5 419.9L162.5 418.9L162.5 417.9L162.5 416.9L162.5 415.9L162.5 414.9L162.5 413.9L162.5 412.9L162.5 411.9L162.5 410.9L162.5 409.9L162.6 409.4L162.9 408.4L163.0 407.4L163.2 406.9L163.6 406.4L164.1 405.6L165.1 405.9L165.6 406.2L166.1 406.5L166.6 407.0L167.1 407.4L168.1 407.9L168.6 408.1L169.6 408.4L170.1 408.6L171.1 408.8L172.1 408.8L173.1 408.8L174.1 408.8L175.1 408.8L176.1 408.8L177.1 408.7L178.1 408.4L178.6 408.3L179.6 408.3L180.6 408.3L181.6 408.3L182.6 408.3L183.6 408.3L184.6 408.3L185.6 408.3L186.6 408.3L187.6 408.3L188.5 408.4L189.1 408.6L190.1 408.8L191.1 408.8L192.1 408.8L193.1 408.8L194.0 408.9L194.6 409.1L195.6 409.3L196.5 409.4L197.1 409.7L197.6 410.0L197.8 410.9L198.1 411.9L197.9 412.9L197.7 413.9L197.7 414.9L197.7 415.9L197.6 416.4L197.3 417.4L197.2 418.4L197.1 419.3L196.9 419.9L196.7 420.9L196.1 421.1L195.6 420.9L194.6 420.4L194.1 420.2L193.1 419.9L192.6 419.6L192.1 419.4L191.1 418.9L190.6 418.6L190.1 418.4L189.1 417.9L188.6 417.6L188.1 417.4L187.1 417.1L186.6 416.9L185.6 416.4L185.1 416.2L184.1 416.0L183.2 415.9L182.6 415.7L181.6 415.5L180.6 415.5L179.6 415.5L178.6 415.5L177.6 415.5L176.6 415.5L175.6 415.7L175.0 415.9L174.1 416.0L173.1 416.2L172.6 416.4L171.6 416.7L171.1 416.9L170.1 417.4L169.6 417.8L169.1 418.3L168.6 418.8L168.1 419.4L167.8 419.9L167.6 420.4L167.1 421.4L166.9 421.9L166.7 422.9L166.6 423.4L166.3 424.4L166.1 425.3L165.9 425.9L165.7 426.9L165.6 427.8L165.4 428.4L165.2 429.4L165.1 429.9L164.6 430.7L164.1 431.4L163.6 431.6Z" fill="#f3f3f3" stroke="#737373" stroke-width=".55"/>
<path d="M163.6 430.5L163.4 429.9L163.4 428.9L163.4 427.9L163.4 426.9L163.4 425.9L163.4 424.9L163.4 423.9L163.4 422.9L163.4 421.9L163.4 420.9L163.4 419.9L163.4 418.9L163.4 417.9L163.4 416.9L163.4 415.9L163.4 414.9L163.4 413.9L163.4 412.9L163.4 411.9L163.4 410.9L163.4 409.9L163.6 409.3L163.8 408.4L164.0 407.4L164.3 406.9L165.0 406.9L165.6 407.3L166.1 407.8L166.6 408.1L167.1 408.4L168.1 408.9L168.6 409.0L169.6 409.4L170.1 409.5L171.1 409.7L172.1 409.7L173.1 409.7L174.1 409.7L175.1 409.7L176.1 409.7L177.1 409.6L178.0 409.4L178.6 409.2L179.6 409.2L180.6 409.2L181.6 409.2L182.6 409.2L183.6 409.2L184.6 409.2L185.6 409.2L186.6 409.2L187.6 409.2L188.6 409.4L189.1 409.5L190.1 409.7L191.1 409.7L192.1 409.7L193.1 409.7L194.1 409.9L194.6 410.0L195.6 410.2L196.5 410.4L196.9 410.9L197.1 411.8L197.1 412.4L197.0 412.9L196.8 413.9L196.8 414.9L196.8 415.9L196.6 416.5L196.4 417.4L196.3 418.4L196.1 419.4L195.6 419.9L194.6 419.4L194.1 419.3L193.2 418.9L192.6 418.6L192.1 418.4L191.2 417.9L190.6 417.6L190.1 417.4L189.2 416.9L188.6 416.6L188.0 416.4L187.1 416.1L186.6 415.9L185.6 415.4L185.1 415.3L184.1 415.1L183.1 414.9L182.6 414.8L181.6 414.6L180.6 414.6L179.6 414.6L178.6 414.6L177.6 414.6L176.6 414.6L175.6 414.8L175.1 414.9L174.1 415.1L173.1 415.3L172.6 415.4L171.6 415.8L171.1 415.9L170.1 416.4L169.6 416.7L169.1 417.0L168.6 417.5L168.1 418.0L167.6 418.6L167.1 419.3L166.8 419.9L166.6 420.4L166.1 421.4L166.0 421.9L165.8 422.9L165.6 423.5L165.4 424.4L165.1 425.4L165.0 425.9L164.8 426.9L164.6 427.9L164.5 428.4L164.3 429.4L164.0 429.9L163.6 430.5Z" fill="#f7f7f7" stroke="#7a7a7a" stroke-width=".55"/>
<path d="M164.6 423.7L164.3 422.9L164.3 421.9L164.3 420.9L164.3 419.9L164.3 418.9L164.3 417.9L164.3 416.9L164.3 415.9L164.3 414.9L164.3 413.9L164.3 412.9L164.3 411.9L164.3 410.9L164.4 409.9L164.6 409.1L164.8 408.4L165.5 408.4L166.1 408.9L166.6 409.2L167.1 409.4L168.1 409.8L168.6 409.9L169.6 410.3L170.1 410.4L171.1 410.6L172.1 410.6L173.1 410.6L174.1 410.6L175.1 410.6L176.1 410.6L177.1 410.5L177.8 410.4L178.6 410.2L179.6 410.1L180.6 410.1L181.6 410.1L182.6 410.1L183.6 410.1L184.6 410.1L185.6 410.1L186.6 410.1L187.6 410.1L188.6 410.3L189.1 410.4L190.1 410.6L191.1 410.6L192.1 410.6L193.1 410.6L194.1 410.8L194.6 410.9L195.6 411.1L196.1 411.6L196.2 412.4L196.1 412.9L195.9 413.9L195.9 414.9L195.8 415.9L195.6 416.7L195.5 417.4L195.4 418.4L194.6 418.5L194.1 418.4L193.2 417.9L192.6 417.6L192.1 417.4L191.2 416.9L190.6 416.6L190.1 416.4L189.2 415.9L188.6 415.6L187.8 415.4L187.1 415.1L186.6 414.9L185.6 414.5L185.1 414.4L184.1 414.2L183.1 414.0L182.6 413.9L181.6 413.7L180.6 413.7L179.6 413.7L178.6 413.7L177.6 413.7L176.6 413.7L175.6 413.9L175.1 414.0L174.1 414.2L173.1 414.4L172.6 414.5L171.6 414.9L171.1 415.0L170.1 415.4L169.6 415.6L169.1 415.9L168.5 416.4L167.9 416.9L167.4 417.4L167.0 417.9L166.6 418.4L166.1 419.3L165.8 419.9L165.6 420.4L165.2 421.4L165.0 421.9L164.8 422.9L164.6 423.7Z" fill="#fafafa" stroke="#808080" stroke-width=".55"/>
<path d="M165.6 418.3L165.2 417.4L165.2 416.4L165.2 415.4L165.2 414.4L165.2 413.4L165.2 412.4L165.2 411.4L165.2 410.4L165.6 409.6L166.1 409.9L167.0 410.4L167.6 410.6L168.5 410.9L169.1 411.1L170.1 411.4L170.6 411.4L171.6 411.5L172.6 411.5L173.6 411.5L174.6 411.5L175.6 411.5L176.6 411.5L177.3 411.4L178.1 411.2L179.1 411.0L180.1 411.0L181.1 411.0L182.1 411.0L183.1 411.0L184.1 411.0L185.1 411.0L186.1 411.0L187.1 411.0L188.1 411.1L189.1 411.4L189.6 411.4L190.6 411.5L191.6 411.5L192.6 411.5L193.6 411.6L194.6 411.9L195.1 412.0L195.1 412.9L195.1 413.4L195.0 414.4L195.0 415.4L194.8 416.4L194.6 417.2L193.6 417.1L193.1 416.9L192.2 416.4L191.6 416.1L191.1 415.9L190.2 415.4L189.6 415.1L189.1 414.9L188.1 414.6L187.6 414.4L186.7 413.9L186.1 413.7L185.1 413.4L184.6 413.4L183.6 413.2L182.6 412.9L182.1 412.9L181.1 412.8L180.1 412.8L179.1 412.8L178.1 412.8L177.1 412.8L176.1 412.9L175.6 412.9L174.6 413.2L173.6 413.4L173.1 413.4L172.1 413.7L171.5 413.9L170.6 414.2L170.0 414.4L169.1 414.9L168.6 415.2L168.1 415.5L167.6 416.0L167.1 416.5L166.6 417.0L166.1 417.6L165.6 418.3Z" fill="#fcfcfc" stroke="#888" stroke-width=".55"/>
<ellipse cx="164" cy="420" rx="3.7" ry="12" fill="#e2e2e2" stroke="#666" stroke-width=".5"/>
<ellipse cx="164" cy="420" rx="2.2" ry="8.5" fill="#ececec" stroke="#777" stroke-width=".5"/>
<ellipse cx="164" cy="418" rx="1" ry="4.5" fill="#f6f6f6" stroke="#888" stroke-width=".5"/>
<ellipse cx="188" cy="413" rx="9.5" ry="4.3" fill="#e6e6e6" stroke="#666" stroke-width=".5" transform="rotate(12 188 413)"/>
<ellipse cx="189" cy="413" rx="6" ry="2.3" fill="#f2f2f2" stroke="#777" stroke-width=".5" transform="rotate(12 189 413)"/>
</g>
<path d="M149.6 441.4h-2.2M149.6 436.32h-1.2M149.6 431.25h-1.2M149.6 428.28h-1.2M149.6 426.17h-1.2M149.6 424.54h-2.2M149.6 419.46h-1.2M149.6 414.39h-1.2M149.6 411.42h-1.2M149.6 409.31h-1.2M149.6 407.67h-2.2M149.6 402.6h-1.2M149.6 397.52h-1.2M149.6 394.55h-1.2M149.6 392.45h-1.2M149.6 390.81h-2.2M149.6 385.74h-1.2M149.6 380.66h-1.2M149.6 377.69h-1.2M149.6 375.58h-1.2M149.6 373.95h-2.2" stroke="#111" stroke-width=".6" fill="none"/>
<path d="M151.6 443.4v2.4M156.69 443.4v1.5M161.78 443.4v1.5M164.76 443.4v1.5M166.87 443.4v1.5M168.51 443.4v2.4M173.6 443.4v1.5M178.69 443.4v1.5M181.67 443.4v1.5M183.78 443.4v1.5M185.42 443.4v2.4M190.51 443.4v1.5M195.6 443.4v1.5M198.58 443.4v1.5M200.69 443.4v1.5M202.33 443.4v2.4M207.42 443.4v1.5M212.51 443.4v1.5M215.49 443.4v1.5M217.6 443.4v1.5M219.24 443.4v2.4" stroke="#111" stroke-width=".75" fill="none"/>
<rect x="149.6" y="372.4" width="71.2" height="71" fill="none" stroke="#111" stroke-width="1.2"/>
<rect x="151" y="374.6" width="67.5" height="21.7" fill="none" stroke="#777" stroke-width="0.8"/>
<text x="156.3" y="383.4" font-size="8.3" stroke="#111" stroke-width="0.12" textLength="11.7" lengthAdjust="spacingAndGlyphs">0.9</text>
<text x="245.8" y="368" font-size="8.3" stroke="#111" stroke-width="0.12" textLength="32.7" lengthAdjust="spacingAndGlyphs">MM-free</text>
<clipPath id="cG2"><rect x="226" y="372.4" width="71.7" height="71"/></clipPath>
<g clip-path="url(#cG2)">
<ellipse cx="262" cy="398" rx="36.4" ry="10.4" fill="url(#gh)" fill-opacity="0.35"/>
<ellipse cx="262" cy="433" rx="36.4" ry="15.6" fill="url(#gh)" fill-opacity="0.32"/>
<ellipse cx="283" cy="415" rx="10.4" ry="20.8" fill="url(#gh)" fill-opacity="0.24"/>
<ellipse cx="233" cy="404" rx="10.4" ry="10.4" fill="url(#gh)" fill-opacity="0.48"/>
<path transform="scale(.25)" d="M1016 1541h3m42 16h3m6 2h3m79 0h3m-133 1h3m13 2h3m-13 1h3m-19 2h3m60 0h3m-149 2h3m77 0h3m108 0h3m-153 2h3m31 0h3m156 1h3m-138 1h3m47 0h3m-67 1h3m18 1h3m-18 1h3m25 0h3m-134 1h3m143 0h3m60 0h3m-154 1h3m95 0h3m47 0h3m32 0h3m-170 1h3m11 0h3m47 0h3m0 0h3m-137 1h3m80 0h3m38 1h3m54 0h3m15 0h3m14 0h3m-122 1h3m45 0h3m34 0h3m28 0h3m-207 1h3m87 0h3m34 0h3m5 0h3m-137 1h3m84 0h3m36 0h3m54 0h3m37 0h3m21 0h3m-1 0h3m-171 1h3m14 0h3m131 0h3m-170 1h3m29 0h3m16 0h3m39 0h3m11 0h3m-129 1h3m12 0h3m14 0h3m10 0h3m34 0h3m-111 1h3m43 0h3m0 0h3m4 0h3m34 0h3m33 0h3m10 0h3m42 0h3m-224 1h3m61 0h3m27 0h3m2 0h3m-3 0h3m-2 0h3m3 0h3m34 0h3m26 0h3m16 0h3m-1 0h3m-29 1h3m-139 1h3m100 0h3m-1 0h3m33 0h3m35 0h3m-207 1h3m78 0h3m6 0h3m42 0h3m53 0h3m-67 1h3m8 0h3m17 0h3m-109 1h3m18 0h3m2 0h3m28 0h3m67 0h3m65 0h3m-201 1h3m38 0h3m47 0h3m29 0h3m2 0h3m12 0h3m-167 1h3m99 0h3m6 0h3m2 0h3m12 0h3m5 0h3m-168 1h3m89 0h3m23 0h3m3 0h3m33 0h3m-25 1h3m43 0h3m4 0h3m-186 1h3m58 0h3m47 0h3m17 0h3m8 0h3m0 0h3m46 0h3m-217 1h3m15 0h3m79 0h3m9 0h3m16 0h3m-2 0h3m35 0h3m5 0h3m12 0h3m0 0h3m-175 1h3m2 0h3m38 0h3m1 0h3m10 0h3m3 0h3m7 0h3m12 0h3m19 0h3m2 0h3m-132 1h3m4 0h3m85 0h3m4 0h3m27 0h3m13 0h3m78 0h3m-253 1h3m7 0h3m31 0h3m2 0h3m11 0h3m94 0h3m1 0h3m11 0h3m27 0h3m8 0h3m23 0h3m-242 1h3m12 0h3m31 0h3m49 0h3m-2 0h3m7 0h3m47 0h3m-2 0h3m7 0h3m2 0h3m32 0h3m-2 0h3m-197 1h3m27 0h3m6 0h3m6 0h3m61 0h3m14 0h3m-2 0h3m6 0h3m10 0h3m-1 0h3m12 0h3m36 0h3m-212 1h3m61 0h3m6 0h3m11 0h3m24 0h3m20 0h3m45 0h3m-116 1h3m48 0h3m20 0h3m-177 1h3m24 0h3m-3 0h3m19 0h3m30 0h3m5 0h3m29 0h3m13 0h3m0 0h3m22 0h3m5 0h3m-2 0h3m1 0h3m1 0h3m38 0h3m-1 0h3m20 0h3m-234 1h3m42 0h3m15 0h3m5 0h3m14 0h3m24 0h3m19 0h3m0 0h3m5 0h3m11 0h3m-161 1h3m1 0h3m7 0h3m23 0h3m12 0h3m5 0h3m8 0h3m-1 0h3m36 0h3m15 0h3m32 0h3m29 0h3m-230 1h3m39 0h3m21 0h3m30 0h3m9 0h3m15 0h3m24 0h3m-141 1h3m28 0h3m-3 0h3m2 0h3m15 0h3m37 0h3m8 0h3m0 0h3m7 0h3m8 0h3m-2 0h3m2 0h3m-3 0h3m21 0h3m3 0h3m-2 0h3m-2 0h3m-2 0h3m-165 1h3m3 0h3m2 0h3m4 0h3m9 0h3m15 0h3m-2 0h3m21 0h3m26 0h3m-1 0h3m1 0h3m-1 0h3m7 0h3m-2 0h3m0 0h3m17 0h3m17 0h3m38 0h3m-221 1h3m33 0h3m25 0h3m10 0h3m31 0h3m14 0h3m5 0h3m7 0h3m1 0h3m-1 0h3m24 0h3m1 0h3m45 0h3m-235 1h3m7 0h3m72 0h3m6 0h3m-3 0h3m7 0h3m-2 0h3m21 0h3m48 0h3m1 0h3m-174 1h3m31 0h3m-2 0h3m6 0h3m-3 0h3m4 0h3m5 0h3m3 0h3m13 0h3m-2 0h3m-3 0h3m16 0h3m3 0h3m37 0h3m6 0h3m17 0h3m12 0h3m-199 1h3m10 0h3m12 0h3m8 0h3m31 0h3m19 0h3m69 0h3m12 0h3m5 0h3m-1 0h3m-203 1h3m0 0h3m37 0h3m2 0h3m-1 0h3m3 0h3m-2 0h3m16 0h3m-1 0h3m3 0h3m-2 0h3m-1 0h3m5 0h3m93 0h3m-2 0h3m5 0h3m-203 1h3m32 0h3m6 0h3m8 0h3m-2 0h3m5 0h3m-2 0h3m2 0h3m-1 0h3m4 0h3m2 0h3m7 0h3m103 0h3m2 0h3m5 0h3m-214 1h3m4 0h3m5 0h3m8 0h3m0 0h3m5 0h3m-2 0h3m13 0h3m14 0h3m1 0h3m0 0h3m107 0h3m0 0h3m8 0h3m-182 1h3m6 0h3m14 0h3m17 0h3m124 0h3m14 0h3m-210 1h3m10 0h3m13 0h3m19 0h3m-3 0h3m131 0h3m18 0h3m-185 1h3m14 0h3m-43 1h3m11 0h3m4 0h3m-35 1h3m23 0h3m2 0h3m6 0h3m0 0h3m0 0h3m159 0h3m-186 1h3m-2 0h3m8 0h3m-2 0h3m159 0h3m-2 0h3m-1 0h3m2 0h3m17 0h3m-221 1h3m0 0h3m0 0h3m-3 0h3m11 0h3m3 0h3m-3 0h3m-23 1h3m4 0h3m1 0h3m4 0h3m-1 0h3m0 0h3m-18 1h3m10 0h3m165 0h3m40 0h3m-47 1h3m4 0h3m-186 1h3m-3 0h3m-1 0h3m-3 0h3m182 0h3m-196 1h3m0 0h3m5 0h3m167 0h3m-2 0h3m25 0h3m-235 1h3m219 0h3m-3 0h3m-2 0h3m39 0h3m-254 1h3m-1 0h3m8 0h3m177 0h3m-196 1h3m3 0h3m-1 0h3m1 0h3m176 0h3m-1 0h3m-1 0h3m8 1h3m-3 0h3m21 0h3m-223 1h3m-17 1h3m8 0h3m-3 0h3m0 0h3m181 0h3m17 0h3m-230 1h3m203 0h3m1 0h3m30 0h3m-224 1h3m2 0h3m174 0h3m0 0h3m4 0h3m14 0h3m-3 0h3m5 0h3m-236 1h3m200 0h3m15 0h3m-215 1h3m3 0h3m186 0h3m8 0h3m-205 1h3m3 0h3m-15 1h3m11 0h3m-35 1h3m19 0h3m186 0h3m-3 0h3m6 0h3m3 1h3m-17 1h3m-199 1h3m7 0h3m-1 0h3m-9 1h3m186 0h3m0 0h3m-188 1h3m182 0h3m-190 1h3m-1 0h3m-27 1h3m22 0h3m183 0h3m-201 1h3m199 0h3m-198 1h3m1 0h3m-3 0h3m211 0h3m-34 3h3m19 0h3m27 0h3m-246 1h3m188 0h3m7 0h3m1 0h3m5 0h3m-214 1h3m189 0h3m0 0h3m-4 1h3m-213 1h3m200 0h3m-2 0h3m-3 0h3m7 0h3m-201 1h3m-2 0h3m195 0h3m-10 1h3m9 0h3m-15 1h3m-1 0h3m2 0h3m-205 2h3m-1 0h3m-12 1h3m7 0h3m186 0h3m1 0h3m0 0h3m-202 1h3m5 0h3m190 0h3m-199 1h3m189 0h3m-193 1h3m189 0h3m6 0h3m-204 1h3m197 0h3m15 0h3m-222 1h3m181 0h3m-193 1h3m193 0h3m3 0h3m-208 1h3m7 0h3m182 0h3m-201 1h3m200 0h3m-2 0h3m9 2h3m14 0h3m-228 1h3m192 0h3m2 0h3m5 0h3m13 0h3m-240 1h3m203 0h3m-1 0h3m30 1h3m-224 2h3m179 0h3m-2 0h3m-1 0h3m-3 0h3m-189 1h3m71 0h3m107 0h3m-1 0h3m-190 1h3m0 0h3m69 0h3m133 0h3m26 0h3m-245 1h3m184 0h3m4 0h3m-195 1h3m62 0h3m-2 0h3m-1 0h3m2 0h3m0 0h3m1 0h3m101 0h3m-3 0h3m-1 0h3m1 0h3m-1 0h3m-203 1h3m80 0h3m-1 0h3m6 0h3m-2 0h3m98 0h3m18 0h3m-134 1h3m7 0h3m-7 1h3m3 0h3m-1 0h3m-1 0h3m97 0h3m-112 1h3m3 0h3m-1 0h3m93 0h3m-118 1h3m-3 0h3m18 0h3m2 0h3m-104 1h3m61 0h3m115 0h3m-195 1h3m10 0h3m93 0h3m90 0h3m8 0h3m-143 1h3m32 0h3m-2 0h3m81 0h3m-3 0h3m-109 1h3m18 0h3m86 0h3m-118 1h3m13 0h3m7 0h3m8 0h3m73 0h3m-120 1h3m4 0h3m11 0h3m14 0h3m2 0h3m-2 0h3m76 0h3m17 0h3m10 0h3m-140 1h3m90 0h3m7 0h3m-190 1h3m70 0h3m36 0h3m68 0h3m-94 1h3m84 0h3m8 0h3m-136 1h3m32 0h3m16 0h3m-2 0h3m82 0h3m-202 1h3m64 0h3m10 0h3m31 0h3m-1 0h3m69 0h3m11 0h3m-141 1h3m24 0h3m14 0h3m0 0h3m4 0h3m1 0h3m-130 1h3m62 0h3m49 0h3m1 0h3m0 0h3m-2 0h3m-2 0h3m57 0h3m-1 0h3m2 0h3m-91 1h3m-102 1h3m-2 0h3m-3 0h3m-3 0h3m58 0h3m-3 0h3m57 0h3m54 0h3m0 0h3m-188 1h3m112 0h3m-2 0h3m4 0h3m-66 1h3m6 0h3m-97 1h3m81 0h3m11 0h3m19 0h3m1 0h3m23 0h3m-3 0h3m3 0h3m2 0h3m40 0h3m-183 1h3m-2 0h3m106 0h3m7 0h3m0 0h3m54 0h3m-120 1h3m54 0h3m5 0h3m7 0h3m-3 0h3m0 0h3m27 0h3m3 0h3m-1 0h3m-180 1h3m69 0h3m3 0h3m15 0h3m6 0h3m32 0h3m-2 0h3m25 0h3m2 0h3m-3 0h3m-180 1h3m0 0h3m-3 0h3m0 0h3m68 0h3m20 0h3m20 0h3m18 0h3m2 0h3m16 0h3m-191 1h3m76 0h3m82 0h3m4 0h3m-3 0h3m10 0h3m-2 0h3m3 0h3m61 0h3m-172 1h3m2 0h3m-1 0h3m26 0h3m7 0h3m35 0h3m2 0h3m-3 0h3m1 0h3m-1 0h3m-2 0h3m16 0h3m12 0h3m-138 1h3m22 0h3m22 0h3m10 0h3m-2 0h3m20 0h3m7 0h3m9 0h3m4 0h3m-120 1h3m31 0h3m6 0h3m14 0h3m31 0h3m0 0h3m-2 0h3m33 0h3m-206 1h3m8 0h3m-2 0h3m57 0h3m16 0h3m43 0h3m16 0h3m21 0h3m17 0h3m34 0h3m-228 1h3m80 0h3m45 0h3m18 0h3m68 0h3m-75 1h3m-97 1h3m1 0h3m4 0h3m73 0h3m-2 0h3m2 0h3m0 0h3m26 0h3m34 0h3m-251 1h3m23 0h3m60 0h3m79 0h3m15 0h3m-160 1h3m-3 0h3m149 0h3m30 0h3m-194 1h3m57 0h3m8 0h3m30 0h3m2 0h3m23 0h3m22 0h3m-64 1h3m16 0h3m22 0h3m43 0h3m14 0h3m-202 1h3m50 0h3m5 0h3m35 0h3m9 0h3m15 0h3m0 0h3m1 0h3m24 0h3m-114 1h3m0 0h3m66 0h3m20 0h3m34 0h3m-90 1h3m32 0h3m6 0h3m11 0h3m-159 1h3m49 0h3m58 0h3m33 0h3m-162 1h3m4 0h3m78 0h3m6 0h3m49 0h3m9 0h3m-50 1h3m31 0h3m8 0h3m12 0h3m-105 1h3m-1 0h3m57 0h3m11 0h3m11 0h3m6 0h3m1 0h3m-168 1h3m90 0h3m73 0h3m-2 0h3m18 0h3m-198 1h3m2 0h3m46 0h3m-2 0h3m1 0h3m-1 0h3m10 0h3m30 0h3m24 0h3m39 0h3m-188 1h3m86 0h3m53 1h3m0 0h3m26 0h3m8 0h3m-79 1h3m13 0h3m-2 0h3m9 0h3m79 0h3m-145 1h3m19 0h3m-43 1h3m4 0h3m7 0h3m28 0h3m12 0h3m33 0h3m-2 0h3m-84 1h3m93 0h3m37 0h3m-207 1h3m43 0h3m11 0h3m52 0h3m-2 0h3m9 0h3m-2 0h3m-2 0h3m108 0h3m-246 1h3m49 0h3m27 0h3m6 0h3m10 0h3m5 0h3m-3 0h3m33 0h3m81 0h3m-234 1h3m-3 0h3m59 0h3m21 0h3m7 0h3m-2 0h3m0 0h3m16 0h3m2 0h3m-126 1h3m46 0h3m59 0h3m35 0h3m25 0h3m5 0h3m-127 1h3m0 0h3m6 0h3m30 0h3m21 0h3m1 0h3m22 0h3m5 0h3m52 0h3m-121 1h3m55 0h3m8 0h3m5 0h3m-198 1h3m60 0h3m47 0h3m39 0h3m45 0h3m-203 1h3m55 0h3m21 0h3m32 0h3m47 0h3m45 0h3m-146 1h3m23 0h3m2 0h3m22 0h3m52 0h3m-182 1h3m2 0h3m-2 0h3m51 0h3m31 0h3m13 0h3m37 0h3m-81 1h3m61 0h3m1 0h3m12 0h3m-2 0h3m-102 1h3m3 0h3m10 0h3m9 0h3m55 0h3m9 0h3m-55 1h3m-2 0h3m70 0h3m-192 1h3m66 0h3m83 0h3m-139 1h3m32 0h3m2 0h3m25 0h3m8 0h3m69 0h3m-157 1h3m40 0h3m54 0h3m27 0h3m24 0h3m1 0h3m18 0h3m-186 1h3m4 0h3m40 0h3m138 0h3m-151 1h3m23 0h3m47 0h3m-118 1h3m-2 0h3m1 0h3m0 0h3m24 0h3m29 0h3m57 0h3m-94 1h3m-2 0h3m3 0h3m113 0h3m-189 1h3m29 0h3m4 0h3m3 0h3m8 0h3m-3 0h3m177 0h3m-212 1h3m1 0h3m17 0h3m3 0h3m-3 0h3m39 0h3m61 0h3m-136 1h3m6 0h3m94 0h3m-109 1h3m17 0h3m6 0h3m40 0h3m29 0h3m27 0h3m24 0h3m13 0h3m-172 1h3m14 0h3m16 0h3m67 0h3m-119 1h3m14 0h3m1 0h3m6 0h3m-1 0h3m-36 1h3m1 0h3m-2 0h3m25 0h3m102 0h3m-146 1h3m42 0h3m110 0h3m0 0h3m-142 1h3m5 0h3m10 0h3m59 0h3m28 0h3m25 0h3m-151 1h3m13 0h3m11 0h3m-6 1h3m153 0h3m-115 1h3m-51 2h3" stroke="#111" stroke-width="3.2" fill="none"/>
<path d="M234.2 420.2L234.2 426.4L234.3 431.4L234.6 434.9L234.9 437.2L235.4 438.2L236.2 438.9L237.1 439.4L238.3 439.8L239.8 439.8L241.1 439.7L242.3 439.4L243.4 438.8L244.3 437.9L245.2 436.5L245.9 434.6L246.5 432.0L247.0 428.9L247.5 426.2L248.1 424.1L248.8 422.4L249.5 421.2L250.6 420.5L252.0 420.2L253.8 420.5L256.0 421.2L258.2 422.1L260.5 423.2L262.8 424.5L265.2 425.9L267.5 427.0L269.6 427.7L271.7 428.0L273.6 427.8L275.2 427.4L276.6 426.7L277.6 425.7L278.3 424.3L278.9 422.5L279.2 420.1L279.4 417.2L279.4 413.9L279.2 411.0L278.9 408.7L278.3 407.0L277.6 405.8L276.2 404.8L274.2 404.1L271.5 403.7L268.1 403.4L264.9 403.3L261.8 403.3L258.8 403.4L255.9 403.7L253.0 403.9L250.1 404.2L247.2 404.5L244.3 404.9L241.9 405.3L239.8 405.8L238.2 406.3L237.0 407.0L236.0 407.6L235.3 408.3L234.8 409.0L234.6 409.7L234.4 411.8L234.3 415.3Z" fill="none" stroke="#000" stroke-width="1.5" opacity="0.8" filter="url(#bl04)"/>
<path d="M234.2 420.2L234.2 426.4L234.3 431.4L234.6 434.9L234.9 437.2L235.4 438.2L236.2 438.9L237.1 439.4L238.3 439.8L239.8 439.8L241.1 439.7L242.3 439.4L243.4 438.8L244.3 437.9L245.2 436.5L245.9 434.6L246.5 432.0L247.0 428.9L247.5 426.2L248.1 424.1L248.8 422.4L249.5 421.2L250.6 420.5L252.0 420.2L253.8 420.5L256.0 421.2L258.2 422.1L260.5 423.2L262.8 424.5L265.2 425.9L267.5 427.0L269.6 427.7L271.7 428.0L273.6 427.8L275.2 427.4L276.6 426.7L277.6 425.7L278.3 424.3L278.9 422.5L279.2 420.1L279.4 417.2L279.4 413.9L279.2 411.0L278.9 408.7L278.3 407.0L277.6 405.8L276.2 404.8L274.2 404.1L271.5 403.7L268.1 403.4L264.9 403.3L261.8 403.3L258.8 403.4L255.9 403.7L253.0 403.9L250.1 404.2L247.2 404.5L244.3 404.9L241.9 405.3L239.8 405.8L238.2 406.3L237.0 407.0L236.0 407.6L235.3 408.3L234.8 409.0L234.6 409.7L234.4 411.8L234.3 415.3Z" fill="#d3d3d3" stroke="#1a1a1a" stroke-width="0.8"/>
<path d="M241.5 439.0L240.5 439.0L239.5 439.0L238.5 439.0L237.8 438.9L237.0 438.5L236.5 438.2L236.0 437.6L235.7 436.9L235.4 436.4L235.4 435.4L235.4 434.4L235.2 433.4L234.9 432.9L234.9 431.9L234.9 430.9L234.9 429.9L234.9 428.9L234.9 427.9L234.9 426.9L234.9 425.9L234.9 424.9L234.9 423.9L234.9 422.9L234.9 421.9L234.9 420.9L234.9 419.9L234.9 418.9L234.9 417.9L234.9 416.9L234.9 415.9L234.9 414.9L234.9 413.9L234.9 412.9L234.9 411.9L235.0 411.2L235.4 410.4L235.4 409.4L235.7 408.9L236.2 408.4L236.8 407.9L237.5 407.6L238.0 407.3L238.8 406.9L239.5 406.6L240.0 406.3L241.0 406.3L241.8 405.9L242.5 405.8L243.5 405.8L244.5 405.6L245.0 405.3L246.0 405.3L247.0 405.3L248.0 405.3L248.8 404.9L249.5 404.8L250.5 404.8L251.5 404.8L252.5 404.8L253.5 404.6L254.0 404.3L255.0 404.3L256.0 404.3L257.0 404.3L258.0 404.3L259.0 404.3L260.0 404.1L260.5 403.8L261.5 403.8L262.5 403.8L263.5 403.8L264.5 403.8L265.5 403.8L266.5 403.8L267.0 404.1L268.0 404.3L269.0 404.3L270.0 404.3L271.0 404.3L272.0 404.3L272.5 404.6L273.5 404.8L274.2 404.9L275.0 405.3L275.7 405.4L276.5 405.8L277.0 406.2L277.3 406.9L277.6 407.4L278.0 408.2L278.1 408.9L278.3 409.9L278.6 410.4L278.6 411.4L278.6 412.4L278.6 413.4L278.6 414.4L278.6 415.4L278.6 416.4L278.6 417.4L278.6 418.4L278.6 419.4L278.6 420.4L278.5 421.1L278.1 421.9L278.1 422.9L277.8 423.4L277.6 424.4L277.3 424.9L276.8 425.4L276.3 425.9L275.7 426.4L275.0 426.7L274.5 427.0L273.5 427.0L272.5 427.2L272.0 427.5L271.5 427.2L270.5 427.0L269.5 427.0L269.0 426.7L268.0 426.5L267.5 426.2L266.8 425.9L266.0 425.5L265.5 425.2L264.8 424.9L264.2 424.4L263.5 424.0L263.0 423.7L262.3 423.4L261.5 423.0L261.0 422.7L260.3 422.4L259.5 422.0L259.0 421.7L258.3 421.4L257.5 421.0L256.8 420.9L256.0 420.5L255.5 420.2L254.5 420.0L253.8 419.9L253.0 419.5L252.0 419.5L251.0 419.7L250.5 420.0L249.5 420.2L249.0 420.7L248.6 421.4L248.3 421.9L248.0 422.6L247.6 423.4L247.5 424.1L247.1 424.9L247.0 425.6L246.6 426.4L246.6 427.4L246.5 428.1L246.1 428.9L246.1 429.9L246.1 430.9L246.0 431.6L245.6 432.4L245.6 433.4L245.3 433.9L245.1 434.9L244.8 435.4L244.5 436.1L244.1 436.9L243.8 437.4L243.3 437.9L242.7 438.4L242.0 438.7L241.5 439.0Z" fill="#d9d9d9" stroke="#555" stroke-width=".55"/>
<path d="M241.5 437.9L240.5 438.1L239.5 438.1L238.5 438.1L238.0 437.9L237.0 437.4L236.7 436.9L236.5 436.4L236.3 435.4L236.3 434.4L236.2 433.4L236.0 432.9L235.8 431.9L235.8 430.9L235.8 429.9L235.8 428.9L235.8 427.9L235.8 426.9L235.8 425.9L235.8 424.9L235.8 423.9L235.8 422.9L235.8 421.9L235.8 420.9L235.8 419.9L235.8 418.9L235.8 417.9L235.8 416.9L235.8 415.9L235.8 414.9L235.8 413.9L235.8 412.9L235.8 411.9L236.0 411.4L236.3 410.4L236.5 409.4L237.0 408.9L237.5 408.6L238.0 408.4L239.0 407.9L239.5 407.6L240.0 407.4L241.0 407.2L242.0 406.9L242.5 406.7L243.5 406.7L244.5 406.6L245.0 406.4L246.0 406.2L247.0 406.2L248.0 406.2L249.0 405.9L249.5 405.7L250.5 405.7L251.5 405.7L252.5 405.7L253.5 405.6L254.0 405.4L255.0 405.2L256.0 405.2L257.0 405.2L258.0 405.2L259.0 405.2L260.0 405.1L260.5 404.9L261.5 404.7L262.5 404.7L263.5 404.7L264.5 404.7L265.5 404.7L266.5 404.9L267.0 405.1L268.0 405.2L269.0 405.2L270.0 405.2L271.0 405.2L272.0 405.4L272.5 405.6L273.5 405.7L274.0 405.9L275.0 406.2L275.5 406.4L276.3 406.9L276.5 407.4L277.0 408.4L277.2 408.9L277.3 409.9L277.5 410.4L277.7 411.4L277.7 412.4L277.7 413.4L277.7 414.4L277.7 415.4L277.7 416.4L277.7 417.4L277.7 418.4L277.7 419.4L277.7 420.4L277.5 420.9L277.2 421.9L277.0 422.9L276.8 423.4L276.5 424.4L276.0 424.9L275.5 425.4L275.0 425.7L274.5 425.9L273.5 426.1L272.5 426.2L272.0 426.4L271.5 426.2L270.5 426.1L269.5 425.9L269.0 425.7L268.0 425.4L267.5 425.2L267.0 424.9L266.0 424.4L265.5 424.2L265.0 423.9L264.5 423.4L263.5 422.9L263.0 422.7L262.5 422.4L261.5 421.9L261.0 421.7L260.5 421.4L259.5 420.9L259.0 420.7L258.5 420.4L257.5 420.1L257.0 419.9L256.0 419.4L255.5 419.2L254.5 419.1L254.0 418.9L253.0 418.6L252.0 418.6L251.0 418.7L250.5 418.9L249.5 419.2L249.0 419.4L248.5 419.9L248.0 420.4L247.5 421.4L247.3 421.9L247.0 422.4L246.7 423.4L246.5 423.9L246.2 424.9L246.0 425.4L245.7 426.4L245.7 427.4L245.5 427.9L245.2 428.9L245.2 429.9L245.2 430.9L245.0 431.4L244.7 432.4L244.5 433.4L244.3 433.9L244.0 434.9L243.8 435.4L243.5 435.9L243.0 436.9L242.5 437.4L242.0 437.7L241.5 437.9Z" fill="#dfdfdf" stroke="#5a5a5a" stroke-width=".55"/>
<path d="M241.0 437.2L240.0 437.2L239.0 437.2L238.0 436.9L237.5 436.4L237.2 435.9L237.2 434.9L237.2 433.9L237.0 432.9L236.7 432.4L236.7 431.4L236.7 430.4L236.7 429.4L236.7 428.4L236.7 427.4L236.7 426.4L236.7 425.4L236.7 424.4L236.7 423.4L236.7 422.4L236.7 421.4L236.7 420.4L236.7 419.4L236.7 418.4L236.7 417.4L236.7 416.4L236.7 415.4L236.7 414.4L236.7 413.4L236.7 412.4L237.0 411.4L237.2 410.9L237.3 409.9L238.0 409.4L238.5 409.1L239.0 408.9L240.0 408.4L240.5 408.1L241.5 408.1L242.0 407.9L243.0 407.6L244.0 407.6L245.0 407.4L245.5 407.1L246.5 407.1L247.5 407.1L248.5 407.1L249.0 406.9L250.0 406.6L251.0 406.6L252.0 406.6L253.0 406.6L254.0 406.4L254.5 406.1L255.5 406.1L256.5 406.1L257.5 406.1L258.5 406.1L259.5 406.1L260.5 405.9L261.0 405.6L262.0 405.6L263.0 405.6L264.0 405.6L265.0 405.6L266.0 405.6L266.5 405.9L267.5 406.1L268.5 406.1L269.5 406.1L270.5 406.1L271.5 406.1L272.0 406.4L273.0 406.6L274.0 406.9L274.5 407.1L275.5 407.4L275.8 407.9L276.0 408.4L276.3 409.4L276.5 410.4L276.8 410.9L276.8 411.9L276.8 412.9L276.8 413.9L276.8 414.9L276.8 415.9L276.8 416.9L276.8 417.9L276.8 418.9L276.8 419.9L276.5 420.9L276.3 421.4L276.3 422.4L276.0 422.9L275.7 423.9L275.2 424.4L274.5 424.9L274.0 425.2L273.0 425.2L272.0 425.4L271.0 425.2L270.0 425.2L269.5 424.9L268.5 424.7L268.0 424.4L267.0 423.9L266.5 423.7L266.0 423.4L265.3 422.9L264.5 422.4L264.0 422.2L263.5 421.9L262.5 421.4L262.0 421.2L261.5 420.9L260.5 420.4L260.0 420.2L259.5 419.9L258.5 419.4L258.0 419.2L257.0 418.9L256.5 418.7L256.0 418.4L255.0 418.2L254.0 417.9L253.5 417.7L252.5 417.7L251.5 417.7L250.5 417.9L250.0 418.2L249.0 418.4L248.5 418.7L248.0 419.1L247.5 419.6L247.0 420.4L246.8 420.9L246.5 421.4L246.0 422.4L245.8 422.9L245.5 423.9L245.3 424.4L245.0 425.4L244.8 425.9L244.8 426.9L244.5 427.9L244.3 428.4L244.3 429.4L244.3 430.4L244.0 431.4L243.8 431.9L243.8 432.9L243.5 433.4L243.3 434.4L243.0 434.9L242.5 435.9L242.2 436.4L241.5 436.9L241.0 437.2Z" fill="#e5e5e5" stroke="#606060" stroke-width=".55"/>
<path d="M241.0 436.1L240.0 436.3L239.0 436.3L238.3 435.9L238.1 434.9L238.1 433.9L238.0 433.1L237.8 432.4L237.6 431.4L237.6 430.4L237.6 429.4L237.6 428.4L237.6 427.4L237.6 426.4L237.6 425.4L237.6 424.4L237.6 423.4L237.6 422.4L237.6 421.4L237.6 420.4L237.6 419.4L237.6 418.4L237.6 417.4L237.6 416.4L237.6 415.4L237.6 414.4L237.6 413.4L237.6 412.4L238.0 411.4L238.1 410.9L238.5 410.2L239.0 409.9L240.0 409.4L240.5 409.2L241.5 409.0L242.0 408.9L243.0 408.5L244.0 408.5L244.8 408.4L245.5 408.2L246.5 408.0L247.5 408.0L248.5 408.0L249.0 407.9L250.0 407.5L251.0 407.5L252.0 407.5L253.0 407.5L253.8 407.4L254.5 407.2L255.5 407.0L256.5 407.0L257.5 407.0L258.5 407.0L259.5 407.0L260.3 406.9L261.0 406.7L262.0 406.5L263.0 406.5L264.0 406.5L265.0 406.5L266.0 406.7L266.7 406.9L267.5 407.0L268.5 407.0L269.5 407.0L270.5 407.0L271.5 407.2L272.2 407.4L273.0 407.5L274.0 407.9L274.5 408.0L275.0 408.4L275.4 409.4L275.5 410.2L275.7 410.9L275.9 411.9L275.9 412.9L275.9 413.9L275.9 414.9L275.9 415.9L275.9 416.9L275.9 417.9L275.9 418.9L275.9 419.9L275.5 420.9L275.4 421.4L275.2 422.4L275.0 423.1L274.5 423.8L274.0 424.1L273.0 424.3L272.2 424.4L271.8 424.4L271.0 424.3L270.0 424.1L269.3 423.9L268.5 423.6L268.0 423.4L267.0 422.9L266.5 422.6L266.0 422.3L265.5 421.9L264.5 421.4L264.0 421.1L263.5 420.9L262.5 420.4L262.0 420.1L261.5 419.9L260.5 419.4L260.0 419.1L259.5 418.9L258.5 418.4L258.0 418.3L257.0 417.9L256.5 417.6L255.8 417.4L255.0 417.3L254.0 416.9L253.5 416.8L252.5 416.8L251.5 416.8L250.7 416.9L250.0 417.1L249.2 417.4L248.5 417.6L248.0 417.9L247.4 418.4L246.9 418.9L246.5 419.4L246.0 420.4L245.7 420.9L245.5 421.4L245.0 422.4L244.9 422.9L244.5 423.9L244.4 424.4L244.0 425.4L243.9 425.9L243.9 426.9L243.5 427.9L243.4 428.4L243.4 429.4L243.4 430.4L243.0 431.4L242.9 431.9L242.7 432.9L242.5 433.6L242.2 434.4L242.0 434.9L241.5 435.8L241.0 436.1Z" fill="#eaeaea" stroke="#666" stroke-width=".55"/>
<path d="M240.5 435.4L239.5 435.4L239.0 434.4L239.0 433.4L238.7 432.4L238.5 431.4L238.5 430.4L238.5 429.4L238.5 428.4L238.5 427.4L238.5 426.4L238.5 425.4L238.5 424.4L238.5 423.4L238.5 422.4L238.5 421.4L238.5 420.4L238.5 419.4L238.5 418.4L238.5 417.4L238.5 416.4L238.5 415.4L238.5 414.4L238.5 413.4L238.5 412.4L238.9 411.4L239.1 410.9L240.0 410.4L240.5 410.2L241.3 409.9L242.0 409.8L243.0 409.4L244.0 409.4L245.0 409.3L246.0 408.9L247.0 408.9L248.0 408.9L249.0 408.8L250.0 408.4L251.0 408.4L252.0 408.4L253.0 408.4L254.0 408.3L255.0 407.9L256.0 407.9L257.0 407.9L258.0 407.9L259.0 407.9L260.0 407.9L261.0 407.6L262.0 407.4L263.0 407.4L264.0 407.4L265.0 407.4L266.0 407.6L267.0 407.9L268.0 407.9L269.0 407.9L270.0 407.9L271.0 407.9L272.0 408.3L272.7 408.4L273.5 408.6L274.2 408.9L274.5 409.7L274.6 410.4L275.0 411.4L275.0 412.4L275.0 413.4L275.0 414.4L275.0 415.4L275.0 416.4L275.0 417.4L275.0 418.4L275.0 419.4L274.8 420.4L274.5 421.4L274.5 421.9L274.1 422.9L273.5 423.4L272.5 423.4L271.5 423.4L270.5 423.4L269.5 423.0L269.0 422.9L268.1 422.4L267.5 422.1L267.0 421.9L266.3 421.4L265.6 420.9L265.0 420.6L264.5 420.4L263.6 419.9L263.0 419.6L262.5 419.4L261.6 418.9L261.0 418.6L260.5 418.4L259.6 417.9L259.0 417.7L258.1 417.4L257.5 417.1L257.0 416.9L256.0 416.5L255.3 416.4L254.5 416.2L253.5 415.9L252.5 415.9L251.5 415.9L250.5 416.0L249.5 416.4L249.0 416.5L248.0 416.9L247.5 417.2L247.0 417.5L246.5 418.0L246.0 418.6L245.5 419.3L245.2 419.9L245.0 420.4L244.5 421.3L244.3 421.9L244.0 422.8L243.8 423.4L243.5 424.3L243.3 424.9L243.0 425.9L243.0 426.9L242.6 427.9L242.5 428.9L242.5 429.9L242.3 430.9L242.0 431.9L242.0 432.4L241.6 433.4L241.5 433.9L241.0 434.8L240.5 435.4Z" fill="#efefef" stroke="#6c6c6c" stroke-width=".55"/>
<path d="M240.0 434.5L239.9 433.9L239.8 432.9L239.5 431.9L239.4 431.4L239.4 430.4L239.4 429.4L239.4 428.4L239.4 427.4L239.4 426.4L239.4 425.4L239.4 424.4L239.4 423.4L239.4 422.4L239.4 421.4L239.4 420.4L239.4 419.4L239.4 418.4L239.4 417.4L239.4 416.4L239.4 415.4L239.4 414.4L239.4 413.4L239.5 412.5L239.7 411.9L240.0 411.4L241.0 410.9L241.5 410.8L242.5 410.6L243.1 410.4L244.0 410.3L245.0 410.2L246.0 409.9L246.5 409.8L247.5 409.8L248.5 409.8L249.5 409.6L250.1 409.4L251.0 409.3L252.0 409.3L253.0 409.3L254.0 409.2L255.0 408.9L255.5 408.8L256.5 408.8L257.5 408.8L258.5 408.8L259.5 408.8L260.5 408.7L261.5 408.4L262.0 408.3L263.0 408.3L264.0 408.3L265.0 408.3L265.5 408.4L266.5 408.7L267.5 408.8L268.5 408.8L269.5 408.8L270.5 408.8L271.0 408.9L272.0 409.2L272.9 409.4L273.5 409.7L273.7 410.4L274.0 411.4L274.1 411.9L274.1 412.9L274.1 413.9L274.1 414.9L274.1 415.9L274.1 416.9L274.1 417.9L274.1 418.9L274.0 419.8L273.8 420.4L273.6 421.4L273.5 421.9L273.0 422.5L272.0 422.6L271.0 422.5L270.5 422.4L269.5 422.1L269.0 421.9L268.0 421.4L267.5 421.1L267.0 420.8L266.5 420.4L265.5 419.9L265.0 419.6L264.5 419.4L263.5 418.9L263.0 418.6L262.5 418.4L261.5 417.9L261.0 417.6L260.5 417.4L259.5 416.9L259.0 416.7L258.0 416.4L257.5 416.1L257.0 415.9L256.0 415.6L255.1 415.4L254.5 415.2L253.5 415.0L252.5 415.0L251.5 415.0L250.5 415.1L249.5 415.4L249.0 415.6L248.0 415.9L247.5 416.1L247.0 416.4L246.4 416.9L245.9 417.4L245.4 417.9L245.0 418.4L244.5 419.4L244.2 419.9L244.0 420.4L243.5 421.4L243.3 421.9L243.0 422.9L242.8 423.4L242.5 424.4L242.3 424.9L242.1 425.9L242.0 426.8L241.8 427.4L241.6 428.4L241.6 429.4L241.5 430.3L241.3 430.9L241.1 431.9L241.0 432.4L240.7 433.4L240.4 433.9L240.0 434.5Z" fill="#f3f3f3" stroke="#737373" stroke-width=".55"/>
<path d="M240.5 430.5L240.3 429.9L240.3 428.9L240.3 427.9L240.3 426.9L240.3 425.9L240.3 424.9L240.3 423.9L240.3 422.9L240.3 421.9L240.3 420.9L240.3 419.9L240.3 418.9L240.3 417.9L240.3 416.9L240.3 415.9L240.3 414.9L240.3 413.9L240.3 412.9L240.5 412.4L241.1 411.9L242.0 411.6L242.9 411.4L243.5 411.2L244.5 411.2L245.5 411.0L246.0 410.9L247.0 410.7L248.0 410.7L249.0 410.6L249.9 410.4L250.5 410.2L251.5 410.2L252.5 410.2L253.5 410.2L254.5 410.0L255.0 409.9L256.0 409.7L257.0 409.7L258.0 409.7L259.0 409.7L260.0 409.7L261.0 409.5L261.5 409.4L262.5 409.2L263.5 409.2L264.5 409.2L265.5 409.4L266.0 409.5L267.0 409.7L268.0 409.7L269.0 409.7L270.0 409.7L271.0 409.9L271.5 410.0L272.5 410.2L272.9 410.9L273.0 411.4L273.2 412.4L273.2 413.4L273.2 414.4L273.2 415.4L273.2 416.4L273.2 417.4L273.2 418.4L273.2 419.4L273.0 420.0L272.8 420.9L272.5 421.6L271.5 421.6L270.5 421.4L270.0 421.3L269.1 420.9L268.5 420.6L268.0 420.4L267.3 419.9L266.6 419.4L266.0 419.1L265.5 418.9L264.6 418.4L264.0 418.1L263.5 417.9L262.6 417.4L262.0 417.1L261.5 416.9L260.6 416.4L260.0 416.1L259.4 415.9L258.5 415.6L258.0 415.4L257.0 414.9L256.5 414.8L255.5 414.6L254.9 414.4L254.0 414.2L253.0 414.1L252.0 414.1L251.0 414.1L250.0 414.3L249.5 414.4L248.5 414.8L248.0 414.9L247.0 415.4L246.5 415.7L246.0 416.0L245.5 416.5L245.0 417.0L244.5 417.6L244.0 418.3L243.7 418.9L243.5 419.4L243.0 420.3L242.7 420.9L242.5 421.5L242.2 422.4L242.0 423.0L241.7 423.9L241.5 424.5L241.3 425.4L241.2 426.4L241.0 427.0L240.7 427.9L240.7 428.9L240.7 429.9L240.5 430.5Z" fill="#f7f7f7" stroke="#7a7a7a" stroke-width=".55"/>
<path d="M241.5 421.7L241.2 420.9L241.2 419.9L241.2 418.9L241.2 417.9L241.2 416.9L241.2 415.9L241.2 414.9L241.2 413.9L241.3 412.9L242.0 412.5L242.7 412.4L243.5 412.2L244.5 412.1L245.5 411.9L246.0 411.8L247.0 411.6L248.0 411.6L249.0 411.5L249.7 411.4L250.5 411.2L251.5 411.1L252.5 411.1L253.5 411.1L254.5 410.9L255.0 410.8L256.0 410.6L257.0 410.6L258.0 410.6L259.0 410.6L260.0 410.6L261.0 410.4L261.5 410.3L262.5 410.1L263.5 410.1L264.5 410.1L265.5 410.3L266.0 410.4L267.0 410.6L268.0 410.6L269.0 410.6L270.0 410.6L271.0 410.8L271.5 410.9L272.1 411.4L272.3 412.4L272.3 413.4L272.3 414.4L272.3 415.4L272.3 416.4L272.3 417.4L272.3 418.4L272.2 419.4L272.0 420.2L271.5 420.7L270.5 420.5L270.0 420.4L269.1 419.9L268.5 419.6L268.0 419.3L267.5 418.9L266.6 418.4L266.0 418.1L265.5 417.9L264.6 417.4L264.0 417.1L263.5 416.9L262.6 416.4L262.0 416.1L261.5 415.9L260.6 415.4L260.0 415.1L259.2 414.9L258.5 414.6L258.0 414.4L257.0 414.0L256.5 413.9L255.5 413.6L254.7 413.4L254.0 413.3L253.0 413.2L252.0 413.2L251.0 413.2L250.0 413.4L249.5 413.5L248.5 413.9L248.0 414.0L247.0 414.4L246.5 414.6L246.0 414.9L245.4 415.4L244.8 415.9L244.3 416.4L243.9 416.9L243.5 417.4L243.0 418.3L242.7 418.9L242.5 419.4L242.0 420.3L241.7 420.9L241.5 421.7Z" fill="#fafafa" stroke="#808080" stroke-width=".55"/>
<path d="M271.0 419.7L270.1 419.4L269.5 419.1L269.0 418.9L268.3 418.4L267.6 417.9L267.0 417.6L266.5 417.4L265.6 416.9L265.0 416.6L264.5 416.4L263.6 415.9L263.0 415.6L262.5 415.4L261.6 414.9L261.0 414.6L260.5 414.4L259.5 414.1L259.0 413.9L258.1 413.4L257.5 413.2L256.5 412.9L256.0 412.9L255.0 412.6L254.2 412.4L254.5 411.9L255.5 411.6L256.5 411.5L257.5 411.5L258.5 411.5L259.5 411.5L260.5 411.4L261.0 411.4L262.0 411.1L263.0 411.0L264.0 411.0L265.0 411.1L266.0 411.4L266.5 411.4L267.5 411.5L268.5 411.5L269.5 411.5L270.5 411.6L271.2 411.9L271.4 412.9L271.4 413.9L271.4 414.9L271.4 415.9L271.4 416.9L271.4 417.9L271.4 418.9L271.0 419.7ZM250.0 412.4L249.2 412.4L250.0 412.3L250.0 412.4ZM242.5 417.3L242.1 416.4L242.1 415.4L242.1 414.4L242.4 413.4L243.0 413.2L244.0 413.0L245.0 412.9L245.5 412.9L246.5 412.6L247.5 412.5L248.4 412.9L247.5 413.2L246.9 413.4L246.0 413.9L245.5 414.2L245.0 414.5L244.5 415.0L244.0 415.5L243.5 416.0L243.0 416.6L242.5 417.3Z" fill="#fcfcfc" stroke="#888" stroke-width=".55"/>
<ellipse cx="240.5" cy="423" rx="3.6" ry="12" fill="#e2e2e2" stroke="#666" stroke-width=".5"/>
<ellipse cx="240.5" cy="423" rx="2.2" ry="8.5" fill="#ececec" stroke="#777" stroke-width=".5"/>
<ellipse cx="240.5" cy="421" rx="1" ry="4.5" fill="#f6f6f6" stroke="#888" stroke-width=".5"/>
<ellipse cx="264" cy="413" rx="9.5" ry="4.5" fill="#e6e6e6" stroke="#666" stroke-width=".5" transform="rotate(10 264 413)"/>
<ellipse cx="265" cy="413" rx="6" ry="2.4" fill="#f2f2f2" stroke="#777" stroke-width=".5" transform="rotate(10 265 413)"/>
</g>
<path d="M226 441.4h-2.2M226 436.32h-1.2M226 431.25h-1.2M226 428.28h-1.2M226 426.17h-1.2M226 424.54h-2.2M226 419.46h-1.2M226 414.39h-1.2M226 411.42h-1.2M226 409.31h-1.2M226 407.67h-2.2M226 402.6h-1.2M226 397.52h-1.2M226 394.55h-1.2M226 392.45h-1.2M226 390.81h-2.2M226 385.74h-1.2M226 380.66h-1.2M226 377.69h-1.2M226 375.58h-1.2M226 373.95h-2.2" stroke="#111" stroke-width=".6" fill="none"/>
<path d="M228 443.4v2.4M233.13 443.4v1.5M238.25 443.4v1.5M241.25 443.4v1.5M243.38 443.4v1.5M245.03 443.4v2.4M250.15 443.4v1.5M255.28 443.4v1.5M258.28 443.4v1.5M260.41 443.4v1.5M262.06 443.4v2.4M267.18 443.4v1.5M272.31 443.4v1.5M275.31 443.4v1.5M277.44 443.4v1.5M279.09 443.4v2.4M284.21 443.4v1.5M289.34 443.4v1.5M292.34 443.4v1.5M294.46 443.4v1.5M296.12 443.4v2.4" stroke="#111" stroke-width=".75" fill="none"/>
<rect x="226" y="372.4" width="71.7" height="71" fill="none" stroke="#111" stroke-width="1.2"/>
<rect x="227.5" y="374.6" width="67.9" height="21.7" fill="none" stroke="#777" stroke-width="0.8"/>
<text x="231.3" y="383.4" font-size="8.3" stroke="#111" stroke-width="0.12" textLength="11.6" lengthAdjust="spacingAndGlyphs">0.5</text>
<text x="64.8" y="441.7" font-size="10.2" stroke="#111" stroke-width="0.12" textLength="22.2" lengthAdjust="spacingAndGlyphs" transform="rotate(-90 64.8 441.7)">CD11c</text>
<line x1="62.3" y1="414.8" x2="62.3" y2="407" stroke="#111" stroke-width="1.4"/>
<path d="M62.3 401.4L65.4 408.2L62.3 407L59.2 408.2Z" fill="#111" stroke="#111" stroke-width=".3" stroke-linejoin="round"/>
<text x="78.2" y="457.2" font-size="10.2" stroke="#111" stroke-width="0.12" textLength="24.3" lengthAdjust="spacingAndGlyphs">CD11b</text>
<line x1="105.8" y1="454.3" x2="115" y2="454.3" stroke="#111" stroke-width="1.4"/>
<path d="M120.6 454.3L113.8 457.4L115 454.3L113.8 451.2Z" fill="#111" stroke="#111" stroke-width=".3" stroke-linejoin="round"/>
<line x1="73.5" y1="465.5" x2="73.5" y2="552.9" stroke="#111" stroke-width="1.3"/>
<line x1="72.9" y1="552.3" x2="159" y2="552.3" stroke="#111" stroke-width="1.3"/>
<line x1="70.5" y1="552.3" x2="73.5" y2="552.3" stroke="#111" stroke-width="1.1"/>
<text x="67.2" y="555.6" font-size="9.2" text-anchor="end" fill="#222" stroke="#222" stroke-width="0.12" textLength="4.9" lengthAdjust="spacingAndGlyphs">0</text>
<line x1="70.5" y1="524.2" x2="73.5" y2="524.2" stroke="#111" stroke-width="1.1"/>
<text x="67.2" y="527.5" font-size="9.2" text-anchor="end" fill="#222" stroke="#222" stroke-width="0.12" textLength="4.9" lengthAdjust="spacingAndGlyphs">1</text>
<line x1="70.5" y1="496.1" x2="73.5" y2="496.1" stroke="#111" stroke-width="1.1"/>
<text x="67.2" y="499.4" font-size="9.2" text-anchor="end" fill="#222" stroke="#222" stroke-width="0.12" textLength="4.9" lengthAdjust="spacingAndGlyphs">2</text>
<line x1="70.5" y1="468" x2="73.5" y2="468" stroke="#111" stroke-width="1.1"/>
<text x="67.2" y="471.3" font-size="9.2" text-anchor="end" fill="#222" stroke="#222" stroke-width="0.12" textLength="4.9" lengthAdjust="spacingAndGlyphs">3</text>
<line x1="93.5" y1="552.3" x2="93.5" y2="554.8" stroke="#111" stroke-width="1"/>
<line x1="138" y1="552.3" x2="138" y2="554.8" stroke="#111" stroke-width="1"/>
<rect x="77.7" y="530.38" width="8.3" height="21.92" fill="#fff" stroke="#111" stroke-width="1.25"/>
<line x1="81.85" y1="530.38" x2="81.85" y2="524.2" stroke="#111" stroke-width="0.9"/>
<line x1="79.65" y1="524.2" x2="84.05" y2="524.2" stroke="#111" stroke-width="0.9"/>
<circle cx="79.35" cy="483.45" r="1.65" fill="#4e1f68"/>
<circle cx="83.65" cy="488.23" r="1.65" fill="#4e1f68"/>
<circle cx="83.65" cy="515.21" r="1.65" fill="#4e1f68"/>
<circle cx="79.35" cy="519.98" r="1.65" fill="#4e1f68"/>
<circle cx="79.35" cy="530.38" r="1.65" fill="#4e1f68"/>
<circle cx="84.85" cy="531.22" r="1.65" fill="#4e1f68"/>
<circle cx="82.85" cy="532.07" r="1.65" fill="#4e1f68"/>
<circle cx="79.35" cy="536.84" r="1.65" fill="#4e1f68"/>
<circle cx="83.35" cy="539.65" r="1.65" fill="#4e1f68"/>
<circle cx="81.85" cy="543.87" r="1.65" fill="#4e1f68"/>
<circle cx="79.35" cy="545.27" r="1.65" fill="#4e1f68"/>
<circle cx="83.85" cy="546.68" r="1.65" fill="#4e1f68"/>
<circle cx="81.85" cy="550.89" r="1.65" fill="#4e1f68"/>
<rect x="89.4" y="549.49" width="8.1" height="2.81" fill="#fff" stroke="#111" stroke-width="1.25"/>
<line x1="93.45" y1="549.49" x2="93.45" y2="546.12" stroke="#111" stroke-width="0.9"/>
<line x1="91.25" y1="546.12" x2="95.65" y2="546.12" stroke="#111" stroke-width="0.9"/>
<circle cx="93.45" cy="535.44" r="1.65" fill="#e8901e"/>
<circle cx="90.95" cy="548.08" r="1.65" fill="#e8901e"/>
<circle cx="95.95" cy="548.93" r="1.65" fill="#e8901e"/>
<circle cx="93.45" cy="549.49" r="1.65" fill="#e8901e"/>
<circle cx="91.45" cy="550.89" r="1.65" fill="#e8901e"/>
<circle cx="95.45" cy="550.89" r="1.65" fill="#e8901e"/>
<rect x="102" y="550.61" width="7.6" height="1.69" fill="#fff" stroke="#111" stroke-width="1.25"/>
<line x1="105.8" y1="550.61" x2="105.8" y2="550.05" stroke="#111" stroke-width="0.9"/>
<line x1="103.6" y1="550.05" x2="108" y2="550.05" stroke="#111" stroke-width="0.9"/>
<circle cx="103.8" cy="548.93" r="1.65" fill="#6ab43e"/>
<circle cx="107.8" cy="550.05" r="1.65" fill="#6ab43e"/>
<circle cx="103.8" cy="550.89" r="1.65" fill="#6ab43e"/>
<circle cx="107.8" cy="550.89" r="1.65" fill="#6ab43e"/>
<circle cx="105.8" cy="551.18" r="1.65" fill="#6ab43e"/>
<rect x="121.9" y="546.68" width="7.7" height="5.62" fill="#fff" stroke="#111" stroke-width="1.25"/>
<line x1="125.75" y1="546.68" x2="125.75" y2="544.99" stroke="#111" stroke-width="0.9"/>
<line x1="123.55" y1="544.99" x2="127.95" y2="544.99" stroke="#111" stroke-width="0.9"/>
<circle cx="128.75" cy="537.69" r="1.65" fill="#4e1f68"/>
<circle cx="124.75" cy="540.5" r="1.65" fill="#4e1f68"/>
<circle cx="125.75" cy="542.46" r="1.65" fill="#4e1f68"/>
<circle cx="123.25" cy="544.43" r="1.65" fill="#4e1f68"/>
<circle cx="128.25" cy="546.12" r="1.65" fill="#4e1f68"/>
<circle cx="123.75" cy="547.24" r="1.65" fill="#4e1f68"/>
<circle cx="127.75" cy="548.93" r="1.65" fill="#4e1f68"/>
<circle cx="125.75" cy="550.05" r="1.65" fill="#4e1f68"/>
<circle cx="123.75" cy="550.89" r="1.65" fill="#4e1f68"/>
<rect x="134" y="550.61" width="7.7" height="1.69" fill="#fff" stroke="#111" stroke-width="1.25"/>
<line x1="137.85" y1="550.61" x2="137.85" y2="549.77" stroke="#111" stroke-width="0.9"/>
<line x1="135.65" y1="549.77" x2="140.05" y2="549.77" stroke="#111" stroke-width="0.9"/>
<circle cx="136.35" cy="548.08" r="1.65" fill="#e8901e"/>
<circle cx="139.35" cy="550.05" r="1.65" fill="#e8901e"/>
<circle cx="140.35" cy="550.61" r="1.65" fill="#e8901e"/>
<circle cx="136.85" cy="551.46" r="1.65" fill="#e8901e"/>
<rect x="146.5" y="551.74" width="7.7" height="0.56" fill="#fff" stroke="#111" stroke-width="1.25"/>
<circle cx="148.85" cy="551.74" r="1.65" fill="#6ab43e"/>
<circle cx="151.85" cy="551.74" r="1.65" fill="#6ab43e"/>
<circle cx="150.35" cy="551.74" r="1.65" fill="#6ab43e"/>
<line x1="84.6" y1="468.3" x2="106.2" y2="468.3" stroke="#111" stroke-width="1.1"/>
<path d="M92.10 463.55L92.48 464.47L93.48 464.55L92.72 465.20L92.95 466.17L92.10 465.65L91.25 466.17L91.48 465.20L90.72 464.55L91.72 464.47Z" fill="#222" stroke="#222" stroke-width=".35" stroke-linejoin="round"/>
<path d="M95.40 463.55L95.78 464.47L96.78 464.55L96.02 465.20L96.25 466.17L95.40 465.65L94.55 466.17L94.78 465.20L94.02 464.55L95.02 464.47Z" fill="#222" stroke="#222" stroke-width=".35" stroke-linejoin="round"/>
<path d="M98.70 463.55L99.08 464.47L100.08 464.55L99.32 465.20L99.55 466.17L98.70 465.65L97.85 466.17L98.08 465.20L97.32 464.55L98.32 464.47Z" fill="#222" stroke="#222" stroke-width=".35" stroke-linejoin="round"/>
<line x1="83.5" y1="477.5" x2="94.2" y2="477.5" stroke="#111" stroke-width="1.1"/>
<path d="M87.20 472.75L87.58 473.67L88.58 473.75L87.82 474.40L88.05 475.37L87.20 474.85L86.35 475.37L86.58 474.40L85.82 473.75L86.82 473.67Z" fill="#222" stroke="#222" stroke-width=".35" stroke-linejoin="round"/>
<path d="M90.50 472.75L90.88 473.67L91.88 473.75L91.12 474.40L91.35 475.37L90.50 474.85L89.65 475.37L89.88 474.40L89.12 473.75L90.12 473.67Z" fill="#222" stroke="#222" stroke-width=".35" stroke-linejoin="round"/>
<line x1="98" y1="477.5" x2="109.6" y2="477.5" stroke="#111" stroke-width="1.1"/>
<path d="M102.15 472.75L102.53 473.67L103.53 473.75L102.77 474.40L103.00 475.37L102.15 474.85L101.30 475.37L101.53 474.40L100.77 473.75L101.77 473.67Z" fill="#222" stroke="#222" stroke-width=".35" stroke-linejoin="round"/>
<path d="M105.45 472.75L105.83 473.67L106.83 473.75L106.07 474.40L106.30 475.37L105.45 474.85L104.60 475.37L104.83 474.40L104.07 473.75L105.07 473.67Z" fill="#222" stroke="#222" stroke-width=".35" stroke-linejoin="round"/>
<line x1="127.3" y1="498" x2="149.4" y2="498" stroke="#111" stroke-width="1.1"/>
<path d="M135.05 493.25L135.43 494.17L136.43 494.25L135.67 494.90L135.90 495.87L135.05 495.35L134.20 495.87L134.43 494.90L133.67 494.25L134.67 494.17Z" fill="#222" stroke="#222" stroke-width=".35" stroke-linejoin="round"/>
<path d="M138.35 493.25L138.73 494.17L139.73 494.25L138.97 494.90L139.20 495.87L138.35 495.35L137.50 495.87L137.73 494.90L136.97 494.25L137.97 494.17Z" fill="#222" stroke="#222" stroke-width=".35" stroke-linejoin="round"/>
<path d="M141.65 493.25L142.03 494.17L143.03 494.25L142.27 494.90L142.50 495.87L141.65 495.35L140.80 495.87L141.03 494.90L140.27 494.25L141.27 494.17Z" fill="#222" stroke="#222" stroke-width=".35" stroke-linejoin="round"/>
<line x1="125.8" y1="507.7" x2="137" y2="507.7" stroke="#111" stroke-width="1.1"/>
<path d="M131.40 502.95L131.78 503.87L132.78 503.95L132.02 504.60L132.25 505.57L131.40 505.05L130.55 505.57L130.78 504.60L130.02 503.95L131.02 503.87Z" fill="#222" stroke="#222" stroke-width=".35" stroke-linejoin="round"/>
<line x1="139.8" y1="507.7" x2="150.8" y2="507.7" stroke="#111" stroke-width="1.1"/>
<path d="M143.65 502.95L144.03 503.87L145.03 503.95L144.27 504.60L144.50 505.57L143.65 505.05L142.80 505.57L143.03 504.60L142.27 503.95L143.27 503.87Z" fill="#222" stroke="#222" stroke-width=".35" stroke-linejoin="round"/>
<path d="M146.95 502.95L147.33 503.87L148.33 503.95L147.57 504.60L147.80 505.57L146.95 505.05L146.10 505.57L146.33 504.60L145.57 503.95L146.57 503.87Z" fill="#222" stroke="#222" stroke-width=".35" stroke-linejoin="round"/>
<text x="70.8" y="566.8" font-size="9" fill="#222" stroke="#222" stroke-width="0.12" textLength="24.49" lengthAdjust="spacingAndGlyphs">MHCII</text>
<text x="95.84" y="563.56" font-size="6.3" fill="#222" stroke="#222" stroke-width="0.12" textLength="8.59" lengthAdjust="spacingAndGlyphs">low</text>
<text x="104.99" y="566.8" font-size="9" fill="#222" stroke="#222" stroke-width="0.12" textLength="12.01" lengthAdjust="spacingAndGlyphs">DC</text>
<text x="129" y="566.8" font-size="8.3" fill="#222" stroke="#222" stroke-width="0.12" textLength="17" lengthAdjust="spacingAndGlyphs">cDC</text>
<text x="57" y="533.8" font-size="10" fill="#222" stroke="#222" stroke-width="0.12" textLength="49.2" lengthAdjust="spacingAndGlyphs" transform="rotate(-90 57 533.8)">% in BM WBC</text>
<line x1="208.5" y1="465.8" x2="208.5" y2="552.9" stroke="#111" stroke-width="1.3"/>
<line x1="207.9" y1="552.3" x2="294" y2="552.3" stroke="#111" stroke-width="1.3"/>
<line x1="205.5" y1="552.3" x2="208.5" y2="552.3" stroke="#111" stroke-width="1.1"/>
<text x="204.6" y="555.6" font-size="9.2" text-anchor="end" fill="#222" stroke="#222" stroke-width="0.12" textLength="4.9" lengthAdjust="spacingAndGlyphs">0</text>
<line x1="205.5" y1="524.3" x2="208.5" y2="524.3" stroke="#111" stroke-width="1.1"/>
<text x="204.6" y="527.6" font-size="9.2" text-anchor="end" fill="#222" stroke="#222" stroke-width="0.12" textLength="9.8" lengthAdjust="spacingAndGlyphs">10</text>
<line x1="205.5" y1="496.3" x2="208.5" y2="496.3" stroke="#111" stroke-width="1.1"/>
<text x="204.6" y="499.6" font-size="9.2" text-anchor="end" fill="#222" stroke="#222" stroke-width="0.12" textLength="9.8" lengthAdjust="spacingAndGlyphs">20</text>
<line x1="205.5" y1="468.3" x2="208.5" y2="468.3" stroke="#111" stroke-width="1.1"/>
<text x="204.6" y="471.6" font-size="9.2" text-anchor="end" fill="#222" stroke="#222" stroke-width="0.12" textLength="9.8" lengthAdjust="spacingAndGlyphs">30</text>
<line x1="229" y1="552.3" x2="229" y2="554.8" stroke="#111" stroke-width="1"/>
<line x1="273.4" y1="552.3" x2="273.4" y2="554.8" stroke="#111" stroke-width="1"/>
<rect x="213" y="536.9" width="7.8" height="15.4" fill="#fff" stroke="#111" stroke-width="1.25"/>
<line x1="216.9" y1="536.9" x2="216.9" y2="532.7" stroke="#111" stroke-width="0.9"/>
<line x1="214.7" y1="532.7" x2="219.1" y2="532.7" stroke="#111" stroke-width="0.9"/>
<circle cx="218.9" cy="504.7" r="1.65" fill="#4e1f68"/>
<circle cx="214.9" cy="507.5" r="1.65" fill="#4e1f68"/>
<circle cx="214.9" cy="525.7" r="1.65" fill="#4e1f68"/>
<circle cx="218.9" cy="535.5" r="1.65" fill="#4e1f68"/>
<circle cx="214.9" cy="536.9" r="1.65" fill="#4e1f68"/>
<circle cx="216.9" cy="538.3" r="1.65" fill="#4e1f68"/>
<circle cx="218.9" cy="541.1" r="1.65" fill="#4e1f68"/>
<circle cx="214.9" cy="543.9" r="1.65" fill="#4e1f68"/>
<circle cx="216.9" cy="546.7" r="1.65" fill="#4e1f68"/>
<circle cx="218.9" cy="548.1" r="1.65" fill="#4e1f68"/>
<circle cx="214.9" cy="549.5" r="1.65" fill="#4e1f68"/>
<circle cx="216.9" cy="550.9" r="1.65" fill="#4e1f68"/>
<rect x="225.4" y="547.26" width="7.1" height="5.04" fill="#fff" stroke="#111" stroke-width="1.25"/>
<line x1="228.95" y1="547.26" x2="228.95" y2="545.02" stroke="#111" stroke-width="0.9"/>
<line x1="226.75" y1="545.02" x2="231.15" y2="545.02" stroke="#111" stroke-width="0.9"/>
<circle cx="228.95" cy="532.7" r="1.65" fill="#e8901e"/>
<circle cx="226.95" cy="546.7" r="1.65" fill="#e8901e"/>
<circle cx="230.95" cy="548.1" r="1.65" fill="#e8901e"/>
<circle cx="228.95" cy="549.5" r="1.65" fill="#e8901e"/>
<circle cx="226.95" cy="550.9" r="1.65" fill="#e8901e"/>
<circle cx="230.95" cy="550.9" r="1.65" fill="#e8901e"/>
<rect x="237.7" y="550.06" width="7.7" height="2.24" fill="#fff" stroke="#111" stroke-width="1.25"/>
<line x1="241.55" y1="550.06" x2="241.55" y2="549.22" stroke="#111" stroke-width="0.9"/>
<line x1="239.35" y1="549.22" x2="243.75" y2="549.22" stroke="#111" stroke-width="0.9"/>
<circle cx="241.55" cy="541.94" r="1.65" fill="#6ab43e"/>
<circle cx="239.55" cy="549.5" r="1.65" fill="#6ab43e"/>
<circle cx="243.55" cy="550.06" r="1.65" fill="#6ab43e"/>
<circle cx="241.55" cy="550.9" r="1.65" fill="#6ab43e"/>
<circle cx="239.55" cy="551.46" r="1.65" fill="#6ab43e"/>
<rect x="257.7" y="548.1" width="6.8" height="4.2" fill="#fff" stroke="#111" stroke-width="1.25"/>
<line x1="261.1" y1="548.1" x2="261.1" y2="546.7" stroke="#111" stroke-width="0.9"/>
<line x1="258.9" y1="546.7" x2="263.3" y2="546.7" stroke="#111" stroke-width="0.9"/>
<circle cx="263.1" cy="542.5" r="1.65" fill="#4e1f68"/>
<circle cx="259.1" cy="545.3" r="1.65" fill="#4e1f68"/>
<circle cx="261.1" cy="546.7" r="1.65" fill="#4e1f68"/>
<circle cx="259.1" cy="548.1" r="1.65" fill="#4e1f68"/>
<circle cx="263.1" cy="549.5" r="1.65" fill="#4e1f68"/>
<circle cx="261.1" cy="550.9" r="1.65" fill="#4e1f68"/>
<rect x="270" y="550.06" width="6.8" height="2.24" fill="#fff" stroke="#111" stroke-width="1.25"/>
<line x1="273.4" y1="550.06" x2="273.4" y2="549.22" stroke="#111" stroke-width="0.9"/>
<line x1="271.2" y1="549.22" x2="275.6" y2="549.22" stroke="#111" stroke-width="0.9"/>
<circle cx="271.9" cy="548.1" r="1.65" fill="#e8901e"/>
<circle cx="274.9" cy="549.5" r="1.65" fill="#e8901e"/>
<circle cx="273.4" cy="550.9" r="1.65" fill="#e8901e"/>
<rect x="282.3" y="550.9" width="6.7" height="1.4" fill="#fff" stroke="#111" stroke-width="1.25"/>
<line x1="285.65" y1="550.9" x2="285.65" y2="550.62" stroke="#111" stroke-width="0.9"/>
<line x1="283.45" y1="550.62" x2="287.85" y2="550.62" stroke="#111" stroke-width="0.9"/>
<circle cx="284.15" cy="550.06" r="1.65" fill="#6ab43e"/>
<circle cx="287.15" cy="550.62" r="1.65" fill="#6ab43e"/>
<circle cx="285.65" cy="551.18" r="1.65" fill="#6ab43e"/>
<line x1="216.9" y1="482.5" x2="238.5" y2="482.5" stroke="#111" stroke-width="1.1"/>
<path d="M224.40 477.75L224.78 478.67L225.78 478.75L225.02 479.40L225.25 480.37L224.40 479.85L223.55 480.37L223.78 479.40L223.02 478.75L224.02 478.67Z" fill="#222" stroke="#222" stroke-width=".35" stroke-linejoin="round"/>
<path d="M227.70 477.75L228.08 478.67L229.08 478.75L228.32 479.40L228.55 480.37L227.70 479.85L226.85 480.37L227.08 479.40L226.32 478.75L227.32 478.67Z" fill="#222" stroke="#222" stroke-width=".35" stroke-linejoin="round"/>
<path d="M231.00 477.75L231.38 478.67L232.38 478.75L231.62 479.40L231.85 480.37L231.00 479.85L230.15 480.37L230.38 479.40L229.62 478.75L230.62 478.67Z" fill="#222" stroke="#222" stroke-width=".35" stroke-linejoin="round"/>
<line x1="216" y1="492.3" x2="227" y2="492.3" stroke="#111" stroke-width="1.1"/>
<path d="M221.50 487.55L221.88 488.47L222.88 488.55L222.12 489.20L222.35 490.17L221.50 489.65L220.65 490.17L220.88 489.20L220.12 488.55L221.12 488.47Z" fill="#222" stroke="#222" stroke-width=".35" stroke-linejoin="round"/>
<line x1="257.7" y1="524" x2="279.2" y2="524" stroke="#111" stroke-width="1.1"/>
<path d="M265.15 519.25L265.53 520.17L266.53 520.25L265.77 520.90L266.00 521.87L265.15 521.35L264.30 521.87L264.53 520.90L263.77 520.25L264.77 520.17Z" fill="#222" stroke="#222" stroke-width=".35" stroke-linejoin="round"/>
<path d="M268.45 519.25L268.83 520.17L269.83 520.25L269.07 520.90L269.30 521.87L268.45 521.35L267.60 521.87L267.83 520.90L267.07 520.25L268.07 520.17Z" fill="#222" stroke="#222" stroke-width=".35" stroke-linejoin="round"/>
<path d="M271.75 519.25L272.13 520.17L273.13 520.25L272.37 520.90L272.60 521.87L271.75 521.35L270.90 521.87L271.13 520.90L270.37 520.25L271.37 520.17Z" fill="#222" stroke="#222" stroke-width=".35" stroke-linejoin="round"/>
<line x1="270" y1="533.8" x2="280.8" y2="533.8" stroke="#111" stroke-width="1.1"/>
<path d="M275.40 529.05L275.78 529.97L276.78 530.05L276.02 530.70L276.25 531.67L275.40 531.15L274.55 531.67L274.78 530.70L274.02 530.05L275.02 529.97Z" fill="#222" stroke="#222" stroke-width=".35" stroke-linejoin="round"/>
<text x="206.3" y="566.8" font-size="9" fill="#222" stroke="#222" stroke-width="0.12" textLength="23.96" lengthAdjust="spacingAndGlyphs">MHCII</text>
<text x="230.8" y="563.56" font-size="6.3" fill="#222" stroke="#222" stroke-width="0.12" textLength="8.41" lengthAdjust="spacingAndGlyphs">low</text>
<text x="239.75" y="566.8" font-size="9" fill="#222" stroke="#222" stroke-width="0.12" textLength="11.75" lengthAdjust="spacingAndGlyphs">DC</text>
<text x="265.4" y="566.8" font-size="8.3" fill="#222" stroke="#222" stroke-width="0.12" textLength="16.3" lengthAdjust="spacingAndGlyphs">cDC</text>
<text x="188.5" y="541.5" font-size="10" fill="#222" stroke="#222" stroke-width="0.12" textLength="61" lengthAdjust="spacingAndGlyphs" transform="rotate(-90 188.5 541.5)">Total number x10</text>
<text x="184.6" y="480.2" font-size="7" fill="#222" stroke="#222" stroke-width="0.12" textLength="4" lengthAdjust="spacingAndGlyphs" transform="rotate(-90 184.6 480.2)">4</text>
<text x="324.3" y="353.8" font-size="12" font-weight="bold" fill="#000" stroke="#000" stroke-width=".35">H</text>
<text x="338.6" y="366.6" font-size="9" stroke="#111" stroke-width="0.12" textLength="24.49" lengthAdjust="spacingAndGlyphs">MHCII</text>
<text x="363.64" y="363.36" font-size="6.3" stroke="#111" stroke-width="0.12" textLength="8.59" lengthAdjust="spacingAndGlyphs">low</text>
<text x="372.79" y="366.6" font-size="9" stroke="#111" stroke-width="0.12" textLength="12.01" lengthAdjust="spacingAndGlyphs">DC</text>
<text x="389.8" y="366.6" font-size="9" stroke="#111" stroke-width="0.12" textLength="16.6" lengthAdjust="spacingAndGlyphs">cDC</text>
<path d="M338.25 443.25v2.4M343.43 443.25v1.5M348.62 443.25v1.5M351.65 443.25v1.5M353.8 443.25v1.5M355.47 443.25v2.4M360.65 443.25v1.5M365.84 443.25v1.5M368.87 443.25v1.5M371.02 443.25v1.5M372.69 443.25v2.4M377.87 443.25v1.5M383.05 443.25v1.5M386.09 443.25v1.5M388.24 443.25v1.5M389.91 443.25v2.4M395.09 443.25v1.5M400.27 443.25v1.5M403.31 443.25v1.5M405.46 443.25v1.5M407.12 443.25v2.4" stroke="#111" stroke-width=".75" fill="none"/>
<clipPath id="cH"><rect x="336.25" y="371.25" width="72.5" height="72"/></clipPath><g clip-path="url(#cH)">
<path d="M336.25 443.25L336.25 443.25L336.74 443.25L337.22 443.25L337.71 443.25L338.2 443.25L338.68 443.25L339.17 443.25L339.66 443.25L340.14 443.25L340.63 443.25L341.12 443.24L341.6 443.24L342.09 443.24L342.58 443.22L343.06 443.21L343.55 443.19L344.04 443.14L344.52 443.09L345.01 443.02L345.49 442.89L345.98 442.7L346.47 442.47L346.95 442.15L347.44 441.66L347.93 441.08L348.41 440.45L348.9 439.45L349.39 437.99L349.87 436.82L350.36 436L350.85 434.62L351.33 433.21L351.82 431.99L352.31 430.17L352.79 428.5L353.28 428.3L353.77 428.7L354.25 428.22L354.74 427.5L355.23 427.56L355.71 428.4L356.2 429.12L356.69 429.54L357.17 430.66L357.66 431.7L358.15 431.75L358.63 432.28L359.12 433.49L359.61 434.26L360.09 434.18L360.58 434.27L361.07 435.38L361.55 436.09L362.04 435.97L362.53 436.06L363.01 436.57L363.5 436.91L363.98 436.77L364.47 437.29L364.96 438.1L365.44 437.72L365.93 437.45L366.42 438.08L366.9 438.46L367.39 438.1L367.88 437.86L368.36 438.03L368.85 438.23L369.34 438.65L369.82 439.14L370.31 439.28L370.8 439.36L371.28 439.71L371.77 439.93L372.26 439.95L372.74 439.99L373.23 440.19L373.72 440.48L374.2 440.46L374.69 440.3L375.18 440.41L375.66 440.61L376.15 440.69L376.64 440.78L377.12 440.83L377.61 440.8L378.1 440.86L378.58 441L379.07 441.1L379.56 441.26L380.04 441.38L380.53 441.43L381.02 441.6L381.5 441.72L381.99 441.78L382.47 441.92L382.96 442.03L383.45 442.14L383.93 442.32L384.42 442.39L384.91 442.41L385.39 442.43L385.88 442.39L386.37 442.23L386.85 441.95L387.34 441.52L387.83 440.93L388.31 440.17L388.8 439.34L389.29 438.64L389.77 438.13L390.26 437.86L390.75 437.89L391.23 438.26L391.72 438.81L392.21 439.44L392.69 440.21L393.18 441.03L393.67 441.61L394.15 442L394.64 442.27L395.13 442.41L395.61 442.49L396.1 442.52L396.59 442.49L397.07 442.5L397.56 442.54L398.05 442.58L398.53 442.6L399.02 442.61L399.51 442.64L399.99 442.68L400.48 442.74L400.96 442.83L401.45 442.9L401.94 442.93L402.42 442.99L402.91 443.06L403.4 443.11L403.88 443.14L404.37 443.17L404.86 443.19L405.34 443.21L405.83 443.22L406.32 443.23L406.8 443.24L407.29 443.24L407.78 443.25L408.26 443.25L408.75 443.25L408.75 443.25Z" fill="#a9d38e" stroke="#77b855" stroke-width="0.8" stroke-linejoin="round"/>
<path d="M336.25 419.5L336.25 419.5L336.74 419.49L337.22 419.49L337.71 419.49L338.2 419.48L338.68 419.48L339.17 419.47L339.66 419.46L340.14 419.45L340.63 419.44L341.12 419.42L341.6 419.4L342.09 419.37L342.58 419.34L343.06 419.3L343.55 419.24L344.04 419.17L344.52 419.09L345.01 418.98L345.49 418.79L345.98 418.55L346.47 418.3L346.95 418.03L347.44 417.73L347.93 417.34L348.41 416.78L348.9 415.98L349.39 414.9L349.87 413.6L350.36 411.77L350.85 409.8L351.33 408.26L351.82 406.52L352.31 404.34L352.79 402.53L353.28 401.02L353.77 400L354.25 400.72L354.74 401.51L355.23 401.63L355.71 401.91L356.2 402.27L356.69 403.1L357.17 403.8L357.66 404.68L358.15 406.04L358.63 406.29L359.12 406.49L359.61 407.45L360.09 407.53L360.58 406.54L361.07 405.83L361.55 406.08L362.04 406.6L362.53 406.93L363.01 407.12L363.5 406.94L363.98 406.39L364.47 406.17L364.96 406.75L365.44 407.3L365.93 407.02L366.42 407.31L366.9 408.16L367.39 408.15L367.88 408.03L368.36 408.36L368.85 408.9L369.34 409.02L369.82 408.78L370.31 408.89L370.8 409.18L371.28 409.2L371.77 408.76L372.26 408.82L372.74 409.44L373.23 409.67L373.72 409.74L374.2 409.61L374.69 409.48L375.18 409.85L375.66 410.43L376.15 410.53L376.64 409.9L377.12 410.01L377.61 410.75L378.1 410.64L378.58 410.65L379.07 410.63L379.56 409.96L380.04 409.57L380.53 409.74L381.02 410.43L381.5 411.01L381.99 411.05L382.47 410.98L382.96 411.07L383.45 410.6L383.93 409.88L384.42 409.67L384.91 409.67L385.39 409.69L385.88 409.7L386.37 410.11L386.85 410.45L387.34 410.29L387.83 410.58L388.31 411.37L388.8 411.7L389.29 412.05L389.77 413.01L390.26 413.6L390.75 413.75L391.23 414.11L391.72 414.72L392.21 415.12L392.69 415.16L393.18 415.47L393.67 415.81L394.15 415.93L394.64 416.41L395.13 417.14L395.61 417.61L396.1 417.9L396.59 418.26L397.07 418.61L397.56 418.91L398.05 419.14L398.53 419.28L399.02 419.38L399.51 419.44L399.99 419.47L400.48 419.48L400.96 419.49L401.45 419.5L401.94 419.5L402.42 419.5L402.91 419.5L403.4 419.5L403.88 419.5L404.37 419.5L404.86 419.5L405.34 419.5L405.83 419.5L406.32 419.5L406.8 419.5L407.29 419.5L407.78 419.5L408.26 419.5L408.75 419.5L408.75 419.5Z" fill="#efc48c" stroke="#e6a048" stroke-width="0.8" stroke-linejoin="round"/>
<path d="M336.25 395.5L336.25 395.5L336.74 395.5L337.22 395.5L337.71 395.5L338.2 395.5L338.68 395.5L339.17 395.5L339.66 395.5L340.14 395.5L340.63 395.5L341.12 395.5L341.6 395.5L342.09 395.5L342.58 395.5L343.06 395.5L343.55 395.5L344.04 395.49L344.52 395.49L345.01 395.49L345.49 395.48L345.98 395.47L346.47 395.45L346.95 395.43L347.44 395.4L347.93 395.37L348.41 395.32L348.9 395.25L349.39 395.17L349.87 395.05L350.36 394.9L350.85 394.7L351.33 394.45L351.82 394.16L352.31 393.81L352.79 393.4L353.28 392.91L353.77 392.24L354.25 391.44L354.74 390.59L355.23 389.73L355.71 388.82L356.2 387.62L356.69 386.21L357.17 384.91L357.66 383.71L358.15 382.49L358.63 381.3L359.12 380.24L359.61 379.13L360.09 378.01L360.58 376.95L361.07 375.74L361.55 374.77L362.04 374.5L362.53 374.78L363.01 374.85L363.5 374.65L363.98 374.93L364.47 375.68L364.96 376.06L365.44 376.38L365.93 377.27L366.42 378.42L366.9 379.48L367.39 380.19L367.88 380.75L368.36 381.76L368.85 382.91L369.34 383.67L369.82 384.44L370.31 385.1L370.8 385.51L371.28 386.26L371.77 387.15L372.26 387.72L372.74 388.19L373.23 388.72L373.72 389.11L374.2 389.51L374.69 390L375.18 390.34L375.66 390.69L376.15 391.09L376.64 391.38L377.12 391.66L377.61 391.97L378.1 392.23L378.58 392.42L379.07 392.6L379.56 392.73L380.04 392.82L380.53 392.92L381.02 392.97L381.5 392.89L381.99 392.84L382.47 392.8L382.96 392.75L383.45 392.71L383.93 392.65L384.42 392.61L384.91 392.63L385.39 392.58L385.88 392.51L386.37 392.49L386.85 392.51L387.34 392.52L387.83 392.5L388.31 392.5L388.8 392.55L389.29 392.62L389.77 392.69L390.26 392.76L390.75 392.9L391.23 393.11L391.72 393.3L392.21 393.46L392.69 393.61L393.18 393.77L393.67 393.97L394.15 394.18L394.64 394.39L395.13 394.57L395.61 394.73L396.1 394.89L396.59 395.03L397.07 395.13L397.56 395.22L398.05 395.29L398.53 395.35L399.02 395.39L399.51 395.42L399.99 395.45L400.48 395.47L400.96 395.48L401.45 395.49L401.94 395.49L402.42 395.49L402.91 395.5L403.4 395.5L403.88 395.5L404.37 395.5L404.86 395.5L405.34 395.5L405.83 395.5L406.32 395.5L406.8 395.5L407.29 395.5L407.78 395.5L408.26 395.5L408.75 395.5L408.75 395.5Z" fill="#a38bb7" stroke="#755394" stroke-width="0.8" stroke-linejoin="round"/>
</g>
<line x1="380.5" y1="371.25" x2="380.5" y2="443.25" stroke="#444" stroke-width=".7" stroke-dasharray="1 1"/>
<rect x="336.25" y="371.25" width="72.5" height="72" fill="none" stroke="#111" stroke-width="1.1"/>
<text x="412" y="390" font-size="8.3" stroke="#111" stroke-width="0.12" textLength="51" lengthAdjust="spacingAndGlyphs">MM-relapsed</text>
<text x="412" y="415" font-size="8.3" stroke="#111" stroke-width="0.12" textLength="57" lengthAdjust="spacingAndGlyphs">MM-controlled</text>
<text x="412" y="439.5" font-size="8.3" stroke="#111" stroke-width="0.12" textLength="33" lengthAdjust="spacingAndGlyphs">MM-free</text>
<text x="360.5" y="459.5" font-size="10" fill="#222" stroke="#222" stroke-width="0.12" textLength="24" lengthAdjust="spacingAndGlyphs">MHC II</text>
<text x="323.8" y="474.6" font-size="12" font-weight="bold" fill="#000" stroke="#000" stroke-width=".35">I</text>
<line x1="341.2" y1="473.3" x2="349.8" y2="473.3" stroke="#c8c8c8" stroke-width="1.3"/>
<text x="353.7" y="476.1" font-size="8.3" fill="#222" stroke="#222" stroke-width="0.12" textLength="38.4" lengthAdjust="spacingAndGlyphs">Neutrophil</text>
<line x1="395" y1="473.3" x2="403.7" y2="473.3" stroke="#7a8fb8" stroke-width="1.3"/>
<text x="407.3" y="476.1" font-size="8.3" fill="#222" stroke="#222" stroke-width="0.12" textLength="15.3" lengthAdjust="spacingAndGlyphs">cDC</text>
<line x1="427" y1="473.3" x2="434.3" y2="473.3" stroke="#111" stroke-width="1.3"/>
<text x="437.5" y="476.1" font-size="9" fill="#222" stroke="#222" stroke-width="0.12" textLength="23" lengthAdjust="spacingAndGlyphs">MHCII</text>
<text x="461.02" y="472.86" font-size="6.3" fill="#222" stroke="#222" stroke-width="0.12" textLength="8.07" lengthAdjust="spacingAndGlyphs">low</text>
<text x="469.62" y="476.1" font-size="9" fill="#222" stroke="#222" stroke-width="0.12" textLength="11.28" lengthAdjust="spacingAndGlyphs">DC</text>
<path d="M336.7 550.4h-2.2M336.7 545.31h-1.2M336.7 540.22h-1.2M336.7 537.24h-1.2M336.7 535.13h-1.2M336.7 533.49h-2.2M336.7 528.4h-1.2M336.7 523.31h-1.2M336.7 520.33h-1.2M336.7 518.22h-1.2M336.7 516.58h-2.2M336.7 511.49h-1.2M336.7 506.4h-1.2M336.7 503.42h-1.2M336.7 501.31h-1.2M336.7 499.67h-2.2M336.7 494.58h-1.2M336.7 489.49h-1.2M336.7 486.51h-1.2M336.7 484.4h-1.2M336.7 482.76h-2.2" stroke="#111" stroke-width=".6" fill="none"/>
<path d="M338.7 552.4v2.4M343.87 552.4v1.5M349.04 552.4v1.5M352.06 552.4v1.5M354.21 552.4v1.5M355.87 552.4v2.4M361.04 552.4v1.5M366.21 552.4v1.5M369.23 552.4v1.5M371.38 552.4v1.5M373.04 552.4v2.4M378.21 552.4v1.5M383.38 552.4v1.5M386.4 552.4v1.5M388.55 552.4v1.5M390.21 552.4v2.4M395.38 552.4v1.5M400.55 552.4v1.5M403.58 552.4v1.5M405.72 552.4v1.5M407.38 552.4v2.4" stroke="#111" stroke-width=".75" fill="none"/>
<clipPath id="cI336"><rect x="336.7" y="481.2" width="72.3" height="71.2"/></clipPath><g clip-path="url(#cI336)">
<path d="M343.0 552.4L343.0 552.4L343.0 552.4L343.2 551.9L343.6 551.0L344.1 549.6L344.9 547.8L345.6 545.5L346.3 542.6L346.9 539.4L347.6 535.6L348.2 531.2L348.7 526.2L349.2 520.6L349.8 514.4L350.2 508.4L350.7 502.8L351.2 497.4L351.6 492.4L352.1 489.0L352.5 487.4L352.9 487.5L353.4 489.3L353.8 492.1L354.3 495.9L354.8 500.6L355.2 506.4L355.8 512.1L356.3 517.9L356.9 523.6L357.6 529.4L358.2 534.3L358.7 538.4L359.2 541.8L359.8 544.2L360.2 546.4L360.7 548.2L361.1 549.7L361.4 550.8L361.7 551.6L361.9 552.1L362.0 552.4L362.0 552.4L362.0 552.4Z" fill="#d6d6d6" stroke="#c6c6c6" stroke-width="0.4" stroke-linejoin="round"/>
<path d="M342.1 552.0L346.1 551.8L349.1 550.3L351.1 547.5L352.8 543.2L354.2 537.8L355.6 531.2L356.9 523.8L357.8 515.5L358.4 506.5L359.1 500.8L360.1 498.2L360.9 496.0L361.6 494.0L362.3 494.1L362.9 496.4L363.4 498.2L363.8 499.8L364.4 500.2L365.1 499.8L365.8 500.9L366.5 503.6L367.2 507.2L368.1 511.8L368.9 516.0L369.6 520.0L370.5 524.0L371.5 528.0L372.4 532.0L373.3 536.0L374.1 540.0L375.1 544.0L375.8 547.2L376.4 549.8L377.0 551.2L377.7 551.8L385.5 552.0L400.5 552.0" fill="none" stroke="#7b90bd" stroke-width="1" stroke-linejoin="round"/>
<path d="M342.0 552.0L346.0 551.8L348.8 551.6L350.2 551.2L351.8 549.8L353.2 547.2L354.6 543.8L355.9 539.2L356.9 534.2L357.6 528.8L358.4 522.6L359.1 515.9L359.9 511.8L360.6 510.2L361.4 509.1L362.1 508.4L362.8 508.2L363.4 508.8L363.9 508.5L364.4 507.5L365.1 506.9L365.8 506.6L366.4 507.5L366.9 509.5L367.3 511.9L367.6 514.6L367.9 519.0L368.4 525.0L369.0 531.2L369.7 537.8L370.3 542.8L370.9 546.2L371.4 548.9L371.9 550.6L372.6 551.6L373.6 551.9L382.5 552.0L399.5 552.0" fill="none" stroke="#111" stroke-width="1.2" stroke-linejoin="round"/>
</g>
<rect x="336.7" y="481.2" width="72.3" height="71.2" fill="none" stroke="#111" stroke-width="1.1"/>
<text x="365.6" y="568" font-size="10" fill="#222" stroke="#222" stroke-width="0.12" textLength="19" lengthAdjust="spacingAndGlyphs">FLT3</text>
<path d="M416 550.4h-2.2M416 545.31h-1.2M416 540.22h-1.2M416 537.24h-1.2M416 535.13h-1.2M416 533.49h-2.2M416 528.4h-1.2M416 523.31h-1.2M416 520.33h-1.2M416 518.22h-1.2M416 516.58h-2.2M416 511.49h-1.2M416 506.4h-1.2M416 503.42h-1.2M416 501.31h-1.2M416 499.67h-2.2M416 494.58h-1.2M416 489.49h-1.2M416 486.51h-1.2M416 484.4h-1.2M416 482.76h-2.2" stroke="#111" stroke-width=".6" fill="none"/>
<path d="M418 552.4v2.4M423.29 552.4v1.5M428.58 552.4v1.5M431.68 552.4v1.5M433.87 552.4v1.5M435.57 552.4v2.4M440.87 552.4v1.5M446.16 552.4v1.5M449.25 552.4v1.5M451.45 552.4v1.5M453.15 552.4v2.4M458.44 552.4v1.5M463.73 552.4v1.5M466.83 552.4v1.5M469.02 552.4v1.5M470.73 552.4v2.4M476.02 552.4v1.5M481.31 552.4v1.5M484.4 552.4v1.5M486.6 552.4v1.5M488.3 552.4v2.4" stroke="#111" stroke-width=".75" fill="none"/>
<clipPath id="cI416"><rect x="416" y="481.2" width="74" height="71.2"/></clipPath><g clip-path="url(#cI416)">
<path d="M429.5 552.4L429.5 552.4L429.5 552.4L429.7 551.6L430.0 550.1L430.4 547.8L431.1 544.7L431.7 540.8L432.2 536.1L432.8 530.6L433.2 524.4L433.7 518.4L434.2 512.8L434.7 507.5L435.1 502.5L435.5 498.1L435.9 494.5L436.3 491.4L436.5 489.0L436.9 487.6L437.2 487.2L437.6 487.9L437.9 489.5L438.3 492.2L438.8 495.9L439.2 500.6L439.8 506.4L440.3 511.9L440.8 517.3L441.4 522.5L442.1 527.5L442.7 532.0L443.4 536.0L444.1 539.5L444.9 542.5L445.6 545.1L446.4 547.3L447.1 549.0L447.9 550.4L448.4 551.4L448.8 552.1L449.0 552.4L449.0 552.4L449.0 552.4Z" fill="#d6d6d6" stroke="#c6c6c6" stroke-width="0.4" stroke-linejoin="round"/>
<path d="M418.4 552.0L421.3 551.8L423.3 551.3L424.4 550.5L426.2 548.8L428.8 546.2L431.0 542.8L433.0 538.2L435.0 533.2L437.0 527.8L438.8 521.8L440.2 515.2L441.8 508.8L443.2 502.2L444.6 497.5L445.9 494.5L446.9 493.2L447.6 493.8L448.4 492.6L449.4 490.0L450.1 489.5L450.7 491.1L451.4 494.0L452.1 498.0L452.9 502.5L453.6 507.5L454.5 513.0L455.5 519.0L456.5 525.2L457.5 531.8L458.5 537.5L459.5 542.5L460.7 546.6L462.2 549.9L463.7 551.6L465.2 551.9L471.8 552.0L483.2 552.0" fill="none" stroke="#7b90bd" stroke-width="1" stroke-linejoin="round"/>
<path d="M418.0 552.0L420.0 551.8L422.2 551.3L424.8 550.5L427.0 548.5L429.0 545.5L430.8 542.0L432.2 538.0L433.8 533.8L435.2 529.2L436.6 524.8L437.9 520.2L439.0 516.0L440.0 512.0L441.0 509.2L442.0 507.8L442.9 506.8L443.6 506.2L444.4 505.0L445.1 503.0L445.9 501.6L446.6 500.9L447.3 499.8L448.0 498.2L448.5 498.9L449.0 501.6L449.5 502.5L450.2 501.5L450.7 503.0L451.1 507.0L451.6 509.8L452.2 511.2L452.9 514.5L453.6 519.5L454.5 524.8L455.5 530.2L456.5 535.2L457.5 539.8L458.5 543.4L459.5 546.1L460.5 548.2L461.5 549.8L462.8 550.9L464.2 551.6L471.0 552.0L483.0 552.0" fill="none" stroke="#111" stroke-width="1.2" stroke-linejoin="round"/>
</g>
<rect x="416" y="481.2" width="74" height="71.2" fill="none" stroke="#111" stroke-width="1.1"/>
<text x="442.8" y="568" font-size="10" fill="#222" stroke="#222" stroke-width="0.12" textLength="19" lengthAdjust="spacingAndGlyphs">CD80</text>
<text x="7.7" y="588.6" font-size="12" font-weight="bold" fill="#000" stroke="#000" stroke-width=".35">J</text>
<text x="106" y="597.5" font-size="8.3" stroke="#111" stroke-width="0.12" textLength="12.5" lengthAdjust="spacingAndGlyphs">M&#981;</text>
<text x="171" y="599.3" font-size="9" stroke="#111" stroke-width="0.12" textLength="24.27" lengthAdjust="spacingAndGlyphs">MHCII</text>
<text x="195.82" y="596.06" font-size="6.3" stroke="#111" stroke-width="0.12" textLength="8.52" lengthAdjust="spacingAndGlyphs">low</text>
<text x="204.89" y="599.3" font-size="9" stroke="#111" stroke-width="0.12" textLength="11.91" lengthAdjust="spacingAndGlyphs">DC</text>
<text x="266.3" y="599.3" font-size="8.3" stroke="#111" stroke-width="0.12" textLength="16.3" lengthAdjust="spacingAndGlyphs">cDC</text>
<text x="70.2" y="625.9" font-size="8.3" text-anchor="end" stroke="#111" stroke-width="0.12" textLength="51.2" lengthAdjust="spacingAndGlyphs">Reporter neg</text>
<text x="70.2" y="642.7" font-size="8.3" text-anchor="end" stroke="#111" stroke-width="0.12" textLength="50.5" lengthAdjust="spacingAndGlyphs">MM-relapsed</text>
<text x="70.2" y="660.1" font-size="8.3" text-anchor="end" stroke="#111" stroke-width="0.12" textLength="57.2" lengthAdjust="spacingAndGlyphs">MM-controlled</text>
<text x="70.2" y="678.8" font-size="8.3" text-anchor="end" stroke="#111" stroke-width="0.12" textLength="33.2" lengthAdjust="spacingAndGlyphs">MM-free</text>
<path d="M75.2 682.4v2.4M80.79 682.4v1.5M86.38 682.4v1.5M89.65 682.4v1.5M91.97 682.4v1.5M93.77 682.4v2.4M99.36 682.4v1.5M104.95 682.4v1.5M108.22 682.4v1.5M110.55 682.4v1.5M112.34 682.4v2.4M117.94 682.4v1.5M123.53 682.4v1.5M126.8 682.4v1.5M129.12 682.4v1.5M130.92 682.4v2.4M136.51 682.4v1.5M142.1 682.4v1.5M145.37 682.4v1.5M147.69 682.4v1.5M149.49 682.4v2.4" stroke="#111" stroke-width=".75" fill="none"/>
<clipPath id="cJ0"><rect x="73.2" y="603.7" width="78.2" height="78.7"/></clipPath><g clip-path="url(#cJ0)">
<path d="M73.2 635.6L73.2 635.6L73.2 635.6L73.8 635.6L74.9 635.6L76.5 635.6L78.7 635.6L80.5 635.6L81.8 635.5L82.7 635.5L83.2 635.4L83.7 634.7L84.2 633.3L84.8 631.2L85.4 628.5L86.0 625.8L86.5 623.0L87.0 620.2L87.5 617.3L88.0 614.9L88.5 613.0L88.9 611.5L89.3 610.5L89.7 609.8L90.0 609.2L90.4 609.0L90.7 609.0L91.1 609.5L91.4 610.4L91.8 611.7L92.3 613.6L92.7 615.5L93.2 617.7L93.8 620.0L94.4 622.4L95.1 624.6L95.8 626.6L96.5 628.3L97.4 629.7L98.2 630.9L99.2 631.8L100.1 632.5L101.2 632.9L102.4 633.2L104.0 633.6L105.7 633.8L107.8 634.0L109.8 634.2L111.8 634.4L113.9 634.6L115.9 634.8L117.8 635.0L119.4 635.1L120.9 635.3L122.1 635.4L124.8 635.5L128.8 635.6L134.3 635.6L141.1 635.6L146.3 635.6L149.7 635.6L151.4 635.6L151.4 635.6L151.4 635.6Z" fill="#dadada" fill-opacity="1" stroke="#d0d0d0" stroke-width="0.8" stroke-linejoin="round"/>
<path d="M73.2 651.5L73.2 651.5L73.2 651.5L73.7 651.5L74.7 651.5L76.1 651.5L78.1 651.5L79.7 651.5L80.9 651.4L81.8 651.4L82.3 651.3L82.9 650.6L83.6 649.3L84.3 647.3L85.1 644.8L85.8 641.8L86.5 638.8L87.0 635.4L87.5 631.6L88.0 628.5L88.5 627.2L88.9 624.1L89.3 623.3L89.7 623.1L90.1 624.0L90.5 622.8L91.0 623.8L91.4 623.9L91.9 626.5L92.4 628.3L92.9 630.2L93.5 633.7L94.2 635.2L94.9 637.1L95.8 639.5L96.6 640.7L97.5 641.8L98.5 642.8L99.5 643.5L100.7 644.3L102.0 645.3L103.5 645.8L105.1 646.4L106.8 647.1L108.4 647.7L110.0 648.1L111.7 648.6L113.2 649.2L114.6 649.7L115.9 650.1L117.2 650.5L118.3 650.7L119.3 651.0L120.1 651.2L120.9 651.3L123.3 651.4L127.3 651.5L133.0 651.5L140.4 651.5L145.9 651.5L149.6 651.5L151.4 651.5L151.4 651.5L151.4 651.5Z" fill="#9174a8" fill-opacity="0.85" stroke="#5d2f78" stroke-width="0.8" stroke-linejoin="round"/>
<path d="M73.2 667.2L73.2 667.2L73.2 667.2L73.8 667.2L74.9 667.2L76.5 667.2L78.7 667.2L80.5 667.2L81.8 667.2L82.7 667.1L83.2 667.1L83.8 665.9L84.4 663.5L85.1 660.2L86.0 655.7L86.7 651.6L87.4 648.6L87.9 644.9L88.4 643.2L88.8 640.9L89.3 640.0L89.7 639.4L90.2 638.8L90.6 639.0L91.0 639.2L91.4 639.1L91.8 641.1L92.2 643.3L92.7 645.1L93.2 648.1L93.7 650.6L94.3 653.5L94.8 656.3L95.4 658.3L96.1 660.2L96.8 661.8L97.6 662.9L98.5 663.7L99.5 664.3L100.7 664.6L102.0 664.7L103.5 664.8L105.1 664.7L106.8 664.6L108.4 664.8L110.0 664.9L111.7 665.3L113.2 665.6L114.6 665.8L115.9 666.1L117.2 666.4L118.3 666.5L119.3 666.7L120.1 666.9L120.9 667.0L123.3 667.1L127.3 667.2L133.0 667.2L140.4 667.2L145.9 667.2L149.6 667.2L151.4 667.2L151.4 667.2L151.4 667.2Z" fill="#ebb36a" fill-opacity="0.85" stroke="#e39a3a" stroke-width="0.8" stroke-linejoin="round"/>
<path d="M73.2 682.3L73.2 682.3L73.2 682.3L73.7 682.3L74.7 682.3L76.1 682.3L78.1 682.3L79.7 682.3L80.9 682.2L81.8 682.2L82.3 682.1L82.9 681.4L83.6 680.2L84.3 678.2L85.1 675.7L85.9 672.9L86.6 670.9L87.2 667.4L87.9 664.7L88.5 662.1L89.0 660.3L89.5 659.9L90.0 657.6L90.6 657.4L91.1 657.8L91.6 657.5L92.1 659.0L92.7 659.7L93.2 662.0L93.8 665.2L94.4 667.4L95.1 670.1L95.8 672.3L96.5 674.1L97.4 675.3L98.2 676.7L99.2 677.5L100.1 678.3L101.2 678.6L102.2 678.9L103.4 679.0L104.5 678.9L105.8 678.8L107.0 678.5L108.2 678.7L109.4 678.6L110.7 678.8L111.9 679.2L113.1 679.5L114.3 679.9L115.6 680.4L116.6 680.9L117.5 681.3L118.3 681.6L118.9 681.9L121.3 682.1L125.6 682.2L131.6 682.3L139.6 682.3L145.5 682.3L149.4 682.3L151.4 682.3L151.4 682.3L151.4 682.3Z" fill="#93c777" fill-opacity="0.85" stroke="#6bb04a" stroke-width="0.8" stroke-linejoin="round"/>
</g>
<rect x="73.2" y="603.7" width="78.2" height="78.7" fill="none" stroke="#333" stroke-width="1.25"/>
<path d="M157.1 682.4v2.4M162.66 682.4v1.5M168.21 682.4v1.5M171.46 682.4v1.5M173.77 682.4v1.5M175.55 682.4v2.4M181.11 682.4v1.5M186.66 682.4v1.5M189.91 682.4v1.5M192.22 682.4v1.5M194.01 682.4v2.4M199.56 682.4v1.5M205.12 682.4v1.5M208.37 682.4v1.5M210.67 682.4v1.5M212.46 682.4v2.4M218.02 682.4v1.5M223.57 682.4v1.5M226.82 682.4v1.5M229.13 682.4v1.5M230.92 682.4v2.4" stroke="#111" stroke-width=".75" fill="none"/>
<clipPath id="cJ1"><rect x="155.1" y="603.7" width="77.7" height="78.7"/></clipPath><g clip-path="url(#cJ1)">
<path d="M155.1 635.6L155.1 635.6L155.1 635.6L155.4 635.6L156.0 635.6L156.9 635.6L158.2 635.6L159.3 635.6L160.3 635.5L161.2 635.5L162.1 635.4L162.9 635.0L163.6 634.3L164.3 633.3L165.0 632.0L165.6 630.1L166.3 627.7L166.9 624.8L167.6 621.2L168.1 618.2L168.7 615.5L169.1 613.2L169.6 611.3L169.9 609.8L170.3 608.7L170.6 607.9L170.9 607.6L171.2 607.4L171.5 607.5L171.8 607.8L172.1 608.2L172.5 609.1L172.9 610.4L173.3 612.0L173.8 614.0L174.3 616.2L174.8 618.6L175.2 621.1L175.8 623.9L176.3 626.3L176.8 628.5L177.3 630.4L177.8 632.1L178.4 633.4L178.9 634.3L179.5 634.9L180.1 635.2L183.8 635.4L190.6 635.5L200.4 635.6L213.4 635.6L223.1 635.6L229.6 635.6L232.8 635.6L232.8 635.6L232.8 635.6Z" fill="#dadada" fill-opacity="1" stroke="#d0d0d0" stroke-width="0.8" stroke-linejoin="round"/>
<path d="M155.1 651.5L155.1 651.5L155.1 651.5L155.3 651.5L155.6 651.5L156.2 651.5L156.9 651.5L157.8 651.5L158.7 651.4L159.8 651.4L160.9 651.3L161.9 650.9L162.7 650.3L163.4 649.3L163.8 648.0L164.3 646.4L164.8 645.0L165.2 643.1L165.8 640.7L166.2 639.5L166.8 637.8L167.2 635.9L167.8 634.4L168.3 634.8L168.8 634.3L169.3 633.1L169.8 632.3L170.4 632.0L170.9 631.8L171.5 631.8L172.1 630.6L172.7 630.8L173.3 630.6L173.9 630.0L174.5 629.1L175.1 629.4L175.8 628.4L176.6 629.8L177.3 629.7L178.1 631.1L178.9 630.6L179.7 630.4L180.5 630.6L181.3 630.5L182.1 630.1L182.9 630.0L183.8 629.4L184.6 628.7L185.4 628.1L186.1 628.4L186.9 627.6L187.6 627.6L188.3 626.4L189.0 625.7L189.6 626.3L190.2 626.1L190.8 626.6L191.3 626.7L191.8 627.6L192.3 628.8L192.7 628.4L193.2 628.7L193.7 630.2L194.1 631.3L194.6 631.9L195.0 632.3L195.4 633.9L195.8 634.3L196.2 635.3L196.6 636.8L197.0 637.0L197.4 637.5L197.8 638.5L198.2 639.5L198.6 640.8L199.0 641.4L199.4 642.5L199.8 643.4L200.2 644.2L200.6 645.5L201.0 646.3L201.4 647.3L201.9 648.0L202.3 648.9L202.7 649.5L203.1 650.2L203.4 650.6L203.9 650.9L204.5 651.2L205.1 651.3L205.9 651.4L208.1 651.4L211.6 651.5L216.7 651.5L223.1 651.5L228.0 651.5L231.2 651.5L232.8 651.5L232.8 651.5L232.8 651.5Z" fill="#9174a8" fill-opacity="0.85" stroke="#5d2f78" stroke-width="0.8" stroke-linejoin="round"/>
<path d="M155.1 667.2L155.1 667.2L155.1 667.2L155.5 667.2L156.2 667.2L157.3 667.2L158.8 667.2L160.1 667.2L161.2 667.1L162.2 666.9L163.1 666.8L163.8 666.1L164.5 664.9L165.1 663.3L165.7 661.1L166.2 659.0L166.7 656.3L167.2 653.5L167.8 650.7L168.2 647.9L168.6 646.3L168.9 645.0L169.2 644.3L169.6 643.6L169.9 644.2L170.2 643.2L170.5 644.0L170.8 644.7L171.2 645.4L171.5 647.1L171.8 648.8L172.2 649.7L172.5 651.6L172.9 652.7L173.2 654.4L173.7 655.1L174.1 655.9L174.6 656.7L175.2 657.6L175.7 658.4L176.4 659.4L177.0 660.2L177.6 660.8L178.3 661.6L179.0 662.1L179.7 662.6L180.4 663.2L181.2 663.7L182.0 664.0L182.8 664.5L183.6 664.8L184.5 665.3L185.3 665.7L186.1 666.0L186.8 666.3L187.7 666.6L188.6 666.8L189.5 667.0L190.5 667.1L193.8 667.1L199.4 667.2L207.3 667.2L217.5 667.2L225.2 667.2L230.3 667.2L232.8 667.2L232.8 667.2L232.8 667.2Z" fill="#ebb36a" fill-opacity="0.85" stroke="#e39a3a" stroke-width="0.8" stroke-linejoin="round"/>
<path d="M155.1 682.3L155.1 682.3L155.1 682.3L155.4 682.3L156.0 682.3L156.9 682.3L158.2 682.3L159.3 682.3L160.3 682.2L161.2 682.2L162.1 682.1L162.8 681.6L163.5 680.7L164.1 679.4L164.7 677.6L165.2 675.7L165.7 672.8L166.2 670.3L166.8 667.3L167.2 664.0L167.7 661.8L168.1 660.4L168.4 659.0L168.8 657.3L169.2 657.4L169.6 657.8L169.9 658.5L170.3 658.2L170.8 660.2L171.2 662.1L171.8 662.3L172.3 664.5L172.9 666.8L173.6 668.4L174.3 670.3L175.0 672.2L175.6 673.3L176.2 674.4L176.7 675.0L177.3 676.0L177.8 676.9L178.4 677.6L179.1 678.3L179.7 678.9L180.4 679.5L181.1 680.3L181.9 680.8L182.6 681.2L183.4 681.5L184.1 681.8L184.9 682.0L188.4 682.2L194.6 682.3L203.5 682.3L215.2 682.3L224.0 682.3L229.9 682.3L232.8 682.3L232.8 682.3L232.8 682.3Z" fill="#93c777" fill-opacity="0.85" stroke="#6bb04a" stroke-width="0.8" stroke-linejoin="round"/>
</g>
<rect x="155.1" y="603.7" width="77.7" height="78.7" fill="none" stroke="#333" stroke-width="1.25"/>
<path d="M237.9 682.4v2.4M243.34 682.4v1.5M248.78 682.4v1.5M251.96 682.4v1.5M254.22 682.4v1.5M255.97 682.4v2.4M261.41 682.4v1.5M266.86 682.4v1.5M270.04 682.4v1.5M272.3 682.4v1.5M274.05 682.4v2.4M279.49 682.4v1.5M284.93 682.4v1.5M288.11 682.4v1.5M290.37 682.4v1.5M292.12 682.4v2.4M297.56 682.4v1.5M303 682.4v1.5M306.19 682.4v1.5M308.44 682.4v1.5M310.19 682.4v2.4" stroke="#111" stroke-width=".75" fill="none"/>
<clipPath id="cJ2"><rect x="235.9" y="603.7" width="76.1" height="78.7"/></clipPath><g clip-path="url(#cJ2)">
<path d="M235.9 635.6L235.9 635.6L235.9 635.6L236.3 635.6L237.0 635.6L238.2 635.6L239.7 635.6L241.1 635.6L242.2 635.5L243.2 635.5L244.0 635.4L244.7 635.0L245.4 634.3L246.1 633.3L246.6 632.0L247.2 630.5L247.7 628.8L248.2 627.0L248.8 625.0L249.3 623.2L249.8 621.7L250.3 620.3L250.8 619.2L251.3 618.5L251.8 618.2L252.3 618.4L252.8 619.1L253.2 620.0L253.7 621.3L254.1 623.0L254.4 625.0L254.8 626.9L255.1 628.6L255.5 630.2L255.8 631.8L256.2 633.0L256.7 633.9L257.3 634.6L258.0 635.0L261.8 635.3L268.8 635.5L278.9 635.6L292.1 635.6L302.1 635.6L308.7 635.6L312.0 635.6L312.0 635.6L312.0 635.6Z" fill="#dadada" fill-opacity="1" stroke="#d0d0d0" stroke-width="0.8" stroke-linejoin="round"/>
<path d="M235.9 651.5L235.9 651.5L235.9 651.5L236.7 651.5L238.2 651.5L240.4 651.5L243.5 651.5L245.9 651.5L247.8 651.4L249.1 651.4L249.9 651.3L250.6 650.6L251.2 649.3L251.8 647.4L252.2 644.9L252.7 642.1L253.2 640.2L253.7 637.8L254.1 634.8L254.6 633.2L255.0 631.1L255.4 629.9L255.9 628.8L256.3 628.0L256.7 626.6L257.1 626.0L257.4 625.5L257.9 625.5L258.4 624.4L258.9 625.0L259.6 624.9L260.2 626.0L260.8 626.4L261.3 625.3L261.9 626.1L262.4 626.4L263.0 625.9L263.6 625.5L264.1 626.4L264.7 626.6L265.3 626.3L265.9 626.4L266.6 626.8L267.1 628.0L267.6 627.1L268.1 628.5L268.4 627.9L268.8 629.9L269.1 630.3L269.4 631.2L269.6 632.0L269.9 631.9L270.3 633.7L270.8 633.9L271.2 635.0L271.7 635.7L272.2 636.0L272.7 636.6L273.1 637.3L273.6 638.0L274.0 638.2L274.4 638.1L274.9 639.6L275.3 640.0L275.7 640.9L276.1 640.7L276.4 642.3L276.9 642.8L277.4 643.8L277.9 644.3L278.6 645.4L279.2 646.4L279.8 647.5L280.3 648.3L280.9 649.3L281.5 650.1L282.2 650.7L282.9 651.1L283.8 651.2L286.1 651.4L289.9 651.5L295.1 651.5L301.9 651.5L306.9 651.5L310.3 651.5L312.0 651.5L312.0 651.5L312.0 651.5Z" fill="#9174a8" fill-opacity="0.85" stroke="#5d2f78" stroke-width="0.8" stroke-linejoin="round"/>
<path d="M235.9 667.2L235.9 667.2L235.9 667.2L236.3 667.2L237.0 667.2L238.2 667.2L239.7 667.2L241.1 667.2L242.2 667.1L243.2 667.1L244.0 667.0L244.8 666.4L245.5 665.5L246.2 664.2L247.0 662.7L247.6 660.4L248.3 658.1L248.9 655.7L249.6 652.4L250.1 651.2L250.7 649.3L251.1 648.0L251.6 647.0L252.0 646.0L252.5 646.0L253.1 646.5L253.6 646.5L254.2 647.7L254.7 648.6L255.2 649.3L255.8 650.3L256.2 650.6L256.7 651.4L257.1 651.6L257.4 651.8L257.9 652.1L258.4 652.8L258.9 652.7L259.6 654.0L260.2 654.1L260.8 654.8L261.3 655.4L261.9 656.3L262.4 657.0L263.0 657.4L263.6 658.5L264.1 658.9L264.7 659.9L265.3 660.7L265.9 661.3L266.6 662.2L267.2 662.8L267.9 663.9L268.7 664.4L269.4 665.1L270.2 665.6L271.0 666.0L271.9 666.4L272.7 666.6L273.7 666.8L274.9 667.0L276.2 667.1L277.8 667.1L280.9 667.2L285.6 667.2L292.0 667.2L300.0 667.2L306.0 667.2L310.0 667.2L312.0 667.2L312.0 667.2L312.0 667.2Z" fill="#ebb36a" fill-opacity="0.85" stroke="#e39a3a" stroke-width="0.8" stroke-linejoin="round"/>
<path d="M235.9 682.3L235.9 682.3L235.9 682.3L236.3 682.3L237.0 682.3L238.2 682.3L239.7 682.3L241.1 682.3L242.2 682.2L243.2 682.2L244.0 682.1L244.8 681.8L245.5 681.1L246.2 680.1L247.0 678.8L247.7 677.3L248.4 675.4L249.1 672.9L249.9 670.2L250.6 667.4L251.2 665.1L251.8 664.2L252.4 663.2L252.9 662.6L253.4 662.6L253.9 662.2L254.3 663.5L254.8 663.5L255.2 665.0L255.6 666.5L255.9 667.3L256.3 669.7L256.7 670.6L257.1 672.3L257.4 673.8L257.8 675.2L258.3 676.5L258.8 677.2L259.2 677.8L259.8 678.8L260.4 679.2L261.0 679.8L261.7 680.3L262.4 680.7L263.1 681.1L263.9 681.5L264.8 681.8L268.3 682.1L274.4 682.2L283.2 682.3L294.8 682.3L303.4 682.3L309.1 682.3L312.0 682.3L312.0 682.3L312.0 682.3Z" fill="#93c777" fill-opacity="0.85" stroke="#6bb04a" stroke-width="0.8" stroke-linejoin="round"/>
</g>
<rect x="235.9" y="603.7" width="76.1" height="78.7" fill="none" stroke="#333" stroke-width="1.25"/>
<text x="89" y="696" font-size="10" stroke="#111" stroke-width="0.12" textLength="20" lengthAdjust="spacingAndGlyphs">IL-10</text>
<line x1="112.3" y1="692.9" x2="274.6" y2="692.9" stroke="#111" stroke-width="1.2"/>
<path d="M280.2 692.9L273.4 696L274.6 692.9L273.4 689.8Z" fill="#111" stroke="#111" stroke-width=".3" stroke-linejoin="round"/>
<line x1="365.3" y1="594.22" x2="365.3" y2="682.1" stroke="#111" stroke-width="1.3"/>
<line x1="364.7" y1="681.5" x2="487.7" y2="681.5" stroke="#111" stroke-width="1.3"/>
<line x1="362.3" y1="681.5" x2="365.3" y2="681.5" stroke="#111" stroke-width="1.1"/>
<text x="358.7" y="684.8" font-size="9.2" text-anchor="end" fill="#222" stroke="#222" stroke-width="0.12" textLength="4.9" lengthAdjust="spacingAndGlyphs">0</text>
<line x1="362.3" y1="653.24" x2="365.3" y2="653.24" stroke="#111" stroke-width="1.1"/>
<text x="358.7" y="656.54" font-size="9.2" text-anchor="end" fill="#222" stroke="#222" stroke-width="0.12" textLength="14.7" lengthAdjust="spacingAndGlyphs">200</text>
<line x1="362.3" y1="624.98" x2="365.3" y2="624.98" stroke="#111" stroke-width="1.1"/>
<text x="358.7" y="628.28" font-size="9.2" text-anchor="end" fill="#222" stroke="#222" stroke-width="0.12" textLength="14.7" lengthAdjust="spacingAndGlyphs">400</text>
<line x1="362.3" y1="596.72" x2="365.3" y2="596.72" stroke="#111" stroke-width="1.1"/>
<text x="358.7" y="600.02" font-size="9.2" text-anchor="end" fill="#222" stroke="#222" stroke-width="0.12" textLength="14.7" lengthAdjust="spacingAndGlyphs">600</text>
<line x1="384" y1="681.5" x2="384" y2="684" stroke="#111" stroke-width="1"/>
<line x1="425" y1="681.5" x2="425" y2="684" stroke="#111" stroke-width="1"/>
<line x1="466" y1="681.5" x2="466" y2="684" stroke="#111" stroke-width="1"/>
<rect x="369.4" y="654.65" width="7.2" height="26.85" fill="#fff" stroke="#111" stroke-width="1.25"/>
<line x1="373" y1="654.65" x2="373" y2="653.24" stroke="#111" stroke-width="0.9"/>
<line x1="370.8" y1="653.24" x2="375.2" y2="653.24" stroke="#111" stroke-width="0.9"/>
<circle cx="370.5" cy="649.71" r="1.65" fill="#4e1f68"/>
<circle cx="375" cy="651.12" r="1.65" fill="#4e1f68"/>
<circle cx="370.5" cy="653.24" r="1.65" fill="#4e1f68"/>
<circle cx="373" cy="653.95" r="1.65" fill="#4e1f68"/>
<circle cx="375.5" cy="655.36" r="1.65" fill="#4e1f68"/>
<circle cx="370.5" cy="656.77" r="1.65" fill="#4e1f68"/>
<circle cx="373" cy="657.48" r="1.65" fill="#4e1f68"/>
<circle cx="375.5" cy="658.89" r="1.65" fill="#4e1f68"/>
<circle cx="372" cy="660.3" r="1.65" fill="#4e1f68"/>
<rect x="380.7" y="655.36" width="6.8" height="26.14" fill="#fff" stroke="#111" stroke-width="1.25"/>
<line x1="384.1" y1="655.36" x2="384.1" y2="653.95" stroke="#111" stroke-width="0.9"/>
<line x1="381.9" y1="653.95" x2="386.3" y2="653.95" stroke="#111" stroke-width="0.9"/>
<circle cx="382.1" cy="651.83" r="1.65" fill="#e8901e"/>
<circle cx="386.1" cy="652.53" r="1.65" fill="#e8901e"/>
<circle cx="384.1" cy="654.65" r="1.65" fill="#e8901e"/>
<circle cx="382.1" cy="656.77" r="1.65" fill="#e8901e"/>
<circle cx="386.1" cy="657.48" r="1.65" fill="#e8901e"/>
<circle cx="384.1" cy="658.19" r="1.65" fill="#e8901e"/>
<rect x="391.6" y="653.95" width="7.3" height="27.55" fill="#fff" stroke="#111" stroke-width="1.25"/>
<line x1="395.25" y1="653.95" x2="395.25" y2="653.24" stroke="#111" stroke-width="0.9"/>
<line x1="393.05" y1="653.24" x2="397.45" y2="653.24" stroke="#111" stroke-width="0.9"/>
<circle cx="393.25" cy="652.53" r="1.65" fill="#6ab43e"/>
<circle cx="397.25" cy="653.24" r="1.65" fill="#6ab43e"/>
<circle cx="395.25" cy="653.95" r="1.65" fill="#6ab43e"/>
<circle cx="393.75" cy="654.94" r="1.65" fill="#6ab43e"/>
<circle cx="396.75" cy="654.37" r="1.65" fill="#6ab43e"/>
<rect x="410.2" y="629.78" width="7.6" height="51.72" fill="#fff" stroke="#111" stroke-width="1.25"/>
<line x1="414" y1="629.78" x2="414" y2="625.55" stroke="#111" stroke-width="0.9"/>
<line x1="411.8" y1="625.55" x2="416.2" y2="625.55" stroke="#111" stroke-width="0.9"/>
<circle cx="413.7" cy="608.31" r="1.65" fill="#4e1f68"/>
<circle cx="413.5" cy="613.96" r="1.65" fill="#4e1f68"/>
<circle cx="415.8" cy="617.35" r="1.65" fill="#4e1f68"/>
<circle cx="411.8" cy="621.16" r="1.65" fill="#4e1f68"/>
<circle cx="412.6" cy="624.41" r="1.65" fill="#4e1f68"/>
<circle cx="415.2" cy="624.41" r="1.65" fill="#4e1f68"/>
<circle cx="414" cy="626.39" r="1.65" fill="#4e1f68"/>
<circle cx="414" cy="633.46" r="1.65" fill="#4e1f68"/>
<circle cx="411.5" cy="637.7" r="1.65" fill="#4e1f68"/>
<circle cx="416.5" cy="639.11" r="1.65" fill="#4e1f68"/>
<circle cx="415" cy="641.94" r="1.65" fill="#4e1f68"/>
<circle cx="413" cy="646.17" r="1.65" fill="#4e1f68"/>
<rect x="421" y="653.24" width="7.3" height="28.26" fill="#fff" stroke="#111" stroke-width="1.25"/>
<line x1="424.65" y1="653.24" x2="424.65" y2="648.29" stroke="#111" stroke-width="0.9"/>
<line x1="422.45" y1="648.29" x2="426.85" y2="648.29" stroke="#111" stroke-width="0.9"/>
<circle cx="424.65" cy="636.28" r="1.65" fill="#e8901e"/>
<circle cx="422.65" cy="647.59" r="1.65" fill="#e8901e"/>
<circle cx="426.65" cy="648.29" r="1.65" fill="#e8901e"/>
<circle cx="424.65" cy="656.07" r="1.65" fill="#e8901e"/>
<circle cx="422.65" cy="664.54" r="1.65" fill="#e8901e"/>
<circle cx="426.65" cy="668.08" r="1.65" fill="#e8901e"/>
<rect x="432" y="668.78" width="7.2" height="12.72" fill="#fff" stroke="#111" stroke-width="1.25"/>
<line x1="435.6" y1="668.78" x2="435.6" y2="667.09" stroke="#111" stroke-width="0.9"/>
<line x1="433.4" y1="667.09" x2="437.8" y2="667.09" stroke="#111" stroke-width="0.9"/>
<circle cx="433.6" cy="665.96" r="1.65" fill="#6ab43e"/>
<circle cx="437.6" cy="666.66" r="1.65" fill="#6ab43e"/>
<circle cx="435.6" cy="668.08" r="1.65" fill="#6ab43e"/>
<circle cx="433.6" cy="669.49" r="1.65" fill="#6ab43e"/>
<circle cx="437.6" cy="670.9" r="1.65" fill="#6ab43e"/>
<circle cx="435.6" cy="671.61" r="1.65" fill="#6ab43e"/>
<rect x="451.4" y="637.7" width="7.2" height="43.8" fill="#fff" stroke="#111" stroke-width="1.25"/>
<line x1="455" y1="637.7" x2="455" y2="634.16" stroke="#111" stroke-width="0.9"/>
<line x1="452.8" y1="634.16" x2="457.2" y2="634.16" stroke="#111" stroke-width="0.9"/>
<circle cx="453" cy="622.15" r="1.65" fill="#4e1f68"/>
<circle cx="457" cy="623.57" r="1.65" fill="#4e1f68"/>
<circle cx="455" cy="624.98" r="1.65" fill="#4e1f68"/>
<circle cx="453" cy="629.22" r="1.65" fill="#4e1f68"/>
<circle cx="457" cy="632.04" r="1.65" fill="#4e1f68"/>
<circle cx="455" cy="636.28" r="1.65" fill="#4e1f68"/>
<circle cx="453" cy="639.11" r="1.65" fill="#4e1f68"/>
<circle cx="457" cy="641.94" r="1.65" fill="#4e1f68"/>
<circle cx="455" cy="646.17" r="1.65" fill="#4e1f68"/>
<circle cx="454" cy="653.24" r="1.65" fill="#4e1f68"/>
<rect x="462.7" y="656.07" width="6.8" height="25.43" fill="#fff" stroke="#111" stroke-width="1.25"/>
<line x1="466.1" y1="656.07" x2="466.1" y2="653.95" stroke="#111" stroke-width="0.9"/>
<line x1="463.9" y1="653.95" x2="468.3" y2="653.95" stroke="#111" stroke-width="0.9"/>
<circle cx="464.6" cy="649" r="1.65" fill="#e8901e"/>
<circle cx="467.6" cy="653.24" r="1.65" fill="#e8901e"/>
<circle cx="466.1" cy="656.07" r="1.65" fill="#e8901e"/>
<circle cx="464.6" cy="658.89" r="1.65" fill="#e8901e"/>
<rect x="473.6" y="663.13" width="6.8" height="18.37" fill="#fff" stroke="#111" stroke-width="1.25"/>
<line x1="477" y1="663.13" x2="477" y2="662" stroke="#111" stroke-width="0.9"/>
<line x1="474.8" y1="662" x2="479.2" y2="662" stroke="#111" stroke-width="0.9"/>
<circle cx="475.5" cy="660.3" r="1.65" fill="#6ab43e"/>
<circle cx="478.5" cy="661.72" r="1.65" fill="#6ab43e"/>
<circle cx="477" cy="663.13" r="1.65" fill="#6ab43e"/>
<circle cx="475.5" cy="663.84" r="1.65" fill="#6ab43e"/>
<circle cx="478.5" cy="664.54" r="1.65" fill="#6ab43e"/>
<line x1="413" y1="594.4" x2="435" y2="594.4" stroke="#111" stroke-width="1.1"/>
<path d="M420.70 589.65L421.08 590.57L422.08 590.65L421.32 591.30L421.55 592.27L420.70 591.75L419.85 592.27L420.08 591.30L419.32 590.65L420.32 590.57Z" fill="#222" stroke="#222" stroke-width=".35" stroke-linejoin="round"/>
<path d="M424.00 589.65L424.38 590.57L425.38 590.65L424.62 591.30L424.85 592.27L424.00 591.75L423.15 592.27L423.38 591.30L422.62 590.65L423.62 590.57Z" fill="#222" stroke="#222" stroke-width=".35" stroke-linejoin="round"/>
<path d="M427.30 589.65L427.68 590.57L428.68 590.65L427.92 591.30L428.15 592.27L427.30 591.75L426.45 592.27L426.68 591.30L425.92 590.65L426.92 590.57Z" fill="#222" stroke="#222" stroke-width=".35" stroke-linejoin="round"/>
<line x1="410.7" y1="603.9" x2="421.9" y2="603.9" stroke="#111" stroke-width="1.1"/>
<path d="M416.30 599.15L416.68 600.07L417.68 600.15L416.92 600.80L417.15 601.77L416.30 601.25L415.45 601.77L415.68 600.80L414.92 600.15L415.92 600.07Z" fill="#222" stroke="#222" stroke-width=".35" stroke-linejoin="round"/>
<line x1="425.6" y1="603.9" x2="437.7" y2="603.9" stroke="#111" stroke-width="1.1"/>
<path d="M431.65 599.15L432.03 600.07L433.03 600.15L432.27 600.80L432.50 601.77L431.65 601.25L430.80 601.77L431.03 600.80L430.27 600.15L431.27 600.07Z" fill="#222" stroke="#222" stroke-width=".35" stroke-linejoin="round"/>
<line x1="453.6" y1="594.4" x2="475.2" y2="594.4" stroke="#111" stroke-width="1.1"/>
<path d="M461.10 589.65L461.48 590.57L462.48 590.65L461.72 591.30L461.95 592.27L461.10 591.75L460.25 592.27L460.48 591.30L459.72 590.65L460.72 590.57Z" fill="#222" stroke="#222" stroke-width=".35" stroke-linejoin="round"/>
<path d="M464.40 589.65L464.78 590.57L465.78 590.65L465.02 591.30L465.25 592.27L464.40 591.75L463.55 592.27L463.78 591.30L463.02 590.65L464.02 590.57Z" fill="#222" stroke="#222" stroke-width=".35" stroke-linejoin="round"/>
<path d="M467.70 589.65L468.08 590.57L469.08 590.65L468.32 591.30L468.55 592.27L467.70 591.75L466.85 592.27L467.08 591.30L466.32 590.65L467.32 590.57Z" fill="#222" stroke="#222" stroke-width=".35" stroke-linejoin="round"/>
<line x1="451.2" y1="603.9" x2="462.7" y2="603.9" stroke="#111" stroke-width="1.1"/>
<path d="M455.30 599.15L455.68 600.07L456.68 600.15L455.92 600.80L456.15 601.77L455.30 601.25L454.45 601.77L454.68 600.80L453.92 600.15L454.92 600.07Z" fill="#222" stroke="#222" stroke-width=".35" stroke-linejoin="round"/>
<path d="M458.60 599.15L458.98 600.07L459.98 600.15L459.22 600.80L459.45 601.77L458.60 601.25L457.75 601.77L457.98 600.80L457.22 600.15L458.22 600.07Z" fill="#222" stroke="#222" stroke-width=".35" stroke-linejoin="round"/>
<line x1="468.3" y1="603.9" x2="479.8" y2="603.9" stroke="#111" stroke-width="1.1"/>
<path d="M470.75 599.15L471.13 600.07L472.13 600.15L471.37 600.80L471.60 601.77L470.75 601.25L469.90 601.77L470.13 600.80L469.37 600.15L470.37 600.07Z" fill="#222" stroke="#222" stroke-width=".35" stroke-linejoin="round"/>
<path d="M474.05 599.15L474.43 600.07L475.43 600.15L474.67 600.80L474.90 601.77L474.05 601.25L473.20 601.77L473.43 600.80L472.67 600.15L473.67 600.07Z" fill="#222" stroke="#222" stroke-width=".35" stroke-linejoin="round"/>
<path d="M477.35 599.15L477.73 600.07L478.73 600.15L477.97 600.80L478.20 601.77L477.35 601.25L476.50 601.77L476.73 600.80L475.97 600.15L476.97 600.07Z" fill="#222" stroke="#222" stroke-width=".35" stroke-linejoin="round"/>
<text x="378.7" y="694.5" font-size="8.3" fill="#222" stroke="#222" stroke-width="0.12" textLength="10.5" lengthAdjust="spacingAndGlyphs">M&#981;</text>
<text x="402" y="696" font-size="9" fill="#222" stroke="#222" stroke-width="0.12" textLength="24.38" lengthAdjust="spacingAndGlyphs">MHCII</text>
<text x="426.93" y="692.76" font-size="6.3" fill="#222" stroke="#222" stroke-width="0.12" textLength="8.56" lengthAdjust="spacingAndGlyphs">low</text>
<text x="436.04" y="696" font-size="9" fill="#222" stroke="#222" stroke-width="0.12" textLength="11.96" lengthAdjust="spacingAndGlyphs">DC</text>
<text x="457.4" y="696" font-size="8.3" fill="#222" stroke="#222" stroke-width="0.12" textLength="17.4" lengthAdjust="spacingAndGlyphs">cDC</text>
<text x="339" y="667" font-size="10" fill="#222" stroke="#222" stroke-width="0.12" textLength="58.6" lengthAdjust="spacingAndGlyphs" transform="rotate(-90 339 667)">IL-10 (GFP) GMFI</text>
</svg></div></body></html>
